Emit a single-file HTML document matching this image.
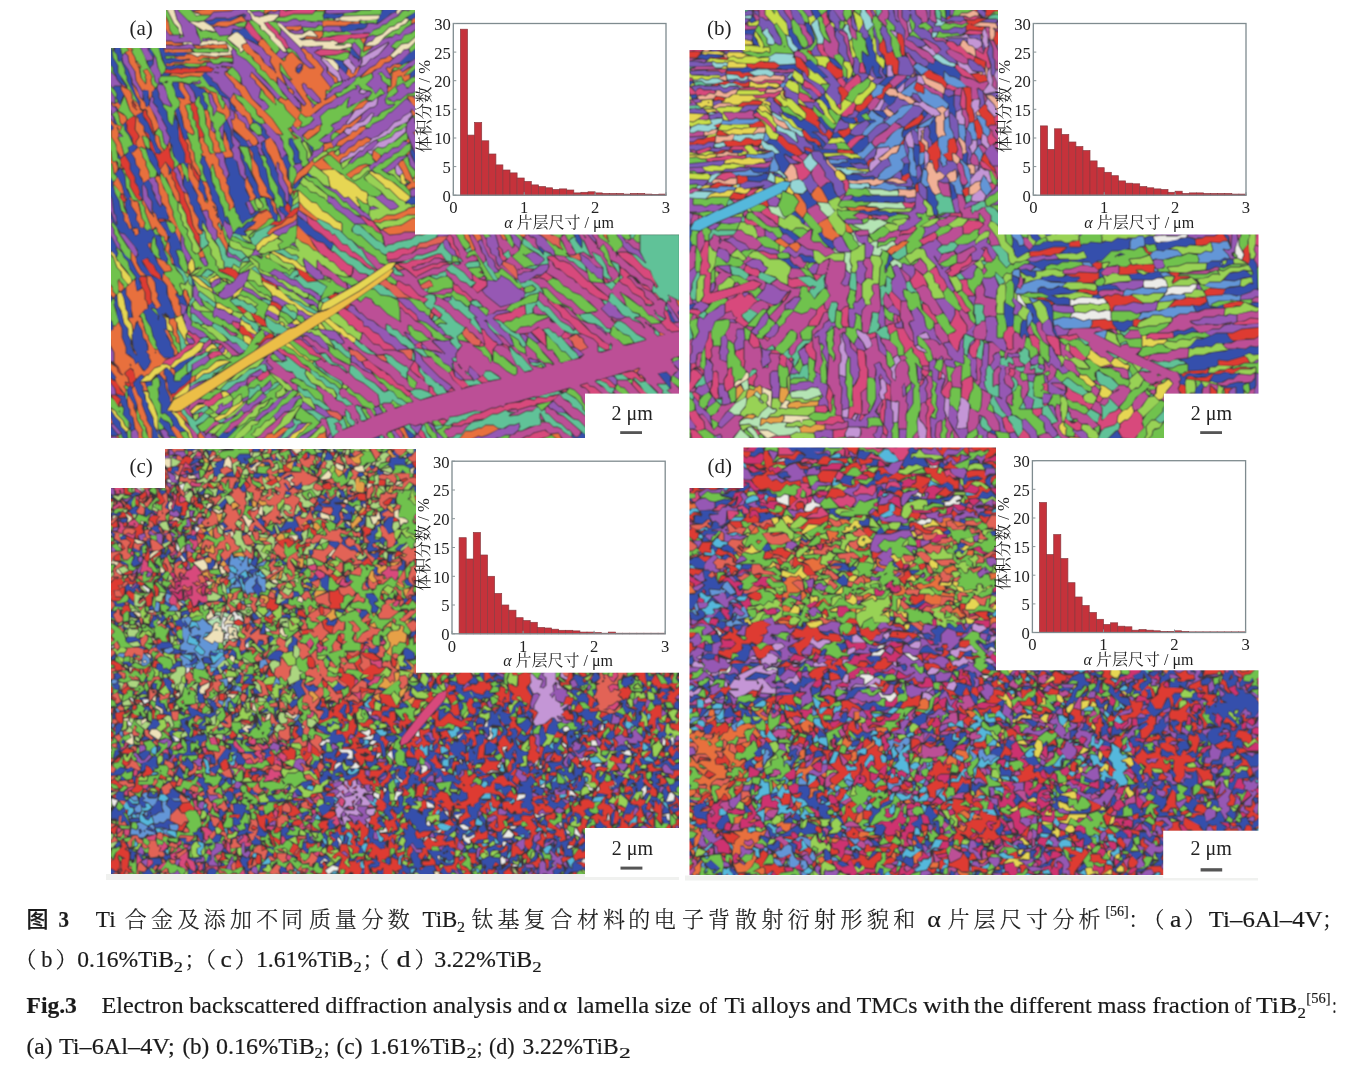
<!DOCTYPE html>
<html><head><meta charset="utf-8"><title>Fig.3</title><style>
html,body{margin:0;padding:0;background:#fff;}
body{width:1355px;height:1067px;position:relative;overflow:hidden;}
#fig{position:absolute;left:0;top:0;}
.ln{position:absolute;white-space:nowrap;font-family:"Liberation Serif","Noto Serif CJK SC",serif;font-size:21px;color:#1a1a1a;line-height:1;}
.s{position:absolute;white-space:nowrap;}
.cj{font-family:"Liberation Serif","Noto Serif CJK SC",serif;}
.hei{font-family:"Liberation Sans","Noto Sans CJK SC",sans-serif;}
sub{font-size:14px;vertical-align:-4px;line-height:0;}
sup{font-size:14px;vertical-align:8px;line-height:0;}
</style></head>
<body>
<svg id="fig" width="1355" height="1067" viewBox="0 0 1355 1067">
<rect x="106" y="874" width="573" height="6" fill="#f0f1ef"/><rect x="685" y="875.5" width="573" height="5" fill="#f0f1ef"/><g><clipPath id="cpa"><rect x="111" y="10" width="568.0" height="428.0"/></clipPath><filter id="bla" x="0" y="0" width="1" height="1"><feConvolveMatrix order="3" kernelMatrix="1 2 1 2 4 2 1 2 1" edgeMode="duplicate"/></filter><g clip-path="url(#cpa)" filter="url(#bla)"><rect x="107" y="6" width="576.0" height="436.0" fill="#3a3438"/><g transform="translate(108.5,7.5)"><path fill="#e8703c" d="M9 428l-1 2 3 3zM0 427l0 6 2 0-2-3 3-1zM443 427l8 6 2-1 4 1-4-1-3-6zM92 425l-2 2 0 3 3 3 5 0zM217 424l-2 2-4 1-3 4-5 2 9 0 2-2 1 2 4 0-2-4zM291 421l5 7 1 5 2-1 7 1 0-3-3 2-3-1-5-11zM180 421l-5-1-10 8-1-2-5 1-3 4-7 2 16 0zM64 419l-1 2 7 11 6 1-6-10-4-4zM391 421l-2 0-4-3-8 0-4 3-3 0-7 3-6 0-7 9 10 0 10-5 3 1 6-2zM0 409l0 6 4 1-2-6zM68 405l12 11-3-6-4-4 0-2zM12 395l-1 4 2-1zM20 388l-1 3 1 8 2 3 0 5 3 3 2 11 3 4 0 6 1 2 5 0-3-4 0-5 1-1-6-11 0-5-3-6 0-4zM0 383l0 4 2 1zM26 379l-2 2 0 2 5 14 1 8 2 3 0 3 3 3 0 2 3 4 2 10 2 3 2 0-1-2 0-10-5-8 0-3-5-13 0-5-4-5zM32 375l3 4 0 4 4 0-3-8zM87 368l-4 2-1 6 4-3zM55 362l-4 4 6 7 1 8 4 9 0 4 1 0 1-3-5-9 0-5-2-4 0-4-2-2zM62 360l0 3 4 5 0 3 0-8zM572 349l1 2 0-2zM26 343l0 2 2 2zM551 325l1 3 4-1zM56 322l7 13 0 3 3 5 0 5 3-2-1-4-4-6 0-3-5-10zM61 312l0 4 3 3 1 3 0 5 3 3 0 4 3 2-1-7-2-4 0-10-2-2 0-2zM568 292l2 6 3 2-2-6zM572 283l1 4 0-4zM76 282l-1 5 4 8 0 3 2-4 0-3-2-3-1-5zM0 275l0 10 5 5 2-3-3-3 0-3zM26 272l-8 8 0 7 5 7 0 7 2 9-5 1 4 6 1 6 2-8 2-2 1 1 0 2 4 7 1 7 3 3 2 5 0 5-2 1 3 3 0 3 2 4-3 6-4 4-2-1-4-6 0-2-3 2-2-5-8-6 0-6-4-10 0-9-3-6-3 4-2 0 0 3-5 3 0 5 2 2 0 5 4 8 0 10 4 4 3 7-1 1-3-3-1-4-5-3-2-3-1 0 0 5 8 11-1 1 1 4 8 11 1-1 0-3-2-3 2-2-1-2 1-1 3 1-1-5-3-3 0-2 6-5 3 2 2 9 1 0 4-4 2 0 2 2 2-2 2 0 6-7 6-2 5-6 3-1-4 0-5-5-2-4-2 1-7-10-1-5-2-2-2-6 0-3-2-3 0-3-3-2 6-7 3-1-1-7-2-2 0-7-2-4-5 3-1-1zM12 367l1-1 2 1-1 1zM21 357l1-1 1 2-1 1zM46 345l1-1 1 1-1 1zM11 272l-1 1 0 9 2 2 3-3 0-2-4-5zM55 266l-1 6 5 6 1 11 3 5 2 8 3 6 2 1 3-2-1-1 0-7-2-2 0-5-3-4 0-2 1-1 1 1-9-15zM80 262l-1 3 2 2zM46 248l2 2 2 6 6 8 7-1-2-5-3-1-2-3-7-3zM23 244l0 8 6 12 3 4 5 0 2 2 0 5 4 10 0 7 4 6 0 2 2 1 3-3-4-7 1-4-2-3-1-9-4-6-4 0-6-6-4-7-1-6zM94 243l-4 3 2 4 4-1zM572 236l0 10 1 1 0-10zM40 236l0 2 4 7-2-3 0-5 1-1zM570 225l3 3 0-3zM521 226l4-1-4 0zM495 225l1 4 4 5-2-4 0-4zM410 225l2 3 4 1 1-1-1-3zM391 225l4 7 3 0-4-7zM364 225l5 9 2-2 2 0-1-4-3-3zM354 225l2 2 1 4 4 4 2 7 2 1 1-2-7-16zM189 218l-1 12 5 4 7 3 5 5 5 2-5-6-4-8zM320 225l-11 0-1-1 0-13-4 0-11 7-9 1-10 3 7 5 11-1 4-2 11 0 4 1 2 2zM189 205l-5 5-5 1-6 6-10 4-4 5 2 1 5-4 19-9 3-3 0-5zM14 204l2 4 0 5 3 3 2 5 2 0 3 3 1 4 3-2-1-5-5 1-1-1-4-14zM162 206l-3-3-6 3-3 0-6 7 4 1-2 3-10 7 5-2 7 0 9-7 3-4 4-1zM308 198l-2 2-6 1-2 2-12 5-8 0-6 4-3 1-1-1-3 1 0 1 7 1 3-2 17-2 7-4 8 0 1-1zM191 195l0 6-1 1 17 11 3-1-14-11zM15 195l2 7-1-7zM34 193l0 3 3 4 0 4 7 18 3-3 2 2 0 3 4 4 3 1 0 3 3 3-2 7 5 7 1 6 2 2-1-5-4-8 1-4-1-5-2-1 1-5-2-5-8-11-2-6-3-3 0-2 1 4-1 2-3-3-6-12zM44 208l1-1 1 2-1 1zM22 190l-1 1 2 2 0 5 6 9-1 5 3 4 1 4 3 0 1-5-3-4-4-17-4 0zM16 188l0 2 2 2zM76 185l1 7 5 11 3 15 4 7 3 2 2-2-4-4-1-3 1-6-5-8-1-5-3-3 0-4-2-5zM139 170l-2 3 0 6 5 11-1 2 1 1 3-1 2-3-3-4 0-3-5-9zM9 170l-4 6 8 10 2 0-2-8zM48 169l-1 2 3 5 1 10 2 3 0 5 5 6 0 3 3 7-1 3-4-1 5 2 1-1 6 7-1 4 5 11 0-9-8-18 0-4-4-9-1-8-4-6-4-12zM60 213l1-1 1 1-1 1zM12 158l0 2 3 1zM262 158l-5-1-7 2-12 8 3 3 2 0 3-3 5-2 4-5 4-2zM69 159l3 5 2 9 1-6-3-10zM80 156l0 13 10 19-1 5 3 4 2 6 4-1 2 1 1 7 3 4 1 5 4 4 0 6 2 1 7 12 0 5 1-10-3-6-2-9-1 2-4-6 0-2 2-2 2 5 0-3-4-8-2-10-4-5 0-4-2-3 0-4-3-7-4-1 3 6 0 4 3 9-1 3-3-2-2-7-5-6 1-1 0-5-5-7-1-5-2-2-1-5zM111 226l1-1 1 1-1 1zM108 209l1-1 1 2-1 1zM108 205l1 1-1 3-1-1zM106 203l1-1 1 1-1 1zM105 200l1-1 1 2-1 1zM104 199l1-1 1 1-1 1zM57 155l-5 7 1 3 2 2 0 2 3 1 10 23 3 1-1-8-4-7 0-4-3-4 0-4-1-1-1 2-1-1 0-5zM292 154l-2 3 4 6 3 8 6 4-5 4 2 3 4-2 4 0 0-13-2 2 2 5-3 1-10-22zM302 143l-4 4 2 0zM265 143l-1 7 4 4 4-5-1-2zM0 141l1 3-1 11 4 1 2 10 2-2 1-4-2-6-2 1-2-2-1-9zM140 140l3 8 1 17 6 13 0 5 2 5 9 2 2 2 0 4 2 3 1 5 3 3-2-5 0-5-4-5 0-2-5-5 0-4-7-12-2-10-5-8 0-5zM223 135l-8 2 1 2-1 5 6-4 4 0zM61 135l-1 1 1 6 1-2zM78 132l-1 1 3 4 0 6 2 2 0 5 2 4 0 3 7 11 1-1-2-7-4-6-1-9-3-4 0-4-2-5zM300 131l-2 3 3 1zM262 132l-4-2-5 3-3 0-4 5-6 3-4 5-3 0-4 3-4-3 1-2-3 0-17 12-2-2 0-2-3 4-12 10-4 11 8-8 5-3 7-9 7 5 10 0 2-1-10-9 5-5 3 0 10 9-1-3 3-3 5-2 3-4 4 0 5-5 4-1 3-3 3-1zM162 130l-5 3 0 5 2 6 3 4 6 13 0-6 1-1 2 2 0 5 4 6 0 4 5 9 0 3 2 4 2-4-2-3 0-5-3-3-1-3 0-6-4-10-2-2-4-12zM47 127l0 6 3 7 3 3 0 2 2-2-3-4-2-10zM183 126l3 5 4 0-3-1zM305 125l2 2 1 6 0-9zM116 124l-1 11 3 9-4 1 3 5 7-1 0-3-3-4-1-7-2-3zM180 121l2 3 2 0-2-3zM256 119l-5 1-3 4-4 0-3 4-11 6-2 4 5 0 6-5 5-1 13-11zM213 117l-5 2-3 3-5 1-5 5 4 4 12-9 0-3zM0 110l1 5 4 4 0 3-2 1 0 6 5 8 0 5 5 8 2-3-3-11-3-5 1-4-1-5 1-1 1 3 2-5-7-2zM8 120l1-1 1 2-1 1zM253 108l-12 9-6 1-3 4-5 2 5 2 6-6 6-1 8-8zM126 105l1 5-2 3-2-1 2 9 13 12 3-1 1 3 3 3 3-1 1-3-2-4-10-10-1-4-7-5-1-4zM67 104l-1 2 4 9-3-7zM9 104l2 4 1 7 2 2 4-4-1-4zM96 103l2 8 0 6 3 5 0 6 4 8 0 7 2 2-5 2-2-3-1-5-4-5 0-4-3 0-1 4 2 3 0 4 2 4-2 2 4 2 0 3 5 10 1-5 1-1 1 1 3 12 3 3 2 10 3 3 2 8 3 4 0 6 4-4 0-3-5-10 0-7-3-4 1-1-1-4-3-4 0-3-4-5 0-6-4-5 1-2 5 0 0-2-2-4 0-4-3-3 0-5-5-5 0-9-3-10zM303 102l1 5 1 1 2-1 0-2zM3 95l2 4 1-1 2 1 2 3 2-4-3-3-3 2zM261 94l-4-1-6 3-5 5-2 4 3-3 7-2 5-6zM258 91l2-1-2 0zM299 89l5 8 4 3-1-8-3-3zM125 87l-3 5 1 3 4 4 1 3 6 6 2 0 2 2 3 7 1 0 2-3-3-8-4-3-1-3-9-9 0-2zM181 81l-1 1 1 2 4 3-1-4zM91 80l5 1 3 4 3 0 2 2 2 7 3 5-1 4 7 3 2 2 0 4 1 0 3-4 0-4-4-8-1 5-2 1-4-7-2-9-7-2-5-4zM24 76l4 12 4 6 0 6-1 1-2-5-6-5 0-4-2-4-8-4 0 3 5 9 4 12 6 7-1 12 4 6 0 2-3 4 0 3 2 3-5 5-2 0 4 6 1 6 4 5-1 5 3 4 1 4 6-4-1-7-3-6 0-4-3-4-1-5-3-5 3-1 4 2-4-12 1-1 4 1-3-5 0-5-5-5 0-2-3-4 7-4-3-2 1-2 2 2 3-1 2 2 0 4 4 6 3 11 4-4 0-2-8-18-2-2-1 2-2-1-1-4-5-5-1-4zM27 102l1-1 1 1-1 1zM24 92l4 6-1 4-3-3-1-4zM70 75l1 1 0 5 6 9-1 2-7-2 3 4-1 7 3 8 2 11 4 5 5 2 0-3-3-5-1-6-2-2 0-5-3-8 4-2 3 0-2-3 0-4-6-10 0-3zM143 65l-1 4 5 4 1 3 7 7 2 4 10 10-2-8zM96 65l-21 1-1 1-10-1-3 2 7 0 5 2 9-2 10 1zM117 64l0 3 9 10 1 3 4 3 3 6 14 13 1 5 5 3 3 5 11 11 6 1-11-16-20-20-7-12-4-2-8-8-3-1zM219 60l0 5 6 6 1 4 2 0 1-1-1-4-4-2-5-5zM251 59l-2 1-4 7-3-2 0-2-2-2-2 6 4 3-3 2 9-5zM113 59l3 0 4 2 3-1zM304 59l-10 6-3-3-7 3-1-1 0-2 3-3 4 1 3-2-2-1-5 0-5 4-1-1-2 1 3 5 2-2 1 1-1 14-1 1-3-1 1 1-1 5 8-7 2-9 4-1 3 6 5-3 0-4-3 1-2-1zM295 68l1-1 1 1-1 1zM284 51l-3-3-4 3-5 1-5 6-6 3-9 9 11-5 3-3 6-2 4-5 5-1zM58 58l5 0 3-2 10 0 1-1 4 1 12 0 3-2 6 0 1 1-2-2-8 0-1-1 3-2 6 0 1 1 6 0 4-2 12 1-1-2-14 1-1 1-15-2-4 2-6-3-5 0-2 2-6 0-1 1-3-1 2 2 4 1 9-1 1 1-1 1-4 0-2 2-10 0-4 2-3-1zM89 53l1-1 3 1-1 1zM84 44l-3-3-1 1-15 0-1 1-1-1-7 0 1 3 3-1 4 1zM255 44l9-5-8 0zM18 39l3 4-4 2 3 3 1 7 6 9 1 9 6 10 1-1 5 1 1 9 2-4 0-4 2-1 1-3-3-3-1-4 1-4-4-7-4 1 3 5-1 2 1 1 0 5-1 1-5-7-2-10 1-1 1 2 0-2-3-5-1 2-1-1-1-5-3-5 1-3-4-3zM29 59l1-1 1 1-1 1zM28 56l1-1 1 2-1 1zM22 43l1-1 1 1-1 1zM85 38l4 3 5-1 25 1-1-4-7 0-1 1-3-1-6 1-1-1-7 2zM56 34l0 3 8 0 1 1 9-1 0-1-8 0-3-2zM134 37l0 3 3 4 8 6 1 3 6 5 1 4 4 2 5 7 3 1 3 3 0-5 1-1 8 8-6-14 0-7 1-1 8 13 4 4-1 1-2-1 17 24-1 2-2 1-4-5 2 3 0 7-1 1-12-13-3 1-5-3-2 3 6 4 2 5 10 10-3 4 0 2 2 2 4-1 2-4-4-4 3-6 5 4 4 0 15-12 7-3 5-4-2-3-9 6-2-1 2-2 0-7 1-1 2 1 2-3-10-13 3-5-7-9-4-3-1-3-4-2-2-3-3-1-1 1 4 5 1 4 9 9-1 1-5 0-11-9-6-7-3 1-3 3-1 4-2 1-13-12 0-2-7-8-3 0-2 5 5 4 3 5 5 3-1 5 5 8-1 2-11-9-4-7-5-3-7-9zM195 75l3 2 1 3 4 1 9 10 1 4-5 2-4 4-2-6-5-7 1-1-4-6-1-4zM166 64l1-1 1 2-1 1zM194 56l1 1-1 5-3 4-2 0-2-2 0-4 4-4zM258 30l-1 1-5 0 3 5zM214 24l-9 0 5 5-1 1-11-1-3 3 1-1 15 0 3-3zM193 21l-1-3-1 1-12 0-2 1 2 2 6 0 1 1 3 0zM214 17l1 2 3-1 19 0 4-2 9 0 1-2-8 1-1-1-9 0-1-1-2 1-11-1-5 1zM308 10l-4 2-1 4 5-2zM137 13l-4-4-11 5-9 0-4 1-4 3-3 0 2 1 4-1 10 1 13-5 6 0zM56 7l0 13 5 7 3 0-3-4-1-7zM218 1l-4-1-5 1-1 2 7 0zM156 6l6-3 4 1 5-2-1-2-10 0-4 2zM85 4l5 1 3 2 9 0 3-3 18-1 3-2 5 0 1-1-26 0z"/><path fill="#3450ac" d="M272 433l-2-4-6 3 1 1zM478 432l0-3-4-4-5 5-2 0-3-3 0 3 4 3zM296 420l5 11 5-2-3-4-3-1zM128 421l-2-1-7 6-5-1-5 5 2 0 4 3 8 0-5 0-1-1zM0 416l0 10 3 2 5 0 1-1zM52 410l-1 4 9 11 0 3 4 0 4 2-6-9-1-5-6-3zM1 401l-1 1 0 6 3 2 1 5 9 10 1 4 3 4 2 0-1-8-6-6-1-5-5-5zM16 425l1-1 1 1-1 1zM8 387l5 5-1 2 4 7-1 6 8 10-1 6 4-1-2-12-3-3 0-5-2-3-2-10zM22 378l-3 4 0 3 7 12 1 6 1-6zM37 375l1 4 5-1 0-4zM32 368l-7 8 5 11 4 5 0 5 5 13 0 3 5 8 0 10 1 2 6 0 0-2-2-2 1-4 5 7-5-10-1 4-4-8 0-5-6-13 0-4-3-5 0-4-2-3 0-5-3-4 4-5-1-2zM50 367l-1 2 3 5 0 4-2 3 1 4-1 7 3 5 0 9 3-1 3 2 5 6 1 5 6 6 6-1-6-5-3-7-6-7-4-1 4-7-1-6-4-9-1-8zM550 366l12 15 0-6-1-1 1-5-4-4zM56 362l0 5 2 2 2 13 2 2 0 2 5-1 4-5 5-3 6-6 1-8-3 4-4 1-3 3-1 3-6 0-1-1 0-5-6-7zM0 360l0 6 2 4 5 3-1-1 1-2zM86 348l-15 8-6 5 2 2 0 2 7-5 4-5 4-2zM560 303l-1 1 4 10 4 1zM573 302l-3 2 0 2 3 4zM78 302l-4 7 4-4zM8 288l-2 2 1 2-1 5 2 5 1 8 5 11 0 9 4 10 0 6 3 1 5 5 1 4 3-2 1 3 5 6 3-3 3-6-2-4 0-3-3-3 2-1-1-8-4-5-1-7-4-7 0-2-5 13 1 13 3 5-1 2-2-2-3-7 0-5-3-6 0-6-4-5-2-10-4-8zM27 347l1-1 1 1-1 1zM68 286l0 2 3 4 0 3 8 4-5-12-1 2-2 0zM0 286l0 38 4-2 0-6-3-4 0-7-1-1 0-7 4-6zM17 281l-4 4 3 6 2 11 2 3 0 5 4 0-1-1-1-15-5-7zM83 270l2 9 1-3zM12 243l4 7 4 4 1 6 7 10-1 6 2 7 4-3-3-9 2-2-4-5-5-10zM429 239l6 7 0-3-3-3zM0 227l0 10 3 6 5 6 1-3-2-5 1-2-5-9zM464 225l3 3 1 5 5 7 0-7-4-8zM147 214l-8 1-4 5-6 1-3 4 4 2 8 1-3-4 7-6 2 0zM52 215l1 3 4 4 2 6 3 1-3 5 2 1 1 5-1 4 4 8 0 3 3 4 6 4-4-7 0-5-3-7 1-2 4 0 2 2-4-13-3-6-2 1-3-1-5-11zM189 208l0 9 8 9 5 2 6 5 7 2 7 7 3-6-3-1-9-8-7-4-10-10-3-1zM157 190l5 15 3 6 3 3 1-6-4-4-1-5-2-3 0-4zM308 189l-6 1-5 6 3-1 3 2 2-1 3 1zM180 184l1 5-1 6 3 5 1-8-1-3-3-3zM92 171l-2 10 5 6 2 7 1-5-2-5 0-4zM195 169l-10 9 0 3 2 0 3-3 0-2zM76 168l-1 10 5 8 2 10 3 3 1 5 5 8-1 4 1 5 4 2-2-3 0-4 2-1 3 5-1-8-5-10 0-3-4-6 1-5-5-8 0-3-3-5 0 2-2 1zM93 214l1-1 1 1-1 1zM198 167l3 2 3 0-4-3zM0 162l0 23 4 6 2 15 2 2 0 5 1 1 0 3-1 1-8-16 0 5 12 18 4 1 13 16 1 6-2 2 0 3 5 10 5 5 4 0 5 7 1 9 2 3-1 4 4 7-5 4-4-7-4 3 0 3-4 2-1 2 2 2 1 5 5 8 2 9 3 5 0 4 4 8 4 4 7 0 2-1 0-6-3-5 0-3-4-6 0-3-2-2 2-2-1-10-3-3 1-2 2 2-2-2 2-2 4 4 0 2 5-1 0-4-8-20 0-8-5-5-9-4-10-13-1-3 6-3 2 2 0 2 5 4 2 5 4 4 1 4 2-7-6-8-3-7 1-1-5-4 1-2-1 1-3-5 1-3 3 0 1-5 2-2 2 4 0 5 3 6 0 5 2 4 6 3-1-1 1-2-1-4-3-5 0-5-2-3-1-6-6-2-2-4 3-3-3 3-3-1-2 2-3-3-5-1-1-4-3-4 1-5-6-9 0-5-2-2 2-2-5-9-1-12-4-7-5 5 7 12 2 9 3 5-2 3 0 3 4 15 3 6-1 3-3-1-2-5-3-3 0-5-3-5-2-10-4-7 0-3-2-4 0-6-3-4 0-6zM55 322l1-1 1 1-1 1zM50 307l1 1-1 5-1-1zM53 307l1-1 1 1-1 1zM42 301l1-1 4 1 3 6-1 1zM45 248l1-1 1 1-1 1zM25 220l4 0 2 3 0 3-4 3-4-7zM58 156l3 6 0 5 2-5zM117 151l0 4 4 11 0 2-3 4 1 1-1 2 3 4 0 7 4 7 3 12 3 3 0 3 3 5 4-4 4-1 9-7-3 0-5 4-2-2 0-2-4-7 0-2 3-1 1-4-4-7-1-10-5-6-3-13-4-4zM94 149l-2 6 3 4 0 6 7 17 2 11 3 3 2 5 1 7-1 1-1-1 0-2 1 4 1-2 4 10 2-6 5 5-2-7-1-1-1 2-1-1-2-10-3-5-1-6-7-15-2-13-5-9 0-3zM177 148l-3 2 0 2 5 11 1 9 0-11 2-3-3-6 0-4zM10 147l0 4 2 0 0-2zM132 144l1 7 4 9 0 7 3 3 0 3 4 6 1 6 3 4-1 2 5-1-3-7 0-5-6-10-5-12-3-3 0-4zM38 141l2 9 11 18 1-5-3-5 0-4-5-10zM303 137l0 6-1 1 6 14 0-9-5-9zM198 135l3 3 3 7 0-5zM24 135l1 2-5 3 1 4-4 4 5 8 0 6 5 8 0 5 2 2 3 8-1 2 3 5-1-13 2-3 4 6 1 7 4 5 0 7 1 3 3 3 1 4 7 0 4 1 2 2-2-2-3-12-3-3-2 3-3-4-6-14 0-4-2-4-2-1-4 3-5-9 1-5-4-5-1-6-4-6 3-1 4-5-4-2zM153 135l1 1-1 5 6 11-1 2 4 7 1 7 7 12 0 6 4 5 2 8-1 1-4-1 1 5 5 4 0 2 3-4-4-4 0-3 2-2-2-5 0-6-6-10-1-10-2-3-1-5-8-14-2-10zM181 131l0 6 4 6 1 4-1 1 1 7 1 1 6-1-3-4 0-7-2-2-4-10zM125 124l0 4 6 6 1 4 8 1 5 7 0 5 5 8 2 10 7 12 0 4 7 7-1-5-4-6-4-20-3-3 0-4-4-8-1-6-2-2-6 2-4-7zM17 115l-2 2 2 6 4 5 2 5 0-3-5-7zM0 114l0 9 4-1 0-3zM118 113l-2 2-1 6 3 5 4 16 3-4-2-3-1-13zM144 111l1 4 3 0 6 7-1 5 5 5 3-2-4-4 0-3-4-5zM6 111l0 5 2 0zM28 108l2 2 1 4 5 5 0 4 5 4 0 3 3 5 3 10 4 1 1-3-3-3-3-7 0-4-3-4-4-10-3-3-2-4 0-3zM2 103l-2 1 0 3 2 0zM7 100l2 3 0-2zM35 83l-1 1 2 8-1 1 2 2 1 4 1 0 2-5-2-4 1-5-1-2zM48 81l-4 3 0 4 2 3-1 4 4 4 1 5 9 17-1 2 4 7-1 4 3 4 0 5 3 8 4 5 4-1 4 6 0-5-3-1 0-9-6-14 0-9-1-1 0-8 1-1 6 19 3-1-1-8-3-3-4-18-2-2-2 3 3 10-1 1-2-2-1-5 0 5-2 7-5-6-1-9-4-5 0-3-4-6 0-4zM6 79l-1 1 4 7-1 3 2 3 0 3 2 1 0-3 3-7-3-5 0-3zM78 76l3 2 5 7 2 6 2-3 2 1 0 6 3 4 0 2 3 1 1-4-4-5 0-4-2-3 4-2-1-2-5-1-7-5-3 1zM64 75l4 14 8 2-2-5-4-5 0-5-1-1zM51 75l0 2 3-1zM53 68l7 0 1-2-6 0zM95 66l-1 3 6 8 5 2 5 5 1 3 7 3 4 6 0 5 2 2 4 0-6-8-1-4-9-8-4-7-4-2-1-3-6-6zM308 61l-6 5 0 5 6-5zM194 58l-3 3-3 1 1 3 2 0zM225 52l12 14 2-5-4-4-1-3zM308 41l-10 7-8 8 4 1 5-3 5-1 4-3zM243 40l-1 5 1 2 8 5 0-2zM40 40l1 5 4 5-1 3-5 1 2 6 3-3 1-9-2-5zM50 39l8 22 4 1 7-2 3 1 2-1 5 0 1 1 9-1-8 0-8-2-15 1-1-1 1-3 3 1 4-2 10 0 2-2 4 0-5 0-1 1-9-2-8 1-2-2 1-2 11 0 1 1 1-1 6 0 3-2-3-1-8 0-1 1-7-1-3 1-2-4 0-3zM6 39l1 1-1 4 3 3 1 6 1 1 1-2 5 10 0 4 2 3 0 4 13 28-1-1 0-6-4-6-2-8-2-3-1-8-3-7-5-7-1-4 1-3-2-3 0-4-1-2zM0 39l0 12 2 3 0 3 3 3 0 4 3 4 1 4 6 6 3 1-5-7-1-4-3-3 0-7-5-8-1-8zM191 31l2 1 2-1zM124 22l0 4 5-2 8 7 8 3 4 3 0-2-12-14-3 0-3 2zM259 16l-3 1-1-1-14 1-4 2-5 0 0 2 2 3 11-1 4-2 6 0 2-1zM137 7l-6 2-5 0-7 3-2-1-10 0-3 2-8 1 5 3 4 0 4-3 13-1 11-5 4 1zM215 11l4-1 8 1 6-2 2-3-5 1-14-1zM308 4l-9 6 2 2 4-1 3-2zM290 0l-13 0-3 3-6 13 10-6 4-4 4-1z"/><path fill="#70c24e" d="M176 432l-3 1 3 0zM109 432l0 1 5 0-3-2zM61 429l4 4 6 0-4-3zM450 433l-7-5-10 4-10 1zM401 428l-4 0-12 5 14 0zM295 428l-1 5 2 0zM10 428l2 5 4 0-3-4 0-2zM280 425l-1 3 3 4 5 1-4-8zM72 425l5 8 7 0-4-3-2-6zM343 417l-3 2-4-1-3 3-5 2 7 7 1 3 8 0-5-1-1-1 1-2-4-5 2-3 5-1zM316 416l3 9 4 4 0 2 2 2 4 0-2-7-3-2-5-8zM433 413l0 1 3 0zM324 414l3 4 5 0 1-1-4-4zM104 410l-4 0-5 5-6 4 4 5 4-1 9-9 0-2zM235 409l4 11 3-2-3-3-2-6zM133 403l-4 5-14 9-8 10 3 2 10-10 2-4 8-4 5-5zM253 401l6 10 3-1-4-5 0-3zM105 404l-4-3-5 4 4 2 5-2zM28 401l1 11 6 11-1 1 0 5 3 4 4 0-4-9 0-4-2-2-1-4-3-3 0-3zM192 400l-4 6-1 5 4 1 3 3 9 0 1 1-5 3-5 6-3 1-5 7 2 0 4-5 13-7 6-6-7-7-3-1zM122 400l-5 2-6 5 6-1zM273 397l-2 1 4 7 2-1 0-2-3-2zM443 394l-16 4 2 0 4 5zM283 394l0 2 2 1 1 3 7-2-4-1-4-4zM193 391l-3 1-5 8-5 4 6-2 2-3 5-2 1-3zM69 390l-4 1 0 1zM0 388l0 10 1 2 2 0 5 4 1 3 6 6 2 5 4 4-2 2 1 9 5 0-3-3 0-6-2-3 0-7-6-7 1-6-2-2-3 1-4-7zM10 404l1-1 1 1-1 1zM504 386l0 1 3 0zM189 385l-3-2-3 1-6 7-3 1-7 9-14 10-4 6-5 1-1 4-8 7 0 4 9 0 3-3-5-3 3-2 2-4 5-2 5-6 4-1 8-8 4-6 6-3zM181 383l-3 1-3 4zM154 385l-2-2-3 1-7 8-3 1 0 4 7-4zM114 383l-7-1-3 3-4 0-8 6 9 1 4-4zM461 381l-3 4 9 5 8 9 0 3 3 3 0-6-4-4-2-6-6-6zM240 380l-2 3 3 3 6 3 7 9 8 3 4 7 1-3-3-4 2-1-1-3-2-2-3 0-9-8-5-1zM17 378l-1 1 2 3-1 4 1 6 1-2-1-8 2-2zM507 381l3 3 5 3 6 0-5-6-4-1-3-3zM174 379l-3-2-4 4-6 3-4 4 2 1-6 5 0 2 8-5 1 1-3 5-3 3-5 2 0 3-4 5-6 1-4 5-6 3-13 13 8 1-2-1 11-13 8-7 3 0 8-9 5-2 5-6 2 0 5-5-2 1-2-1 0-5 5-3zM161 391l1-1 3 1-1 1zM519 373l4 3 1-4zM182 373l9 5 2 3 6 1 8 9 4 1 6 5-3-4 0-5-5-5-11-5-3-4-2 0-4-3-3 0zM101 371l-3 1 0 1zM48 370l-4 3 0 5-5 1 0 2 2 4 0 5 2 2 6 14 1 15 1 1 4-1-1-3-4-4 2-5 3 3 5 2 2 2 1 4 1-4-3-6-5-4-2 1-2-1 0-9-3-5 1-3-1-8 2-3-1-7zM564 368l-1 6 10 7 0-7zM299 367l1 9 2 3 4 2 2-6zM169 374l-7-7-9 7-2 0-3-3-6 4-3 5-1-2-5 1-5 5-2 0-4 3 2 2 0 2 2 0 4-4 3-1 1 5 6-3 0-5-1-1 1-2 6 0 3-3 2 0 1 3 2 0 8-8 2 6 2-3zM107 366l-2 0-1 3zM264 365l6 8 5 3 5 6 5 2 4 6 4 1 5 4 6-1-3-4-3-1-6-6-5-2-3-3-2 0-7-6-4-1zM434 360l-1-3-5 2zM78 356l-4 5-7 5-1 7 6 0 0-2 7-6-1-1zM572 351l-4-1-3 1-1 2 1 1zM162 349l3 4 5 0 1 1 4-1-2 1-7-7-2 0zM385 344l0 10 5 2 8 7 7 4 2 0 1-1 0-6-4-2-10-9-2 0-5-5zM315 342l4 6 4 1 3 5 14 11 3-2-2-4-6-3-3-5-5-3-2-3zM109 341l-1 1-5 0-3 5 3-3 7-1zM365 338l8 5 2 4 5 3 2 5 1-1-1-7-6-8-5 1zM172 340l0 1 4 1 3 3 7 2 8 9 5 2 5 5 5 2 2 3 4 1 7 6 4 1 5 5 2-1 0-2-3-3-14-8-8-6-5-6-5-2-3-3-4-1-6-6-9-5zM218 336l3 4 0 4 5 5 15 8 1-1-1-5-3-1-9-8-3 0zM181 335l11 11 5 2 4 4 6 1 5-2-11-4-3-4-14-10zM420 330l-2 7 10 9 1 4 7 5 5 0 4 2-11-12-5-8zM401 327l3 5 2 7 4 4 7 3-1-6-2 0-3-3-1-4zM437 326l1 1 1 15 5 0 7 10 0 2 2 1 10-3-6-7-4-1-5-7zM349 329l1 3 10 2-3-2-4-6zM60 324l2 2 3 7 0 3 3 4 1 4 2 1 1-1-1-7-4-3 0-4-3-3 0-2zM504 319l-2 8 5 4 3 1 5 5 10-2-4-6-6-2-3-3-3-1-3-4zM166 326l-3-1-4-5-8-1 3 3-6 5-13 19-5 3-6 0-3 3-3-1-3-3-3 0-10 4-6 6-3 0-9 6-1 5 5-2 6-5 5-1 9-8 3-1 6 0 7 3-4 1-5 5-3 1-3 4 37-23 4-4 0-1-4-1 2-2 3 0 5-6-1-3 1-3 7 3zM154 323l1-1 1 1-1 1zM300 318l0 5 2 2 0 2 5 5 4 2 11-2-3-1-6-6-7-2-3-4zM210 319l-2-1-4 4 6-1zM309 314l5 2 9 9 2 5 9 3 8-1-5-1-6-6-3-1-10-8-5-2zM326 314l2 3 4-2 6 1-7-5zM189 308l-1 3 5 4 3-2-2-4zM440 309l-2-1-9 0-5-2-9 2-5 3-2-1-5 4-5 0-3 2 8 7 4 1 5-5 9-1 1 1 6-5zM34 305l-2 3 2 3 4 15 2 2 1 5 4 7 3 2 1-1-2-3 0-4-3-5-2-9-5-8-1-5zM172 304l-1 4 4 2 5 6 5-3-6-6zM43 301l7 7 0 4 0-4-3-6zM370 300l8 8 2-5-4-3zM201 299l8 5 0-2-3-4zM80 298l-1 9 5 8-1 3 12 6 8 8 6 0-5-5-4-2-2-3-5-2-3-4-3 0-5-4 0-6-1-1 1-5zM572 295l1 2 0-2zM93 292l4 7 7 5-1 1-11-1 3 4 8 6 11 5 2 2-1-1 2-1 6 5 5 1 2 2-2 2 7 4-1-5-11-11-3 0-4-4-2 0-6-4-2 2-2-2 0-5 2-3-4-4zM114 319l1-1 1 1-1 1zM113 318l1-1 1 1-1 1zM296 291l5 1 10 11 5 1 2 3 3 1 1-6-3-1-6-7-10-3zM5 291l-4 6 0 7 1 1 0 7 2 2 1 4 2 0 3-4-5-17 1-2zM201 287l-1 4 4 1 6 5 0-3zM430 286l-9 2-8 5-10 4-5 5 5 2 3-3 2 0 4-3 16-4zM105 286l3 9 3 0 6 4 4 1 5 4 4 0 4 2-13-13 3-4-7 3-3 0zM512 285l4 6 2 7 6 6 7 2 2 3 3 1 7 6 9-1-8-6-4-1-7-9-2 0zM327 287l0 1 6 3 5-2 4 0 1-2 4 5 5 1 7 6 3-3-6-7-8-3-3-3-2 3-5 0-2 2zM134 283l-7 7 5-3 4 2 3 0 11 8-3 3 2 2-2 5 4 1 5 4 0-5 4-9-3-3-7-3-5-4zM249 291l3 3 5-5 6 2 4 6 4 1 8 8 13 8-1-1 0-10-2-10-8-4-9-1-6-6-4 0zM433 281l2 2 1 4 6 6 5 3 7 1 6 3 12 12 7 3-4-2-5-6-3 0-3-3-1-3-10-5-15-15zM427 281l-4-3-6 2-1 2 1 3 6-1zM120 276l-5-2-11 7 3 4 2 0 4-2 5-7zM139 273l11 11 2 0 4 3 3 0 4 3-1-5-7-6-5 0-4-5zM439 274l9 9 7 4 4 4 4 1 9 9 6 4 11-2-17-15-8-3-4-4-5-2-5-6-6-2zM510 269l-5 5 3 2 3-5zM310 272l2 5 9-5 2 2 2 5-4 1-2 4 1 1 9-1 6-3 9-1 0-6-5-5-7 1-4 2-8-3-6 3zM278 271l2 3 7 3 1-3-6-5zM229 268l6 6 2 0 6 4 7-3-6-5-8 0zM208 272l11 7-3 4-4 10 2-2 10-4 2-3 4 1 8-3-10-5-6-6-4-1-2-2 0 3 6 0 1 1-1 3-5-2zM199 265l2 3 5 3zM386 266l3 5 2-1 1-3 9 5 8 8 2 1 3-2-4-4-2 0-4-5-11-9-3 4zM478 260l3 12 2 2 12 1-2-3-4-1-4-5-2 0zM145 257l-3-3-10 8-1 4 5-3 6-6zM338 254l4 2 3-2 6 0-2-2 0-2-5-2 0 6-1 1zM140 249l0 1 2-1 7 5 2 2 0 5 5 3 5 1 5-4 6 3 6 1 3 3 4-5 3 0-5-2-3 3-1-2-5-2-5-4-9-5-2 0-2-2 5-3-1-1-4 2-3 0 2 2-2 3-6-4zM360 245l-2 5 6-3 3 0 2 2 3 8-1 3-11 1 1 2 8 7 3 0 4-3 3 4-2 2 2-1 6 1-19-30zM370 265l4-3 2 4-1 1zM372 261l1-1 1 2-1 1zM371 260l1-1 1 1-1 1zM68 243l3 8 0 5 4 7 3 2 1-5-4-14-3-3zM8 240l2 6-2 5 11 13 5 9 3-3-6-8-2-8-4-4-2-5zM0 238l0 36 4 5 1 5 3 3 2-2-1-12 2-2 1 3 3 3 1 4 3-3-1-3-5-5-1-6-4-4-3-9-4-5 1-4zM495 237l-3 3 0 2 4 4 0 3 3 4 1 4 6 3-4-5-3-11zM438 232l1 3 7 8 1 4 14 2-3-2 1-1-7-14 0 5 2 4-1 1-3-1-3-3-2 0zM457 246l1-1 1 1-1 1zM453 242l1-1 1 1-1 1zM46 229l-2 4-1 8 2 5 4 4 3 1-2-3 0-5-3-6zM572 228l1 7 0-6zM567 225l0 1 3 0zM545 225l1 1 11 0 0-1zM528 225l-3 6 3 3 3 1 0-8 3-1zM512 225l1 3 5 4 4-1-2-6zM489 225l2 5 8 5 5 5 2 4 2 0 6-6-1-4-5-6 0-3-10 0 2 6-1 2-4-4-1-4zM499 233l1-1 1 2-1 1zM474 225l3 5-2-5zM441 225l9 5 2 0 1-3 3-2 4 8 3-3 3-1-3-4zM405 225l8 8 0 4-2 6-7 6 12 11 6-2 5 0-7-7-5-3 10-4-3-1-9-7 1-5-5-6zM414 247l1-1 1 1-1 1zM395 225l4 7 0 2 5 6 1-4-5-11zM374 225l3 5 5-1-4-4zM347 225l7 13 4 4 3-3 0-2-5-6-1-4-2-2zM48 221l-3 2 2 4 4 0 2 2 0 3 3 6 0 5 4 9-2 4 3 1 3 5-1 2-7 1 1 3 4 3 1 3 4 4 0 2 4 5 0 2 3 1 1-4-3-5 0-3 2-1 3 2 0-2-3-7-5-5-2-4-3-2-2-8-5-7 2-7-2-1-1-5-2 0-5-5zM58 255l1-1 1 1-1 1zM114 219l2 9 4 10 0-3 3-3 3 2 5 1 3 4 10 3 3-1 0-2-2-2-6-1-12-6-4-1 0 2-2 2-3-4 0-3-3-7zM188 218l-7 3-3 5-5 1-3 3 5 4-5 3 2 5 8-3 10 4-1-2-7-4 2-2 2 0 2-9zM181 238l1-1 1 1-1 1zM249 217l5 2 5 6 3 1 6 6 7 4-2-9-6-3-3-4-8-3zM4 215l-1 2 3 5 0 4 3 4 0 3 3 4 0 3 5 8 6 5-1-1 0-9-3-3-9-14-2-6zM58 214l3 8 2 3 2 0 2-2-1-5-2-2zM166 213l-2-2-4 1-3 4-17 13 3 1 4-6 13-6zM170 206l-1 8 3-1zM248 190l5 12 7 5 1-8-2-2-4-1zM142 194l5 9 6 0 5-2 3 3-1-4-2-2-2-8-5 1 4 6 0 3-5 3-4-8 0-3zM189 184l-2 1-2 5-1-5-1 3 2 4 4-4zM5 177l2 9 4 7 2 10 5 3-3-6-1-6-3-4 1-5zM297 172l2 3 2 0zM196 169l4 4 4 1 2 3 4 2 9 8 7 3 8 9 6 2 7 6 5 1-5-5-4-2-5-6-3 0-8-9-11-6-8-9-7-1-2-2zM53 166l-1 2 1 6 5 11 2 2 1 8 4 9 0 4 5 13 6 10 0 5 2 5 8 13 1 7 3-2 4 1-5 6-4 2 7 0 5-6 3-1 6 3 6 6 7 1 4 3 2 0 1-2-2-2-14-6-1-5-2-1 0-5-5-6 0-5-2-4-6 4 6 14-1 3-3 0-5-7 0-3-2-3-2 1-4-4 0-7-5-9 1-4-5-5 0-3-2-3 0-5-3-4 0-8-5-7-1-5-6-11 0-2-2 0zM14 162l3 6 1 12 2 2 4 10 5 1 2 3 3 15 3 4-1 5 3 3 2-2 2 1-7-18 0-4-3-4 0-3-2 1-4-4-6-11 0-6-4-6-1-4zM104 157l-2 6 1 1 1 10 3 5 0 3 4 7 1 6 3 5 2 10 1-2 2 2 5 15 4-5 2-1 2 1 6-6 3 0 7-8-4 4-7 3-4 4-4-6 0-3-3-3-1-5-3 1-2 3-1-1 0-6-3-4-2-8-3-3-2-10-3-3zM73 156l2 10 2 2 2 6 1 0-1-12-4-6zM0 156l0 5 2 2 0 6 3 5 3-3 0-2-3-3-2-10zM299 149l-4 3 9 18 1 0 2-3 0-3-6-6zM152 148l3 6 0 4 3 3 4 20 4 6 1 4-1 3 2 3 0 3 3 1-1-1 1-2 4 1-2-8-4-5 0-6-7-12-1-7-4-7 1-2-2-3zM215 151l8 9 12 7 2 3 10 6 6 6 5 2 3 4 8 1 4-3-1-2-16-12-1-2 6-6-2 0-7 7-6 3-9-7 13-9 7-2 6 1 3-3-2-2-1-4-4-3-4 4-6 2-5 5-3 0-7 6-2-5-10-9-3 0zM32 140l-1 1 2 2 2 7 3 4 0 4 3 6 0 5 1 1 5-1 1-5-7-10-4-12zM232 139l-5 0-2 2-4 0-3 2 2 2 3-2 4 0zM131 139l5 10 0 4 3 3 7 15-3-6 0-10-4-15zM63 138l-1 7 1 5 3 4 0 6 4-3 0-2-5-6-2-6zM297 138l-7 7-5 2-2 3-6 3-3 3-2 0-8 6 3 3 4 1 5 4 10 5 16 14-1-5-6-7-3-1-6-7-4-2-1 1-9-6 5-2 13-11 6-1 6-6 0-6zM34 129l3 9 3 3 1-1-1-8-3-3zM298 125l-11 9-7 3-3 3-3 1-5-1-3 3 7 5 3-3 3 0 5-5 6-1 5-6 4-1zM231 126l-5-1-3 3 0 5zM2 123l-2 1 0 16 3 4 1 9 1 1 3-1 2 2 0 5 1 0 1-5-1-3-2-1-2-14-5-8zM50 121l-3 5 4 3 2 10 3 3 2-3-3-4-2-11zM298 116l-3 0-5 4-4 1-5 6-2 0-2 2-8 3 0 1 2 1 12-5 4-5 6-2 5-4zM144 116l-2 2 0 2 7 7 3 0 1-1-1-6-4-4zM306 108l-1 1 2 2 1 6 0-5zM205 111l-2-2-6 1-5-4-2 5 4 4-2 4-4 1 0 1 2 1 2-3 3 0 6-3zM8 104l-4 3 2 2 3 8 5 2-3 6-2-4 1 4 2 0 3 4-5 1 3 6 3 11 4-3-1-4 5-3-4-9-4-5-1-5-2 0-2-3-1-7zM190 101l2 3 0-2zM80 97l-3 1 3 8 0 5 2 2 0 3 4 8 0 3-2 1-5-3 0 2 4 10 0 4 3 4 1 9 5 9 1 4-1 3 2 3 4 1-4-9 0-6-3-4 2-6-1-2 2-2-2-4 0-4-2-3-1-12-2-3 0-5-3-3 0-6-2-3 0-4zM90 89l-3 5 0 3 3 4-1 2 2 7 0 7 5 10 0 7 4 5 1 5 2 2 3-1-2-2 0-7-4-8 0-6-3-5-1-12-2-6-3-4 0-6zM16 89l-6 14 5 3 3 3 1 3 6-4-4-5zM198 88l8 9 3-1-5-3-4-5zM125 86l3 3 0 2 6 5 4 7 4 3 1 3 4 4 5 3 4 0-2-5-3-1-3-3-1-5-11-11zM96 85l-2 1 2 3 0 4 4 5-1 4 2 3 1 7 3 3 0 4 3 5-1 1 1 7 3 3 0 4 2 5 4 0-3-11-2-2 0-5-2-3 1-3 6-7-1-5-8-4-3 5-1-1 0-7-3-5-2-10zM153 82l-2 8 5 3 5 6-2 3-3 1 8 8 11 16-1 1-3-1 4 7 0 5 5 9 0 4 3 6-2 3 0 12 2 2 1 7 1 1 5-1 13 12 5 1 6 8 5 2 9 8 4 1 2 2 0 9 6 6 3 1 7 6 5 2 2 3 10 6 4 6 7 2 2-2-2-2 0-4-5-3-2-3-4-1-15-14-3 0-6-4 0-3 3-4-10-9-9-6-4-5-3-1-4-5-5-2-3-3-6-1-4-5-3-1-3-3-5 6-3-1 0-5 4-9-1-5-3-3 2-2-2-5 1-5-1-4-4-6 0-6 3-1 2 2 0 2 6 10 0 7 3 3-1 2 1 3 3-1 3-3-2-3 0-8-6-10 1-2-1-2-7-5-3 0-3-4 4-2 4-7-10-10-2-5-4-2-5-5 1 5-2 1-9-9zM183 127l1-1 7 5-5 1zM182 126l1-1 1 1-1 1zM166 96l1-1 1 2-1 1zM178 77l2 4 1-1zM0 77l1 4 6 9 0 5 2-1-2-4 1-3-2-4zM234 74l-9 3-5 7-2-1 0 4 7-7 7-3zM308 70l-4 0-7 5-3-2-1-4-4 1-1 8-8 7-3 7 1 4 2 1 6-1 1 1-3 3-11 5-3 4-6 1-2 4-5 4 0 2 4 0 3-4 11-5 5-6 3-1 14-13 2 0-1-1 1-2 9 0 0-5-3 3-6 1-7 6-4 0-2 2-8-3 1-2 4-1 6-5-2-4 2-2 6-3 2 2 0 2 3 1 4-5 4-2zM93 68l-1 2-10-1-9 2-5-2-15 0-2 2 0 3 3 1 3 5 3 11 4 7-1 2-8-3 0 2 4 5 1 9 4 5 2-15 5-5 0-4-4-5-1-6-3-6 1-3 10 0 7 2 3-2 5 0 2-2 2 3-2 2-5 0 3 2 7 0 5 4 7 2 3 10 3 6 1 0 1-6-3-3-1-4-2-1-1-3-4-4-4-1zM55 75l3-2 2 1-2 2zM263 66l-11 5-1-2-4 2 0 2-9 8-3 1-2 3-6 1 2 3 2 0 14-8 3 0-2-3 4-1 4 5 8 1 2 2-5 7-3-1-17 10-1-1 1-7 2-3-2 1-6 7-2 0-4 3-7 1-8 7 2 8-2 3 0 3-4 4-9 6-5-5 2 5 3 2-1 1 4 7 1 5 0-4-3-6 1-1 4 3 0 3 6-2 4-5-5-3 7-6 4-1 4-5-3-3 2-2 7-3 3-4 6-2 11-12 6-3 7 1 8-6 4-1-4-5-5 6-3-5-7-5 7-7zM199 137l1-1 1 1-1 1zM198 136l1-1 1 1-1 1zM270 66l3 2 1 5 8 6 0-7-4-1-5-6zM121 62l-2 3 14 11-1-1 0-5-3-5-5-5zM172 56l0 7 8 8 3 1-4-4zM308 55l-12 13 5-2 7-6zM300 55l-5 2-5 4-4-1-4 7 1 3 0-5 2-2 8-2zM98 55l-5 2-16-1-1 1-10 0 0 1 7-1 8 2 9 0 1-1 6 0zM0 52l0 10 7 6-3-4 0-4-3-3zM177 50l-3 2 2 1zM124 51l-12-1-4 2-13-1-5 2 11-1 4 4 5 0 3-2 11 0zM57 49l1 2 5-1 4 1-2-2zM241 46l-4-1-9 3-13 1 20 4 4-2zM178 42l2 3 4-1 9 9-7-9-5-3zM84 42l3 3 33-1 0-2-5 0-1-1-7 0-1 1-5 0-1-1-11 1-1-1zM242 44l0-3-2-1-4 2-3 0 6 0zM42 39l0 2 6 9 2 10 3 7 3-3 1-4-4-8-3-12-1-1zM21 39l4 3-1 2-1-1 4 7 2 7 1-2 3 4-1 3-2-3 2 4 1 7 4 6 0-5-1-1 1-2-3-5 5-2 5 8-1 4 1 4 3 3-1 2 3-5-3-3-1-6-7-12-2-7-5-10zM28 54l1-1 1 2-1 1zM12 39l2 8 3-3 3-1-3-4zM2 39l2 3 1 8 5 8 0 7 9 13 0 3 3 2 2 4 0 4 5 4-11-22 0-4-2-3 0-4-4-9-1 2-2-2-1-6-3-3-1-5zM308 34l-7 7 1 4 6-5zM227 37l9 0 2-2 6 1 2-2 7 8-1 7 3 0 8-8-8 4-1-1 1-7-4-6-4 1-4-1-5 2-3 3zM75 29l-2-1-2 2zM213 30l16-3 12 0 2-1-5-2-2 1-10 0-1-1-5 1-3-1-2 1 0 3zM308 22l-5 4-7 2-3 5-5 1-5 5 5 2 5-5 7-1 8-7zM214 23l0-4-3-1-4 3-13-1 2 4 5-2 2 1zM87 18l6 17 1-5 1 1 6-1 2 2 5 0 2 2 1-1 7 1 4 5 3 1 3 3 1 4 9 5 10 10 0 2 9 8 13 15 7 5 2-1-5-5-6-10-3-3-3-1-5-7-5-3-1-4-6-5-3-5-3-1-3-4-4 3-2-5-5-3-7-7 3-3-10 1-3-4-5 0-6-2-5 1zM102 31l1-1 1 1-1 1zM161 14l-1 1 10 9 1 3 1-5-4-7zM138 14l-12 3 4 2 6 0zM303 13l-2 0-4 4-5 2-2 3-6 2-10 8 6-3 4 0 3-3 4 1 6-7 5-3zM142 13l-1 1 8 11 8 8 10 13 4-4-2-4-8-7 0-2-5-5-4-2-2-5-6-4zM269 12l-10 1-1 1-6-1 0 2 4 1 1-1 9 0 1 1zM158 6l-2 1 2 0zM225 12l-2-1-8 1-1-4 2-5-1 1-8 0-3 3-19 0-9 3-6 0-4 3 12 1 7-3 3 0 3 2 5-1 1 1 11 1 1-1 9 0 1-1 6 1zM273 3l-3-2-5 0-3 2-9 0-5 2-12 1-1 2 37-1zM308 0l-4 0-4 4-3-1-3 1-4 5-8 4-4 4-4 1-3 3-6 2-6 6 5-2 4 1 6-2 7-7 5-1 3-3 4-1 4-4 9-5 2-2zM219 1l6 0 1-1 6 0 1 1 3-1-17 0zM171 0l2 0 4 3 1-1 20-2zM140 0l3 4 8-1 4 2 1-5zM70 3l10 10 4 1 11-1 7-5-12 0-2 1-8-9-2 1-6-1zM56 0l0 6 4 7 2 10 3 4 6 0-1-5-5-6-7-14 0-2z"/><path fill="#98d254" d="M216 420l-2-2-11 11-6 4 5 0 6-3 3-4 4-1 2-2zM116 416l-6 1-10 8 6 1zM151 412l-2 2-6-1-14 13-4 6 2 1 9-5 6-6 1-4 6-2zM165 409l-4 4-4 1-5 6-4 1-2 4-3 2 3 2 3 0 3-2 5-6 10-8zM90 406l-5 2 1 5 3-2zM192 398l-4 2-2 3-7 3-4 4-3 6-7 7-1 2 1 2 5-5 11-7zM138 393l-12 11-10 7 5-1 5-3 9-9zM161 392l-6 4-6 2-4 4-1 3-4 2-12 13 9-5 4-5 6-1 3-4 0-3 2-2 4-1zM133 387l-3 1-4 4-2 0-1-3-2-1-11 5-5 5-4 1 5 5-1 2-4 1 4 3 5-2-4-3 4-5-1-2 5-3 1 1-1 2 5-2 5-4 1 1-1 6 7-4 2-3zM189 384l5 6 0 3 13 9-5-11-6-1-3-4zM235 377l-1 3 4 1 1-2zM161 365l14 14-3 4-4 2 0 5 6-2 3-3-1-3 1-1 3 2 4-1-4-5-3-1-5-5zM175 381l1-1 1 1-1 1zM198 363l-1 3 6 9 8 3 4 4 2 0 3 3 3 1 3 4 2-1-3-7-7-2-5-6-5-2-3-4zM156 351l-4 1-24 15-5 5-6 2-9 6 3 2 8-8 8-2 6-5 2 0 6-6 8-2zM120 344l-4 4 5 3 2-3zM193 328l2 1 0-1zM78 327l1 3 5 1zM228 324l2 2 2 0zM199 324l0 1 4-1 3 3 5 1 6 7 5 2 4 4-7-11-5-3-4-5-3 1-5-1zM93 318l0 1 5 2 2 3 4 2 6 6 4 2 5-1-4-5-12-9-4 0-3-2zM213 315l5 7 8 1-10-9zM158 308l1 2 8 5 4 1-1-1 1-1 3 0 2 2 1 4 2 1 3-1-5-2 3-1-5-6-4-2 0 4-3 1zM221 310l3 4 10 6 5 6 2 0 10 7 2-7-6-3-3-4-4-1-2-4-8-7-3-1zM124 307l7 4 4-4 5 5 7 2 3 4 3 0-5-3-3-3-3-6-3-2-4 3-10-3zM177 298l5 5 3 0 4 3-1-6-4-3-6 0zM212 294l-2 4 1 5 1 0 0-3 2-4zM84 296l2 5 4 2 13 1-8-5-3 0-5-6zM126 290l-3 2 3-1zM129 290l2 2 5 1 3 3 4 0 3 3 3-2-10-7-3 0-4-2zM110 285l-2 1 1 1zM137 275l-1 4 8 3 8 7 5 1 5 3 1-1-4-4-3 0-2-2-4-1-11-11zM214 272l8 2 0-2zM118 272l3 4 2-1zM113 272l-1 3 2-1zM85 272l5 12 1-1 16 12-2-8-4-4-9-4zM80 272l-3 6-5-2 0 3 2 4 2-2 3 2 3 9 1-2 0-11-3-3zM108 267l-2-2-3 3-3 1-1 2-4-2-3 0 6 3 4 5-2-5zM76 265l3 5 1-3zM93 261l-6 2-5 5 7-3zM125 257l-1 4 3 1 3 3 1-3 11-9 4 4-4 1-8 7 7-4 1 1-3 10 7 1 4 5 5 0 2 2-4-5-1-7-10-7 5-3 5 7 7 3 6 1 5 5 4 1 6 6 4 1 2 2-2 1-4-1-8-5-3 0 6 7 6 2 3 3 8 3 5 4 3 1 1-1-15-12 2-1 8 5 4-1-1-3-4-1-3-3-5-3-3 0-9-6-6-1-2-3-4-1-4-3-5-1-4-3 0-5-8-6-1 1 1 2-3 2-5 0-3 6zM185 285l1-1 1 1-1 1zM148 248l6 1-1-1zM161 247l0 3 3 3 15 8 1 2 3-3 3 1 0-2-2-2-9-2-8-7-4-2zM122 233l-1 2 1 4 3 2 8 2 6 6 4-2 2-4-11-3-3-4zM176 242l7 5 5 0 3 3-3 3 5 5 3 1-2-6 1-3 13 11 0-8 1-1 4 5 3 1 10 8 10 3 6 0-2 0-5-5-2 0-8-9-4-1-2-3-3-1-7-6-4-1-5-5-7-3-4-4-2 1 0 5 3 4-1 2-9-3zM189 243l1-1 1 1-1 1zM174 234l-6-3-2 2-6 2-4 4-2 0-4 6 6 1 4-2 11-2-2-5zM147 223l-6 0-4 2 2 2-1 2-5-1 2 3 8 4-4-6 5-5zM94 216l0 4 3 4 1 7 3 4-1 2 3 5 0 5 5 6 0 5 2 1 0 2 6 0-1-1 0-6-2-2-3-12-7-9-1-4-3-3-4-8zM308 207l-1 1-8 0-11 5-8 0-5 1-3 2-6-1 7 7 2-2 18-3 11-7 4 0zM69 194l1 1 0 8 3 4 0 5 2 3 0 3 4 3 1 2-1 4 5 9 0 7 4 3 3-2 0-3-6-11 0-3-7-12-1-8-4-7 0-2zM149 191l-2 1 0 3 2 5 3 1 2-1 0-3zM190 188l-5 5-1 5 6-4zM302 182l-1 1 1 1zM195 170l-3 5 3 3 3 1 4 5 6 1 3 3 5 2 2 3 1-1 0-4-13-10-2-3-4-1zM256 170l4 5 12 8 7 8 6 2 6 6-4 3-5 1-16-13-6-2-1 2 1 7 2 2 3-1 6 3-10 2 0 5 3 5 4-2 1 1 3-1 6-4 8 0 10-4 4-3 7-2 0-1-4 1-3-2-3 1-1-3-5-2-10-10-4-1-2-3-14-12zM279 165l6 2 7 8 0-4-5-5-1-5zM260 159l-5 2-4 5-5 2-3 3 3 2 6-3 7-7 3 0zM205 158l-5 7 3 3 5 2 7 7 6 2-2-10zM245 149l-12 7 1 5 5-4 1-3zM218 144l-4 1-6 5-3 1 0 3 1 1 6-5 7-4zM230 142l-4 4 3 2 2-2zM195 134l-1 2 5 8 0 8 3-3 0-2-5-12z"/><path fill="#9658b4" d="M264 433l-1-1-3 1zM134 430l-6 3 6 0zM1 430l2 3 7 0-3-4zM222 426l-2 4 0 3 2 0 2-3zM175 426l-9 7 4 0zM283 424l3 4 1 4 5 1 0-2-6-8zM91 423l8 10 4 0-1-1 1-1 5-1 0-1-5 0-1-1 2-2-5 0-2 3-1-3zM52 423l5 10 7 0-5-5 0-3-3-3zM27 422l-4 2 0 6 3 3 4 0-1-8zM210 421l-4 0-9 6-5 2-3 4 7 0zM302 417l1 3 6 6 4-7 0-2-6 2zM2 417l7 9 3 1 0-2-7-8zM411 416l-5 2-5 0-4 3-7 1-11 6-6 2-3-1-9 4 23 0 4-3 3 0 6-3 7 0 6-5zM198 416l-8 1-2 4-11 11 4-2 3-4 9-5zM320 415l0 2 4 4 1 3 3 2 2 7 5 0-1-3-7-6-2-5zM21 415l0 6 1-3zM184 411l-2 4-6 4 1 1 5 0 4-3-2-2zM271 399l-6 2 2 2 1 4 6-2-3-4zM80 398l-2 2 2 1zM194 395l-1 5 3 2 9 0 13 8 1-1 7 1-5-2-4-5-11-6 2 4-2 2-10-8zM440 398l2 3 2 0 6 4 7 0 1 1-5-6-3-1-5-5zM124 393l-7 5-2 0-1-2-4 2 1 2-4 5 3 1 7-5 6-2zM113 398l1-1 1 1-1 1zM140 389l-6 3 1 2 4-2zM193 390l-2-2-8 3-4 5-6 3-3 5-5 4 3 4 8-8 5-1 3-3 3-6 3-3zM184 383l-2 0-7 6-5 2-11 11-5 2-8 9 3 0 10-8 2 0 7-6 6-8 3-1zM162 373l-4 5-5 3 0 2 2 2-9 9-3 1-3 3-2-1 0-2-12 13-7 3-5 4 3 0 5-3 4-4 3-1 4-5 2 3 6-2 4-5 10-6 3-3-4-3 9-7zM97 373l-13 5-3 2 0 3zM0 373l0 9 2 2 0 3 5 0-1-6zM498 371l3 1 5 5 2 0 0-5-3-3-3 0zM346 363l1 6 5 3 3 0zM153 362l-12 6-5 6-8 2-10 8 4 2 4-3 2 0 3-4 6-1 2-7 4-3 6 1 5-4zM361 359l-1 6 5 6 0 2 6-3-3-5zM571 352l-7 3 7 7-6 6 8 5 0-21zM420 351l2 4 9-1zM158 350l-6 7 5-1 2 3 0 3 4 0 1-1-7-7 1-2 1 1zM243 348l0 6 5 2 4 4 11 6-1-3-5-2-5-7-2 0-4-5zM99 348l-15 9 0 6 9-6 3 0 5-5zM165 345l8 8 2-1 3 1-2-4-6-5-3-1zM305 342l2 4 0 8 5 5 1 3 14 12 7 4 4 5 2 0 3-4-12-9-17-17-2-5zM463 340l6 6 1 3 5-2-7-6zM115 339l-4 4 2 2 2 0 1-4zM313 338l2 3 4 1-2-3-3-2zM324 333l12 12-3 1-11-3 8 5 5 7 6 3 3 4-1-6 1-1 1 1-2-5 4-2 0-3 2-3-1-2-6-5-1-3-5 1zM335 346l1-1 1 1-1 1zM116 335l3 1 12 10 5-2-8-8-4 0-3-3zM103 333l2 3 2-1zM0 331l0 22 5 1 0-9-3-5zM78 330l2 6 5 0 1-1-2-3zM186 332l6-1 8 7 3 1 5 6 4 1-7-7-2 0-6-6-3-1-1-3zM168 327l1 1 2-1zM412 327l5 8 1-4 2-2 8 6 3 0-9-10-2 1-1 4-3-3zM296 325l10 12 0 3 4 1-4-4 5-2-4-2-5-5zM194 327l5 1 6 5 2 0 6 6 7 4-1-5-8-9-5-1-3-3-2 1-3-1zM155 323l2 5 4-2zM211 322l3 4 3 1 4 4 5 1 5 4 4 0 0-2-8-10zM151 320l-1 3 2-2zM487 317l2 3 3 1 6 6-4-6zM178 318l5 2 5-2-5-2zM158 304l-1 4 2-1 9 6 2 0-1-5-9-5zM189 302l1 1-1 4 5 1 3 4 6-3-4-1-5-4zM107 300l-2 4 0 5 1 1 2-2 4 3 4 1 4 4 3 0 1-3 8 2 0-3-3-2-8-3-5-4-6-1zM239 302l16 12 0 4 5 1 5 5 5 2 6 8 7 3 6 6 1-1 10-1-7-4-6-7-5-2-4-5-9-5-4-4-6-2-6-6-2 0-4-4-1-3-4-1zM83 298l-1 7 4 1 11 11 6 1 1-3-9-6-4-5-5-2zM362 297l-1 6 7 6-2 1 4 5 2 5 4 2 3 5 6 6 3 1 2 3 2 0 2-2-14-15-2-5-3-2 3-1 3 5 9 9 5 3 7 8 3 1-5-12-4-2-5-5 0-2-7-6 4-4 13-3-2-1-11 1-2 2-6 1-2 2-9-9zM367 310l1-1 1 1-1 1zM558 296l2 6 3 3 0 2 4 7 4 0-11-17zM71 296l2 3 0 7 3 1-1 4 2 3 0 4 2 5 2 0 3 3 3 0 4 4 8-1-4-4-13-7 1-3-5-9-2-1 2-6zM75 306l1-1 1 1-1 1zM493 301l8 8 3 0 4 2 5 0 4-2-3-1-5-5-1-3-8-6zM287 291l3 1 9 9 2 0 7 6 2 5 8 3 16 12 3 0-5-7-2 0-9-9-1-3-2 0-2-3-5-1-10-11-6-2-5 0-1 1zM335 291l4 3 3-2 0-2zM164 289l0 4 5 2 5 4 2-2 4-1-13-7zM572 287l0 7 1 0 0-6zM104 282l1 3 3 2zM87 278l-2 2 0 9 7 9 3 0 2 2-4-5-1-4-3-3 1-3zM239 276l1 5 3-2zM112 271l-6 2-3 3 0 4 2 0 4-4 2 0zM374 283l3 4 15 12 15-4 4-2 2-3 2 0 1-2 0-3-2-2-5-2-8-8-9-5 0 2-4 4-9-1 0 6zM152 266l5 6 2 0 10 6 3 0 8 5 5 1 14 12 7 1 3 4 0-4-5-4-8-2-9-5-3-3-4-1-6-6-4-1-5-5-6-1zM161 266l6 2 4 4 4 0 9 6 3 0 8 6 6 2 5 3 2 3 3 1 1-4-10-7-6-1-8-8-6-1-9-7-7-3zM159 292l-7-2-8-7-10-4 4-6 3-11-2 2-8 3-6 8-4 2-3 0-2 2 0 2-6 6 2 3 5 1 7-3 5-6 5-3 1 1-1 2 11 5 5 4zM440 257l-8 1-8 6-9 1-2 2-4 1 1 4 2 3 2 0 7-3 7-5 5 0 6-5zM195 251l3 12 9 8 3 1 5-1 0-3-3-2 0-2-4-2zM152 250l1 1 1-1zM92 251l4 7 3 0-2-7-1-1zM471 246l2 4 0 4 10 11 2 0 4 5 5 2 0-11-6-1-8-8zM415 247l5 3 6 7 4 0 5-4 0-2-9-6-3 0-5 3zM119 244l0 5 7 1 6 4 1-1-6-5-3 0zM152 247l-5-5-4 6zM182 238l3-1 3 3-2-4-2 0zM371 233l-1 2 3 5 1 5 3 3 3 10 6 7 4-1-4-5 0-3-2-4-4-3-7-16zM337 232l-2 2 0 3 2 4 6 6 6 2-2-2-1-4-4-3-3-7zM73 227l0 11 1 5 5 11 0 5 1-5 2-2 0-3-5-8-2-5 0-5zM563 225l3 1 0-1zM509 225l0 3 5 6 1 5 5 5 8 3 9 8-7-12-5-2-6-6-1 1-7-11zM478 225l9 10 3 6-3-6 0-3-3-3-1-4zM420 226l2 3 3 0 3 2 0 5 2 3 2 0 4 4 6 2 3 3 1-1-1-4-9-12-9-6-6 0zM401 225l3 5 1 5 6 6 1-8-8-8zM379 225l4 4-5 1 1 8 3 3 1 5 5 3 0 4 3 6 3-5-4-6 0-5-2-2 2-2-4-14zM360 225l2 4 1-4zM329 229l10-1 3-3-11 0-2 2zM10 224l16 24 2 1 1-4-3-6-10-12-4-1zM116 213l-1 5 6 14 3-6 0-3-2-5-4-2zM188 212l-3 3-19 9-1 2 6 2 2-2 5-1 3-5 7-3zM0 208l0 18 4 4 5 10 4 3-2-3 0-3-3-4 0-3-3-4 0-4-3-5 2-3zM190 203l-1 4 10 8-1-6zM94 204l4 8 0 5 2 7 3 3 0 2 3 4 3-3-1-1 0-6-4-4-1-5-3-4-1-7zM168 201l4 7 1 5 3-2 0-3-5-4-1-3zM261 202l9-1-7-2zM138 195l4 11 2 0 2-2-5-10zM220 188l-1 6 4 2 4 5 9 6 10 9 10 0 2 1-5-6-6-3-7-6-6-2-8-9-2 0zM267 190l15 12 5-1 3-2-5-5-6-2-5-5zM0 186l0 15 3 4 5 12-1-9-2-2-2-15zM308 181l-5 1-1 3 1 4 5-1zM35 177l-1 2 1 13 10 17-2-4 0-11-4-5-1-7zM300 176l-3 1 0 1zM212 175l4 4 11 6 8 9 3 0 5 6 4 2 6 6 2 0 8 5-2-4-4-4-2 0-15-15-4 1-8-8-13-5zM44 170l-4 2 4 6 0 4 3 5 0 3 5 9 1-4-1-1 0-5-2-3-1-10-2-2-1-4zM68 159l-3 4 3 3 0 4 6 13 5 3-5-8-1-8zM192 156l-7 2 3 4 0 4 6-6zM169 155l-1 8 2 3 0 6 1 4 6 10 0 6 2 3 1-4-1-11-5-9 0-4-4-6 0-5zM308 166l0-7-6-11 0-3-2 3-10 2-13 11-3 1 4 3 8-5 6-7 7-5 2 3 1 7 5 4zM107 146l1 3 3 3 0 6 4 5 0 3 3 5 2-5-4-11-1-8-2-2-1 1zM214 138l-3 4-6 2-1 4-4 4 1 3 4-5 3-1 6-5 1-4zM300 135l-5-1-5 6-6 1-5 5-3 0-8 9-2 0-5 4 1 3 4 3-3-3 3-3 2 0 4-4 2 0 3-3 6-3 2-3 5-2zM269 134l-1-1-3 1-8 6-3 4-3 0-11 12 4-1 5-5 6-2 4-5 4-1 5-5zM138 134l3 5 3-1-3-3 0-2zM11 126l-1 3 4 0zM153 117l5 6 0 3 9 9 5 11 1 5 5-5-3-4-1-8-2-2-1-4-3-1-9-10-2-1zM115 116l-4 6 3 10zM103 115l0 7 1 2 3 0-3-5 0-4zM304 110l-5 6-1 8 10 24 0-14-2-7-2-2 4-2 0-5-2-3 0-4zM244 104l-4 4-6 2-3 4-8 4 3 3-2 3-13 9 4 2 8-1 2 5 1 0 4-6 9-5-4-3-9 6-2 3-2-1 0-5 5-5 5-2 3-4 3 0-1-2 4-4zM202 94l2 6 2-2zM308 101l-9-9-2 0-14 13-3 1-5 6-11 5-3 4-5 1-4 5-3 1-5 5-5 1-8 7 1 5 4-1 4-5 6-3 4-5 3 0 5-3 5 2 7-3 3-3 6-3 7-8 6-2 3-4 6-3 2-4 5 5zM305 89l3 4 0-4zM113 89l9 15 0 4-3 3 0 2 4 9 1 13 2 3-3 4 2 4 0 5 4 3 3 13 5 5 1-3-2-2 0-7-4-9-1-8-2-3 2-2 0-2-7-8 0-9-2-7 1-1 2 1 1-2-1-5 1-1 3 3 1 4 7 5 1 4 10 10 3 6-3 2 2 2 0 3 2 4 3 1-3-7 1-1-1-5 5-3-4-4-3 1-4-4-3-1-3-3 1-3-4-8-3-1-4-5-6 0-3-3 0-5-2-4zM43 89l-2 9 7 12 3 11 3 3 2 11 2 3 2-3 1-5-4-7 1-2-5-9 0-2-4-6 0-3-5-6 1-4zM100 86l2 10 3 5 0 7 3-6 0-3-3-5-2-7zM0 80l0 23 1-1 2 1 0 4-2 2 4 6 0-5-2-3 5-4-2-4-1 1-3-4 1-2 3 2 0-6zM263 85l-4-1-4 3-4-1-1-2 2-3-2-3-3 0 2 2-1 2-3 0-12 7-6 2-4 4-7 3-9 8-2 0-2 2 3 4-5 5-6 3-3 0-2 3-6-5-1 3 5 6 5 3 1 5 1-4-2-3 7-6 5-1 3-3 4-1 1-2-2-6 9-8 7-1 2-2 4-1 6-7 2 1-2 8 1 1 3-3 6-2 9-6 2 0zM240 90l1-1 1 1-1 1zM195 76l-1 1 1 4 3 5 9 8 5 1-1-4-8-9-4-1-2-4zM76 76l0 3 6 10 0 4 3 2 2-2-2-8-5-7zM308 74l-4 2-4 5-2 0-3-5-3 1-4 3 2 4-4 4-7 3 0 1 3 0 2 2 2 0 2-2 4 0 7-6 6-1 3-3zM92 74l-1-1-2 2-5 0 1 1 6 0zM308 67l-3 2 3 0zM173 65l6 13-1 1-9-9 1 9 16 19 6 3-1-6 1-1 4 4 1-2-9-12-2-5zM187 91l1-1 4 4-2 1zM186 90l1-1 1 1-1 1zM185 89l1-1 1 1-1 1zM179 78l6 5 1 2-1 3-5-4-2-4zM0 63l0 10 3 6 2 2-1-1 2-2 7 0-5-6-1-3zM194 57l-3 0-3 4 3-1zM308 51l-10 6-6 6 2 1 7-5 4-1 3-4zM45 47l1 1-1 9-3 3 0 2 4 6 1 6 3 3-1 4 2 5 0 4 4 6 8 3-4-8-1-6-3-7-5-1 0-6 2-2 0-3-3-6-2-10zM16 46l-2 3 1 6 5 7 4 10 0 3 4 5 4 10 3 2-1-1 0-6-7-12-1-9-6-9-1-7zM300 42l-5 1-3 4-2 0-9 8-5 1-4 5-2 0-6 4 1 5-7 7 5 3 4 6 5-6 5 6-7 4-1 7-3 3-5 1-7 6-1 4-4 4 6-2 8-8 3 1-2 3 4 0 5-5 11-5 2-2-6 1-3-2-1-4 3-6-1-1 1-3-1-3 1-1-6-5-1-5-3-2 4-2 5 6 5 1-6-10 2-2 2 1 3-3 7-2 10-10zM172 42l-4 5 3 3 3 1 6-5-5-1zM98 56l0 2 8 3-3 4-5 0 1 2 5 4 0 2 5 3 4 7 9 8 3-6 3 2 5 1-3-5-4-3-1-3-9-10 0-3 4-2-4-2-3 0-1-1 1-1 11 1 6 6 3 5 1 7 3 2 7 12 9 8 0 2 2 2 4-2 1-2-4-5-3-1-3-3 2-9-5-5-1-3-5-4 2-5 16 16 10 12 3-3-25-25 0-2-9-9-10-6 0-2-3-4-2 3 2 6 0 6-1 1-6-2-3 0-4 2-6 0-3-2zM105 65l1-1 5 1-1 1zM107 60l1-1 3 1-1 1zM32 39l6 14 6-1 0-2-5-8 0-2 1-1 1 1 0-1zM5 39l0 2 1-1zM246 35l-2 2 0 3 8 10 0 2-2 3-1-3-4-2-3-4-2 4 8 11 2-3 2 0 1-8-2-1 1-7zM136 31l7 10 7 5 5 6 1 3 3 3 3 1 5 6-6-11 1-5-4-2-5-7zM94 33l5 0 4-2-1 1-1-1-3 1-4-1zM270 28l-2 1-4-1-5 2-3 8 4-4 4-1 3-4zM195 25l-1-3-5 2-9-1 6 3 8 0zM172 21l1 1-1 6 5 4 3 7 8 6 6 9 7 6 5 0-9-9-1-4-4-5 1-2 4 1 2 3 5 3 1 3 4 3 7 9-3 5 9 12 4-3-2-5-6-6 0-6-6-7 1-2-8-5 4-3 3 0 2-3-9 0-1 1-10-1-2 2zM215 20l0 4 2-1 3 1 4-1 9 1-2-5-13 0zM136 20l-6 0-3-2-4 0-5 2-6 0-1-1-6 1 6 8 11-1 2-6 7 1zM308 15l-11 6-6 7-4-1-3 3-7 1-4 2-3 4-5 2-8 8 23-13 1 2-11 12-4 3-4 1-5 6-5 2-5 9-5 2-11-11-1 4 5 10-3 4-7 3-3 4-3 1-1 4-2 2 8-4 3-3 6-1 2-3 8-5 3-3 1-3 5-2 9-8 6-3 5-6 5-1 5-3 4-5-4-3 6-6 5-1 3-5 5-1 7-5zM235 73l1-1 2 1-1 1zM238 72l1-1 2 1-1 1zM240 71l1-1 1 1-1 1zM164 14l5 0 7 5 15-1 1-1 1 2 14 1 3-3 4 1-1-4-10 1-7-2-5 1-3-2-3 0-7 3zM143 5l3 3 5 1 4-1 0-2-4-2zM171 3l-5 2-4-1-3 3 3-1 9 1zM303 0l-8 1-6 7-1-3-4 1-15 11-9-1-2 4-3 2-16 2 5 2 10 0 1-1 6 0 1 1 3-4 6-2 3-3 4-1 4-4 8-4 4-5 2-1 4 1zM217 5l4 1 20-1 12-3 9 0 2-2-27 0-4 2-1-1-6 0-1 1-7 0zM143 11l-2-5-3-2 2-3-1-1-6 0-2 2-5 0-3 2-18 1-4 5-5 3 8-1 3-2 10 0 2 1 16-5 3 1-1 3-2-1 3 4 1-1 2 1zM82 1l2 2 8-2 13-1-20 0zM68 0l-2 1 3 11 4 6 0 4 3 7-5 2-1-1 2-2-11 0-5-7 0 12 7 0 3 2 16-1 2 2-13 3-15-1 0 3 7 0 1 1 1-1 15 0 1-1 1 1 5 0-4-4 1-1 2 1 5 0 1-1 0-3-4-7-1-6-2-3-4-2-12-12 2-3z"/><path fill="#bc5096" d="M309 427l-2 2 0 4 5 0 1-2zM107 428l-1-1-3 1zM400 433l11-1 7-4 3 0 4-3 12-3 4 4 9-1 5 7 12 1-6-5-6-3-2-3-4-2-4 0-4-4-3-1-5 0-1 3-4 0-15 6-4 0-3 3-4 1zM77 415l0 2 5 6 3 8 2 2 5 0-3-3-1-4zM111 416l-3-2-3 1-9 10 1 1 8-7zM374 412l-8 1-4 3-6 1-3 2-9 0-4 3-3 0-1 2 4 6 5-1 3-3 5 0 5-7 6-5zM213 411l-1 2 1 2-6 5 4 0 3-3 4 5 1 9 1-4 2-2-4-10 0-3zM432 406l0 5 3 2zM180 405l-4 0-12 12-7 5-5 6-7 5 11-3 3-4 4-1 8-9 3-6zM95 406l-2-1-2 1-1 4zM437 401l0 4 3 1 8 8 5 2 6 6 2 0 6 7 2 0 2-2 1-3-17-15-6-2-3-4-4-1-3-3zM429 399l-7 0-13 4-1-1-9 1 9 2-7 3 9-1 8-4 6 0zM408 404l1-1 1 1-1 1zM152 395l-7 4-4 5-4 1-7 7-8 4-1 3-6 6 6-1 5-5 4-2zM97 392l-7 0-8 5-2 5-3-2-1 1 3 5 5 4-3-7 9-8 5 0zM451 387l-6 6 5 5 3 1 12 12 5 1 8 8 0-10-9-8-5-2-2-4-7-4zM505 384l3 3 6 0-7-5zM562 373l1 8-4 2 5 4 9 0 0-5-1 1zM569 381l1-1 1 1-1 1zM509 373l0 3 3 3 4 1 6 7 10 0-12-13-2-1zM148 370l-2-1-5 1-2 3 0 6 1-3zM159 349l-1 5 7 7-2 2-3 0 20 13 5 6 4 1-1-6-4-1-3-3 2-2 4-1-2-4-7-2-10-9-3-1-4-4 3-5zM158 353l1-1 1 1-1 1zM105 333l3 2 5 1 11 12 8-1-3-1-10-9-8-4zM102 332l-7 5 0 2-3 4 1-1 2 1-2 2-5 1-2 3 10-4 1-4 6-6zM94 342l1-1 1 1-1 1zM455 332l7 7 3 0-3-6-3-2zM165 331l-7 1-9 9zM194 331l3 1 6 6 2 0 6 7 6 0 5 5 2 4 10 4 6 7-2 1-8-7-7-1-5-4-2 1-3-3-6 2 3 5 3 1 10 8 10 5 3 4 3 1 7 7 5 1 9 8 3 0 4 5 4-2-2-10-14-11-8-4-7-7 1-7 1-1 3 1 12 12 9 5 10 9 3-2-4-5-3-1-8-9-9-4-9-7-3-1-2 3-7-3-8-5-8-8-5-2-6-6-2 0-6-5-3 0zM335 328l2 2 8 1-6-3zM231 327l5 7 0 2-3 1 4 5 4 2-2-4 2-1 5 4 3 0 15 13 17 11 8 9 6 2 3 4 5 1 4-2 5 0 8 3 0-6-7-7-3-1-8-7-1-3 4-6-5-2-5-6-9-3-11 0-4-5-6-1-10-11-1 0-1 5-2 3 18 13 9-1 5 2 5 5 8 5 2 0 3 4-2 4 10 9-3 7-5-3-3-7-5-3-2-4-9-8-9-4-8-6-5 0-6-3-15-13-2 0-4-4zM459 325l2 3 5-1-3 0zM142 325l3 5 2-2zM114 318l8 9 2 1 5-1-6-2zM456 324l-8-8-5-1-2-2 0-3-13 5-6 5-1-1-9 1-5 5 4 1 10-1 9-6 3 3 7-2 4 4 3 1 3 4 3-1zM425 301l1 5 12 1-2-2-2 0-5-6-2-1zM242 296l4 2 5 7 2 0 6 6 6 2 7 6 5 3 0-5 1-1 4 2 2 3 5 1 5 6 2 0 3 3 1 0-5-6 2-1 4 3 0-2-2-2 0-5 1-1 3 1 3 4 7 2 6 6 2 0 2 2-10 3 7 7 8 1 8 3-13-12 1-2 4 0-5-3-1-4-8-8-7-3-7-7-3-1-4-5-2 0 1 2 0 10-1 1-12-7-8-8-4-1-3-3-1-3-6-2-5 5-4-3zM291 314l1-1 1 1-1 1zM328 289l0 4-2 4 5 1 7 5-1 1 3 1 7 8 10 7 1-1 3 5 3 1 12 12-2-10-3-1-3-5-7-6 1-3-2 0-10-9-4-1-6-7zM431 284l-1 8 6 6 4 1 12 14 9 5 5 5-1-4-5-5-7-4-2-5-12-11 0-3zM235 284l-4 1-1 2zM377 272l-1-3-5 2zM245 260l0 5-2 4 7 5 9-5-1-2-7-1zM281 269l1-1 6 5 3 0 6 4 4 0 9 10 4 2 7-3 15 1 2-2 5 0 1-4-9 1-6 3-9 1-7-5-4-7 0-2 14-5 6 0 2-2 6-2 2 5 4 3 4 6 2 0 5 6 3 1 8 8 3 0 3 2 4 5 3 1 3 3-2 4 5-1 4-3 9-1 5-5-10 3-15-12-4-5-4 3-4-5-3-1-4-4-6-2-5-6-5-2-5-4 5-5-7 1-4 3-6 0-16 8-1 2-11-9-5 1-4-1 4 2 4 4-1 1-8-1-3-3zM573 301l-4-3-2-6-7-4 3 6-1 1-3-2 0 2 13 18-1 2-6 1 8 6-2 2-8 1-2-2-2 0-6-7-10 1-7-6-3-1-2-3 1 2-1 1-5 1 5 2 2 2-1 1-8-3-3-3-4 0-4 2-5 0-4-2-3 0-9-9 4-3-4-6-11-6-3-4-4-1-4-5-3-1-2-3-6-3-5-5-7-3-3-4 0-2-2-2-2 0 1 6-3 6 12 7 5 6 5 2 4 4 8 3 5 5 4 2 9 9-3 2-5 0 9 7 7 8 4 1 4-5-4-4 1-2 3 3 6 0 5 3 11 10 8 4 2 2-1 1-18 5-4 0-5-5-8-5-1-2-3-1-1 2-5-5-3-1-3-4-7-1-7-3-6-6 1-1 4 1 6-2-5-3-9-9-4-1-4-4-7-4-12-12-5-1-1-1 2-2-2 0 1 1-2 2-6 0-1 1 8 5 2 3 6 0 15 15 10 5 2 3-1 2-4-4-8-3 4 2 7 8 7 4 7 6 6 7 5 2 9 8 4 2 1-2 2 2-1 5-9 3-4 0-1-1 0-8-4-4-11-5-5 0 6 4 1 4 4 5-8 4 4 3-4 4-15 3-4 2-3-2 0-2-5-6 0-2-1-1-5 0-3-5-4-3-3 1 2 4 14 15 1 2-2 1-3-2-5 0-3-3-3-1-2-2-1-4-9-8-1 2 1 6-1 1-7-3-3-4-5-2-7-8-8-4 9 11 2 0 2 2 1-1 2 1 5 6 3 1 14 16-3 2-6 1-5-6-4-2-5-12-3-4-6-3-5 0-3 5 2 0 5 5 2 0 15 12 0 6-2 2-2 0-7-4-8-7-5-2-1-2-2 3-3-6-4-2-2-4-8-5-2-3-13-3 4 5-6 8 0 7 1 1-1 1-3-1 1 8 10 10 8 0-2-3-5-3 1-2 1 1 2-7 11 11 3-2 2-4 5 0 8 5 3 3-1 1-15 3-24 7-1-3-8-7-3-6-14-10-4-6-7 0-3-2 2 5 16 16 11 8 5 6-35 10-6-3-2-3-2 0-1 2 4 5-1 1-3 0-13 6-2 0-2-4-2-1-7 0-1 2 5 6-13 5-4-7-8-3-7-9-6-3-4-5-2-1-3 1-1 2 1 4 2 2 3 0 8 7-7 2-4-4-6-2-5-6-15-9 1 4 6 6 0 5 8 10 6 1 4 4 4 0-1-3 1-4 5 5 1 5 4 3-1 4-12 5-1-4-3-4-4 1 2 2 0 4 3 2-4 3-4 6 36 0 14-6 3 2 1 4 5 0-4-5 0-2 2-2 21-8 6 2 5-2 4 1-1-1 5-2 6 4-3-3 1-2 4 0 5-2 3 0 3 2 2-4 8-1 17-5 8 1 9-4 4 0 5-2 3 1 2-3 11-2 17-5 4 0 32-9 5 2 7 7 2 6 3 3 0-6-1-1 1-3 4-1-2-1 0-2-3-3-4-1-2-2 1-1 7-2 2 3 5 1 9 8 7 0-7-7-3-1-6-5 2-2 3 0 29-9 4 0 3 2-3-2 6-3 2 1-3 4 2 2 2 0 4 4 1 4 5 3 7 7-1 2 6 0-2-1 1-3-6-6 1-1 8 0-8-10 9-2 5 5 3-4 4-2-4-4-1-3-2-1 1-1-2-2 3-2 8-2 0-37-4-5 0-2zM249 413l1 1-1 3-1-1zM247 412l1-1 1 1-1 1zM246 398l3-1 9 4 1 4 4 5-7 4-3 0-2-2 0-4-3-4zM356 364l1-1 1 1-1 1zM352 361l1-1 1 1-1 1zM351 360l1-1 1 1-1 1zM350 358l1-1 1 2-1 1zM349 357l1-1 1 1-1 1zM419 351l3-1 4 2 3 0 8 5 1 2-4 2-9-2-4-3zM417 348l1-1 1 1-1 1zM497 327l1-1 1 1-1 1zM543 320l2-1 5 5 7 3-8 2-4-4 1-1zM535 320l1-1 1 1-1 1zM540 318l2-1 2 2-2 1zM534 318l1-1 1 2-1 1zM539 317l1-1 1 1-1 1zM533 317l1-1 1 1-1 1zM537 316l1-1 1 1-1 1zM532 316l1-1 1 1-1 1zM536 315l1-1 1 1-1 1zM465 306l1-1 1 1-1 1zM464 305l1-1 1 1-1 1zM209 253l0 8 4 3 1 3 8 3 6 6 9 5 2 0-2-6-2 0-8-8-14-9zM337 253l-3 0-3-2-5 0-5 4-3 0-3 2-6 1-2 2-3 0 1 2 4 0 15-6 5 0 3-2 5 0zM509 243l1 2 1-1 8 0-5-5zM332 236l-11 3-3 2-7 0-7 5-10 2-5 4-10 1 2 2 1-1 16-1 7-3 3-3 6 0 14-5 1-3zM247 236l3 4 4 2 5 9 10 11 7-4-5-2-4-6-10-6-2-3-5-2zM516 232l2 3 1-1 6 6 5 2 2 3-1-1 0-8-3-1-4-4-3 2zM456 227l-4 4 2 2 5 12 2 2 5 0 1-2-4-5 0-3-4-4zM363 226l-1 4 5 11 0 3 8 11 2-2-1-5-3-3-3-9zM558 225l0 1 5 0zM446 248l5 5 4 0 7 3 17 17 3 1 18 15 1-3 3-1 2 3 11 9-2-6-3-4 1-2 7 4 11 9 2 0 7 9 4 1 3 3 6 3-7-8 1-3 2 4 8 4-2-5 2-11-5-3-3 1-1-3-5-5-8-4-3-4 2-1 5 2 4 5 2-7-3-3-6-2-11-11-4-2-12-11-1 3-1-5-3-2-1-3-4-4-9-6-2-5-4 0 1 4 3 3 1 4-1 2-11-13-1 0-1 3-2-3-3 0 3 6 3 2 6 14 3 3-2 1-8-6-3 1 8 5 5 6 5 3 4 0-7-7-3-7 2-1 6 3 6 10 3 10 3 3-1 2-5-2 2 3 3 0 6-4 1-4-5-6-4-1-2-2 0-2-4-6 0-3-4-4 0-2 4-4 5 8 2 8 8 4 3 4 4 2 5 5 6 3 5 6-1 1-3-1-5-6-2-1-3 1 3 1 6 8 5 2 3 3 1 5 8 6 1 2-4 2-5-1-2-5-3-3-8-4-5-7-5-2-3-3-2 1-6 8-8-7 1-1-1-3 1 3-1 1-12-1-3-3-1-6-9-6-5-5-4-1-5-5zM545 303l1-1 1 1-1 1zM511 285l1-1 1 1-1 1zM483 245l1-1 1 1-1 1zM489 241l1-1 1 1-1 1zM489 237l1 1-1 3-1-1zM476 230l1-1 1 1-1 1zM475 228l1-1 1 2-1 1zM417 225l1 3-2 2 9 9 5 3-3-6 0-5-5-1-3-3 1-2zM387 225l4 14 3 3 1 4 5-4 3 6-6 6 9 4 3 5 0 4 4-1 2-2 5 0 7-3-1 1-10-1-13-12 1-2 3-1 3-3 0-2-4-4 0 2-2 2-6-8-4-1-4-7zM409 262l1-1 2 1-1 1zM412 261l1-1 2 1-1 1zM370 226l3 2 2 9 6 12 4 3 2 4 0 3 4 4 0-2 2-1 11 9 2 3 0-2-4-5-9-8-2 3-2-2-2-5 0-4-5-3-1-5-3-3 0-5-5-8zM343 225l-1 2 3 3 1 7 4 5 2 8 3 4-3 1 1 1-3 2-4-1-1-2-1 2 11 7 7 8 2 0-1-6-7-9 4-3 8-1 0-2-4-3-5 3-2-1 2-4-3-3-10-18zM272 223l3 6 2 10 2-2 6-1 3-2 15-3 5-4 4 0-5-2-11 0-4 2-11 1-7-5z"/><path fill="#d8487c" d="M103 432l3 1 0-1zM442 427l-6-4-11 3-4 3-3 0-4 3-4 1 18-1 11-3zM312 422l-2 5 4 4 0 2 4 0-3-8zM288 422l-1 2 6 7 0 2 1-1 0-5-3-5zM330 413l4 4 4-3-2-2zM450 387l-5 2-4 0-3 2-9-1-3 3-8-1-6 3-11 1-5 2-1 2-3-1-5 2-4 0-11 5-6 1-6 3-3 3-3 0-5 3-4 0-1 2 9 0 3-2 6-1 4-3 10-1 8-5 5 0 8-4 1 1 5-2 5 0 1 1 13-4 4 0 2-2 13-2 6-3zM112 385l-4 2-7 6-4 0-2 3 5 3 5-2 5-5 4-2zM459 382l-5 1 0 1 3 0zM346 383l-3-2-4 3zM321 379l0 6 4 3 2 0 1-1-3-3-1-4zM472 378l5 2 4 4 0 2 2 1 11 0-8-7-5-1-2-3zM492 372l0 1 6 2 3 4 4 1 2-1-6-6-4-2zM369 372l5 3 6-1-6-6zM513 366l6 4 6 2-1 5 9 10 6 0-14-14-1-2 1-1 2 0 5 4 4-1-2-2-2 0-4-5-4-2zM341 365l4 7 9 9 4-2 3 0-6-6-3 0-6-4-2-6zM159 363l-2 2-4 1-4 4 2 3 4-1 6-5zM306 354l-4 6 1 3 13 10-1-3-5-6-1-7zM254 354l3 6 5 2 9 8 4 1 7 6 2 0 3 3 5 2 8 7 3-3-5-3-3-4-6-2-8-9-3-1-2-3-4-1-12-10zM100 348l2 3 2 0 5-3 5-1-3-3-6 0zM169 342l4 4 7 3 12 10 5 2 5 4-1-4-7-4-8-9-7-2-5-4-3-1zM393 337l8 5-3-4zM113 337l-3 2 1 3 3-3zM307 337l2 3 5 1-2-3 1-1-1-2zM185 333l13 9 3 4 11 4 4 4 1-1-6-6-3-1-5-6-3-1-8-7zM417 327l2 2 0-3zM453 329l2 2 3 0 4-2-4-4-2 0zM95 330l-4 1-4-4-3 0-4-3-1 2 6 5 2 4-2 2-6 1-12 11-10 4-3 3 4 0 4 2 5-6 5-2 4-5 11-7 5-7zM373 322l4 15-1 1-3-3-2 4 5-1 8 10 0-6 5-6-4-2-7-7-2-4zM423 324l14 14 1 3-2-16-5-5zM124 314l0 3 4 4 3 0 0-5zM556 302l0 4 2 5-5 4 6 7 2 0 2 2 8-1 1-1-10-8-3-9zM230 304l1 3 8 7 1 3 4 1 6 6 5 1 10 11 6 1 4 5 11 0 2 1-5-5-7-3-6-8-5-2-5-5-5-1-1-5-4-2-6-6-9-5zM325 300l-2 4 8 6 2-3zM416 298l-10 4-3 3-15 3-3 3 5 1 5 3 3-2 5 0 5-4 2 1 3-1 2-2 2 0zM290 293l1 7 2 0 4 5 3 1 7 7 4 0-2-1-1-4-7-6-2 0zM440 292l0 2 12 11 2 5 6 3 11 12 14 6 5 5 0 2 7 4 3 0 1-3-1-2-6-3-6-6-5-2-13-13-7-4-7-8-3-1-3-3-5-1zM412 281l4 3-2-4zM345 276l0 6 3 3 8 3 5 6 3-2-7-7-3-1-5-6-2 0zM531 275l4 5 8 4 6 6 0 2 2-1 3 1-3-1-4-5-2 0-6-7-4-1zM289 274l-1 5 8 7 9 5 6 1 4 3 4-3-2-2-3 0-4-2-9-10-4 0-6-4zM572 273l0 9 1 0zM495 269l2 6 3 0zM364 267l1 6 3 2-4 5 5 5 9-7 0-4-7-2zM444 270l-7-5-6 5-2-2-4 2 5-1 6 2 2 2 2 0zM374 265l-1-1-2 1zM512 261l0 5 3 4-4 3 3 3 5 2 5 7 8 4 4 4 1 3 8 1-3-4-3-1-3-3-1-5-7-4-6-8-4-2 2-2 3 0 4 2-5-2-8-7zM572 249l0 10 1 0 0-9zM439 250l6 5 2 5 4 1 8 7 6 3 9 9 4 1 3 4 8 5 10 3 1-2-1-2-10-7-7-7-3-1-17-17-7-3-4 0-6-5-5 0zM365 248l5 5-2-4zM341 256l-9-1-3 2-5 0-15 6-4 0-2-3 1-1 3 0 2-2 12-3 5-4 5 0 5 2-3-5-4 0-13 5-12 1-6 3-7 0-1 1 9 5 9 8 1-2 16-8 6 0 4-3zM510 246l3 4 12 9 11 11 6 2 4 4 1 3 2 1-8-17-6-3-11-12-6-3-7 0zM389 240l2 3 1 7 2 3 2 0 2-2-4-4-1-5-2-2zM310 237l-2 2-3 0-5 3-5-1-5 1-5 3-5 0-2 1 1 6 10-1 5-4 8-1 4-3zM200 228l12 18 7 4 2 3 4 1 8 9 2 0 5 5 3-1 1-8-5-2-13-12-2 0-5-4-4-5-7-2zM341 227l-3 4 4 5 1 4 4 3 1 4 4 4-2-7-5-7-1-7zM531 225l14 1-1-1zM250 209l3 1 7 8 4 1 3 4 6 3-9-12-4-1-5-4zM198 208l2 8 6 6 7 4 9 8 2 0 8 9 5 1 4 4 7 3 13 10 3 0 3 3 1-1-10-7-4-5-8-6-2 0-5-7-5-1-8-10-2 1-3-4-5-2-8-8-5-2zM206 45l6 3 16-1 9-3 4 1-2-2-6 0-1-1-2 1-17-1zM261 26l-32 2-7 2-7 0-4 2-7 0 3 1 15 0 2-1 6 3 5 0 5-4 3-1 2 1 11-1 4-2zM156 15l4 6 7 6 1 3 5 4 2 4 3 3 2-1-4-8-6-5-1-3-10-9zM139 13l0 3-2 4 6 8 7 6 3-3zM208 1l-9-1-1 1-6 0-15 3-5-3-1 8 5 0 9-3 19 0z"/><path fill="#de3a32" d="M3 388l7 11 0-3 2-4-5-4zM82 372l-6 6-5 3-4 5-4 1 0 2 1 1 11-9 7-7zM0 367l0 5 7 9 1 5 7 2 1-1-4-4-2-5-3-4-3-1-3-3zM22 361l-5 4 0 2 3 3 1 5-1 1-3-1 0 1 3 3 2-2 2 3 1-1-1-4 3-3-2-8zM21 376l1-1 1 1-1 1zM5 355l4 5 1 4 3 3-4-8zM165 328l-3-2-5 3-6 7-4 1 4 0 7-6 6-1zM132 318l-1 6 3 3 6 1 4 4 1-1-2-4-8-8zM142 305l6 9 4 3 6 2-2-6-5-4zM128 299l7 7 3-2-4-4zM242 297l-2 0-4 4 3 0zM163 294l-1 4 4 0 6 5 1-4-4-3zM229 286l-7 2-2 2 3 1 5-3zM153 269l0 3 2 2 9 3 5 4-2-4-10-4zM33 269l-2 2 2 4 0 3 4 7 0 7 2 2 0 3 2 0 2-2 0-2-1-1 0-7-4-10 0-5zM187 260l3 3 1 4 8 7 9-1-7-4-2-3zM111 262l0 2 3 0 10 5 3 3 3-5-3-4-4-2-5-1-2 2zM34 253l8 13 13 8-3-3-1-4-4-4-2-5-5-4 0-2-2-1zM50 212l1 2 5-1-1-1zM158 202l-8 3 3 0 5-2zM190 200l-5 2-3 3-1-1 1-4-3-4-2 3 0 3 4 4-3 4-7 5-5-1-4 3 5 0 1 1 5-2 6-6 5-1 5-5zM13 187l-1 2 1 3 2 2 2 0 0-2-2-2 0-3zM189 183l-4 1 0 5 1-4zM16 148l-4 4 1 6 3 3 1 4 5 8 0 6 6 11 3 3 2-2-3-4 1-2-2-6-3-4 0-5-5-8 0-6zM36 124l5 8 1 8 5 7 3 7 1 6 1 1 5-7 7 8-1 3 1 6 3 4 0 4 4 7 1 9 6 12 1 8 7 12 0 3 4 6 2 7 1-2-2-2 0-10-7-11-3-15-5-11 0-5-6-10-3-7 0-4-3-3 1-1 0-8-3-4-2-11-1-1-1 3-7 6-4-1-4-11-2-2-1-6zM70 116l1 16 6 14 0 9 5 1 4 12 4 6 1-5-3-3-5-9 0-3-2-4 0-5-2-2 0-6-5-7zM25 109l-4 2-3 3 0 2 1 1 0 6 5 7 1 6 3 2-1-4 3-4 0-2-4-6 1-12zM37 102l-2 2 0 4 5 7 6 13-4-15-4-6zM86 95l-4 2 1 5 2 3 0 6 3 3 0 5 2 3 1 8 4-1 0-2-5-10 0-7-2-7 1-2-3-4zM24 93l1 6 3 3zM13 77l1 2 4 1zM105 61l-3 0-2-2-7 0-4 2-7 0-1 1-2-1-5 0-1 1-4-1-7 2-4-1-2 3 18 1 1-1 11 0 1-1 16 0z"/><path fill="#60c298" d="M271 429l2 4 3 0-2-5zM315 417l-2 5 3 3 3 7 5 1-6-8-1-5zM296 419l11 9-1-4-4-4-1-3zM193 415l-2-2-3 0-3-2 0 4 2 2-3 3-5 2-8 11 8-4 8-8 2-4zM117 412l-2-1-6 3 4 1zM448 405l7 3 23 20 0-7-8-8-5-1-8-6zM372 404l-6 0-17 5-8 1-1 3-5 5-9 1 2 3 5-2 3-3 4 1 5-3 4 0 5-3 3 0 3-3 6-3 6-1zM197 403l7 4 8 8-1-2 2-3 5 1 6 18 6-5-3-2 0-4-2-2 5-2 3 3 1 5 4-2-3-9-4 3-4-3-5-1-4 1-13-8zM237 402l1 9 2 4 3 3 3-1 0-3-4-3-1-5zM463 426l-2-3-2 0-6-6-5-2-8-8-3-1-1-4-3 2-3-4-2 0-4 4-6 0-8 4-9 1-1-1 2-2 5-1-7 0-3-2-8 4-5 0-10 6-10 2-5 4-6 8-5 0-3 3-6 1 10 2 8-10 6 0 7-3 3 0 4-3 8 0 4 3 5 1 7-4 5 0 5-2 1 4-2 4 3 0 8-4 11-2 0-5-1-1 0-5 1-1 5 9 4 1 4 4 4 0 4 2 2 3 8 5zM247 398l1 4 4 6 0 4 1 1 5-1-6-11 1-1 3 1zM98 398l-14 9 9-3 3 2-9 8-9-8-2-4-3 1 1 3 4 4 4 9 7 8 2-3-4-6 8-4 5-5 2 0-7-4 5-4zM428 390l-7 1 5 1zM430 389l8 1 3-2 10-2 4 5 5 2 3 3 1 3 5 2 9 8 0-3-4-4 0-3-6-7-11-7-4 2-3-3zM302 384l4 5 6 3 12-4-4-3-8-3-5 0zM189 378l1 5 6 6 6 1 3 6 4 1 7 5 5 0 1 1-2-3-9-7-4-1-8-9-4 0zM151 378l-2 0-3 3-6 0 1 2-1 9 9-9 3-1zM549 377l6 6-1 3 9 1-5-4 3-2-3-4zM171 376l-1-1-4 1-4 5-6 4 0 2 3-1 2-3 6-3zM487 374l8 5 4 5 4 2 3-5-5-1-3-4-7-3zM373 376l-5-4-3 2-1-1-8 0 4 5zM525 371l7 7 4 6 4 3 8 0 1-1-12-12-5 1-5-4zM506 368l3 4 11 0-6-5zM375 368l5 5 12-2-10-7-5 0zM357 364l2 3 3 1zM202 362l1 4 5 5 5 2 5 6 7 2 4 6-1 5 6 2 4 4 6-1-7-6-3 0-4-5 1-4-5-5-4-1-7-6-4-1-2-3zM310 358l1 1 0 5 5 6 1 5 2 2 4 1 2 2 1 4 3 3 9-2-4-6-3-1-1-2-3-1-6-6-5-3zM242 358l-1 7 6 6 8 4 15 12 2 10 3-2 7 0 2-3 5 4 5 2 4-2-5-4-4-1-4-6-4-2-5 2-2-1-8-8-9-5-6-7-6-5zM157 357l-4 0-6 4-6 1-12 10-10 3-7 7 6 1 10-8 8-2 5-6 11-6 3 3 2 0 1-1zM344 356l1 7 0-6zM422 356l3 2 4 0 4-2 2 3 2 0-4-4-4 1-5-1zM123 355l-3 0-19 11-6 1-8 7-3 1-2 2 0 2 8-5 13-4 2-5 3 0 12-10zM205 355l0 2 17 13 8 4 4 4-1-4-16-9-4-4-3-1-3-3-1-3zM344 351l1 2 3 1-1-4zM167 354l11 9 6 1 4 6 7 3 3 4 10 5-1-4-4-2-5-6-2-4 1-4-5-2-12-10-3-1 2 4-5 2zM277 347l-1 1 2 2 1 4 13 11 1 3 5 3 0-6 2-3-2-3-2 0-8-5-5-5zM212 347l9 9 9 2 9 7-5-6-10-4-7-9zM305 345l-1 1 0 6 2 1zM100 345l-3 0-4 3-5 1-9 7 0 8 1 1-1 1 4-4 0-5 15-9zM95 342l-4 2 2 0zM490 339l0 5 7-1zM401 339l2 8 5 10 3 1 5 6 8-2-11-13-5-3zM502 336l-1 6 2-1zM106 336l3 4 2-3zM247 332l-1 4 8 7 6 3 8 1-6-3-7-7-2 0zM220 331l6 7 1 3 2 0 9 8 4 2-1-6-4-2-5-6-3-1-3-3-3 0zM101 331l-5-1-4 2-1 2 6 1zM435 322l9 11 5 4 4 6 4 1 7 8 6-2-2-4-5-4-11-13-2 1-3-4-3-1-4-4zM540 317l6 5 1 2-1 1 3 3 2 0-1-3zM278 317l0 5 2 3 7 4 6 7 5 2 3 3 4 0 11 8 5 0-2 0-5-7-8-1-1-4-9-8-2 0-5-6-5-1-2-3zM69 317l0 8 2 4 2 14 5-5-2-2 0-3-7-12zM104 317l0 2 7 6 4 2 9 8 4 0 6 7 3 1 3-5-6-5-7-4-5-1-8-8-8-4zM505 318l10 8 6 2 5 7 11-3-9-5-11-10-5-3-3 0zM378 314l3 6 5 5 6 3zM386 312l6 5 0 2 4 4 14 9 4 7 3 0 0-3-7-10-3 0-4-2-11-10zM157 309l1 8 2 4 7 5-2 1 3 2-1-2 1-1 5 0 6-4-7-5-5-1zM330 310l-4-2-2 5 3 0zM134 308l-1 3 3 3 5 2 6 8 2 1 4-3-3 2-1-1 1-4-2-3-8-3zM67 307l0 3 1 0zM472 307l0 2 3 3 5 3 7 1 7 4 3 4 4 1 1-3-4-1-7-8-9-7zM83 306l0 6 2 2 5 1 2 2 3-1-9-9zM546 303l2 5 5 5 3-1-7-4zM557 298l0 4 2 1 0-3zM176 298l-3 5 6 3 7 6 2-3 0-3-3-2-3 0zM537 297l5 1 0-1zM417 297l1 10 6-2 0-4 4-5 2 4 4 4 2 0 18 18 9 4 10 0-2 0-4-4-2 2-4-5-9-5-12-14-4-1-6-6-2 2zM363 294l0 2 5 3 6 0-6-6zM154 292l0 1 7 4 1-2-1-2zM122 293l5 5 5 0 8 6 5 2 3-2 0-2-5-5-4 0-5-4-3 0-3-2zM221 292l-3-2-4 2-1 2 3 1zM343 288l0 4-3 2 6 7 4 1 10 9 2 0 1 1-1 3 11 11-1-5-7-11 1-1 2 1-8-7 0-3-3-1-5-5-5-1zM177 288l22 15 7 3 3-1-8-5-4-1-5-4-8-3-3-3zM316 289l4 3-4 4 2 3 5 3 2-3 9 8-2 4 7 5-1 1-6-1-3 2 3 1 6 8 4 1 4 3-3 1-1 2 7 8 4-4-3-3-2-6 6-5 2-4-9-6-7-8-4-2 1-1-6-4-6-2 2-4-1-5-5-1zM494 293l3 4 3-4 4 4 3 1 7 9 4 2 3 0 3 3 8 3 4 5-5-6-6-3 2-2 4 0-1-2-6-2-4-5-4-2-12-12-2 0-1 5-2 3zM91 284l-1 4 5 5 4 1 7 6 1-4zM320 281l-5 1 3 2zM263 281l3 0 6 6 9 1 8 3-8-8-3-1-4-4-5-1zM507 277l-3-3-4 2-4 0 7 6zM407 272l8 8 9-3 4 4-1 2-4 2-6 1-1 4 5-3 9-2 1-2 4 3-5-8-7-5-4 0-2 2-5 1-2-3zM87 269l3 1 12 10 0-2-4-5-7-4zM338 267l-1-3-6 2-2 2-6 0 0 1 5 2 4-2 5 0zM174 265l8 6 6 1 8 8 6 1 8 5 1 2 2 0 5-9-9-5-10 1-9-8-1-4-4 1-4 5-3-3zM185 270l1-1 1 1-1 1zM186 269l3-2 2 1-2 2zM105 265l-6-3-6 6 6 2 1-2zM284 261l2 1-1 3 2 2 8 1-3-3-3-1-3-4zM143 261l9 6-5-8zM66 258l8 10 3 9 0-2 3-4 1 5 3 3 0 11-3 5 1 4 1-3 3-3 0-2-2-2-1-18-2-3-2 3-4-7zM338 261l4 4 5 2 5 6 6 2 4 4 5-4-5-2-7-8-12-8zM346 255l0 1 4 1 1-1zM503 254l9 14-1 4 3-2-3-4-1-9zM357 257l2 3 12-1 4 7-4-7-1-5-10 1zM378 253l-3 3 10 16 3 1 1-1-5-9-5-5zM350 250l0 2 2 2 2 0zM457 249l4 4 4 1 5 5 8 5-2-6-4-4-6-3zM484 245l4 8 7 7 0 8 2 2 6 2-4-6-2-8-5-9zM400 243l-5 4 4 4 3-2zM166 244l7 2 6 4 5 1 3 2 3-2-2-3-5 0-8-6zM362 240l-5 3 2 2 2-2 2 0zM225 237l-2 6 3 1 13 12 5 2 7 7 7 1 3 2 5-4-2-2-3 0-5-3-5-5-10-5-4-4-5-1zM343 248l-7-7-2-6-6 8-14 5-6 0-3 3-12 4 5 0 6-3 8 0 17-6 4 0 5 7 5 1zM415 231l-1 5 2 2 14 8 6 5 0 2-6 5-13 2 9 1 6-4 8-1-2-6 2-2 4 0-8-4-1 4-4-5-6-3-4-5zM461 233l7 13 7-2 9 6-3-3-7-15-1 0 1 1 0 7-1 1-6-8 0-3-2 0zM107 233l4 7 3 12 2 2 0 6 2-1 5 1 2-4 6 4 1-4 2-2 7-1-8-9-8-2-5-3 0 5 4 3 3 0 7 6-2 2-6-4-7-1-2-3 0-5-7-12zM133 252l1-1 1 1-1 1zM137 249l1 1-3 2-1-1zM532 227l0 17 5 10-1 1-8-7-9-3 5 2 11 12 7 4 3 8 5 8-2 2-3-3-1 4 1 3 2 0 4 5 3 1 4 4 1-3 3 2-2-3 1-3 10 5 0-66zM559 288l1-1 1 1-1 1zM536 255l1-1 1 1-1 1zM124 227l0 2 3 0 7 4 8 2-7-3-3-4-6-2zM527 225l-5 2 1 4 2-1zM96 224l-2 0 1 2-4 2 1 1 0 10 2 2 6-5-3-5zM167 218l-6 0-14 7-2 4-3 2 2 5 3 2 8-8 7-3-1 1-3-2 5-6zM244 221l1 4 4 2 3 0 15 14 4 1 2 3 4 2 3-3 5 0 5-3 5-1 5 1 5-3 3 0 3-3 7-1 9-4 3-5-9 0-7 3-6 0-5 4-15 3-3 2-6 1-2 2-4-5-5-2-17-15-4-1zM111 215l-1 3 3 5zM208 213l8 8 5 2 3 4 2-1 8 10 5 1 5 7 2 0 8 6 4 5 10 7-10-11-5-9-3-1-7-8-3-1-9-9-6-2-4-4-10-5zM190 195l-6 4-2 5 3-3 5-2z"/><path fill="#e6d652" d="M109 431l-2 0 0 2zM203 416l-4 0-6 6-9 5-3 4-4 2 8 0 6-8 3-1 5-6zM63 404l6 7 3 7 8 7 1 5 5 3-2-2-3-8-5-6 0-3-7-8zM2 401l5 8 5 5 1 5 5 5 2-2-4-4-2-5-6-6-1-3zM97 398l-1-1-8 1-6 6 2 2 8-6zM134 393l-3 3-8 4-6 7-6 1-5 3 2 2 2 0 11-6 13-11zM191 387l-1-1-3 3zM113 385l2 5 6-3-4-3zM35 384l2 3 1 7 2 2 0 4 5 10 1 8 3 5 1 6 2 2 0 2 4 0-4-3-3-5 0-15-4-12-5-8 0-5zM108 381l-6 3 2 0zM81 376l-16 14 3 0 10-5 2-2zM121 354l-4-1-9 1-9 8-5 1-6 5-1 5 8-7 6-1 9-6zM117 341l-1 4-2 1 1 1 2 0 2-3zM108 340l-3-3-2 0-5 4-1 3 3 0 3-3 5 0zM177 338l8 4 6 6 4 1 3 3 6 3 1-1-4-1-4-4-5-2-11-11-2 0zM95 336l-4-1-8 7-7 4-4 5-5 2-5 6-4-2-5 0-1 2-6 2-6 7-2 0-6 6 10-1 5-6 3-1 7-6 2 0 3 4-1-1 1-4 3 1 6-5 14-7 7-6zM135 328l1 6 5 3 2-5-3-3zM210 317l1 4 6 1-5-6zM171 315l3 3 2 0-2-3zM184 315l2 2 6-1-4-4zM133 312l-1 5 3 1 4 5 8 4 1-2-5-4-1-3-6-3zM216 313l11 10 5 2 3 4 4 1 4 4 3 1 1-4-6-4-2 0-5-6-3-1-11-9zM73 308l-6 3 0 2 2 2 1 6 7 12 0 3 3 1-3-5 0-5 2-3zM54 307l4 5 1 10 5 2-1-5-3-3 0-5-3-1zM161 298l-2 4 11 6 1-4-5-5zM108 296l0 4 8 2 5 4 3-1 0-2-3-2-2 0-8-5zM11 285l-2 2 1 11 3 5 3 13 4 5 0 6 3 6 0 5 2 5-2-6 0-10 1-1-1-9-4-5 0-7-2-3-2-11-2-5zM135 279l-10 8 0 3 5-3zM154 274l1 3 8 8 1 3 3 0 14 8 5 1 4 5 4 1 5 4 4 1 3-1-7-3-12-9-5-2-10-10-4-1-2-3zM113 271l5 3-1-2zM83 269l9 9 9 4 3 3-1-4-3-1-10-9-4-2zM111 270l-3-2-2 2-4 1-1 2 2 2 3-3zM90 261l3-1-3 0zM287 255l-7 1-33 22-32 18-2 4 0 3 9-3 29-17 32-22zM83 251l-3 6 0 4 2 2 0 3 4-4-1-8zM157 249l4 2-1-4zM163 245l7 4 5 5 9 2 4 4 10 5-2-5-3-1-5-5-4-2-3 0-16-8zM3 244l-1 2 3 3 4 11 4 4 1 6 6 7 3-3-1-4-10-12-1-3-3-2-2-6zM170 229l-6-3-3 3-6 2-7 7 0 4 2 1 4-5 2 0 4-4 4-1zM98 192l0 3 1 0zM190 183l1 11 5 6 12 10 13 6 4 4 6 2 2 2 0-8-5-2-9-8-5-2-6-8-5-1zM305 171l0 3 2 0-1-3zM294 166l-2 2 1 7 3 2 2-2-2-2 0-3zM261 165l14 12 2 3 4 1 10 10 6 3 4-3 0-2-18-15-7-3-5-4-5-1-3-2zM213 163l7 6 2 10 2 2 4 1 8 8 4-1 10 10 1-1-3-5 1-3 6 5 4 1-1-3 1-6-1-2-5-2-6-6-10-6-2-3-3-1-6-5zM247 190l1-1 1 1-1 1z"/><path fill="#eee2ba" d="M213 49l3 3 3 1 7 8 3 2 1-1-1-5-5-5-7-1zM75 35l0 2 4-1 6 1-3-2zM77 45l6 1 6 3 4-2 15 2 1-1 14-1-1-3 2-3-8-7-5 0-1 1-2-2-8 0-1 1-5 0-3 4-2 0 10-1 1-1 1 1 3-1 4 1 10-1 3 6-1 3-8 0-1 1-3-1-5 0-1 1zM308 29l-8 7-7 1-11 11 3 2 5-4 2 0 3-4 5-1 8-8zM127 25l-8 6 12 10 1 4 3-3-2-2 0-3 5-2-4-6-5-4zM169 15l1 3 22 22 2-2 5 1 15-1 1 1-2 2 17 1 13-3 0-2-2-1-3 0-2 2-9 0-1-1 3-1 0-1-5-2-2 1-15 0-4-2-10 1-3-2 5-1 3-2 11 1-5-5-3-1-7 4-8 0-5-2-8-8zM81 14l14 9 2-1 10 2-4-5-8-5-5 1zM300 12l-3-1-4 4-4 1-3 3-5 1-7 7-7 3-3 4-4 1-3 3 9 0 4-2 6-7 8-6 6-2 2-3 5-2zM271 8l-37 1-3 2-3 0-2 2 6-1 1 1 16 1 3-2 3 1 12-1 3-1zM84 4l4 4 4-1-5-1zM140 2l-1 2 3 2 2 6 8 6 1 4 3 1 6 6 0 2 13 13 3 0-6-10-5-4-1-3-7-6-4-6 10-2 5-5-1-1-7 0-11 3-5-1zM289 7l6-7 5 0-9 0-3 4zM265 0l5 0 3 2 1-2zM59 0l0 2 7 14 4 4 1 5 3 3-2-10-4-6-3-11z"/><path fill="#e26456" d="M218 403l3 4 11 6 1-4-4-4zM531 368l1 2 2 0 2 2-3-4zM531 361l-6 2 3 2zM268 348l5 4 5 2 0-2-3-4zM290 343l5 2 5 6 3 1 1-8-2-2zM241 342l1 5 4 1 4 5 3 1 5-2-9-8zM460 331l4 3 2 5 6 4 7-3-4-5-1-4-3-1-3-3zM358 320l-4 5 1 3 9 9 7 1 1-5-4-2-4-5-3-1zM503 311l3 4 2-1-2 0zM322 305l0 5 1 1 2-4zM324 277l-3-4-9 5 2 3 4 0 3-2 3 0zM271 276l10 6 5 6 4 2 12 0-6-3-9-9-4-1-6-5zM286 258l4 4 6-1-4-1-3-3zM395 254l-1 3 15 15-1-9-3-5zM458 246l4 3 10 4 0-3-2-4-4 2-5 0zM413 229l2 1 0-1zM339 229l-8 0-13 6-7 1-4 7 4-3 7 0 3-2 12-3zM428 225l3 1 14 11 2 0 7 5-3-5 0-6-5-3-3 0-3-3z"/><path fill="#c496d6" d="M289 157l-2 3 1 6 3 2 3-3zM297 119l-4 4-6 2-4 5-13 5-7 8-4 1 4 3 1-4 5-4 5 1 3-1 3-3 4-1 13-11zM308 107l-1 1 1 3zM265 106l-2 0-8 8-7 2-6 5-4 0-2 3 3 3 2 0 3-4 4 0 3-4 7-2 3-3zM303 106l-1-1-7 4-3 4-6 2-7 8-3 1-6 5-6 2-3 4-3 1-3 3-4 1-5 5-4 0-3 4-5 2-2 3 1 1 2-2 11-5 5-5 3 0 3-4 8-6 12-5 2-2 2 0 5-6 13-6 1-3 3-3zM269 90l-5 4-5 1-5 6-7 2-9 13 1 1 22-17 5-1 2-2zM251 85l4 1 3-2-5-2zM240 51l-4 2-1 2 8 8 0 2 2 1 2-6-5-5 0-2zM214 51l-1 1 7 8 0 3 9 7 1 4 3-1-3-8-11-11zM280 35l-26 15 0 5-2 4 5-2 5-6 2 0 6-4z"/><path fill="#ecbe46" d="M285 262l-3 0-31 22-33 19-10 3-21 14-7 2-75 48-40 23-6 10 5 0 1 1 7-1 68-45 37-21 48-30 55-38z"/></g></g></g><rect x="108" y="7" width="58.0" height="41.0" fill="#fff"/><rect x="415" y="7" width="267.0" height="227.5" fill="#fff"/><rect x="585" y="393.6" width="97.0" height="47.4" fill="#fff"/><text x="129.5" y="35.0" font-family='"Liberation Serif",serif' font-size="21" fill="#222">(a)</text><text x="611.6" y="419.6" font-family='"Liberation Serif",serif' font-size="20" fill="#222">2 μm</text><rect x="620.2" y="431.2" width="21.8" height="2.8" fill="#555"/><g fill="#c5323b" stroke="#8c3a40" stroke-width="0.7"><rect x="460.4" y="29.2" width="7.1" height="166.0"/><rect x="467.5" y="135.1" width="7.1" height="60.1"/><rect x="474.6" y="122.5" width="7.1" height="72.7"/><rect x="481.7" y="140.8" width="7.1" height="54.4"/><rect x="488.8" y="154.0" width="7.1" height="41.2"/><rect x="495.8" y="164.9" width="7.1" height="30.3"/><rect x="502.9" y="170.0" width="7.1" height="25.2"/><rect x="510.0" y="172.9" width="7.1" height="22.3"/><rect x="517.1" y="178.0" width="7.1" height="17.2"/><rect x="524.2" y="181.5" width="7.1" height="13.7"/><rect x="531.3" y="184.9" width="7.1" height="10.3"/><rect x="538.4" y="186.6" width="7.1" height="8.6"/><rect x="545.5" y="187.8" width="7.1" height="7.4"/><rect x="552.6" y="189.5" width="7.1" height="5.7"/><rect x="559.6" y="188.9" width="7.1" height="6.3"/><rect x="566.7" y="190.0" width="7.1" height="5.2"/><rect x="573.8" y="192.9" width="7.1" height="2.3"/><rect x="580.9" y="192.3" width="7.1" height="2.9"/><rect x="588.0" y="191.8" width="7.1" height="3.4"/><rect x="595.1" y="192.9" width="7.1" height="2.3"/><rect x="602.2" y="193.5" width="7.1" height="1.7"/><rect x="609.3" y="193.5" width="7.1" height="1.7"/><rect x="616.4" y="193.5" width="7.1" height="1.7"/><rect x="623.5" y="194.1" width="7.1" height="1.1"/><rect x="630.5" y="193.5" width="7.1" height="1.7"/><rect x="637.6" y="193.5" width="7.1" height="1.7"/><rect x="644.7" y="194.1" width="7.1" height="1.1"/><rect x="651.8" y="194.6" width="7.1" height="0.6"/><rect x="658.9" y="194.1" width="7.1" height="1.1"/></g><rect x="453.3" y="23.5" width="212.7" height="171.7" fill="none" stroke="#7f8b8f" stroke-width="1.3"/><g stroke="#8a9598" stroke-width="1"><line x1="453.3" y1="195.2" x2="456.3" y2="195.2"/><line x1="453.3" y1="166.6" x2="456.3" y2="166.6"/><line x1="453.3" y1="138.0" x2="456.3" y2="138.0"/><line x1="453.3" y1="109.3" x2="456.3" y2="109.3"/><line x1="453.3" y1="80.7" x2="456.3" y2="80.7"/><line x1="453.3" y1="52.1" x2="456.3" y2="52.1"/><line x1="453.3" y1="23.5" x2="456.3" y2="23.5"/><line x1="453.3" y1="195.2" x2="453.3" y2="192.2"/><line x1="524.2" y1="195.2" x2="524.2" y2="192.2"/><line x1="595.1" y1="195.2" x2="595.1" y2="192.2"/><line x1="666.0" y1="195.2" x2="666.0" y2="192.2"/></g><g font-family='"Liberation Serif",serif' font-size="16.6" fill="#222"><text x="450.8" y="201.6" text-anchor="end">0</text><text x="450.8" y="173.0" text-anchor="end">5</text><text x="450.8" y="144.4" text-anchor="end">10</text><text x="450.8" y="115.8" text-anchor="end">15</text><text x="450.8" y="87.1" text-anchor="end">20</text><text x="450.8" y="58.5" text-anchor="end">25</text><text x="450.8" y="29.9" text-anchor="end">30</text><text x="453.3" y="213.0" text-anchor="middle">0</text><text x="524.2" y="213.0" text-anchor="middle">1</text><text x="595.1" y="213.0" text-anchor="middle">2</text><text x="666.0" y="213.0" text-anchor="middle">3</text></g><text x="559.1" y="227.5" text-anchor="middle" font-size="16" fill="#222" font-family='"Liberation Serif","Noto Serif CJK SC",serif'><tspan font-style="italic">α</tspan> 片层尺寸 / μm</text><text transform="translate(429.8,106.3) rotate(-90)" text-anchor="middle" font-size="16.5" fill="#222" font-family='"Liberation Serif","Noto Serif CJK SC",serif'>体积分数 / %</text><g><clipPath id="cpb"><rect x="689.5" y="10" width="569.0" height="428.0"/></clipPath><filter id="blb" x="0" y="0" width="1" height="1"><feConvolveMatrix order="3" kernelMatrix="1 2 1 2 4 2 1 2 1" edgeMode="duplicate"/></filter><g clip-path="url(#cpb)" filter="url(#blb)"><rect x="685.5" y="6" width="577.0" height="436.0" fill="#3a3438"/><g transform="translate(686.5,7.5)"><path fill="#e8703c" d="M222 234l-6 0-5 4-3 0-4 2-3 4 4 3 3-3 2 0 7-5zM89 233l1 2 9 5 3-2 7 6 2 0 3-5-3-4-5 1-3 2-9-7zM159 215l1 9 5 1 1-1-1-3zM141 211l-8 4-1 2 4 4 0 5 2 3 8 4 3-3 4-1 0-1-7-7 0-2zM183 208l-1 3 3 0 1-1zM160 200l5 3 13-1 3 2 12-3-14-1-1-1-6 0-3 2zM107 186l6 8-4 7 0 2 7 7 4-6-1-7-7-10zM130 180l-5 7 2 4 4 3 10 1 0-2-6-11-3-3z"/><path fill="#3450ac" d="M311 430l-1 3 2 0zM435 429l-3-3-1-3-11 10 12 0zM303 424l6 3-1-3-2-1zM561 376l-10-1-8 2-3 2-5 0 3 1 9 0 2-1 1 1 0 7 7 0-1-9 2-2zM515 375l-6 7 0 5 6 0 0-5 2-3zM493 375l2 2 3 0 1-7 3-2 11 2 1-1 6 0 5-3-5 0-1 1-2-1-3 1-11-1-3 1-3 3-5-4 3 6zM569 365l-1 7-3 3-2 0 1 7 3-1 2-3zM553 366l-9 1-3-2-3 0-5 2-6 0-3 6 5 2 5 0 8-4 5 0zM2 355l-2 0 0 24 3-5 1-17zM574 338l-4 2-6-1-5 3-4-1-12 1-4 2-12 1-10 3-9 0-6 3-10 1 5 1 5 4 0 6 17-1 2-2 10-2 0-5 1-1 9 1 14-4 8-4 4 2 8-1zM547 334l-4-3-3-5-10 0-14 6-6 0-6 7-3 1 5 1 4-2 8 0 1-1 6 1 5-4 8 1zM511 324l-5-4-9 4-2-1-8 1 0 3 1 2 5-3 5 1 8-3zM446 318l0-5-2 1-3-1-4 2-10-1-1 1 5 7 7 2 5-5zM340 313l-3 0-2 3-1 13 2 2 0-3 3-2 1 3 2 0 0-3-2-3zM340 297l1 4 6 6-1 7 3 3 4-4-3-4-1-6-4-7zM9 296l-9 2 0 6 4-2zM564 296l8 4 3-1 0-3-3-1zM318 295l0 14 3 10 3 0 2-1 1-3 0-8-1-1 1-5zM507 298l3 6 9-3 18-1 0-2-3 0-4 2-6 0-2-2-1-4-3 3-5 2zM353 292l7 8 1 6 6 13 0 5 5 7-6-15 0-15-3-6zM416 290l-4-3-6 2 0 1 5 1zM352 281l0 4 3 0 8 4-3 2 5 2 5 4 12 0 1 1 0-6-1-1-5-1-5 1-8-3 10-2 9 0 5-1 3-2-7 0-10-4-8 3-5 0-3-2zM411 279l0 5 6-2 10 0 1-1 6 2-4-4-7-2zM355 270l1 2 3 1 15 1 1 1 14-1 4-3 0-1-7 0-5-2-5 2-5 0-3-2zM326 268l0 6 2 3 0 7 4-9 0-4zM477 270l-4-4 2-1-3-1-10 2-4 2-5-2-10 1 2 5 21 0 5-2zM334 263l6 5 4 0 3 2 2-1 0-5-6 0-3-2-5 0zM416 261l-3 2 0 7 2-1 2 1-3-5 4-3zM567 252l-3 0-2 5 4 6 1 3-1 2-2 0-4-4-3-1-5 2-9 1-5 6 10 1 9-3 8-1 2 7-1 1-3-1-6 4-3-1-14 2-3 5 16 2 11-4 4-3 3 1-1-1 1-1-1-23zM547 255l-1-3-5 0-1-1-5 1-2 2-8 0-4 2-1 6 3 0 6-3 8 1 5-3 3 0zM540 252l1 1-1 3-5 3-2-3 3-3zM92 251l7 3 8 7 6 0-1-2-4-1-4-4-1-3-4 1zM203 247l-2 9-2 2 1 4 3-7 3-3 0-2zM113 247l0 2 2 1 2 4 5 0 1 1 7-1-5-5-6 0-3-2zM438 247l-4-1-5 3 4-2zM326 240l2 3 0 3 3 4 10-6 12-1 14-4 13 0 1 1-5 5-3 1 8 0 1-1 8 1 7-3 4 7-4 2-5 0-1 1-8 0-1-1-22 1-2-1-9 3-5-1-2 2 2 0 11 6 3 0 0-2 4-3 3-1 6 1 5-3 6 0 1-1 3 1 17 0 2 3 6-4 4 0 10-10 7 0 10-2 1-1 0-6 2-3-5 1-9-1-6 4-5-1-6 2-10-1-3 2-5 0-2 3-11 0-1-4-3 0-4-2-8 0-1 1-5-1-4 1-4 3-5 0-5 5-5-5-5 1-3-6-4-3 1 3zM458 231l0 5 4 1 6-1 2 2 0 3 3 2 4 0 13-5 10 1 3-2 6 0-1-5-6-2-32 6-4-7-4 0zM536 225l3 3 3 6 0-5-4-4zM359 227l2 1 3-1 1-2-6 0zM343 225l3 6 4 3 4-3-4-5zM132 226l5 8 8 7 3-1-3-7-6-2-4-6zM92 219l5 7 3 0 7 7 3 0 3-2-8-7zM4 217l-4 3 0 28 2-2 3-8 0-3-2-3 0-3 2-3 0-3-2-1zM108 204l-3 3 6 2 3 3 1 3 2 1 1-3zM172 205l4 0 4 2 11 0 1 1 8-1 3 2 8-2-2-2-5 1-5-2-7 0-1-1-4 0-3 2-9-2zM165 192l4 2 7-1 1 1 14 0 1 1 5 0 1-1 5 0 1 1 13-1 1 1-1-6-23 0-1-1-12 1-4-1-4 2-6-1zM121 183l-5 4-3 0 7 10 0 5 10-6 0-2-4-3zM221 180l0 2 7-1-1-1zM242 179l-2 1 1 2 0 11 5 6 1 7 3 2 1-4-2-4 2-3 0-3-2-2 0-3-4-5-1-4zM278 178l-2 0 0 3zM263 175l2 9 0 8 2 0 3-2 0-3-2-3-1-6zM145 175l-3 0-7 5 7 13 9-4-3-4zM159 168l2 4 4 1 16-1 1-1 5 1 1-1-1-2-10 1-3-2-5-1zM87 166l1 2 4-1zM82 167l-4-1-3 2-5 1-9 0 1 4 12 1 3-2 3 0zM83 164l-1-1 1-4-5 2-14-1 3 4 5 1zM238 156l-4 2 2 5 2-4zM219 156l-4 7 0 3 2 2 5-3 6 13 2-3 4-1 1-7-4 7-1-4-6-2-2-5 0-6 1-1zM145 157l2 2 8 0 1 1 8-1 4 1-5-4 1-1 2 1 8-1 4 2 2-1-2-4-6 0-1-1-8 1-1-1-2 1 2 2-1 1-5 0-4 2zM280 145l-3 2-1 6 5 4-1-2 1-9zM118 144l3 3 3-2-4-2zM56 144l0-2-1 1-9 0 1 2 8 0zM228 137l-1 9 3 13 2-2 1-18zM83 132l-3 3 6 2 8 8-5 2-1 2 5 10 0 3 3 3 2 0 5-9-5-6-1-3 2-1 4 3 4-1 0-1-7-4-8-9-5-2zM119 131l3 4 5 3 1 5 5 0 4 4 1 5 2 0-4-6 1-1 14 0-1-2-5-1-11 0-3-3-1-3-8-2zM181 129l-2 0-3 3-3 1-8 8 4 5 4-1 7-6 2-3zM169 129l-6-2-5 3-1 2 3 4zM232 117l-12 6-3 0-1 6 1 1 8-8 4-1zM181 113l3 3 5-2-1-1zM249 110l-2 1-1 4-4 3 2 6-1 6 2 2 1 4 5-4 0-4-2-3 0-10-1-1zM132 110l1 1-2 2 3 1 7 9 1-2 5 5-1 4 5 0 1-1 3 1-4-5-4 1-1-1 1-3-3-1-6-6-3-5zM132 113l1-1 1 1-1 1zM154 109l4 5 7 2 4-1 0-2-2-2zM96 106l5 4 4 1 6 8 7 3 7 8 5 1 4 4 2 5 3-3-9-10-5-2 1-1 6 0 1 1-1-3-3-3-11-7-4 2-6-5-5-1-5-3zM238 103l-2 2 1 4 2 0 2-2zM187 103l11 8 2-1 0-2-3-4zM69 103l-2 3 3-1zM0 104l3-2-3 0zM181 100l-7 4-4 5 2 6 7-2-5-5 9-5zM257 87l0 5 6 5-1 1 1 7 2 0 4 5 0-8-2-4 0-9 1-1-6 2-3-3zM10 90l0-3-6 1 2 3zM199 86l-2 5 3 5 3 2 4-3 3-5-7-1zM138 86l-5 5 4 3 5 7 2 0 0-2-6-10zM0 78l2 1 5-5-7 0zM221 72l-1-1-3 1-7 7 0 3zM160 71l-2 1 1 3 2-2zM105 69l-1 2 5 2zM209 68l-9 2-7 7 6 1zM0 62l0 2 2 0zM228 61l2 5 4 2zM75 61l-9 1-3-2-5 0-1 1-16 0 0 2 12 0 3 2 3 0zM90 61l5 0 1 1 12-1 7 6 0-4-3-1-3-3 0-2-15 1zM199 56l0 3-3 5 2 3 2 0 0-9zM240 60l17 10 0-6 1-1 5 5 5 1 5 3 1-5-6-7-12-3-6-4-2 1-1 3-4-2zM120 54l-1 3 9 8 3 0 5 5 5 0-15-16-2-1zM142 50l5 7 9 5-1-3-7-7zM193 49l2 0 3 3-2-5zM11 50l10 2 3-3 5 1 8-1-9-2-7 0-1 1-5-1zM183 28l-4 4 4 16-2 1-5-5 0 9 3 6 1 7 3 1 0-3 3-6 1 1 0 5 3 6 2-1 4 1-4-5 1-7-4-5 0-6-3-5 0-5zM57 23l0 4 1-1 8 1 1 1-1 1 1 7 6 3-6-11 0-3 2-3zM148 21l1 3 2-2zM102 23l1 5 2 2 2 6 5 6 4-1-4-6-2-6-4-4 0-3-1-1zM119 16l1 6 6 8 1 5 1-4-4-12-2-3zM66 8l0 2-3 3 2 2 4-2zM293 0l3 1 3 3-2-4zM263 0l-6 0 3 3 0 8 3-3zM145 0l-4 3 0 6zM124 0l5 11 3-1 2-3-3-4 0-3z"/><path fill="#70c24e" d="M130 433l32 0-3-3-10 1-1 1-6 0-3-2-3 0zM72 428l3 5 4 0-4-6zM309 424l4 9 10 0-1-7zM266 423l-3 10 4-1zM59 422l-1 1 1 3 8 5-1-3zM11 424l5 5 2 4 10 0-1-5-8-6zM296 428l-5-1-1-6-9 6-1 6 4 0 7-6 1 1-1 5 4 0zM413 418l-5 3 4 5zM0 417l0 13 4 0-1-4 1-2zM378 415l0 3 3 3-1 1 0 6 7 1 1-4-2-1 0-3zM211 415l-4 1 1 1-3 7 1 1 0 7-1 1 7 0zM479 413l-6 8-6 2-1 5-6 5 13 0 4-2 2 2zM386 413l4 1 1-2zM25 412l2 10 4-4 0-3zM258 411l-2 4 0 8-2 4 1 6 5 0-1-1 0-5 2-4-3-5 1-2zM181 411l1 2 0 5-1 1 1 1 3-2 11 0-3-7-4-1zM192 407l1 2 0-2zM303 396l-2 6 6 3-1-6zM30 394l-8 6-2 3 4 5 5-2 5-8zM479 395l-5-2-14 14-4 7 2 6-6 6-1 3-3 3 1 1 9 0 0-3 2-3-1-8 6-7 3 0 8-8 0-3 3-4zM380 392l2 6 3 3 5 1 7 4 2 0 3-3-3-4-4-1-4-3-5 0-2-2zM0 389l0 11 1 3 3 1 4-2 0-5-2-4zM148 388l-2 3-1 5 1 1 0 5-2 4-2-2-3 2-12-1-5 4 5 4 10 0 3-1 3-3 7-1-2-1 1-4-2-6 0-8zM136 390l-1-2-2 1zM373 387l-7 0 0 3-4 7 4 0 2 2 0 2 2-5 3 1 1-1zM305 387l0 2 1 0zM495 387l-1-1-1 1zM22 385l-5 3-4 5 0 5 4 3 4-4 0-2 4-6zM537 382l-1 3 2 2zM266 380l-2 3 0 6-1 1 1 8 2 0 5 6 3-14 0-9zM49 380l-2 0-5 4 3 11 4-2zM331 378l-2 5-3 2 1 1 0 6-1 1 1 5-2 1-4-4 4 7 1 5 4 1 5 4 4-1 11 12 1 5 8-3-2-5 0-5-11-9-1-4-12 0-1-1 4-6 0-3-2-3 0-7 1-1-1-3zM410 377l-1 1 4 4 1-3zM562 376l-5 2 0 3 4 5 2-2zM224 376l-4 5 0 5 4-5zM287 374l0 7-3 5-2 9 2 2 1 4 7 3 2-5 1-13-1-5zM514 374l-5-1 1 2 0 5-1 1 5-5zM468 379l-4-1-1-2-6-3-2 5-3 3-5 1-5 5-3 6-6 7 3 3 5-2 4-4 4-7 10-8 1 4 3 2 1-2-5-4 2-2 3 2 3 0 2-1zM462 378l1-1 1 1-1 1zM246 373l1 6-2 4 1 4-1 8 4 7-2 4-2 1 0 2 4 2 0-4 2-5-2-5 1-9-2-5 2-7zM481 371l-5 2-1 2 2 0zM182 370l-1 2 0 21 3 5-2 5 1 1 6-13 0-15-2-5zM471 367l0 1 3 0zM335 365l-1 4 2 4 5-1-1-5zM363 364l-4 1-1 2-9 2-2 8 1 12 8 1 1-5 7 1-8-4 1-3-2-2 3-2-1-7 1-1 3 1 2-2zM354 383l1-1 1 1-1 1zM245 363l-3 4 3 2zM371 362l-2 7 5 5 2 0 4-4 2 0 9 7 4 1 3 4 6 2 1-3-1-2-4-2-3-4-7-4-2-3-3-2-3 0-2 2-4 1zM260 359l2 14 3 1-1-6 4-7zM501 357l-9 1-6 3-5 0 7 3 3 0 2 2 3 0 2-2 3 0zM93 357l-1 2 0 9 1 1 1 10 5 1 1-1 0-9 2-3-1-7-4 0zM442 355l-1 1 3 2-1 4 3 6 5-4-6-8zM389 358l2 5 4 4 5 0 6 6 4-1-2-3 0-4 5-4 1 3 13 7 5 6 6 0 3 2 2-3 0-3-7-2-2-2-1-4-4-1-4-3-10 0-12-9-5 1 6 7-1 2-8 0-3-1zM575 351l-4 5-13 0-4 2-7 1-1 2 7-2 7 0 1 1 8-1 1 1 0 5 5 1zM249 351l2 2-3 7 6 4 2-6 0-6-5 1zM114 351l-1 0-1 4-4 5 5 5 3-7zM162 350l-2 7 0 15-1 3 2 5 0 8 2 6 0 5 3 0 0-5-1-1 1-22-3-6 0-15zM123 350l-1 2 0 13 1 1-1 6-1 1-4-3-1 1-9 0-3 2 0 3 6 0 3-2 10-1 4 2 0-4 2-2 0-3-2-3 1-9zM278 347l-1 2 1 1 0 6-1 1-9-3 2 5 4-2 2 1-1 16 3-3 6-3 0-9-1-1 1-5zM314 343l-1 2 1 3 3 1 1-4zM200 343l1 14 3 3 4-4-4-10zM18 340l-3 8 0 6-1 1 0 4 3 3 2-5zM134 336l1 11 2 6-3 8 1 14 5 1-1-2 1-3-1-14 1-2-5-11 2-5zM297 333l1 2 3 0zM42 333l-1 7 2 4-2 4 0 11 1 2 3-2 1 1 0 7 2 3 0 5 4-3 4-1 3-5 0-3-5-5 0-4-6-7-1-10zM373 332l5 5 2 0 2-2 3 3 4 1 10 11 3-3 2-6-1-2-4-1-5-5-6-1-5 2-6-3zM340 330l-2 9 5 4 1 8 7-5 0-3-1-2-5-3-2-7zM231 329l1 8 8 6-2 3 3 7 2 1 3-2-2-9-6-9-5-5zM239 345l1-1 1 1-1 1zM430 327l3 9 7-3 3 6 12 1 1 1-4 6 4 2 15-4 10 0 4-2 0-1-6-2-3-3-5 0-5 3-3-1-7 1-1-1 0-8-12 1-5-1-3-4zM523 328l-5-3-2 1-10-1-8 3-5-1-6 4-6 0 0 2 9 1 2-2 4-1 8 1 2-2 4-1 8 1zM210 323l-6 4 0 7 7 6 1 8 6-1 3 4-2 1 4 7 0 5-1 1 2 8 5 5-2 4 0 14-7 11 0 6 1 1-1 16 1 3 5 0 0-4 5-6-1-9 2-9 2-3-1-17-1-1 1-9-1 1-1-1-2-18 1-1 5 5 0-2-2-3-1-5-6-6-1-5-7 7-1-1 0-6-5-8zM228 356l1-1 1 1-1 1zM108 324l-4-1-8 11-6 5-1 3 6 4 2 0 12-13 1-7zM146 321l-6 5 1 1-1 6 1 1 1 11 4 4 1 5 1-7-3-6 2-4-1-4 1-11zM58 320l1 12 3 0 2-8zM129 319l-8 0-7 6 2 7 7 0 2-2 0-7zM483 315l-10 2-3 2-8 0-9 2-8-2-4 3 1-1 1 1 9 0 2 5 3 1 7-3 6 0 10-6zM345 314l-1 3 3 8 7 8-1 1 1 13-2 3 0 4 1 2 4 1 0-5 1-1 4 4 1-5-1-2 0-9-6-5-6-11-1-5zM356 351l1-1 1 1-1 1zM355 350l1-1 1 1-1 1zM353 348l1-1 1 1-1 1zM42 312l-13 2-4 10 0 6 2 3 0 5 7 0 0-8 4-3 4-7 1-5zM88 315l-6-4-2 6-8 7 1 2-3 2 1 2 5 1 0-2 7-6 1-3 4-3zM328 308l-1 12 1 3 5 3 1-10 2-4-4-4zM310 307l2 10-1 1 0 12 5 0 1-5 3-3-1-9-2-6zM249 309l3 6 9 12 8-4-6-6-2-6-4-5zM169 306l1 4-2 10-1 1-7-1 0 5-1 1 8 10 4-7-2-7 2-1 4 2-1-14zM0 305l0 5 1 3 3 2-1 2 4 10 0 4 1 0 4-7-2-6 1-7-6 2-1-2 2-4zM3 313l1-1 1 1-1 1zM425 311l1 2 6 0 1 1 4 0 4-2 3 1 8-3 2-4-4 1-6-3-17 0-2 1zM367 312l10-3 6 1 2-4-8 0-10-2zM150 303l-1 13 1 3 3 2 3-1-2-4 1-11zM198 298l0 9 4 5 5 2-1-2 1-6-4-1-4-4zM96 294l-6 4-5 1-4 5-3-2-3 1-14 15 8 1 5-9 6-7 3 5zM551 294l-2-1-17 1-7 3 0 1 5 1 15-5zM554 293l9 3 2-1 0-3zM41 292l-3-1-12 4-7 9 2 2 4-2 9-7 4-1zM332 287l12 3 6 0 1-1 9 1 2-1-7-3-11 0-1-1-6 2zM275 283l-4 3 4 3 5 9 5 5-3 2 2 7 4 4 1-3-3-7 1-7-6-8 0-2zM217 282l1 7 3 4 0 4 2 5 3 1 5-4 7 10 2 10 2 3 2 0 3-3 0-5-12-12-3-15-2-2-5 1-2-2zM164 282l-3 12 2 3 0 3 4 1-1-4 3-5-1-4 1-4zM261 280l-4 5 2 7 10 9 4 2 2-2-3-4-1-4-4-7zM75 283l-3-3-4 3-7 1 4 1 4 5zM140 282l-3-1-9 11-4-6-3-2 0-4-5-1-2 3 0 5-1 1 2 3-8 12-2-1-7 1-3 4 0 2-5 6 3 4 5-4 1-4 8-8 8 3 6-2 3-4 6 2 10-9 3-5zM513 277l4 6 7-3zM323 273l-4 4 1 2-1 16 8 5 1-2-3-5 2-4 0-12-2-4zM416 270l-6 3-1 3 2 2 4 0 3-3 0-3zM44 269l5 6 2-1 3 3 8-3-9-5-5-1zM561 264l3 3 2 0-1-3zM533 267l-3-4-10 4-26 0-2 1 10 0 6 3 7 0 7-2 4-3 6 0zM114 261l6 7 3 0 5 3-5-7-5-3zM574 258l-3 3 1 20 3 0 0-22zM533 262l4 1 7-4 9 0 1-1 7 0 0-1-15 0-9 4-4-1zM130 255l-7 1-2 2 0 2 2 1 4-5zM396 257l-1-2-12-1-1 1-6 0-5 3-6-1-5 2-1 3 10-1 6 2 4-2 5 0zM209 252l7 4 1-1 4 2 5 0 4-2 2-3-8 5-6-8-5 4zM343 254l-5-1-4 2-5 0-2 3-3-1-4 4-8-9-1-4-1 0-1 3-4 4-4 0-3 3 3 5-4 5-2-5-3-3-2 1-2 4 0 4-3 3-4 0 1 7 6 8 0-5 4-5 1 1 4-9 1 1 6 0 4-2 1-4 5 5 3 1 0-2 3-3 4 1 4-5 2 0 8-5 3 0zM57 255l-3-3-8-2-2-2 0 3-2 4-2 1-7-6-3-1-2 12-3 3 0 8-1 1 1 3 2-2 1 1 0-15 2-2 14-1 3 2 7 0zM270 247l-5 2-3 3-8 4 0 1 4 2 3 0 9-4zM511 248l-9-2-7 3-4 0-9 3-5 0 0 3 2 4-2 2-6 1 2 2 10 0-3-4 1-1 11-1 8-3 11 0 1-2zM547 245l1 4 2 1 0-2zM91 247l1 3 3 1 8-1-1-4-7-1zM195 242l1 3-2 5 2 3 0 3-2 4-1 19 5-2 2-9 5 3 3-2-4-12-3 4 0 3-2 2-1-1 0-7 2-2 2-10zM69 243l-5-1-1 1-5 0-3 2 5 5 5-6zM147 241l0 1 3 1-1-2zM462 247l-3-2-3-5-3 0-5 3-10-1-6 2-7 0-10 10-4 0 3 1 9-1 1 1-3 4 10-2 4 2 5 0 4-3-2-4 1-1 11-1zM428 249l1-1 1 1-1 1zM429 248l5-3 5 2-7 2zM459 237l3 7 5 0 3-2-2-5-5 1zM302 231l-1 4 2 1zM360 231l-2-1-6 3-4 4 5 0 4-3 3 0zM210 230l-7 1-5 4-6 0-1 5 3-2 6-1 5-4 3 0zM70 231l8 8 10 2 4 2 0-6-10-7-4-1zM562 225l-7 0 0 3-2 4 0 6 3 5 5-6 0-4 2-4zM394 236l1 1 1-1 5 0 3-2 10 1 1-1 0-5-1-1 4-3-22 0-1 3-2 1zM334 225l2 4 5 1 0-5zM319 225l1 9 5 5 1-5-2-9zM159 224l-3 5 7 13 3 1 6-4-1-3-4-4-1-4zM6 223l-2 9 2 5 2 0 2 2-1 22 1 3 3 0 1-10 1-1-2-8-3-6 0-12 2-3zM292 222l-4 1-5 4-6 0-9 7 3 3 10-1 9-5 2-3-1-2zM106 224l8 6 7-6-4-3-8 0zM20 220l-4 2 0 3 2 3 0 4 4 1 0-6 2-2 0-2zM202 222l-4-3-2 0-9 7-4 1 4 6 3 0 3-3 5-1 5-5zM265 220l-3-2-8 2-5 5 2 2 0 2 11-5zM162 217l5 6 8-1-8-3-2-2zM53 215l-10 2-8-1-6 6 3 1 1-1 17 0zM278 211l9 2 4-1zM186 211l1 1 3-1zM182 212l-1-1-5 1 1 4 4-2zM260 210l-8 1 3 1zM222 208l-10-1-9 3-2 3-4 0 13 4-5-3 2-2 11-1 1-1 2 1zM293 206l0 7 3 2 2-2zM259 206l-3 0-7 3zM239 205l-2 2-7-1 2 4 3-1 1 3-7 6 2 3-11 12 3 1-3 3 1 9 4-1 4-4 2 0 4-3 0-2-3-3 3-2 3-7-1-4-4-1 10-6-2-2 4-2-5 0zM120 205l-3 6 7 9 3 2-2 10 2 2 7 0 5 5 3 1-6-6-5-8 4-2 0-3-10-12zM61 206l-1 4 2 2 3 0 12 9 2 0 4 3 3 0 5 6 3 0 2-3-4-7-7 0-5-2-15-13zM26 204l-12 1-1 1-9-1 10 2 3 2 9-4zM151 206l6 7 3-2 12 0-6-3 8-5-4 1-13-1-2 1-4-2zM80 200l-3-2-5-1-8 4 1 2 3 1 6 0zM152 198l3 2 4-1 10 1 3-2 9-1 3-2-7 0-1-1-7 1-3-2-8 0-4 1zM43 190l-18 0-4 2-14-1 0 6 8 0 4 2 6-3 4 1 6-1 4 3zM311 184l-3 3-5 2-4 4 1 5 6 1 7 5 0-7-2 1-6 0-1-1 6-3 3-3 0-7zM303 198l1-1 1 1-1 1zM96 184l-1 7-3 7 5 10 2 1 6-3 3-3 1 1-1-3 4-7-5-6zM159 188l6-1 4 2 4 0 4-2 9 1 0-1-2 0-2-4-3-2-3 1-14-1zM11 178l-1-1-10 1 0 5 2 0 4-3 3 0zM0 164l0 1 6 0 1 1 9 0 1-1-1 1-5 0-3-2zM303 163l2 10 3 4 2 0 0-4-5-9zM0 151l0 5 20-2-1-2-4 0-5-2zM149 136l2 2 0 3 13 1-5-6-3-1zM175 108l4 4 5 0-4-6zM94 99l3 5 13 5 4 4 3-2-9-5-7-7-2 1zM127 98l0 5 5 6 3 0 4 6 5 5 3 1 2-2 5-11-4-1-5-5-3 0 1 4 7 10-2 1-10-10-1 1-5-4zM0 93l0 3 4-1 0-1zM143 77l-8 0 0 1 3 3 1 3zM111 74l2 4 0 6 8 3 4 4-1-3-9-7-1-4zM103 72l0 1 2 0zM184 73l-3-2-5 4-5 2-8 7-1 4-3 3 7 4 6-9 4-1 6-6zM167 64l-1 3 2 1zM0 61l2 2 3 0zM150 47l-2 1 0 2 8 9 1 9 2 2 1-1 0-7-4-5 1-6-4-4zM250 29l1 1 8 0 1-1 17-2-2 1-4-2-7 1-1-1-7 0-3-2zM170 24l1 8-1 1-4-3 0 7 4 12 2 2 1 4 2 0 1-1-1-1 0-9 1-1 6 5-3-9 0-5-4-5 0-3zM125 18l0 3 4 10-1 4-4 5-5 2-4 0-2 2 3 1 4 4 1 3 3 0 5 5 2 0-1-5-10-8 1-2 4 1 5-7 0-5-5-10zM254 19l2 3 6 0 6-3 8 1 6-4-3 0-4 2-8-2-4 1-5-1zM107 46l-6-8-2-10-9-12-2 2 7 13 1 5-1 2-3 0-3-2-3 2-4 0-2-2 0-5-5-6-1-5-2-2-3 5 5 6 4 9-1 2 1-1 5 0 1 1 0 5-1 1-3-2-4 2-5 0-7-2-8 1 16 5 2-1 9 0 6-4zM97 39l1-1 1 1-1 1zM232 18l1 2 4 0 4 3 4-3-6-5zM153 14l1 1-1 6 3 0 2-5-1-2zM107 12l-2 2 2 11 4 4 4 9 3 2 3-2 0-3-3-6-3-3-2-7zM187 9l-1 6 2 2-6 6 0 3 2 2 1 4 1 0 1-4-1-7 2-3 3 12 2 3 0 3 2-2 1-4-2-3-1-5 3-5 5 4 0 3 4 6 0 7 4 12 1 1 5-1-2-6 0-5-3-7-7-8 1-1 4 1 0-4-7-7-2 0 2 4-1 4-8-7-2-4zM194 17l1-1 1 1-1 1zM134 9l-3 2 2 4 1 8 3 6 7 6-5-10-1-7-2-3 0-4zM224 7l-1 5 3 12-3 4 4 0 8 4-9-9 2-3 0-4-4-5zM313 4l-4 0-5 4 4-2 5 1zM266 9l1-1 5 0 3-3 6 0 5-3-4-2-13 0zM252 0l3 5 0 3 4 3-1-10zM170 0l-2 3 6 5-1-2 1-1 0-5zM164 0l-5 0-2 4 0 3 3 6 5-6zM132 0l0 3 3 4 6-5 0-2zM109 0l6 7 3 7 4 1-1-6-7-9zM83 0l4 3 1 3 2-5-1-1zM57 0l0 2 1-1 5 0 3 2-2-3z"/><path fill="#98d254" d="M104 428l2 5 7 0 4-2 4 2 8 0-2-7-17-1zM396 417l-1 4 6 5 1 4 8 3 2-4-2-5-4-2-3-4zM54 418l2 5 6-4 4 0 5 3 0-2-5-1-3-2zM476 415l-3 1-4-3-4 0-5 6 1 8-2 3 0 3 6-5 1-5 2-2 5-1zM129 415l-5-3-8 1-1 4-1-3-4 0-5 2-4 0-2 3 9 0 1-1 6 1 2-2 7 2 4-2zM82 410l1-1 9 0 3-2 26 1 7-4 0-5-14 1-4 2-1-1-8 0-1 1-5-1-2 1-1-1 2-2 0-4-2-2 0-2-6 0-1 9 5 1 1 2-3 3-4 1zM468 389l-6 1-6 9-5 4 5 5 0 2 17-16zM374 389l0 5 1 1-1 8 1 1 1 10 1 0 3-7 1-11-2-5-2-2-2 1zM99 392l4 1 1 2 5-2 4 0 2 2 5 0 4-2 7 0 3-2-2-2-11 4-3 0-2-2-11 0-2-5zM81 388l-3-2-3 1-1 4 4 4-1 1-2 0-3-3 0-2-4-3-5 2-2 2-2 8-4 4-1 3 4 2 2-2 7-1 3 2-1 1 3 0 2-4 7-6-2-4 2-2zM400 386l-3 3 1 4 3 2 6 1 3-6-5-5zM558 384l0 3 3 0zM461 381l2 3 0-2zM68 380l-5-2 0 3-6 3-8 11 8-4 2-2 1-5 3-3 5 1zM515 374l3 5 2 0 3-4 8 2 1 1-1 9 5 0-1-2 2-5-2 0-5-4-5-2-3 1zM500 372l-1 3 1 12 2 0 2-2 4 0 1-5-1-7zM103 368l-2 2 1 14 1-1zM569 360l-4 2-11 0-7 4 6-1 1 1 10 1 5-3zM522 365l5 0 6-3 5 0 8-3-14-1-3 2-5 0zM446 356l6 8-9 8 1 4-2 3 3 4 4-3 3 0 5-8-6-7 4-5zM431 351l7 5 2 0 2-2-2 0-7-4zM371 348l4 7 0 4 3-8 7 2 7 7 11 1-6-7-9-4-5 2-4-4-1 3-3-3-1 1zM558 348l3 2 3 5 2 0 4-3 3 0 2-2 0-3-8 1-4-2zM542 342l-3-1-4-5-5 0-5 4-6-1-1 1-8 0-4 2-3-1-1 9 6-3 9 0 5-2zM382 336l-2 2-1 4 4 2zM516 331l-6-1-4 1-2 2-8-1-4 1-2 2-10-1-3 3 6 4 6 1 4-2 7 0 4-2 6-7zM421 324l-2 7 15 8-4-7-1-5zM430 323l2 3 2 0-2-3zM451 319l2 1 9-2 8 0 3-2 12-2 0-4-6 0-4-2-9 0-2 2-11 5zM336 298l0 2-4 5 0 2 5 5 3 0 0-3 3-6zM387 299l2 6 1-1 9 1 6-3 3 0 4 2 6-2 4 1 1-1 0-3-2-3-4 0-4 2-10-2-1 1-10 0zM575 301l-6-1-11-5-4 4-15 2-1 7 5-2 6 1 16-4 5 1zM488 292l-4 2-12 1-2 8 10-2zM334 288l2 5 3 3 6-1 2 2 3 6 1 6 5 7 6-5-3-11-6-7-7 3-3-3-1-3zM478 286l-11 0-5 2-5 0-1-1-10 0 0 1 11 7 9 0 3-2 3 0zM406 288l-12-3-5 0-6 2-18 1 3 0 4 2 5-1 5 1 3 2 11-3 9 1zM328 285l0 6 4 4-2-2 0-6zM498 286l2 4 1-1 8 1 10-2-3-5-8-1-3 4zM376 279l5 1 3 2 15-1 9 2 2-2-1-4-13-1-1-1-14 0zM565 270l-10 2-1 6 3 1 6-4 3 0zM48 274l-3-3-3-1-6 6-4 2 0 5 14-4zM476 271l2 0 2 2 2 7 5-2 16 0 3-2 5 0-6-6-4 2-7 0-8 5-1-3 3-5-1 1-1-1-6 0zM262 268l8 16 5-2 0-5-5-8-5 1zM19 268l-5 0-3 6 0 7-1 1 0 11 1 1 2 0 4-6-1-6 1-1 0-9zM417 268l2 4 0 3-2 2 15-3 13-1-3-5-9 0-3-2-4 0-5 3zM325 265l-1 2-4-1-2 2-1 3 2 4-2 2-3 0-3 5 0 5-1 1 0 7 1 1-1 8 1 2 6 0 0-11 2-4 0-12-1-2 5-5 2 0zM30 264l-1 0 0 7 3-4zM450 263l7 4 5-2-3 0-3-2zM378 267l-2-1 0-3-2 1-5-2-8 0-5 2-6 0 0 5-3 2-3-2-4 0-6-4 2 6 2-1 1 1 0 3-2 2 7-3 10-2 1-2 5 0 6-2 5 2 5 0zM565 263l-3-5-9 2-9 0-7 4-6-1 2 2-1 2-6 0-4 3-11 2 4 5 4 0 4-3 11 0 9-9 3-1 6 0 5-2zM532 267l1-1 1 1-1 1zM481 260l3 4 15 1 7-2 13-1 1-6-20 0-8 3zM423 255l-7 1 0 4 2 1zM121 255l-3 5 4 3-2-3 0-2 2-2zM540 253l-4 1 1 3 2-1zM547 252l1 4 12 0-9-5zM296 249l-4 5-4 2 7 6 2-2 0-2-3-5 4-1zM467 256l-4-8-9 3-11 1 3 5 4-1 4 1zM193 249l-8-1-1 4 3 6-1 13-1 1-4-1-5 5 0 13 2 3 1 5 5 0-1-5 4-6-2-4 0-4 2-2 5 0 1-16 2-4 0-3zM185 272l1-1 1 1-1 1zM400 250l-3-6-7 3-4-1-17 1 4 4 9 0 1 1 8 0zM62 248l2 2 10 2 3 3 1 3 4 2-4 6 11 3 5 5 7 3 0-9 2-3 1-5-5-5-6-3-10 0-12-8-4 0zM127 243l1 9 4 4 2 0 3-3 6-3 5 3 9 0 1-7-11 0-8 4-7-6zM45 247l1 2 6 1 4 3 3-1 0-2-8-8zM221 247l-2 2 5 7 5-4 5-2 6 7 2 7-5 4 5 9 0 3 3 4 1 5 2 2 10-1-2-5-4-5 0-3-4-2-2-8-4-3 7-6-9-9-2-6-2-2-1 1-3-1-3 1-4 4zM95 238l-2 0 0 6 1 1 5-4zM23 238l-1 3 0 13 2 3 0 3-2 2 0 2 2 1 4-7 2-13-4-2zM178 237l-4 1-3 3-6 3-1 4 0 6 2 4-1 6 3 1 2-2 1-4-1-5 1-1 5 0 2-2zM526 243l-2-8-4 3-4 1-13-1-3 2-10-1-6 2 7 1 5 5 6-2 12 1 5-3 5 1zM182 229l0 5 1 1 4-1zM563 225l1 2-2 6 1 12 1 1 0 5 3 0 2-4-2-5 2-7 0-8-1-2zM415 228l1 1 0 5 2-1 7 1 6-4 9 1 1-1 8 0 3-2 5 0 1 2 4-2 5 0 3-3-6 2-5 0-1-1 1-1-40 0zM351 226l4 5 4-2 2 2 0 2 5 1 1-1 8 0 4 2 3 0 4-2 6 0 0-5 1-2-3 1-4-2-12 0-5 2-2-2-3 3-4 1-2-2 0-2zM342 225l0 7 5 6 2-4-4-3zM303 224l-4 0-6 4-4 5 0 4 3-3 10-5zM54 215l-3 7 4 0 4 4 7 2 3 3 2-2-2-7-3-4-6-1-2-2zM304 214l-2 4 9 12 4 10 7 6 1 8 2 2 2 0 2-2 5 0 6-2 4-3-2-1 1-2-2-1-10 6-3-3-2-7-7-7-1-9-4 0-1-5-5-5zM252 212l-1-1-6 1-11 7 8 0 6-3zM220 211l-13 2-1 1 3 2-1 1-7-1-3 2 6 6 7-2 1-4 5-2 3-3zM208 217l1-1 2 1-1 1zM281 212l-9-2-10 7 4 3 10-2zM93 209l-1 8 6 4 3 0 3 2 2 0 3-3 8 0 4 3 3-2-9-5-2-4-6-4-3-1-6 5zM56 206l-11 3 9 0 1 1zM192 203l7 0 5 2 2-1 17 0 3-3-6 0-1 1-20-1zM61 202l1 2 3 0-2-3zM238 192l-1 4 4 5-1 7 7 0-2-9zM150 190l-8 4 3 6 4 3-7 7 0 2 9 14 5 2 3-5 0-6-8-9-1-6 1-1 4 2 6-1-2-2-4 1-4-3 3-6-2-2zM95 186l-5 2 0 1 4 2z"/><path fill="#9658b4" d="M433 433l14 0-4 0-5-2-3 0zM62 433l6 0-3-2-2 0zM29 429l4 4 4 0-3-1 1-1-1-4zM323 426l2 7 10 0-4-3-3-5zM387 422l0 2 10 9 7 0 1-1-2 0-2-2-1-4-4-3-6 1zM213 422l0 11 7 0-1-3 1-8zM146 423l-7-1-4 2-5 0-2 1 2 7 6-3 10 2zM196 419l-4 0-2 6-3 2 4 6 2-1 3-7zM336 412l0 8 7 7 2 6 4 0 2-2-2-8-10-11zM293 408l0 7-3 5 2 4 0 3 5 1-1 5 7 0-3-4 1-5-3-1-4-4-1-4 2-6zM354 407l-2 3 6 5 1 9 3 1 4 5 3-1 2-3-6-8-2-5-4-4zM308 405l0 2 5 8 1 9 7 1-4-5-2-10zM46 406l-5-2-8 10-1 4 3 2 13-12zM0 401l0 15 3 5 5 0 2 2-2-6-5-6zM362 398l8 13-3-12zM263 398l-1 14 11 18 0 3 6 0 0-4 2-3 0-5-7 0-1 1-4-1 2-7-1-4 1-5-5-6zM199 392l1 1 0 8-1 1-1 15 4 7-2 8 4 1 1-1 0-7-1-1 3-7-1-1 0-12-2-3 0-7zM8 390l-1 4 2 3 1 7 3 3 3-1 9 11-2-10-11-9 0-3zM26 389l-4 6-1 6 1-2 7-5zM340 388l-3 5 2 4 0 3 1 1 5 0 2-9zM549 380l-3 1-3 3 0 3 6 0zM33 377l-1 3 1 9-1 2 3-2 1 1 0 7 7-1 1-3-2-3-1-5-3-2-1-6zM218 376l-2 3 1 10 2-2zM225 375l0 6-4 5-1 8 2 3-1 7 5-8 0-14 2-4zM239 370l-2 6-4 4 1 16 5-2 1-3 0-5-2-5 3-6zM358 368l1 7 3 2 0 7 3 2-1 1-7-1-1 5 1 5 5-1 4-9 10 1 4 4-1-3-2-1 2-3-1-1-3 0-11-7 1-1 8 0 4 2-9-8-6 6-2-4 0-3zM360 375l1-1 1 1-1 1zM153 368l1 9 2 3-1 16 1 1 0 5 6-2 0-6-2-6 0-8-2-5 1-5zM341 367l1 6 5 1 0-3 2-4zM570 366l0 12-2 5 0 4 7 0 0-20zM104 377l0 6-2 3 4-3 14-1 5-3 5 1 1-1 6 10-4 4-1 5 7-1 2 2 1 4-1-9-2-4 2-11-1-2-6-2 0-7-2-2-3-1 1 4-2 2-1 5-4-2-10 1-3 2zM86 364l-2 2 0 10 2 4-1 3 1 1 0 6 6 0 1-14-1-1-1-11zM107 358l-3 8 5 0 1-1 3 1-6-6zM352 358l0 2 6 2-1-4-2-1zM229 356l2 3 1 13 3 0 0-6-1-1 1-3zM193 355l-5 2 2 5 0 6-1 1 1 22-2 6-5 9-4 2-5 6-2-1 2-6-2 0-3 7-3-2-10-2 3 4 2-1 1 1 0 5 16 0 3 1-1-1 1-1 0-5-1-1 1-2 5 0 1-1 6 1-5-6 7-11-3-6 2-6-2-11 2-4 4 7 3 3 3 1 0-3-4-5-1-4-4-5zM573 353l-3 0-3 2 4 0zM247 352l-4 3 0 8 1-1 2 1 0 9 5 4-2 9 2 3-1 9 2 5-2 5 0 4-1 1-5-2 0 9 1 1 0 9 2 4 3 0-2-5 1-11 2-3 4-2 1 2 3-5-2-7 1-11-4-6 1-6 3-7-2-1-4 2-1-1 1-8-5-4 2-4 0-3zM107 352l-2 3 1 1zM21 352l-1 0 0 5-2 3 0 8 2 8-5 3-3 0-3 5 6 4 5-2 3-3-3-7 6-4 0-8-1-1 1-6zM256 350l-1-1-3 3 3 0zM352 348l-5 2-3 3 1 4 4 0 3-2-1-1zM321 346l1 3 3 1 1-1 7 0-1-3-5 0-1 1zM312 345l-5 3 1 4-4 6 3 5 5-5 3 3-2 6 0 8 1 1-1 1 0 12-1 1-4-1 6 11 7 9 3-1 1-3-6-11 1-5 5-4 0-3-7-6-1-4 2-5-1-7 3-1-8-2 1-8zM314 391l1-1 1 1-1 1zM312 390l1-1 2 1-1 1zM85 343l-6 0-4-2 1 2 0 7-1 1 1 9 8-6-2-7zM112 344l5 13 4-1 1-8-3-4-1-4zM363 339l0 9 1 1-1 6-2 1-5-6 7 10 0-3 2-1 5 5 2 0 4 5 4-1 2-2-5-5-2 2-1-1 0-4-6-9-3-7zM298 336l-1 12-1 1 0 9-2 3 1 5-1 7 1 1-2 3 0 3 8 4-3-5-1-5 2-1-1-4 1-1 0-6 2-3 1-21-1-2zM287 333l-3 3-3 14 4 3-1 1 1 14 5 5 0-7-1-1 1-10-1-4-3 0-4-6 1-6 5-5zM277 330l-3 4-1 8-2 3-8-10-6 1 4 6 1 5 5 5-1 1-7-1-1 3 2 3 8 2 1-1-2-4 1-2 9 3 0-6-1-1 1-1 0-7-1-1zM171 330l-3 7 3 4 8 2-3-8zM37 328l-2 2 0 8-2 8 1 1 0 5 6 2 0-6 2-4-2-4 1-7-2-5zM190 326l3 17 4 4 3 1-1-7-5-7-1-6zM157 325l-1 5 3 7 0 6 2 5 3 2 0 15 3 6-1 5 1 2 5-9 0-5 1-1-2-6 0-7-1-4-6-6-2-9zM57 322l-6 0-1 2 0 5 1 1-3 6 1 7 8-3 0-7 1-1zM368 319l3 9 9-1 3-5-6 0-6-4zM289 316l-11 11 2-1 7 3-1-5 2-3zM90 316l-5 4-1 3-5 5 2 2 3 0 4-2 3-4 1-5zM215 313l-3 3-3 0 1 4 6 0zM143 313l-5 3-1 4-9 7 0 3 4-2 1 1 0 7 2-1 3 4-2 5 5 11-1 2 1 5-1 12 2-28-3-13 1-5-1-3 6-7 4 1-1-4-3 1zM361 312l-5 5 0 5 4 5 9 2-3-5-1-8-2-4zM43 312l0 2 7 1-4-3zM299 310l1 12 1 1-2 10 7 1 7 7 6 3 1-5-3-8-6 0-1-1 0-12 1-1-2-7-3-1zM575 319l0-3-14 1-1 1-14-1-1-1 5-2 0-7-1 1-6-1-3 2-8-1-5 2-10 0-4 3-9 1 6 3 8 0 1-1 13 1 13-3 1 1-2 2-6 1-5 4-7 0-7 3 5 3 6-3 16 0 9-4zM80 305l-5 5-4 8-6 6 4 3 3-1-1-2 8-7 3-7zM230 300l-5 4 3 9-5 2 4 10 1 13 3-1-1-8 8-5 3 1 3 6 6 2 4 4 1-2-5-5-3-10-3 3-3-1-2-3-2-10zM201 302l2 2 10 4-1-5-5-5-2 0zM196 298l-1 0-3 11 0 6 2 2 0 3 5-2-1-1 0-9zM366 298l1 5 10 2 11 0-2-6-16-1-1-1zM38 297l-4 1-3 3-9 5-5 6-3-2-2 1-1 7 2 6-3 6-4 3-1 4 1 1 0 7-2 3 0 5-1 1 1 2 5-1 1-8 2-2 4-1 5-13 1-7 3-1 3-9 9-6 1-2zM471 294l-5 2-8 0-1 1-10-2-8 3-7 0-4 1-1 4 17 0 6 3 6-2 12-1 2-3zM6 293l1 3 1-1 2 1-4 5 5 0 4 4 7-6-1-2-7-3-3 2-2-3zM249 292l15 23 4-8 0-6-10-10zM327 290l-1 3 3 5-2 8 4 1 0-2 3-3 1-4zM176 290l-5 5-3 0-1 2 1 4-1 1-1-1-4 1 1 17 4 1 2-10-1-4 1-1 6 3 0-5 4-5zM114 291l-1-1-5 0-5 5-4 2 0 5 2-1 6 1zM282 289l0 2 4 4 1 3 2-9zM56 286l2 3 4-3-1-1zM575 282l-3 1-4-1-4 3-9 3-1 4 12-1 3-2 6 0zM511 277l-1 3 2 2 3 0-2-4zM80 276l-2 6-8 8 16 7 6-1 9-12-7-1-7-5zM27 275l-2 2-1 8 4-4 0-5zM407 274l1 1 1-1zM457 273l-11 0-4 2-10 0-8 2 6 1 5 5 3 0 2-2 7 1 9-3zM297 270l-1 3 3 9-1 6 11 3 1-9 2-3-4-10-4 2-6 0zM139 268l-1 9 2 4 0-3-2-3zM159 263l0 6-4 7 3 2 3 0 3-11zM199 261l0 4 1-1zM8 260l-7 6 0 6-1 1 0 12 1 1 3-1 1-9 5-10zM209 258l-3 2 3 7 0 2-4 5 1 10 9 9 5 0-3-4-1-5 1-3 3 1-1-8-7-15zM31 259l13 7-1-7-2-1zM333 262l7-1 4 2 4-4-4-2-6 0-5 3zM290 259l-2-2-2 0-9 7-11 5 8-4 5 6 6 0 2-2 0-4zM217 256l-1 1 0 5 8 7 0 3 4-6 0-6-2-2-5 0zM131 256l-4 1-5 5 4 4 3 0 3-8zM177 253l-1 1-5 0 1 5-2 5 0 9 4 4 4-5 0-6 2-4-4-6zM467 253l1 5 2 3 4 0 4-2-2-6-5-1zM59 256l6 4 6 1 5 4 5-4-4-3-3-5-3-1-5 0zM575 249l-1 3 1 6zM372 251l-4-4-4 2-5 0-1-1-14 2-3 2 4 2 4 0 9-3 2 1zM32 241l-2 7 11 7 2-4-1-6-4-3zM127 250l-1-7-5-1-6-4-4 7-2 0-7-6-6 5 1 1 5 0 6 5 3-1 2-3 3 0 3 2 6 0zM70 243l7 0 7 3 8 0 1-1-5-3-10-2-2-2zM34 232l-1 4 2-3zM249 231l-2 3-5 1-8 5 1 1 1-1 3 3 2 6 9 9 4 10 4 4 3 7 5 5 2-2-5-8-2-7-3-3 6-5-6 1-3-2-1 1-3-3 4-9-5-5 5-5zM255 261l1-1 1 1-1 1zM254 260l1-1 1 1-1 1zM250 254l1-1 1 1-1 1zM249 252l1-1 1 2-1 1zM247 249l1-1 2 3-1 1zM310 247l-6-9-4-3 1-5-9 5-3 3-1-5-7 4-8 0-5 6 3 3 16-8 3 3 0 2-5 3 1 7 7-1 4-7 0-2-3-2 4-2 3 1 1 5 4 7 2-1zM37 233l3 0 4 2 10 9 4-2 5 0-4-5-9-4-3-3-3 0-2 2zM147 233l0 4 4 6 2 1 11 0-4-5-5-10-4 1zM95 229l0 2 7 5 3 0 3-2-8-7-3 0zM546 225l-1 16-3 2-5-1 5 5 2 4 5 0-4-3 0-3 3-1 0-3 3-7-1-9zM459 226l10-1 1 1-2 2 6 0 1-1 16 1 5-2 5 0 1 2-2 2 2-1 8 2 1-1 5 0 3-2 9 0 3-3-18 0-4 2-3-2-30 0-1 1-2-1-3 1-1-1-9 0zM395 225l-1 0-1 3 1 0zM167 224l5 10 3 2 3-1 1 1 0 14 4 0 3-5 1-6-6-5 0-5 1-1-9 1-5-3 1-2zM78 222l1 1 0 5 8 5 4-2-5-6-3 0zM250 216l-8 4-4 0 1 4-3 6 14-7 3-3zM119 214l-1 3 5 3zM158 213l3 3 5 0 1 1 1-1 8 0-1-3-2-1-13 0zM55 211l-1-1-11 0-9 4 1 1-2 2-4-1-7 4 2 2 2 0 4-2 5-5 5 1 12-1 2-1zM264 206l-4 0-5 3-3 0 0 1 9-1zM292 195l-8-1-5 3-1 4zM313 192l-3 3-6 3 9-2zM0 219l4-3 0-4 2-3 0-2-4-2 1-1 7 0 1 1 10-2 7 1 10-5-3-2-2 1-8-1-6 3-4-2-8 0-1-1 0-6-6 0zM271 190l-5 3 3 12 4 0zM91 190l-3-1-7 4 2 5 7 1 3-6zM166 189l-1-1-7 1-3 4 9-1zM232 184l-2 2-1 15-6 4-13 0 12 2 2 3-1 3-2-1-4 5-4 1-1 4 1 1 8-1 7-4 7-6 0-1-3 0-3-5 1-1 7 1 3-3 0-2-4-5 1-4-5-6zM313 180l-3-2-1 3-9 8-2 4 5-5 5-2 3-3 2 0zM20 177l6 0-1-2-1 1-2-1zM0 161l0 2 8 0 3 2 8-1-4-4zM0 138l0 7 5-1-5-4zM306 137l-4 3-3 4 0 2 7 12 7 0 0-11zM0 128l0 4 3 2 4 0 4-3 8-1 0-1-16 1zM0 124l2 0 2-3-4 0zM15 93l-2 0-1-2-1 1-5 0 3 3-9 2 0 1 8 0 2-1-2-1 1-1 6-1zM5 53l11 1 1 1 3-2-4-1zM0 41l0 3 1 0 0-3zM310 16l3 4 0-6zM66 4l2 3 2 0zM283 0l3 1 5-1zM267 0l-3 0 0 7 1 1 2-3zM243 0l-4 0 2 5 0 7 2-3zM206 0l2 3 1 8 3 3 1-1-2-4 0-9zM185 0l0 4 2 4 2 0zM148 0l-1 2 8 11 2 0 1-1-2-5 1-7zM115 0l7 9 4-1-3-8z"/><path fill="#bc5096" d="M478 432l-4 1 4 0zM0 431l0 2 6 0-1-2zM291 428l-5 5 4 0zM352 429l4 4 12 0-6-7-4 0zM196 426l-2 7 5 0 1-4zM302 425l-1 4 3 4 3 0 3-2-1-3zM231 424l-4 5 0 4 4 0 1-3zM191 419l-6 0-3 2-9-1 2 2 0 5-2 3-2 1-9-1-1 1 2 2 27 0-4-6 3-2zM161 414l-5 2-5-1-5 3-7-1 0 4 3 1 15-1 4-2zM255 413l-4 2-1 2-1 11 2 5 3 0-1-6 2-4zM260 409l-1 1 1 2-1 6 3 5-2 4 0 5 1 1 2-1 1-7 2-3 2 9-1 2 5 0 0-3-7-10zM13 408l5 6 1 7 10 7 5-2 2 3-1 3 3 1 7 0 2-4 7-8-2-4 1-1-1-2 5-5-8-1-14 13-4-2-4 4-7-12-4-4zM382 399l0 4 2 2 0 3 2 3 5 0 1 3 3 2 6 0 5 5 6-3-12-11-3 0-7-4-5-1zM20 399l-2 2 2 1zM370 397l-1 7 3 10-6 3 0 1 4 4 2 5 5 6 6 0 0-2-7-4-4-6 0-3 3-3 0-5-1-1-1-11zM235 396l-2 15 5 6 2 5-1-14 2-5 0-4-2-2 0-2zM48 395l-9 3-4 0-2 2-1 4-7 5 0 2 7 4 7-10 9-8zM196 394l-1 0-4 7 1 5 1 0zM503 387l5 0 0-1zM321 389l-1 5 6 4-1-4 1-8zM459 384l-6 3-6 7-1 5 2 4 5-2 9-12-3-3zM469 382l-5 1 0 2 4 2zM295 382l1 4-1 13-2 5-2 1-4-3-3-1-1 1-1 12-1 1 1 10 7-4 3-6 0-7 1-1 5 2 3 4 1 4 5 6 6 0-1-8-5-9-7-4 4-10 0-5zM568 381l-4 2-2 4 5 0zM180 381l-5 4 0 7 1 1 0 11-1 2 1 1 6-1-1-3 2-5-3-5zM9 380l-7 4 6 0zM406 379l-1 5 5 5 3-6-4-4zM444 383l-2-3-2 0-2-2-5 0-7 6 0 2-5 5-4 0-4 5-4-2-4 7 10 6 0-7-2-3 1-1 4 2 3-3 2-5 9 9 6-6zM426 385l1-1 1 1-1 1zM428 384l1-1 1 1-1 1zM429 383l1-1 2 1-1 1zM431 382l1-1 1 1-1 1zM365 376l4 3 10 4-1-5-5-2zM25 374l-4 2 2 5 1 0zM409 373l-1 1 5 4 0-2zM242 368l-2 1 2 6-3 6 2 5 0 5-1 1 5-3-1-6 2-4-1-9zM236 368l0 4 2-2zM194 367l-1 5 3-2zM568 366l-4 2-10-1-3 1-4 4-5 0-5 3-6 1 1 1-1 1-8-2-3 4-3 0-1 7 7 0 0-9 1-1 7 6 0-5 1-1 8 1 3-2 8-2 5 0 1 1 8-1 3-4zM9 361l7 7-1-4zM418 360l7 0 2 2 6 2 3 6 6 1-1-8-4-2-12-1-1-1-1 1zM313 359l-4 3-2 4 0 13 2-2 4-1-1-1 0-8 2-4zM236 359l1 3 5 1 1 2 1-2-1 1-1-1 0-4zM275 358l-6 2-4 8 1 11 9 1-1-5zM358 354l1 8-3 4-6 0 0 1 8-1 1-2 4-1 1 3-3 3 1 5 5-4 3-8-5-5-1 0-1 4zM378 352l-1 4 1 3 3 3 7 3 4 4 1-3-3-3-2-6-3-3zM101 351l-1 1 0 5 2 3 1 7 3-10zM326 350l2 7-2 1-4-3 1 4-4 1 0 5 1 1-2 4 1 6 7 5 1-5-3-6 1-1-4-2 2-3-1-2 1-2 5 1 1 5-2 3 4 4 1 4 3 1 1 3-1 1 0 7 2 3 5-10-1-9-5 1-3-5 1-4-6-4 0-2 1-1 1 1 8-1 1 1-2 6 1 1 10 0 0-5-3 2-2-1 1-4-1-4-5 4-5-4-1-4zM290 350l1 23-1 1-3-2 0 1 2 1 1 3 2 0 2-3-1-1 1-5-1-7 2-3 0-5zM352 346l-7 5 7-4zM15 345l-4 2 0 5-1 1 0 5 1 1 2 0zM27 339l-2 3 1 7-2 3 3 5-1 6 1 1 3-1 2 2 0 9 1 2 4 0 0-4 4-7-1-10-7-3 0-5-1-1 1-7zM306 335l-4 1 1 2-1 19 2 0 3-5-1-4 3-3 4-1 1-2zM374 334l1 13 3 3 1-3 4 4 4-1-5-6-4-2 1-4-3-1zM164 334l1 6 5 5 0-5zM58 333l0 19 1 1-1 8 5 5 3-5 3 0 2 2-1 2 1 4-3 5 0 5 3 0 2-2 4 3 8 2-2-6 0-10 3-3 5 0 0-4 2-5-1-5 2-2-10-1-1 3 2 5-3 3 0 3-1 1-1-1-4 1-2-7 1-4-1-9-1-1-6 1-5-6 0-2zM195 331l0 3 3 3 2 5 5 4 1 4 5-3-1-7-7-7zM6 331l-6 5 0 18 3-1 0-5 2-3 0-7-1-1zM184 332l2 6-8 6 2 4 0 10 2 4 0 7 6 2 1-9-2-5 6-3 2 2 1 4 3 3 2 6 4 5-1 4 1 15 1 1 5-1 2 1-1 26 1 1 7 0 0-7-1-1 0-6 2-7 0-3-2-3 1-7-3 3-1-1 0-8-1-1 3-5 1 5 5-5-3-9 1-7-4-7 2-1-2-3-5 1 2 4-4 4-2 5 0 6 1 1-1 5-4-4 0-6-5-7-1-8-7-6-2-12-1-1zM216 353l1-1 1 1-1 1zM575 330l-2-1-5 3-17 1-6 3-6 0-2 2 4 3 8 0 1-1 9 1 5-3 6 1 5-2zM339 327l-2 1-1 4-3-3-1-3-4-1-1 3 0 12 1 1-4 2-4-1-2 6 1 4 2-7 5 1 3-1 4-5 2 1 0 2 3-5zM438 329l0 1 5 1 12-1-3-7-8 0zM423 323l3 0 3 3 2 0-3-4zM383 323l-2 5 9-2 3 4 10 5-1 2 5 7 3 1 4 4 5 1 5 5 3-5-8-6 2-1 19 10 25 11-1 1-6 0-1-1-5 1 8 9 4 2 3 0 2-2 4 0 7-4 3 1 4 5-8 10-3 6 3 2 0-6 1-1 12 0 1-1-2-5 2-4-1-3 2-2-3-7-8-2-21-10 4-1 5 2 5 0 1-1 6 1 7-3 11-1 1-9-9 0-4 2-3 0-5 3-15 1-3 2-2 4-12-6 6-6-12-1-2-3-6 1-1 2-27-14 2-2 9-1 0-1-3 0-2-2-5 1-21 0zM470 367l2-1 3 2-4 1zM147 320l1 2 0 6-1 1 1 8-2 4 3 6 0 5-2 3-1-4-3-4-2 29 2 2 5 11 0 8 2 4-1 6 6 1 0-11-1-1 1-16-2-3 0-5-1-1 0-14 2-3 0-7-2-4 0-4 2-4-1-8 4-3 2 1 0-5-5 1-1 2-3-3zM147 388l1-1 1 1-1 1zM59 319l5 4 3-3zM343 318l-2 5 2 4 4 0-3-9zM248 317l1 9 7 10-3 2-3-4-4-2-9 0 7 9 3 10 3 2 5-5 2 2 0 8-2 6 4 4 0 5-4 10 6-9-2-16-2-4 2-3 7 1-5-5-1-5-4-5 1-2 5-1-1-6-6-7-1-3-2-2zM249 352l1-1 1 1-1 1zM248 351l1-1 1 1-1 1zM51 315l-1 1-6-1-1 5-4 6 2 6 3 1 3 3 3-6-1-1 1-7 1-1 6 0 0-2zM353 314l-3 2 1 7 6 11 6 4-3-5-1-7-4-4 0-6zM295 314l-2 3-4 2-2 5 0 4 2 3 9 1 2-5-1-13zM211 308l-3-1-1 2 1 5-1 1-5-2-3-3 0 7 1 1 3-2 8-1-1-3zM10 308l-3-1-3 6 5-2zM141 305l-3 0-5 12-7 6 1 17 3 5 0 8-2 10 6 4-1-6 3-6-2-8 0-8-2-3 0-7-4 2-1-4 4-4 3-1 2-2 1-4 5-4zM50 310l-3-1-2-5-6 2-2 3-7 4 7-2 12 1zM575 302l-5 3-5-1-14 3 0 7 7-1 6-3 10 1 1-1zM275 302l-2 2 0 2 8 12 0 6 7-7-5-5-2-6-2 0zM546 316l-3-1-4 2-6 0-1 1-5 0-1-1-16 1-5-2-2-2 1-1 9-1 4-3 10 0 5-2 5 1 1-7-19 1-7 3-8 0-3 2-8 0-4 3-2 0-1 4-6 6-9 5 11 0 9-3 6 1 9-4 7 6 8-1 5-3 7 0 3-3 9-3zM130 303l-6-2-3 4-6 2-8-3-7 7-1 4-6 5-1 4-4 5-3 1-4 4-3-3-2 1-4-1 4 9 3 2 7-5 3 3 10-11 1-3 4-4 2 0 5 4 0 5-8 10 0 5 2 2 3-3 2-6 6-6-2-3-1-5 8-7 2-5 6-6zM215 294l-1 16 3 5 1 7 6 10 3 2-1-9-4-8 0-2 2-2 3 0 0-2-6-11-1-6zM82 297l-4-3-4-1-6 3-5 5 9 5 3-4 2-1 3 1 2-2zM566 292l0 3 1-1 8 1 0-5-6 0zM51 287l-10 3 1 2 3-1zM0 286l0 11 6-1-3-9zM199 285l-2 6 0 5 4 5 5-4 0-2zM62 285l5 4-2-3zM437 284l-4 0-5-2-1 1-10 0-4 1-1 2 3 3 6-2 4 1 3-2 4 0 4 2zM129 279l-6 1 4 1zM229 282l3 3 3 8 7 5 4 8 5 2 5-3-7-12-4-4-1-5-4-5-3-1zM192 277l-5 0-1 1 0 4 2 4-4 6 1 5-5 1-4 5-1 11 1 1 0 9 1 1 4 0 2-5 2-15 1-1 6 1 2-4zM171 275l-2 19 2 0 4-5 0-11zM53 277l-3-2-3 4zM296 274l-1 3-2 2-1-1-3 4 1 8-2 6 6 0 4 2-1 7 2 4 4-1 6 1 1-3-1-2 0-6 1-1-1-5-10-2-2-2 1-6-2-4zM91 272l-6 4 9 6 8 2 2-2 1 2-5 8-17 17 6 6 9-13 0-5 10-8 4 0 2-8-8 0-12-6zM334 268l-1 7-2 4 3 2 1-1-1-1 2-2 0-5zM62 269l-2 3 1 1 7-1 8 4-3 4 2 2 2 0 2-5-1-3-11-6zM264 261l-5 3 1 1 3-1zM102 269l3 2 14-3-5-6-9-1zM532 260l-3 0-6 3-29 3 26 0 3-2 9-2zM298 260l-2 2 1 5 3-4zM215 260l-1 2 6 12 3-1 0-4-8-7zM30 259l-1 4 6 2-2 1-4 6 1 5-1 4-3 4 5-2 0-5 5-3 6-6 3-1 0-1-6-2zM432 259l-1-1-1 1-10 1-5 5 1 2 3 1 5-1 2-2 5 1 1-1zM412 263l-5-4-1 1-6-2-5 0-11 4-5 0-2 1 0 3 12 0 3-2 18 1zM290 254l-4 0-4 4-7 3-1 2 3 0zM233 251l-1 3-5 4 2 3 8 6 4-4-2-6zM179 251l-2 4 1 3 3 3-2 5 0 5 3-1 4 2-1-1 1-13-3-7zM144 251l-1 2-2-1-8 5-3 10 7 0 1-1 2 1-1 8 2 3 0 5 3 5-6 8 1 5 1 1 2-1 3-7 5 0 2 2-1 6 3 1 4-4 4-1-2-4 0-3 3-8 0-4-1-1-4 1-4-3 4-7 1-13-2-2-9 0zM139 265l1-1 1 2-1 1zM140 261l1-1 1 2-1 1zM142 255l1 1-1 4-1-1zM142 254l1-1 1 1-1 1zM66 251l-5-2-1 3-3 2 1 2-5 4 4 2 2-4-1-2zM104 248l0 4 4 5 2 0 4 3 3 0 3-5-3 0-3-5-2-1-4 2zM267 244l-5 2-4 0-3 2-3 7-2-2 4 5-1-1 1-2 8-4 3-3 4-1zM299 240l-4 1 3 1zM289 241l-2-2-13 7-2 0-1 1 0 8 4 0 4-2 5-7 5-3zM569 238l-1 4 2 5-2 5 3 5 0 3 3-3-1-5 2-4 0-8zM8 238l-3 1-1 5-4 6 1 15 7-6 0-5 1-1 0-7-1-1 1-6zM337 230l1 7 5 5 3-3 0-2-5-6zM551 225l1 6 1 0 1-6zM539 225l4 4 1 9 1-13zM387 225l3 1 3-1zM226 225l-3 2-9 1-1-1 1-3-4-1-4 2-3 0-5 5-3 0-4 3 1 1 6 0 5-4 7-1 1 1-3 5 3 2 3-3 7-2zM212 228l1-1 1 1-1 1zM169 225l1 2 3 1 9-1 0-4-8 0zM75 237l-2-3-7-5-7-2-4-4-4 0-4 5-16 1-4-2-1 4-3 3 1 5 5 5 1 0 2-5 3 2 5 1 4 5 6-6-6-5-8-3 2-2 4 0 2-2 3 0 3 3 9 4 4 5 7 1zM34 230l2 3-3 4-1-4zM32 230l1-1 1 1-1 1zM15 223l-4 4 0 12 3 7 0-3 4-7-1-8zM108 235l3-1 10 7 11 2 7 6 9-4-4-4-5-1-5-5-7 0-3-3 1-10zM276 220l-1-1-8 1-5 5-10 4-1 3 5 5 5 0 3-3 3 0 9-7zM68 219l2 3 1 6 1 1 5 0 1-1 0-5-4-4zM222 210l0 2 1 0 0-2zM271 209l-9 0-2 2-8 2-2 2 3 4 4 0 9-5zM251 210l-2 0-1-1 1-1-7 3 2 1 4-2zM185 208l2 2 3 0 4 2 7 0 1-2-2-2-5 0-1 1zM12 208l-5-1-2 5 0 5 3-4 3-1zM167 208l7 4 7-2 1-2-6-2-5 0-2 2zM66 204l3 4 4 2 7 7 5 2 6 0 1-1-3-1-3-4-3-1-9-7zM60 203l-3 3 1 3 3-4zM130 197l-9 5 0 2 10 12 10-6-8-8 0-3zM45 192l3 3 7-3-4 1zM271 187l2 15 3 4 0 4 16 1 0-5 1-1 6 8-2 2 1 2-5 5-1 4 2 1 5-4 4 0 1 2-2 5 2 4 0 3 1 1 8-1-3-7-9-12 3-5 0-5-5-5 0-3-2 0-6 4-3 0-2 3-2-4 1-4-6 2-1-1 1-4-3-8zM277 201l1-1 1 1-1 1zM159 186l-6 4 2 2zM0 186l3 0 11-4-8-1-4 3-2 0zM311 175l0 2 2 2 0-2zM252 174l0 4 3 8 2 2 7 1-2-13-5 0zM307 159l2 2 2 8 2 1 0-11zM132 156l-5 5-2 5 3 7 6 7 6-5 4-1-6-5 0-4zM273 155l-2 1 0 4 3 7 0 6 2 4 3 0 2-3-3-6-2-10zM85 154l-6 2-20 2 0 2 2-1 17 1 4-1zM287 146l-2 3-1 5 2 3 6 1 0-4-2-5zM118 146l-6 3 5 4 4-5zM4 143l3 2 3 0-2-2zM66 139l3 4 3-1 0-2zM292 138l5 8 3-4-4-4zM311 136l-4 2 5 5 1 3 0-10zM271 132l-1 4 2 6-2 5 5 5 1-2-1-9-3-6 0-3zM17 124l-6 0-4 2-7-1 0 2 3 2 14-1zM304 118l-2 2 4 3 1 5 5 5-1 1 2 0 0-9-3-7zM0 117l0 3 4 0zM215 119l-7-4-8 8-11 7-3 4 0 2 3 3 5-4 4 0 2-2 0-2 6-6zM22 108l-3-1-6 4 1 1 6 0 2-1zM68 110l-2-2 1-4-3-1-5 2-11 0-1 1-1-1-9 0 6 8 7-3 2 1 15 0zM32 105l-1-2-3 1zM276 102l0 5 3 4 0 9 1 1 2-5 0-5-3-9zM3 93l2 2 4 1-3-3zM224 90l8 5-6-5zM194 92l-2 0-2-2-3 1-6 8 3 4 4-2zM297 85l2 10 1-4zM275 80l-6 2-1 5 6 1zM0 79l0 3 1-1zM236 78l9 7 7 2 4 4 0-5-3-2-4-1-3-3-3 0-3-3zM307 68l-1 1 1 4-1 5 4 4 0-7zM274 68l0 5 5 5 6 2 0 11 1 1 6-1-2-10 2-1 4 3 2-1 4-7-1-1-8 2-7-4-6-1zM220 68l-10 0-7 7 4 4-2 1 4 1-2-1 11-9zM82 62l4 2 7 0 1 1 13-1 1-2-6 0-1 1zM4 62l3 1 1-1 24-1-3 0-2-2-17 0-2 2zM0 53l4 0 5-2-9 0zM220 46l8 16 0 7 1-4-3-6 3-4-5-5-2-4zM109 44l-1 4 6 2 5 5 1-2-1-4-3-3-4-2zM260 44l3 4 7 5 7 3 4 0 0-4-6-5-11-5-2 0zM27 41l5 2 10 0 1-2zM290 42l7 4-2-7zM236 32l14 14 4-3-4-5-11-6zM247 30l2 3 8 0 2 2 1-1-3-3zM153 23l0 2 5 4 0 4 3 6 0 7 5 12 1-5-4-10-2-15-3-3zM307 21l3 2 3 0 0-2-2 1zM299 20l3 11 2 2 3 8 0 9 2 3 0 8 3 1-1-7 2-5-1-1 0-5-5-10-4-2 0-6-1-1 1-5zM246 20l-4 3 3 3zM112 17l3 4 1 5 3 3 3 6 0 3 4-2-1-6-5-6-1-5-3-2zM57 22l12-1 2-3-1 1-8 0-3-2-2 1zM143 16l-4 5 6 14-2 1-6-6 1 1-1 6 2 8 4 4 5 2-1-3 5-2-1-2 1-8-4-7-1-9zM280 14l-3-1-3 2-4-1-10 1 2 1 5-1 8 2 5-2zM164 10l-3 3 0 2 2 3 2 11 5 3-1-8-4-4zM244 0l0 9-1 1 2 3 5 2-2-8 0-7zM229 0l1 7 5 4 1 4 5-1-1-9-2-5zM220 0l4 3-1-3zM212 0l0 9 2 6 5 8-1 14 7 5 4 1 7 7 3 1 3 3 5 2 1-4-6-7-11-5-5-5-7-3 3-4-2-13-5-5 0-10zM194 0l2 4-4 5 0 2 8 8 0-3-2-4 3-1 1-4-1-6-1-1zM167 0l-2 0 1 5zM97 0l2 5 6 8 1-3-3-10zM71 0l2 3 0 6-1 1-1-2-4-1 3 6 2-1 1-3 4 1 2 2 3 0-4-5 0-6-1-1z"/><path fill="#d8487c" d="M105 433l-2-5-15 1-6 3 3 1zM389 426l-1 3 5 1zM337 422l-5 8 4 3 8 0-2-6zM161 420l-4 2-10 1 0 8 11-2 0-3zM66 420l4 4 1 3 3 0-3-4zM378 412l1 3 11 8 5-1-1-1 1-4-4-3-3 2-3 0-6-5zM316 411l3 11 3 3 6-1-3-7-3-3-2-5zM158 414l-3-3 0-2-4-1-8 2-3 3-3 1-8 0 2 3 6 0 1-1 8 1 5-3 5 1zM450 403l-4 3-1 3-4 4-3 0-4 4 0 3-2 3 4 7 11 2 10-12-2-4 1-3-1-5zM2 405l3 8 5 6-1 4-5-1 2 10 1 1 10 0-2-4-5-5 8-3-1-7-4-4-4-7zM9 423l1-1 1 1-1 1zM433 401l-4 3-6 2-7 7-2-1 1-2-1-3-3 9 3 2 1 5 3-3 10-3 2-2 1-7 4-4zM355 401l-9 1 1 4 4 3 4-3zM141 402l-2-4-10 1 0 5 10 1zM361 397l-1-1-3 1 1 1zM245 390l-5 3 0 4 2 2 0 4-2 5 0 11 1 1-1 10 1 3 5 0-2-4-1-19 5-9-4-6zM412 387l-2 6 3 2 3-4zM6 385l1 3 5 6 1-6-4-3zM381 379l0 5-2 3 2 4 5 3 5 0 2 2 6 2 4 4 4-5-8-2-4-7-9-4zM141 377l1 4-2 9 2 4 0 5 2 6 1-3 0-5-1-1 2-10zM200 376l1 8-3 3 1 4-3 2 1 4-3 6 0 8 3 5 0 9 3 3 1-4-4-7 1-15 1-1 0-8-1-1 3-1 3 2 0-12-1-3zM54 376l-5 3 1 1zM361 375l-5 2 2 2-1 3 4 2 0-7-1-1zM474 374l-5 3-5 0-1 1 4-1 2 3 3-4 2 0zM262 374l-7 10 1 3 5 4 2-2 0-6 2-3 0-5zM237 372l-3 2-1 5 3-3zM285 369l-7 3-3 3 1 1-1 13 6 4 2-7 3-5 0-10zM69 366l-7 5 0 5 5 2 0-4 3-5zM253 364l-1 8 3-3 0-4zM28 364l-1 1-1 13-2 5 3 6 2 2 2 0 1-2-1-3 0-6 1-1-1-14zM236 362l-1 3 4 4 3-3 0-2zM323 361l1 3-2 3 4 2 2-3 0-4zM45 360l-3 2-1 6-3 4 0 6 2 6 7-5 0-9-2-3zM427 359l-2-2-2 0-8 3 9-2zM9 356l-4 0-1 18-4 6 0 4 5-2 7-10 3-2 0-2-5-5-5-1 4-3 5 3 3 5 0-4-3-3-3 0-2-2zM4 363l1-1 1 1-1 1zM104 350l-1 2 2 2 1-3zM452 348l9 4 2-4-6 2zM96 347l-3 2 1 2-1 5 4 3 3 0-1-2 1-7zM84 345l10 1-4-3-4 0zM171 342l1 15 2 6-1 1 0 5-3 7-4 5 1 18-4 1-1 11 3 0 3-6 7 2-2 5 1 1 4-4-4-3 1-2-1-19 6-5 1-18-2-4-1-13-2-2zM334 341l-4 4 3-1zM53 343l-3 0-1 4 6 7 0 4 2 2 1-7-1-1 0-11zM383 337l1 8 5 5 7 3 4-2-11-11-4-1zM126 333l-7 6 0 3 4 7 6 4 0-8-3-5zM293 332l-4 0 0 2-5 5-1 6 3 5 3 0 1-2 0-5 3-6zM77 329l4 4 2-2zM360 328l1 5 7 9 1 4 5 2-2-16-4-3zM343 328l3 10 5 3 2 6 0-10-1-1 1-3-5-5zM392 330l-2-3-8 2-2-1-8 1 11 4zM486 325l-4 1-18 0-4 3 0 2 4-1 3 2 4 0 1-1 15-1zM189 329l0-4-6 2-3-1 4 5zM65 325l-2 10 4 5 6-1-1-7zM24 324l-1 0-1 7-3 6 0 12 3 3 3-3-1-7 2-3zM326 319l-5 1 0 2-3 3-1 5 3 5 0 3 2 4 5-1-1-1 0-12 2-4zM201 318l2 9 7-5 1 1 2 9 5 8 0 6 7-7 2 3 0 3 6 6 2 7 7 0 0-3-2-2-3-8-5-2-5-5 0-3-4-3-6-11-7 0-2-2 0-3zM575 311l-1 1-10-1-6 3-5 0-6 2 3 1 20-1 5-1zM212 308l-1 2 1 5 2-2zM269 302l0 5-5 10 6 6-2 2-6 2 0 4 5 9 4 4 2-10 4-7 3-2 0-7-6-8-2-6zM1 304l9 3 1 3 2 0-2-2 3-3-1-2-8-1zM162 299l-4 1-3 3 1 2-1 11 2 3 5 0-1-5zM137 297l-6 5-1 5-6 6-2 5 9 0 6-13 5-2 0-1-2 1-2-2zM236 296l1 7 11 11 0 2 3-1-3-7-3-2-4-8zM80 295l4 4 3-1zM267 284l9 18 3 3 5-2-5-5-5-9-5-5zM205 284l-2 2 0 3 6 11 4 3 0 3 1-1 0-12zM104 283l-8 9 1 2zM273 273l3 4 0 6 5 5 7 0-6-7-2-9zM102 270l0 8 4 2 11-2 4 1 1 5 2-3-12-10-8 1zM127 267l3 6 5-5zM229 262l0 4-5 7 3 7 3 1 7-4 4 2-4-10zM248 260l-5 4 4 3 2 8 4 2 1 5 3 2 3-4 0-2-3-6-4-4-3-8zM59 259l-1 4 2 2 10 4 2-1 1-4-2-2-6-1-4-3zM285 249l-1-1-5 6-4 2-5 0-6 4 1 3-4 3 4 3 7-4 3-5 7-3 3-3zM72 244l11 7 8 0-1-4-6 0-7-3zM300 240l-4 8 3 3 0 3 6 0 1-1-5-8zM19 234l-5 13 2 6-2 7 0 7 5 0 1 1-2 4 0 9-1 1 1 6-3 6 7 2 29-10 1 1-3 3-6 2-4 3 0 10 6-2 3 6 3 1-2 3 9 6 4-3-4-3-3-4 0-2 6-4 7-8 3-1-6-6-4-1-3 3-3-4 2-2 11-2 7-6-9-3-18 7-24 6-1-1 1-19-3-2 0-2 2-2 0-3-2-3 1-20zM52 286l1-1 1 1-1 1zM569 225l1 2-1 10 6 2 0-14zM250 227l-2-2-15 8 4 4 5-3 5-1 3-3zM230 220l-3-1-6 4-6 1-2 4 3-2 7 0 4-2zM277 226l6 0 5-4 5-1 4-4-4-3-11-1-6 6 1 1zM58 210l0 3 2 3 7 2 5 0-3-3-4-2-3 0zM15 209l-2-1-1 3 3-1zM275 210l-1-5-1 1-8 0-2 2 8 0zM75 204l1 2 10 6 5 5 1-5-1-4-6-2-4-6zM216 195l3 5 7 0 3-5-4 1zM72 181l-8 2-5 5 4 0zM303 176l3 7 3-5-3-2zM160 172l-4 2 2 2 0 5 2 4 2-5 0-5zM85 165l1 1 1-1zM50 170l-2-3-4-2-8 1-7 5 4 0 5 2 6-3zM294 153l0 3 2 4 9 3 5 9 1-1-2-5-10-10zM105 149l2 3 9 3-4 2-5 0 3 4 2 10 3 2 5-3 4-5-6-6-2-6-7-5zM59 148l-5 1-13-1-7 2-13 1-1 2 5 1 1-1 16-1 5-2 9 1 3-1zM83 143l-8 1 8 0zM25 141l-3-1-12 4 2 2 5-1zM62 145l-5-5 2-2-2 1-10 0-4 3 12 0 1-1 1 2zM178 129l-2-1-6 1-6 4-3 4 3 4 9-9zM304 122l0 4-3 4 1 5 2 3 7-5-5-5 0-3zM312 107l-4 3 0 2 5 12 0-15zM67 107l0 1 9 4 9 8 1 3 3 2 0-4-9-10-5-2-4-4zM154 96l-3 2 3 4zM169 97l-2-2-10 9-2 4 5 1 2-2 4-1zM311 92l2 3 0-2zM113 85l-1 5 4 4 10 0 1 1 1-2-4-1-3-4zM95 84l-3 0-4 2-9 0-4 2-8 0 0 1 2 1 12 0 1-1 6 1zM276 80l-2 17 2 4 3 0 0-11zM53 81l0 1 18 0 3 2 3 0 3-2-1-1-10 0-1-1zM1 80l3 7 6-1 1 2 2-1 6 1 4-3 5 1 1-2-4-1-8 0-3-2-3 1-2 3-5-5zM260 78l0 3 3 0 3 2 5-2-8-4zM118 73l-1 5 2 2 5 1 8 8 3-1-2-4-8-7zM66 74l5 2 5 0 5-2 1 1 8 0 4 2 3-4-1 1-2-1-16 0-3 2zM0 71l0 2 6 0 0-2zM174 75l0-4-3-4-11 10-5-7-4 2 1 3 10 10 4-5zM157 79l1-1 1 1-1 1zM158 77l1-1 1 1-1 1zM20 63l12 0 3 2 3 0 2-3-17 0zM270 57l-1 3 7 8 10 3 5 3-7-7zM176 55l-2 1-1 9 6 0zM163 52l1 5 2 2 0 3 0-3zM2 44l5-1 7 1 4-3-16 0zM289 42l1 7 10 5 0 5 2 2 2-2-4-14 2-6-3 2-2 6zM131 37l1 5 4 6 6 1-5-6 0-5-1-1zM260 35l0 2 5 5 10 4 5 5 4 0 3 2 1-4-7-3-6-7-2-1-2 1-4-4-4-1zM278 26l13 1 4-1 1-2-13-1zM61 15l-1 2 1 0zM277 9l2 3 1-1 1 1 7 0 3-2 3 0-1-1-5 0-5 2zM140 4l-5 4 2 3 0 4 2 4 4-4-3-6zM181 0l-1 4 6 8 0-5-2-3 0-4zM65 0l2 2 5 1-2-3z"/><path fill="#de3a32" d="M538 381l1 6 3 0 0-3 3-3zM524 378l0 9 6 0 0-3zM494 377l-2 5 4 5 3 0 0-7-1-2zM522 361l-3 2-17 1-7 3 2 2 3-3 3-1 4 1 10-1 2 1 2-1zM565 361l-5-1-7 0-6 2-5-1-4 2-8 1-10 6-11 1-4-2-3 0-2 2 22 3 5-8 6 0 5-2 8 2 8-5zM563 355l-3-5-2-1-17 5-9-1 0 4 3 1 15 0 8-3zM575 320l-20 2-9 4-5 0 3 5 3 2 11-1 1-1 9 0 5-3 2 1zM404 320l9-1 2 2 4 1 5-1 6 1-4-5-1-4-3 1-3-2-13 1 0 4zM460 311l-6 2-1-1-5 0-1 1 0 5 3 1 3-5zM557 295l-5-1-15 3 1 3 7 0 4-2 5 0zM348 291l11 1 4 2 2 3 2-1-10-6zM417 290l5 5 3 9 1 0 0-3 2-3 11-1 8-3 10 2-12-8-9 1-4-2-4 0-3 2-4-1zM391 284l10 1 4 2 5 0 1-1-1-4-2 2-9-2-5 0zM539 281l-1 1-16-1-4 3 2 4-3 2-7 0-1 1-8-1-4 2-8 1-7 7 8-2 14 0 1-1 8 1 7-4-1-4 1-2 16-1zM480 265l2 0 7 4-3 7 8-5 9-1-1-1-10 0-1-1 2-2-2-1zM379 267l7 2 7 0 1 2-4 3 5 0 1 1 10 0 2 1-2-2 6-3 0-6-2 1-18-1-3 2zM432 266l1 1 16-1 2-1-2-2 1-1 6 0 3 2 6 1 3-1-1-1 1-4-1-2-9 0-1 1-4-1-7 1-2-1-4 3-7-1 0 6zM406 257l5 5 4-2 0-4-2-1-4 0zM380 240l-13 0-14 4-7 0-3 1 1 1-1 2 2 1 10-1 1-1 8 1 4-2 4 0zM457 239l3 6 4 2 1-2-3 0-3-5zM562 236l-5 7 1 5-2 4 6 4 1-4zM393 233l-10 2 0 4 11 0zM541 233l-5-7-3 0-5 3-9 0-3 2-7 1 1 6 10-1 4-3 9 1 4-2zM82 198l-2-5-7 4 4 0 3 2zM68 186l-1-1-3 3zM43 191l5 0 1 1 8-1 3-5-6 1-7-2zM282 180l-2 0-4 3 3 6 3-2zM71 180l-6 1 0 1zM231 176l-2 2 1 7 2-2zM23 180l8 0 3-2 7 0 1 1 4-1-15-3zM50 169l1 1 0 6 5 0 5-3-1-4-5 0-1-1zM222 166l-6 3-1 3 4 2 4-5zM188 151l-6 2-1 2 1 5 1-5zM298 146l-3 6 14 13-1-4-5-5-1-4zM28 146l5 0 7-3 5 2 1-1-1-1-10 0-4 2-3 0zM151 143l1 2 16 1-3-3-8 0-1-1zM118 140l1 2 4 2 4 0-4-3zM232 134l2 5 0 6 4-1 0-6-4-4zM251 133l-9 8-1 3 2 3 0 6 1-1 2 1 2 8 2 3 2-5-1-7 3-3-1-8-2-3zM268 131l-3 0-3 2 0 5-1 1 1 1 0 5-5 2 5 6 4 0-1-7 1-1 3 1 2-4zM75 132l-7 1-5-2-4 0-5 4-6-2-11 1 4 5 16-1 9-2 2 2 3 0 4-3zM219 129l-5 8 3-1 0-3zM29 129l-8 1-4 2-6 0-4 3-4 0-3-2 0 4 9 0 1-1 7 1 5-3 6 0zM92 128l-1 5 9 9 10 6 3 0 3-2-7-8-7-2-6-7zM116 123l1 5 5 5 6 1 3 3 3 1-1-3-3-3-5-1-7-8zM30 127l2 1 9 0 1-1-2 0-6-4-2 0zM164 122l-2-2-2 2-9 2 6 6 6-4zM34 116l-6 2 4 2zM63 117l1 3 15-1-4-5-4 0-5 3zM170 110l-2 1 3 4zM235 107l-16 12-1 3 14-6 5-6zM298 97l-6 6 3 6 5 4 0 5 1 1 3-2 5 0-2-8-6-6-1-5zM112 97l8 9-1 6 10 6 4 4 0 2 3 3 4 1 3 4 3-6-4-4-3 5-3-2-4-6 1-4-3-2 2-2-3-5-4-4zM76 94l-10-1-3 2-7 0-5 4 5 0 5-2 13 0zM87 91l3 4 6 4-6-8zM28 90l0 3 4-1 6 1 0-2-6-2zM185 87l-4 2-6 8-5 1-1 4 4 2 5-3 8-9zM98 83l-1 3 1 2zM277 80l3 10 0 13 2 4 1 8 4-1 1 1 3 16 3 0 2-6-1-5-4-8-2 1-1-1-2-10-2-3 1-5-1-14zM287 113l1-1 1 1-1 1zM154 79l-2 1 0 3 3 5 0 7 7-9-4-5zM203 76l-6 5-1 5-6 3 2 2 4 0 2-6 5-5 3-1zM230 75l-2 6 3 3 3 0 3 2 0-7zM46 75l10 4 6 0 1-5-4 2-5 0-4-2zM44 75l-6-1-13 4 6 0 1-2 6 1zM285 67l8 8 8-2-2-5-3-1-1 1-2-2zM40 64l0 2 11 1 3 3 3 0 2-2 5 0 1 1 3-1-2 0-4-3-6 1-3-2zM237 67l3 3 15 6 4 5 1-5-5-7-8-3-3-3-3 0zM143 54l-2 2-1 5 10 10 6-2 0-6-5-2zM60 56l1 3 5 2 4-1 19 1 4-3-5-3-11 0-1-1-5 1-3 2zM288 50l0 4 4 3 2 0 4 4 1-7zM23 51l4-1 1 1 13 1 0-1-3-1-5 1-9-1zM109 49l1 10 8 5 3 5 1-1 0-5-8-12zM15 44l-1 1-4-1-10 1 0 5 10 0zM121 43l2 3 3 1-3-4zM196 31l0 3-3 3 0 6 5 5 2 9 1 1 1-1 4 1 1 8 5 1-1-1 1-12-4-5-2-5-5 2-1-1-2-11zM211 26l0 7 3 5 1 9 3 1-1-16-2-5zM311 24l-2 0 0 4-2 3 3 7 3-3 0-8zM300 12l-9-1-3 2-7 0-1-1 1 3 2 1-3 2 0 5 3-1 13 1 2-4-5 1-7-2 9-5zM284 17l1-1 1 1-1 1zM264 9l-2 0-2 3 3-1zM287 2l3 2 1-3zM298 0l2 3-1 5 4 0 4-4 6-1 0-3z"/><path fill="#60c298" d="M350 433l5 0-2-2zM367 431l2 2 7 0-4-5zM28 428l0 4 4 1zM433 417l-2-2-3 3-10 3-3 3-4 9 8 0 10-10 3-1zM296 409l-2 6 1 4 7 5 3-2-4-5-1-4zM322 409l0 3 4 5 0 2 6 10 4-6-1-10-8-5zM382 404l-2 4 0 3 2 2 3 0 1-1-2-2zM404 402l-4 4 7 7 4 2 2-8zM479 398l-2 3 0 3-8 8 4 3 2 0 4-3zM337 395l-4 6 6 0zM29 392l6 5 0-5zM423 391l-1 4-4 4-4-2 2 3 0 10-1 2 3-1 5-6 6-2 3-3zM14 388l0 2 1-1zM467 388l-2-1-2 2zM1 385l-1 3 6 4 1-3-2-4zM342 374l1 8-2 6 7 4-2 9 9-1 1 1 0 6 3 1 5 5 1 3 6-2-10-16-3 1-2-2 0-5-9-3 0-7-1-1 1-6zM355 400l1-1 1 1-1 1zM376 375l10 8 10 5 5-3-6-6-4-1-9-7-2 0zM325 370l3 6 0 3-2 3 0 2 1 0 3-4 1-4-1-3-3-3zM17 368l-8 10 1 2 2-2 3 0 4-2zM410 364l1 9 3 4 4 1 7 5 3-1 4-4-8-8-6-2-5-4zM442 362l1 9 2-2 0-2zM69 362l-4 1-2 4 0 3 7-6zM453 364l3-1 8 1-6-3-2 0zM329 359l1 3 4 2 3 0 1-5-2 1-6 0zM302 358l-2 4 0 6-1 1 1 4-2 1 1 5 3 6 5 3-3 5 0 3 3 3 1 5 8 6 4-2-5-5-7-12 1-2 3 0 0-11-3 0-2 2-1-1 0-13 1-2-3-5zM307 389l1-1 1 1-1 1zM79 359l2 1 0-2zM121 357l-5 2-3 8-3-1-1 1-5 0 0 5 3-2 9 0 1-1 4 3 1-3zM352 356l-3 2-5 1 0 3 4-2 1 1 0 5 1-1 6 0 1-3-3 0-3-2zM499 356l-2-2-3 0-3-2-5 1-3 2-5-1-7 1-7-2 15 7 7 0 6-3zM326 352l-2-2-2 0-1-2 0 3-2 2-1-3-4 1 0 6 8 2-1-3 1-2 5 3zM420 344l8 6 3 0 0-1zM338 340l-3 4-3 1 2 4-1 1 1 4 5 3 5-5-2-3 0-6zM86 338l-6 4 8 0zM74 336l0 4 1 0zM441 336l-2-2-4 2-1 2 4-2zM294 332l0 5-2 3-2 9 5 3 2-17zM390 331l0 1 4 0 5 5 3-1 0-1-8-4zM126 330l-3 3-6 0-6 6-2 6-4 4-3-3 0-4-4 3-1 2 5 4 3-2 3 3-1 3 1 4 5-9-2-6 8-8 4-1zM279 327l-1 1-1 12 1 1 0 5 3 2 0-5 2-7 5-5zM443 323l-1-1-4 3-5-1 5 4zM147 319l-2 0-5 6zM2 314l-2 1 0 20 6-5zM186 305l0 5-4 16 7-2 6 6 8 2 0-4-2-3 0-5-3-1-5 3-1-1 1-4-2-2 1-9zM190 323l1-1 1 1-1 1zM191 322l1-1 1 1-1 1zM20 306l-2-2-6 4 5 3zM64 302l-2 0-1 2-5 3 0 2 6 6 9-9zM294 297l-6 0 0 9 1 1 1 10 3-1 2-3 3 0 0-4-2-4 1-7zM150 295l-5 0-3 9 0 5 3 6 3-1 1-11 2-5zM234 292l1 5 1-2zM68 290l3 3 3-1zM115 279l-6 1 5 0zM220 275l0 5 2 3 3 2 2-1 4 1-5-5-3-6zM200 269l0 10-1 1-2-2-4 2 1 1 1 16 2 1-1-7 3-7 3 3 3-4 0-6-1-1 1-4zM138 280l-1-9 2-4-3 1-6 6-7-5-12 1 12 9 3-1 4 1-3 3-2-1-2 3 5 7 3-5zM270 268l3 4 5-1-4-5zM309 265l0 4 4 8 5-2-1-3zM165 265l-2 13 1 3 5 2 1-1-1-17-1 1zM72 269l1 2 10 5 7-5-15-6-2 1zM13 265l-2 0-5 11 0 5-2 5 0 3 2 3 3 0 1-18 3-5zM42 258l2 1 2 8 7 1 6 4 2-2 1-3-8-6zM295 253l2 4 3-1 0-1zM305 239l7 9 1 4 7 8 4-4-2-2-1-8-8-8zM219 238l-14 10 3 3 4 1 8-5zM271 238l-3-3-4 0-3 3-5 0-5 4 4 4 12-3zM507 225l1 1 4-1zM368 225l1 1 4-1zM23 233l4-7 4 2 16-1 3-4-17 0-1 1-5-2-2 1 0 2-2 2zM32 216l2-1-2 0zM56 209l-1 5 3 0-1-5zM57 204l-5 2 5-1zM286 198l-1 3 1 5 2-3 3 0 4-3 4-1 1 4 5 5 0 5 8 5 0-11-5-6-6-2-1 1-2-2-1-4-3 0-7 4zM47 195l-4-3-2 3 0 3zM285 188l-4 0-2 2 1 5 4-2zM249 188l1 4 2 2 0 3-2 3 2 4 0 3 4-2 12 0-4-15-7-1-3-3zM311 172l0 2 2 2 0-3zM15 101l-4-3-11 1 0 2 8 0 1-1 1 1zM8 75l1 3 3-1 12 1 1-1-6 0-4-3zM0 58l1 3 7-1-4 0zM302 10l0 1 8 0 3 2 0-5-3-1-5 1zM57 3l2 1 4-2-5 0zM249 0l1 10 4 2 0-7-3-5zM193 0l-4 0 2 9 4-5z"/><path fill="#54b8dc" d="M104 175l-8-1-63 29-2 0-11 6-2 0-10 5-4 8 9 1 16-8 36-15 30-15 1-2 3 0z"/><path fill="#e6d652" d="M383 430l1 3 11 0-1-2zM376 415l-3 3 0 3 3 5 3 2 0-6 1-1-3-3 0-3zM445 398l-4 4-4 1-5 5-1 6 2 2 5-4 3 0 3-3 3-5zM374 388l1 1 1-1zM414 378l1 3-2 6 3 3 5 0 4-4 0-2-7-5zM482 372l-5 4-6 2-1 8-2 2 4 4 4-1 4-8 6-7zM394 367l-1 3 4 2 3 4 5 3 4-2-9-9-5 0zM401 349l0 2 2 0 4 4 7 4 11-3 3 3 9 1 4 2 2-4-5-1-8-6-2 0-4 5-5-5-5-1-10-8-1 5zM455 329l1 1 0 9 3-1 7 1 5-3 6 0 3-3 0-1-13 1-3-2-4 1-1-1 1-3zM77 182l-3-1-6 4 3 0zM103 178l-3 6 6 3 1-2-4-5zM24 178l-5 0-6 3 9-1zM64 181l-6 1-3-2-4 0-1-3-4 2 5 1-3 4-1-1-6 0-3 2-5 1-3-1-6 2-4 4 5-2 18 0 4-5 11 2 3-1zM98 171l3 3 0-3zM150 163l-1 2 1 4 4 4 5-1-1-4-6-5zM79 155l-3-4-11 0-2-1-7 2-9-1-8 2-1 3 9-1 9 2 10 0 7-2zM30 147l-7 0-4 2-2-1-14 0-3 1 1 1 9-1 5 2 5 0 9-2zM71 120l-14 1-1 1-8-1-8 3-5-1 8 4 2-1 10 1 1-1 10 0zM0 113l7 1 11-7-18-1zM18 102l4 3 8-2-1-1zM72 100l2 3 2 1 3-1 6 4-6-8-5-1zM26 92l-10 1-1 2-5 1 5 4 4-2 7 1 0-5-1-1zM21 95l1-1 1 1-1 1zM36 94l0 1 7 0 4 2 5 0 4-3 7 0 3-2 6 0 5 2-1 2 4 0 3 2 1-1-1-2-6-2 4-2-12 0-3-3-13 0-1-1-5 0-4 3-4 1-1 3zM96 83l-2 3 2 4 4 3-3-4-1-3 1-2zM63 79l5 0 1 1 10 0 3-2 8 2 3-2-3-2-8 0-1-1-5 2-5 0-7-3zM41 60l16 0 3-1-1-3-9 0-3-2-5 0zM16 45l0 1 3 1 2-1 15 1 1-1 3 1 2 3 5-2 4 2 5 0 3-2 3 0-9-3-11 0-1 2-10-3zM57 32l0 5 9 0-1-3z"/><path fill="#eee2ba" d="M72 423l9 8 7-3 3 0-10-5zM96 414l9 1 5-2 4 0 1 3 1-4 8-1-3-2-23-1 0 4zM103 394l-4-1-6 8 2-1 5 1 1-1-1-2zM76 380l0 6 2-1 4 3 0 5-2 2 4 5 1-16zM62 366l-2-1-5 8-3 0-3 2-1 4 12-7 2-2z"/><path fill="#ecece8" d="M425 312l-1-1 0-7-3-1-9 2-4-2-3 0-6 3-9-1-4 1-2 4 3-1 10 4 6-2 1 1 15-1 3 2zM384 292l0 6 8-2 10 0 1-1 8 2 9-2-3-4-6 1-1-1-14-1-5 1-3 2zM331 287l0 6 9 7-7-12zM510 277l-4 0-3 2-16 0-6 2 0 3-3 4 7-2 9 1 4-2 7 0 3-4 2 0-1-1zM479 273l-4-2-4 0-5 2-8 0-1 3 1 4 10 0 1 1 6-2 6 0zM552 232l-3 9 0 5 2 2 0 2 4 2 2-5-5-9zM501 227l-5 0-5 2-11 0-1-1-12 1 2 5 4 1 1-1 7 0 10-2 3-2 5 0z"/><path fill="#6496d7" d="M420 324l-1-1-11 3 10 5zM367 313l1 5 3-1 6 4 26-1 2-3 0-4-2-1-6 2-10-4-2 1-8-1zM344 304l-1 0-2 5 0 11 5-9zM506 298l-2 1-14 0-1 1-6 0-10 4-4-1-7 2-6 0-4 6-2 0 4 1 4-2 4 0 4-3 9 0 4 2 6 0 1 1 7-4 8 0 3-2 5 0zM343 290l3 5 6-3-4 0zM554 288l-4 1-7-2-6 0-1 1-16 1 3 9 2 1-1-1 1-2 7-3 11 0 1-1 9 1zM499 289l-1-2-19 1-7 6 12-1 4-2 5 1 4-1zM437 288l5 0 4-2 16 1 5-2 12 0 2-5-6 0-4 2-13-1-1-1-10 3-7-1-2 2zM554 272l-6 2-11-1-3 2-11 0-5 3 7 2 13 1 5-2 10-1zM329 285l1 1 7 0 4-2 10 1 0-4 3-2 4 0 3 2 5 0 6-3 3 1 4-3-15-1-9-3-4 0-14 5-3 5-3-2zM474 266l3 3 3-1 6 0 1 1-8-4zM327 263l-1 4 7 3 0-7-1-1zM469 261l-1 1 1 2 2-1zM345 263l11 0-6-3zM536 255l-2 1 1 2zM396 255l1 2 9 2-3-4zM495 247l-4-4-11-1-3 2-7-1-4 2-2 3 2 4 3-1 7 1 15-4 4 0zM541 234l-4 0-4 2-8-1 2 8-2 2-6-1-5 3-3 0 2 5-1 3 10 0 3-2 8 0 5-3 5 1-2-4-5-5 1-1 4 1 3-1zM457 229l-5 0-3 2-3 0-2 3 0 6-1 1 5 1 5-3 5-1zM325 225l1 4 5 4 2 5 4-1 0-4-4-8zM49 180l-15-1-3 2-13 0-4 2 11 0 8 2 5-1 3-2 7 0zM227 177l-1 1 2 2zM184 178l0 3 10 0 9 2 9-2 8 1 0-2-3-1-7 0-3-2-4 0-5-2-9 4zM297 168l-3 9 1 5 5 6 5-6-3-7zM237 162l-2 13 4 4 4-1-3-5 1-7-1-3zM79 165l-7 1-5-1-3-3-5 2-14 1 5 3 2-1 3 1 15 0zM243 154l3 1-1-2zM274 152l0 2 3 4 2 10 3 7-6 7-3-9 0-6-4 7-5 1 4 3 2 8 6 1-1-4 3-3 5-1 1-9-2-10zM142 152l2 4 8 0 4-2 5 0-2-2-6 0-1 1zM238 145l-5 1 0 11 2 0 2-2zM92 162l0-3-5-10 1-3-2-2-8 3-7 0-1 1-10-1 0 3 4-1 1 1 16 1 5-2 1 2-3 6 0 5-1 1 1 1 6 0zM222 140l1 3-1 7 2 5-1 8 2 5 5 1 0-6-1-1 0-6-2-3-1-12zM292 139l-4 6 3 4 2 6 3-9zM79 125l-2 8 3 1 3-3zM228 122l3 3 0-4zM217 120l-6 2-5 4-8 10-4 0-3 3-3 1-4-5-8 9-5 2 1 2 4 2-4 1 5 0 11-11 13-1 1-1 2 3 4-3 5-1 1 1-2 6-2 2-5 1-3 3 3 8-6 3-6 6 0 2-2 2 2 1 6 0 5-2 12-9 1-5-3-4 6-4-3-11-3 1-1-1 4-6-2-2 0-4zM272 117l1 12 5 5 0-5 1-1-1-10zM283 116l-2 6 3 3 2 7 4 0 0-5-2-4-1-8zM35 116l2 1 29-1 7-3-3-2-3 1-15 0-2-1-7 3-7-1zM262 109l-4 4 0 10 2 5-5 1-3 2 0 7 3 7-1 8 2 3 0 3 4-2-1-2 1-3-4-5 5-2 0-5-1-1 1-1 0-5 2-2 4-1-1-5-3-5zM290 108l6 12 1 5 4 4 2-3 0-4-4-4 0-5-5-4zM248 109l-1-1 1 1-16 10 3 1 8-3zM226 97l-10 2-4 3 0 2-3 3-3 1-8 7-2-1 1-3-6-3-6-5-3 5 3 4 3 0 2 2-5 2-7 7-2 4 4 1 10-10 5-3 5 0 4 3 8-7 3-1 11-11zM198 79l-6-2-2 1 0 2-5 6 2 4 8-4 1-5zM100 75l-5 1-1 3 3 1zM215 85l0 1 8 3 2-1 1-3 5 1 6 8 12 7 7-3 4 3 2-4-10-9-7-2-7-6 0 6-1 1-3-2-3 0-4-4 3-8zM220 70l2 1 2-2-4 0zM258 64l0 8 3 4 10 4 9-1-5-5-7-4-5-1zM227 59l8 8 7-5-11-6z"/><path fill="#c496d6" d="M159 426l1 4 2-1 6 0 1 1 4-1 1-7-2-2-10 0zM232 409l-1 5 1 14 1 1-1 4 8 0-1-3 1-7-3-6-4-4zM171 407l-2 0-3 4 3 2 0-3zM190 403l1 3 0-3zM162 401l-6 2 0 6 5 1zM212 394l-2 1-5-1 0 7 2 3 0 11 4-1zM275 390l-1 1 0 6-2 4 1 1-2 5 1 7-2 7 10-1 0-5 1-1 2-17-4-5zM258 390l1 1-1 11 3 8 1-1 1-17zM232 375l3-2-3 0zM196 371l-2 2 1 8-2 4 1 5 2 2 2-1-1-4 3-3-1-9zM256 366l-1 4 3 1 0-3zM211 348l-4 3 2 6-5 4 2 3 0 6 3 3-1-11 2-5 4-4zM229 339l3 3 8 3-2-3-3-1-3-3zM155 326l-1 1 1 8-2 4 0 4 2 4 0 7-2 3 0 10 6 2 0-12 2-8-3-6 0-6-3-7zM232 328l4 3 7 0-3-6zM170 322l1 5 6 8 3 6 3-1 2-2 0-2-3-7-3-3-2 0zM299 188l-5-6-8 6-1 5 5 1 7-1zM288 158l1 1 0 7-5 6 0 6 5-4 5-1 3-6 3 3 1 3 2 2 2 0-3-12-4 0-4-3-1 3-2 1-1-2 2-3zM289 164l1-1 1 1-1 1zM239 143l-1 4 1 12-1 2 2-1 0-4 2-2 0-7zM202 139l-1 1-10 1-1 6-2 3 1 2-5 3-1 5 1 4 10-10-3-3 12-9zM290 133l-4 0 0 3-3 3 3 7 4-6zM296 126l-1 9 6 6 2-3-2-3-1-6zM224 124l-4 4-1 4 3 7 5 1 0-6zM238 120l-6 1 0 12 2 0 0-5 1-1-1-4 3-1zM275 102l-5 3 0 6 2 2 0 3 6 1 0-6-3-4zM262 101l-4 4 1 5 3-2zM227 96l0 1 6 1 14 11 7-2-4-5-9-4-5-4-3 2-3-1zM246 108l1-1 1 1-1 1zM293 92l-5 0-3 3 0 4 2 3 2 8-1 3 2-2-1-6 4-4-1-1zM197 92l-2 0-5 8-3 2 6 1 4-8zM300 90l1 2-2 4 2 2 0 3 7 8 4-3-5-9zM218 75l-7 7 1 2 2 1 3-3zM231 68l0 5-1 1 7 3 1-1-3-7zM298 62l1 2-3 2 1 1 2 0zM304 60l-3 5 0 7 2 4-6 8 2 2 9-2 5 1-1-22-2 0-2 5 3 7 0 7-1 1-5-5 1-5-2-7zM202 58l-1 1 0 9 1 1 5-1-2-5 0-5zM271 54l2 5 6 3 4 4 8-1-5-1-5-7-4 0zM313 51l-1 4 1 5zM233 40l2 0 7 4 4 4 2 0 1-2-3-4-3-1-3-3-4 2zM313 36l-2 2 2 6 0 5zM295 38l0-3-2-2-5-2-5 0-3-4-5 2-8 0-9 2 0 1 7-2 16 0 1 1-1 1 1 5 4 1 3 3 2 0zM204 23l6 7 0-5zM298 21l-2 4 1 4-1 4 3 7 1 0 2-3-1-1 0-8zM223 13l-2 2 2 11 2-2-2-6z"/><path fill="#b4e4b4" d="M78 430l1 2 2 0zM63 430l-9-8-8 11 15 0zM62 420l-1 2 6 6 2 5 5 0-5-9-4-4zM53 417l10-1 3 2 5 1 1 3 9 0 11 6 12-1 6-3 4 1-1-4-3-2-2 1-9 0-1-1 2-3-1-1-13 1-1 1-5-2-6 4-1-1 1-7 1-1 5 1 4-5 4-1 2-3-4 0-4-3-7 6-3 5-3 0-3 2-5-1-4 1-3 2zM96 396l-1 0 0 2zM60 391l-1-1-10 6-7 8 2 0 4 3 5 0 1-3 5-6zM70 384l-2 3 5 4 0 2 2 2 2 0-3-2-1-2 1-3zM135 387l-3-6-7-1-5 3-7 0-9 2 1 5 11 0 2 2 3 0zM61 372l-6 4 3 7 4-2zM204 255l2 4 3-2 2 0 2 3 2-1 0-3-7-4zM146 242l3 3 9 0 1 1-1 8 2 2 0 6 4 4 0-5 1-1-2-6 1-9-11 0zM186 247l7 1 3-6 4 1 4-4 5-2-2-3-2 0-5 4-6 1-3 2-1-1 1-6-3 0-4 2 4 3zM194 242l1-1 1 1-1 1zM165 226l2 2 1 4 4 4 0 2 4-1-5-3-4-9zM200 215l-7-3-5 1-5-1-2 3-4 2-9 0-1 1-1-1 10 5 6 0 1 4 2 0 6-5 9-5zM82 199l3 6 13 6 2-2-2 1-2-2-4-9-2 1zM176 198l14 1 4 2 5-1 20 1-4-6-4 1-26-1-4 3zM131 195l3 4 0 3 7 7 3-1 4-4-6-8zM179 180l4 3 1 3 3 1 6 0 1 1 17 0 1-1-1-4-8 1-9-2-10 0z"/><path fill="#e6a046" d="M138 417l-1 1-8-1-5 3-7-2-2 2-2 0 2 5 12 0 3-2 8-1zM97 408l-5 2-9 0-3 2-5-1-1 7 6-4 5 2 1-1 8 0 3-3zM69 408l-6-1-8 5 5-2 6 1zM132 393l-1 1-7 0-4 2-5 0-2-2-8 1-4 3 1 2 7 0 1 1 4-2 17-1zM100 380l-1 1-5-1-1 13 2 2 2 0 5-10zM75 380l-2-2-2 2-2 0-1 3-5-1-2 2-1 6 1 1 5-3 4-5 4 4 1-1zM54 378l-4 3 0 11 7-9z"/><path fill="#7a5ab6" d="M228 198l-2 4 2-1zM218 189l1 6 10-1 0-4-8 1zM234 175l-2 1 1 10 4 5 3 1 0-10zM89 176l-3 0-5-3-4 0-3 2-13-1-7 3 0 2 4 2 18-3 1 1-2 1 5 1 7-4 2 0zM76 178l1-1 1 1-1 1zM0 177l10-1 4 2 3 0 5-5-21-1zM226 179l-1-1 1-3-3-5-3 3 1 2-1 1-8 1-5-2-9-1 5 2 4 0 3 2zM287 167l-3 0 0 2 1 1zM89 168l7 2 2 2-5-5zM124 166l-4 5-4 2 7 12 2 1 1-3 5-4 0-2-4-4zM80 165l2 1 1-1zM214 164l-3 1-5 5-6 2 6-2 4 0 4 2 1-3zM64 161l-1-1-3 1-7-1-6 2-8 0-3 2-9 0-1 1-6-1-2 1 8 2 10-3 23-1zM233 158l-3 2 1 13 4-7zM293 156l0 4-3 4 2-1 2-4 1 1zM164 156l7 5 11 0-2-4-2 1-4-2-5 1zM38 153l-38 4 0 3 19-1 7-2 8 1 3-2zM204 156l-3-5-5 2-12 12-1-1-4 3-2-1-11 0 8 1 3 2 10-1 2 2 2 0 1-3 7-7 5-2zM254 150l-2 2 1 7-3 6 3-2 6 6-3 3-4 1 5 2 5 0 0-3-3-4 4-4 2 0 4-3 2 4 0 4 1-1-2-11-3-3-5 0-1-1-1 1 1 3-5 3-3-7zM86 150l-8 2 1 2 6-1zM140 150l9 2 12-1 1-1 3 1-9-3zM98 147l1 3 5 6 11-1-4 0zM190 141l-2 0-10 10 2 4 3-4 5-2zM71 144l2-2 5 1-5-2zM1 138l0 2 2 2 5 0 1 1 15-4 2 2-3 2 8 1 4-2 7 0 2-2-7-1-3 2-7 0-1-1 2-5-6 0-5 3-4-1zM219 133l-1 0 0 7 3 8-6 4 3 4 5-1-2-5 1-7zM294 132l-3 0 0 7 1-2 3 0zM126 125l4 1 9 9 1 2-4 4-4-3 2 3 17 1-1-4-2-2-5 1-3-1 2-2-2-5-4-1-4-3zM90 123l0 2 6 3 6 7 7 2 8 8 1-2-1-3 1-1 5 1 5 4-3 1 2 6 7 6 5 8 0 4 8 7 1 6 3 6 2 1 6-4-2-4 0-5-8-7-2-6-7-7-1-3-2-1-1-5-3-3-5 0-2-3 0-3-4-2-3-3-1-3-5-1-4-4 3 9-1 2-11-9zM280 122l-1 1 1 1-1 13 1 1 0 5 2 3-1 9 2 2 1-1-1-4 2-4 0-4-3-3 0-2 3-3 0-6-2-5zM227 122l-2 1 1 7 2 6 4 1-1-11zM238 121l-1 10 5 4 0 5 3-2 0-4-3-4 1-6-2-5zM203 119l-3-3-5 0-5 3-9 9 1 1 0 5 1 1 2-1 4-5zM134 115l-1 4 4 6 2 1 1-3zM183 116l-3-3-10 5-5 5-1 3 5 2 6-1zM162 116l-4-1-5-4 1 2-2 1-5 11 3 0 2-3 8-1 2-2zM203 109l-2 0-2 3-2 0 0 2 3-1zM263 106l1 14 3 5 0 3 3 4 2-2-1-17-6-7zM246 109l-4-3-9 11zM36 108l-3-3-10 3 0 3 2 1 5-2 6 0zM183 104l-3 1 2 1zM172 105l-4-2-2 4-5 2 1 1 7 0zM0 105l21 1-5-5-1 1-5 0-1-1-5 1zM237 102l-4-3-6-1-12 13-3 1-3 3 4 1 3 3 2 0 9-8 5-2zM53 104l6 0 4-2 5 1 5-5-12 0-3 1zM117 95l5 5 4 1 1-4 10 10 0-2-4-5-2-5-2-1-2 2-1-1zM34 93l-7 1 0 4 8-3zM78 93l5 1 2 2-1 2 1 5 10 6-2-3 3-1-3-6-6-5-1-4-4 0-1 2zM92 105l1-1 1 1-1 1zM223 97l-3-3-7-2-2-3-3 6-5 4-5-5-4 9 5-1-1-1 3-3 1 1-1 2 3 1 4 4-1 1 9-9zM269 88l-1 1 0 9 2 6 5-3-2-4 1-8zM226 86l0 3 7 6 2-1-4-7zM313 92l0-6-1-1-13 2 6 0zM258 86l4 3 5-2 0-3-4-2-4 0zM291 81l1 8 2 3 0 5-1 1 0 2 1 0 4-4-2-12zM98 79l-1 4 1-1 1 1 0 6 6 2 6 6 1-1-1-1 1-8-7-3-5-5zM80 80l0 1 8 0-6-2zM5 79l4 5 2-3 3-1 3 2 8 0 1 1 7-1 4 3 3 0 8-4 4 1 1-2-10-1-3 2-3 0-4-3-2 1-13 0-1-1zM113 75l2 2 1 4 6 4 5 7 5-2-4-5-4-3-5-1zM106 73l5 3-1-2zM41 73l4 2 3-2 6 2 5 0 3-2 3 1-2-2-3 0-2 2-4 0-3-2zM156 71l1 1 3-2 2 2-3 5 8-7-3 0-2 2-5-3zM230 68l-2 2-4 0-5 5-1 6 12-9zM88 67l5 1 4-1 2 2 0 3-3 3 5-1 1-3-2-2 5-4-5 1-12-1zM116 64l1 7 8 5 11 11 2-2-1-4-4-4-10-5-3-3-1-3zM3 64l2 3 12 0 1 1 14-1 3 2 4-2 0-2-4 1-3-2-12 0-1-1zM186 59l-2 5 0 4 5 3-3 3 5 3 8-7-4-6 1-3-2-2-1 6 4 5-1 1-6 0-4-7zM130 58l12 12-5 1 7 6-4 7 2 4 7 6 1 3 2 0 2-2 0-7-2-2-1-6 3-2-12-15-6-4zM0 55l0 2 4 2 22-1-1-3-6 0-1 1-9-2-8 0zM282 52l0 5 4 6 10 1 1 1 1-1-1-3-3-3-2 0-6-5zM168 50l-1 1 1 2-1 10 2 4 2-1 3 3 1 5 1 0 6-6-3-2-6 0-1-1 1-9-2-5zM211 50l2 4-1 12 1 1 11 1 3-3 0-3-5-11-3-2zM38 45l3 1 1-2 11 0 1 1 3-1-6-3-7 0-2 3-4 0zM24 43l9 1-7-3zM218 38l1 7 3 0 8 10 4 1 4 3 3-1 1-3-3-3-3-1-7-7-4-1zM130 37l-5 7 2 4 8 0-4-6zM126 37l-9 4 5-1zM302 32l1 7-2 6 4 12 0 9 1 2 2-1 1-5-1-1 0-8-2-3 0-9zM261 33l6 1 5 4 4-6 2 0 2 2 1-3-16 0-4 1zM220 32l6 2 5 5 5 0 3-2-2-3-10-5-5 0zM282 28l1 2 8 1 5 4 1 10 1-7-4-6 0-5zM57 28l0 3 8 2 1-5-2-1-6 0zM188 19l-1 6 3 8 0 10 2 5 2 0 1-2-3-3 0-10-2-3zM195 17l1 1-2 6 5 10 2 11 4-1 1-3-2-4 0-7-4-6 0-3zM177 16l-4 8 3 2 0 3 3 2 3-2-1-5-3-3zM295 14l14 1 2-2-1-1-9 0zM240 15l7 5-1 4 6 0 1-1 3 2 7 0 1 1 7-1 3 2 5-3 0-5-3 2-8-1-6 3-6 0-3-4-5 0-1-2 2-1-4-2-2-3-1 3zM63 12l-6-1 0 6zM255 9l0 5 3-1 2 1 4-1 10 1 4-2-2-3-9 0-1 1-2-2 1 2-5 3zM166 6l-1 10 2 5 3 2 1-2-3-6zM67 3l6 7 0 6-1 1 3 3 0 2 1 1 5-3 2 5 3 3 2 6 4 3 3 0-1-6-4-6-3-8-4-4-4 0-2-2-5-2 0-5zM65 3l-3 0-3 2-2-1 0 4 9-1zM146 1l-3 4 0 6 5 5 1 4 3 2-3 3 0 4 4 7-1 8 6 7 0 2 5 1-3-8 0-7-3-6 0-4-5-4 0-2 2-1 6 4-4-4-4-1 1-2-1-5 2-1zM292 0l-1 4 7 6 1-5zM216 0l0 10 4 4 2-1 1-6 1-1 1 1 0 4 4 5 0 4-2 3 8 8 4 0 11 6 5 5-4 4 3 1 9 7 8 2-3-4-8-6-1-2 4-3-6-7-8 0-4-4-1-4-5-4-6-1-2-2 4-4 0-2-6-6-1-7-4 0 1 2-1 2-5-4zM201 0l2 6-1 6 7 7 0 5 7 3 2 7 0-11-5-9-2 1-2-2-3-12zM104 0l2 9 5 7 7 1-1-5-5-8-4-4zM90 0l4 8 6 6 2 8 3-2-1-7-6-8-2-5z"/><path fill="#f0b096" d="M212 182l1 2-1 4 7 0 2 2 8-1 0-6-1-1-4 1zM294 174l-5 1-6 5 0 7 3 0 4-2 4-4-1-4zM162 173l1 2 4 1 15-1 4 3 9-2 3-3 9 1 5 2 8-1-10-4-4 0-5 2-8 0-3-2-3 2-2-1-13 1-1 1zM50 171l-6 0-6 3-5-2-5 0-2 2 0 2 6-2 5 2 11 1 2-1zM269 162l-2 2-4 1-3 3 3 4 0 2 4 0 3-2zM281 158l3 4 0 4 4 0 0-7-3-2zM106 157l-2 0-6 9 3 3 1 5 9-3-2-10zM242 155l-2 6 2 5-1 7 5 11 3 3 5-2-3-7 0-5 5-2 2-3-5-4-3 2-3-5-1-5zM141 152l-1 1 1 3 8 8 1-2-7-6zM266 146l1 7 3 3 2-1 1-4-4-4zM30 149l10-1 1-1 10 1 0-2-6 0-5-2-3 2-6 1zM213 138l-7 2-10 9-4 2 3 2 5-2 5-5 5-1zM73 140l6 2-3-2-1-3zM273 130l-1 1 4 10 0 5 2 0 2-2-1-1 0-5-1-3zM48 127l-3 0-4 2-9 0-2-1-1 7 4 0 4-2 7 0 2-1zM235 123l1 2-1 9 4 4 0 4 2 1 0-8-5-4 1-8zM31 122l-6 1-3 2-4-1 0 4 11-2zM79 120l-7 0-6 7 5-2 7 0zM85 108l2 2 1 4 3 3 7 4 3 0 4 2-3-2-4-6-6-2-5-5zM291 103l-1 4 4 1zM256 99l-6 2 5 5-1 2-4 1-1 4 1 2 0 10 2 5 3-2 4 0-2-5 0-10 1-1-1-7 3-3zM201 99l-2 2 1 1-3 1 4 5 3 1 3-3-7-5zM27 100l2 1 4-2 6 0 1-1 5 0 1 1 5-1-4 0-4-2-10 0-6 3zM300 88l8 9 4 8 1 0 0-7-3-7-5-3zM51 82l-6 1-5 3-3 0-4-3-3 0 0 2-2 2-5-1-4 3-3-1-5 1 2 3 14-1 2-3 12 2 4-3 4-1zM199 85l4 3 5 0 1 1 2-1 2 3 5 1 5 4 3 0 2-2-6-5-3 0-6-4-2 1-2-4-6-1zM96 80l-3 0-3 2-9 0-2 3 9 0 4-2 3 0zM235 68l4 8 18 10 1-5-3-4-15-6-2-3zM182 70l3 3 3-2-5-3zM62 69l0 2 6 3 7 0 3-2 16 0 1 1 3-1-1-4-1 1-9-1-3 2-5-2-5 0-7 2zM40 73l-1-5-7 3zM227 66l-2 3 2 0zM292 65l3 2 1-2zM299 58l1 12 1-8zM37 47l2 3 2 0-1-2zM16 44l5 0 4-3-6 0zM276 33l-2 5 7 7 2 0 6 4-1-8-2-2-4-1-4-5zM295 27l0 5 1-2zM287 18l16 1 1 1-1 2 1 10 2 0 2-4 0-5-2-2 1-1 4 1-2-5-15-1zM299 10l3-1-3 0zM292 8l-1-3-4-2-6 3-6 0-2 2 6 0 4 2 5-2z"/><path fill="#96d6d6" d="M0 190l19 1 5-5 5-1-20-1-3 2-6 1zM10 180l2 1 4-2-4-1zM53 177l-2 0-1 3 3-1zM163 176l0 4 3 1 10 0 3-2 4 1-1-4-6 0-1 1zM106 173l-2 3 0 4 4 5 8 1 4-4-3-7-4-3zM35 166l-5 0-5 2-3 6 2 1 7-7zM84 165l-3 7 7 3 0-6zM88 165l3 0 5 3 1 2 3 0-7-7zM148 160l3 2 3 0 6 5 3 0 3-2 11 0 1 1 3-1-21-3-1-2-1 1zM124 146l-7 8 2 5 5 5 7-8-5-5zM39 138l-2-3-9 2 0 2 4 1zM47 130l0 2 7 2 5-4 4 0 5 2 7-1 1 1-1 4 2 4 3 2 6 1 3 3 4-1-7-7-5-1-5-4 2-7-7 0-4 2-2-1-15 1-1-1zM36 111l-10 1-2 1 2 3-4 2-10-1-7 3-2 4 1 1 3 0 4-2 11 1 3-2 3 0 2-2-3-2 8-3zM86 105l0 2 6 5 6 2 6 8-1 1-5-1-7-4-1 2 1 3 9 3 11 9-3-10 1-1 4 4 4 1-2-5-9-4-5-6-5-2-1-2zM106 124l1-1 1 1-1 1zM103 123l1-1 2 1-1 1zM22 107l7-1-5-1zM1 82l-1 5 3 1zM33 77l4 3 3 0 3-2 8 0 3 2 3 0-10-4-5 0-4 2zM7 73l1 1 7-1 4 3 9 0 9-2-6-3-5 0-4 2-3 0-4-2-4 2zM40 67l1 5 10-1 3 2 4 0 3-2 0-2-2 0-2 2-3 0-3-3zM106 65l-5 5 2 1 3-4zM63 65l6 3 10-1 5 2 3-2 0-2-6-3-9 0zM26 54l0 3 3 3 6 0 2-2 4 0 0-2-3-1-1 1-7 0zM246 49l10 7 10 3 3-1-1-2-5-1-11-8-3 0-1 2zM82 50l2 1-2 3 6 0 5 3 16-1-1-5-2-1 1-3-18-1zM100 28l2 10 5 6 3-1 1-2-5-5-2-6zM251 25l-5 0 0 5 3-1zM80 21l-4 4 5 6 0 5 5 1 2-1-1-4-5-7-1-4zM160 17l-3 5 4 4 2 7 2-3-3-8 0-4zM130 12l-5 5 6 14 0 5 5 0 1-5-4-8-2-11zM248 18l7 0 4-4-4 1-1-2-4-2 1 4zM65 8l-8 1 0 1 7 1zM175 0l0 5-1 1 1 4 2 3 2 8 2 2 6-6-2-2-1-5-5-6-1-4z"/><path fill="#c8de4a" d="M89 169l0 6 1 1 8-3-2-2zM0 166l0 5 22 1 2-3-3-3-5 1zM160 160l0 1 3 1 19 2 0-2-11 0-1-1zM58 158l-13-2-1 1-7 0-3 2-8-1-10 2 3 3 7 1 1-1 9 0 3-2 8 0 6-2 5 0zM137 146l2 3 17-2 10 4 1-1 8 0-5-3-6 0-1-1zM27 145l-5-1-10 3-9-2-3 3 3-1 14 0 2 1 4-2 4 0zM52 148l8-2 10 1 1-1 10-1-6 0-1-1-3 1-7-7-4 0-2 2 5 5-2 1-2-2-2 0-2 2-3 0zM159 135l-3-4-4-1-1 1-6 0-4 5 12-1 1-1zM30 126l-8 2-2 2 9-2zM32 122l8 1 8-3 8 1 1-1 6 0-1-3-16 0-1 1-10-1zM174 115l-6 2-5-1 0 4 2 2 5-5zM0 114l0 2 5 3 7-3 4 1 9-1-2-4-3 1-8-1-5 3zM68 109l7 4 4 4 1 8 4 6 6 1 2-5-5-2-3-5-8-7zM93 105l2 2 1 4 5 2 5 6 8 4 2-1-5-2-6-8-4-1zM70 102l5 6 5 2 9 10 1-1 0-2-3-3-1-4-7-6-3 1-4-3zM30 102l6 4 1 6 5 1-6-8 1-1 9 0 1 1 5-1 5-5-1 1-16-1-1 1-6 0-3 1zM17 100l0 1 10 0-5-2zM75 96l1 2 3 0 6 7-3-7zM132 92l-2 2 3 2 0 2 4 5 2 5 7 7 3 1-7-10-2-7-5-6zM112 91l0 4 8 4zM0 88l0 4 5 0-1-3zM89 90l6 5 2 4 4-1 7 7 5 2 5 4 1-1 0-4-14-14-6-1 1 1-2 1-3-3-1-3zM99 93l1-1 1 1-1 1zM139 85l0 4 3 4 3 8 7 6 2 0 11-11 0-1-7-3-3 4 0 6-1 1-4-4-2-5zM50 86l3 1 22 0 3-1 0-2-4 1-3-2-19 0zM8 77l-2-1-3 3zM185 74l-2 5-7 7-5 2-3 5 0 2 2 2 5-1 3-5 11-11 0-3zM102 73l-3 5 6 5 7 3 0-8-3-3zM0 65l0 5 6 0 1 2 4 0 4-2 4 2 3 0 4-2 7 0 1-1-2-1-8 0-1 1-18-1-3-3zM108 63l-2 5 4 5 6 3 1-4-2-4zM120 59l3 4 0 5-1 1 1 2 11 6 1-1 6 0-10-10-3 0zM40 59l-3 0-2 2-2 0 7 0zM158 54l-1 3 4 5 0 8 1 1 2-2 2-6-3-8zM20 54l5 0 1-1 4 2 7 0 1-1 3 1 1-2 5 0 3 2 18 1 6-3 7 1 2-3-2-1-9 1-4-2-9 0-3 2-5 0-4-2-4 1-2 3-17-2zM126 48l5 4 1 5 4 1 3 2 1-4 3-3-2-3-3-1-11 0zM165 32l-2 2 3 16 3-1 0-2-3-6zM187 29l-1 7 1 1 0 5 3 5 0 6 7 8 1-8-3-3-2 0-3-4-1-13zM52 41l2 0 4 3 6-1 1 1 11 1 4-2 3 2 0-5-5 0-1 1-1-1 1-2-1-3-7-11-1 4 3 4 2 6-1 1-15-1-1 3zM72 39l1-1 1 1-1 1zM144 15l1 3 3 2-1-4zM158 13l1 4 2-1zM72 13l-7 3-3-2 0 4 8 0 2-2zM127 8l-5 2 2 8 1-3 4-3zM167 4l5 20 4-7 0-4-2-4zM186 0l4 8-2-8zM78 0l1 1 0 6 9 10 2-2 8 11 4 2-2-12-7-8-3-6-2 5-4-6z"/></g></g></g><rect x="686.5" y="7" width="58.5" height="43.0" fill="#fff"/><rect x="998" y="7" width="263.5" height="227.5" fill="#fff"/><rect x="1164" y="393.6" width="97.5" height="47.4" fill="#fff"/><text x="707" y="35.0" font-family='"Liberation Serif",serif' font-size="21" fill="#222">(b)</text><text x="1190.8" y="419.6" font-family='"Liberation Serif",serif' font-size="20" fill="#222">2 μm</text><rect x="1200.2" y="431.2" width="21.8" height="2.8" fill="#555"/><g fill="#c5323b" stroke="#8c3a40" stroke-width="0.7"><rect x="1040.4" y="125.9" width="7.1" height="69.3"/><rect x="1047.5" y="149.4" width="7.1" height="45.8"/><rect x="1054.6" y="128.8" width="7.1" height="66.4"/><rect x="1061.7" y="134.5" width="7.1" height="60.7"/><rect x="1068.8" y="142.0" width="7.1" height="53.2"/><rect x="1075.8" y="146.6" width="7.1" height="48.6"/><rect x="1082.9" y="150.6" width="7.1" height="44.6"/><rect x="1090.0" y="160.9" width="7.1" height="34.3"/><rect x="1097.1" y="167.7" width="7.1" height="27.5"/><rect x="1104.2" y="172.3" width="7.1" height="22.9"/><rect x="1111.3" y="175.7" width="7.1" height="19.5"/><rect x="1118.4" y="180.9" width="7.1" height="14.3"/><rect x="1125.5" y="183.2" width="7.1" height="12.0"/><rect x="1132.6" y="183.8" width="7.1" height="11.4"/><rect x="1139.7" y="186.6" width="7.1" height="8.6"/><rect x="1146.7" y="187.8" width="7.1" height="7.4"/><rect x="1153.8" y="188.9" width="7.1" height="6.3"/><rect x="1160.9" y="189.5" width="7.1" height="5.7"/><rect x="1168.0" y="192.3" width="7.1" height="2.9"/><rect x="1175.1" y="191.2" width="7.1" height="4.0"/><rect x="1182.2" y="193.5" width="7.1" height="1.7"/><rect x="1189.3" y="192.9" width="7.1" height="2.3"/><rect x="1196.4" y="192.9" width="7.1" height="2.3"/><rect x="1203.5" y="193.5" width="7.1" height="1.7"/><rect x="1210.5" y="193.5" width="7.1" height="1.7"/><rect x="1217.6" y="193.5" width="7.1" height="1.7"/><rect x="1224.7" y="193.5" width="7.1" height="1.7"/><rect x="1231.8" y="194.1" width="7.1" height="1.1"/><rect x="1238.9" y="194.1" width="7.1" height="1.1"/></g><rect x="1033.3" y="23.5" width="212.7" height="171.7" fill="none" stroke="#7f8b8f" stroke-width="1.3"/><g stroke="#8a9598" stroke-width="1"><line x1="1033.3" y1="195.2" x2="1036.3" y2="195.2"/><line x1="1033.3" y1="166.6" x2="1036.3" y2="166.6"/><line x1="1033.3" y1="138.0" x2="1036.3" y2="138.0"/><line x1="1033.3" y1="109.3" x2="1036.3" y2="109.3"/><line x1="1033.3" y1="80.7" x2="1036.3" y2="80.7"/><line x1="1033.3" y1="52.1" x2="1036.3" y2="52.1"/><line x1="1033.3" y1="23.5" x2="1036.3" y2="23.5"/><line x1="1033.3" y1="195.2" x2="1033.3" y2="192.2"/><line x1="1104.2" y1="195.2" x2="1104.2" y2="192.2"/><line x1="1175.1" y1="195.2" x2="1175.1" y2="192.2"/><line x1="1246.0" y1="195.2" x2="1246.0" y2="192.2"/></g><g font-family='"Liberation Serif",serif' font-size="16.6" fill="#222"><text x="1030.8" y="201.6" text-anchor="end">0</text><text x="1030.8" y="173.0" text-anchor="end">5</text><text x="1030.8" y="144.4" text-anchor="end">10</text><text x="1030.8" y="115.8" text-anchor="end">15</text><text x="1030.8" y="87.1" text-anchor="end">20</text><text x="1030.8" y="58.5" text-anchor="end">25</text><text x="1030.8" y="29.9" text-anchor="end">30</text><text x="1033.3" y="213.0" text-anchor="middle">0</text><text x="1104.2" y="213.0" text-anchor="middle">1</text><text x="1175.1" y="213.0" text-anchor="middle">2</text><text x="1246.0" y="213.0" text-anchor="middle">3</text></g><text x="1139.2" y="227.5" text-anchor="middle" font-size="16" fill="#222" font-family='"Liberation Serif","Noto Serif CJK SC",serif'><tspan font-style="italic">α</tspan> 片层尺寸 / μm</text><text transform="translate(1009.8,106.3) rotate(-90)" text-anchor="middle" font-size="16.5" fill="#222" font-family='"Liberation Serif","Noto Serif CJK SC",serif'>体积分数 / %</text><g><clipPath id="cpc"><rect x="111" y="449" width="568.0" height="425.0"/></clipPath><filter id="blc" x="0" y="0" width="1" height="1"><feConvolveMatrix order="3" kernelMatrix="1 2 1 2 4 2 1 2 1" edgeMode="duplicate"/></filter><g clip-path="url(#cpc)" filter="url(#blc)"><rect x="107" y="445" width="576.0" height="433.0" fill="#3a3438"/><g transform="translate(108.5,446.5)"><path fill="#3450ac" d="M434 428l0 2 8 0zM30 429l4 1-3-2zM51 427l-2 0-3 3 4 0zM82 423l-2 0 0 7 4-4 2 0zM0 423l0 7 6 0-3-3 4-1-3-3zM275 422l-2 3-4-1 1 4 4 0zM256 422l-2 1-2 5 4-2zM108 424l-3-2-5 1-1 5-2 2 9 0zM430 421l-2 5 1 2 2-3zM427 421l-3 1 1 3zM348 421l3 6 3 1-1-3zM332 425l3 3-1 2 8-2 2-3 3 1-2-3-2 0 0 3-4 1-4-6zM171 422l2 6 1-3 5 1-3-5-3-1zM158 419l-5 0-2 6 3 1-1-4 4-1zM87 418l1 6 1-5zM10 418l1 3-2 4 2-4zM113 417l0 2 3 0-1-2zM415 416l1 5-3 2 2 3 3-3 3 3 1-4-4 0zM96 416l-2 3 1 6zM447 413l-7 2 1 5-2 4 5-5-2-2zM232 413l-5 5-2 0 5 2zM475 412l-9 3-2 3 0 5-3-2-3-6 2 7-2 1-1-3 1 4-2 2-2-7-1 4-6-1-2 2 1 6 3 0 0-2 5-4 2 2 0 4 3 0 0-2 3-3 7 0 5-3 4 3-2-5-1 2-2-3-6-3 5-1zM369 412l-1 2 3 3-2 2-3-2-1 3 6-2zM279 411l-2 3 1 3 3 1 1-6zM52 412l-12 0 4 1 1 4-9 9-3 0 2 2 9 2 0-3-4-5 5-1 2-3 6 0zM253 413l-5 1-1-2 2-2-4 3-4-1 0 2 6-1 1 3 2 0zM134 410l-2 4 2 5 3 2 0 7 2 2-1-6 1-1 1 2 2-3-3 0-1-6 5-5-2 2-1-2-2 1zM93 410l-6 2-7 0 6 3 2-3 5 0zM268 409l-1 4-4 0 4 4-6 1 0 5 2-3 3 1 5-2 0-3-3-2zM222 414l-4-5-5 2-3-1-4 8 2-3 3 2 0 3 2 1 2-2-4-3 5-5 5 4-4 2 2 0zM102 409l-2 0-2 6 1 2 3-4zM316 407l1 2-2 3 4 0zM285 407l-1 3 5 3 0-2zM179 407l2 2 7 2-3-2-4 0zM30 408l3 5 2-1-3-2 1-1 7 0-1-2-4 2-3-2zM431 406l4 7-1-6zM258 407l1 1 3-2zM128 406l3 4 1-1-1 1zM429 405l-2 1 0 3-6 7 7-3zM160 405l-3 7 3-3 3 0 3 3-2-1 0-3zM286 430l9 0-2-4 2-2 3 3 4 0-1-4 4-2 3 0 1 2-5 4 4-2 6 5 6-2 6 1-2-4 3-2-2-4-8 1-5 4-2-2 4-3-2-1 0-5-3-3 1-3-2 0-3-4-3 6 4 10-6 3-4-4-2 0 0-2 0 7-3 0 0 3zM20 403l1 2 2 0-1 7 4 1 0-5 2-1-5-3 1-1zM114 404l6 3-4-5zM368 403l-3 0-1-2-4 3 1 2 6 0zM358 402l-3 0 0 3-3 1 4 0zM159 401l6 2 0-2zM60 401l-5 4 2 3-2 3 3 3 2-3 2 1-1-4-3 2-2-5zM433 400l0 3-2 1 3-2zM417 400l-1 6-3 3 6-6zM141 400l-3 0-1 3zM294 400l-2-1-3 4 3 0zM214 396l-1 4 2 1 2-2zM195 396l-1 6 4 4 2 0 0-3-3-2 1-4zM17 396l3 5 0-2zM11 395l-4 3 1 3 4-3zM424 394l1 4-2 3 3 3 2-6zM375 393l-6 1-3 3 8-1zM246 393l2 3-1 3 5 2-2 6 5-1-1-4-3-3-2 0 0-3zM471 392l-2 3-1-1-2 6 6-7zM71 392l5 5 6 0 1 2 1-3 5-2-11 2 0-4zM466 388l-5 5-9 3-4-7-2 0-1 3-7 1-2 4 10-6 3 3-1 5-3 4-1-4 2-4-2 1-1 8 4 4-1-3 2-4 3 0 2-4 3 6 0 8 2-2 6 1-1-8-4 1-1-2 2-6 4-1-1-1 3-3zM379 388l2 9 3-3 2 0-1-4zM237 388l-1 7-3 2 5 0 2-6zM113 389l-5-1-4 5 0 4-8 2 2-1 1 2 2-2 3 0 1-2 7-1-1-1zM23 389l-2-1-1 2zM198 387l1 8 3 2 4-1-5-4 0-5zM474 386l2 3-1 2 3 3-5 6-1-1-2 2 5 4 0-3 3 0 0-12zM228 385l-1 2-5 1 2 3 4 2-5 5 7 4 0-6-2-4 3-2-1-4zM216 385l-2 3 4 6 1-4-3-3zM447 386l0-3-1 2-8-1 5 3zM383 383l-2 1 5 0 3 2 0 8 4 2-16 7 3 2 1 5-8 4 2 7-3 3 1 3 3-4 2 3 2-4 4 1 0-3 3-5 4 3 0 2-3 1 3 7-2 2 7 0-2-4 6-6 2 0 0-4 3 1-2-3 2-1 3 2 1-5 2 3 0 4 0-6-4-4 1 2-2 2-3 0-2 2 1 3-9 8-2-12 3-3 4 2 1-6 3-2 1-5-2 1-2-3-4 5-1-1-2 2-5-2 6-2 2-4 9-1 2 3 3-3-4-1 1-3-3 3-9 0 0-8-3 2zM390 422l1-1 1 2-1 1zM376 417l2 3-1 3-2-1zM400 400l0 3-2 2-6 2 1 1-2 4-8-1-2-2 1-4 3-2 8 1 4-6zM32 383l-1 4 2-2zM244 382l3 7 2 0 0-3-2 0zM90 382l0 2-2 2-3 0 0 2 4 0 3 6 2 1 0-8-3-2 1-3zM216 381l-4 4-10 0 9 1zM236 380l-3 1 0 5 4-2 1-2zM173 383l0 6 2 0 3 4 9-4-9 0-1-2 3-2 0-3-3-2zM121 381l2 4 3 0-2-5-2 2zM39 381l-1 2 4 0 6 4-2-4-2 1-2-3zM546 379l-1 4 2 0zM403 383l6 3 1 3 6-2 1 5 3-2 1-3-2-1 1-2-2 0-6-5-6 4zM368 379l-6 4 2 0 2 3-4 0-7 6 0 4 2 3 2-2-4-3 0-2 2-2 7-1 2-2 0-3 2-1zM261 378l0 7-2 5 3 2-1 4 1 1 1-2 9 7 4 0 0-2-2-1 4 0-2-2 2-2-7 1-1-2-5-1-1-2 2-7-3-2zM530 377l-5 4 4-1zM404 379l-1-2-4 1zM140 378l-4-1 2 5-2 2-4 0-5 7-4 1-1 6 1-5 6-4 8-2 1-2 2 2 5-1-6-2zM382 376l-3 0 0 3zM180 376l0 3 2 0 1-2zM424 375l5 6-2-6zM248 375l0 2 2 0zM516 374l2 3 2 0zM288 374l-1 2 2 3-1 1 2 0 0 3-2 2-3 0-1 2-2-1-1 2-3-2-1 1 2 0 1 3 10-6 1-6zM149 374l1 10-2 5-2 1 0 3-3 2 2 3 7 0 0-3-5-4 1-2 9 1 2-4-3 0-6-7zM101 374l-1 7 4 4 2-2 1 1 0-2-3-3 0-3zM490 373l1 3-4 3 2 4 4 0 3-3 2 2 0-2-3-1zM97 373l-2 1 1 1zM66 377l-7-4-4 4-4-1-2 2-4 0 2 3 8 0 6 2-1-5zM512 372l-2 2 1 4-3 2 1 1 2-1zM481 372l-3 8 2-2zM435 372l-3 6 4 0 2 2 1-4zM208 373l12 0 0 10 6-2 0-3-3-2 3-3zM157 372l1 8 1-7zM21 373l1 2 9 0 0-2-2-1zM553 371l3 6 6 0-4-4 0-3zM271 370l-4 5 7 5-1 1 4-1-4-6 1-2 2 0-3 0zM272 372l0 3-3 1-1-1zM464 369l-3 6 0 4 0-2 5-3zM437 369l-9 3 3 3 0-2zM180 369l2 4 0-3zM372 368l-1 5 4 3 0 2-5 4 1 3 3 1 4-2-2-5 1-7zM573 366l-3 6 2-1zM546 366l-9 11-2 0 4 0 4 3-4-5 4-3 1-3 1 2 0-2 2-1zM466 366l0 3 3 2-1 6 3-1 0-3 2-2-2-3zM464 365l-5 2-2 6-3 0 0 8 2 2 0 4 2 3 0-4-3-5 0-5 2-1 2 3-1-6 6-5zM201 366l-4-1-4 3 1 2-2 2 4 1-1-3zM23 368l7-2-4-1zM506 364l-3 4 0 11 2-3zM336 364l-3 1-2 3 0 7 4-2 5 0 0-2-5-5zM151 364l1 5 4-1-2-4zM491 363l-1 3 3 3 2 0-2-1 1-5zM111 363l0 10 2 1-1-3 6-6-3 1-2-3zM480 362l-4 2 2 4 3 2 4-3-2 0-3-3zM357 363l-6 0 2 2-1 1-5-1-2 2 0 3-2 1 0 3 4 5-3 0-2 4-5 2-2 3-10-2 2 5 2-3 8 0 3 2-3 5 8-2 2 2 0 4 0-5-7-6 6-4 5 10 2-1 1-6 4-1 1-2-4 0-5-4 0-2-1 2-2-2 2-5-4-4 11-3zM348 380l3 4-1 5-4-5zM343 373l2-3 4 4-3 2zM98 361l-3 2 4 4 1-4zM7 360l-4 6 0 6 5 0 2 3 0-5 3-2 0 8 3-2 4 5 1-2-7-11 3 0-1-4-2-1 0 2-4 2zM556 358l-2 9 7-1-2-4-3-2zM329 358l3 3 0-3zM205 358l-1 3 4 0-1-3zM146 358l0 4 2 1 1-2zM569 357l-8 4 4 5 8-4-5-4zM564 361l3-3 4 3zM537 357l-4 3 4 10 0-4 5-1-5-2 0-2 2-2 1 1zM138 359l-3 0-2-2-1 2-2-2-5 1 0 9 7 1 0 2-3 3-2-2-4 0 2 1 0 6 2 1 5-2-1-2 5-10 3 2 3-1-6-3zM393 356l-3 4 4 0zM148 357l10 1-1-2zM530 360l-8-2-2-3-6 16 1 1 2-5 5 0 5-7 3 2zM330 355l5 1-2-2zM196 354l-4 1-1 7 1-5zM52 354l-3 0-7 10-2 0-1 2-5 0 5 0 1 3-2 2-4-3 3 4 4 1 1-4 5-1 4-3 5 2-2-2zM41 366l1-1 1 2-1 1zM426 355l2 2 7 0-2-4-4 0zM182 354l4 3 4-3zM382 354l-8 0-3-2 0 3-5 3 0 3-7-2 1 7 3 4-8 4-3 4 3-1 5 3 3 0-3-4 6-4 1 1 2-2 0-6 2-1 0-2 3-3 2 1-5-2 2-2 3 1 3-3zM472 353l-3-2 0 3-2 2zM395 354l8 0 1-2-5-1zM543 350l-2 6 4 3 1 3 0-8 2-1 2 5 2-1 0-2-2-3zM543 354l1-1 2 2-2 1zM297 353l0 3 2 0 3 3 7 0-5-4 4-1 0-3-4 2-1-3zM132 350l-2 0-2 3-1-1 3 1zM34 350l-3 2 0 5 4 4 2 0 0-5-4-2 3-2zM462 349l-1 5 4 1 1-2zM159 350l2 5 16-1-2-2-7 2-5-5zM566 348l7 8-2-6zM477 348l-1 4 4 0 3 3 0-4zM433 359l3 1 3-2 7 5 3-3 5 2 3-3 0-2-4-4-4 4-5-2-2-2 0-3 1-1 3 3 1-2-2-2-4 0-3 4-1-1 4 5-5 4zM507 349l-3-2 1 2-4 4-4 0 0 4 3 1-1-3 6-6 2 1 0 2zM488 348l1 2 10-1-7-2zM383 347l4 6 1-4zM541 346l-4 2-2 5 3 0zM219 346l-6 0 3 6 0 5-5 2-1 4 4 6 5-3 5-7 3 1-2-1 0-3 2-2-4-4-7-1zM216 357l4-2 3 3-3 1zM39 350l9 1 1-4-1-1-3 3-2-3-2 0zM523 347l-1-3-4 3-8 0 2 0 6 6-3-5zM167 345l-4 0 0 2zM77 345l0 4 4 0 1 1-2 1 9 2-5-1-2-5-3-1 4-2zM0 346l4-1-3-1zM353 343l-2 6-8-3 1 2-2 2 3 6 7 3-5-3 2-4 3 3 7-3-1-6-3 0zM142 344l0 3 7 2 0-2-3-1-2-3zM53 343l-1 4 2 0zM8 347l-1 4 3 3 8 0 3 6 6 1 2-2-5-1-3-4-3 0-3-3 0-5 3-3-4 3-4-1zM186 344l2 4 6 1-5-7zM64 342l-2 1 0 3-4 3 3 3-3 6 5 5-1 5 11-11-1-2-6 0-4-3 7 0 3-5-2 0zM542 341l-2 0-1 2 2 1zM271 341l2 2 0-2zM154 342l4 3 0-3zM131 342l-4 1-2-2 1 2-2 4-2-2-3 0-3 3 5 8-3 3 1 2 3-1-1-4 4-4-1-5 5 0 3-2zM46 340l-5-1-4 4 2 0 2-4 1 2zM215 342l2-2 5 2 2-1-6-3zM181 338l0 2-3 2 2 2 2-2zM386 337l1 6 5-1 5 8 1-3 5-4-1-4-7 2-3-3zM292 336l-3 0 0 7zM321 335l-2 5 4-1 5 4-2 2-3-2 0 7-9-1 0 2 11 7 1-2-2-2-4 0-3-2 6-2 1 2 3-1 0-3 5-4 4 0 1-3-3 3-3 0-6-8zM60 336l-1-1-1 2zM270 334l1 3 4-3zM203 334l-9 2-2 2 5 4 3-4 3 0zM90 332l-1 2 7 9-1 1 2 5-3 1 1 2 4-1-2-6 3-3-2-3 5-1-7-1-1-6zM255 330l6 4 2-1-3 0zM24 330l2 7 1-7zM571 329l-4 3 2 0zM384 329l-10 3 0 3 4-1 2 2-1 3 3 0 0-3 4-3zM534 327l-4 1 2-1 1 4-2 0 0 3-4 3-1-3-4-1-3 3-1 4 2 0 4-4 2 0 3 3-5 2 1 7-3 3 0 3 5-7 0-6 2 0 0 4 3 0 0-2 3-3 0-5 3-1-4-2zM387 327l2 3 1-1zM110 327l4 4 0 2-3 3 0 4 7-6 2 3 3 1-1-6zM119 331l1 1-4 3-1-2zM286 326l-3 3 2 3-4 0 0 3-5 4 3 4-5 10 5 5-2 1 2 1-3 3 0 3 4 4 0 2 3 1 2-1-4-8 3-3 4 6 3 0 2-3 3 3-1 3 3 2 0 3 3-3 2 4 5 4-1 4-7-7-1 7-5-3 3 7-2 2-2-1-3 3-1 5 1 1-1-3 2 0 1-4 3-1 3 4-2 4 0 5 8-7 4 6 9-1 10 13 1 4 3 0 1-3 5 4 7-1 1-2-8 1-5-4-1 2-3-5 3-2 4 3 3 0 1 3 3 0 4-2-2-1 1-2-3-2 0-2 4 0 0-2-8-4-1 2-2 0-2 4-12-1-5-4-3-7-5-1-2-5 2-4 2 0 1 3 4-2 13 0-4-7-2 3-3 0-2-3 0-6 3-2-1-3 6-4-10 1-1 6-6-4 2-1-4-2-4 0-1 3-3 2-4-4 2-4-3 0 2-7-2-3-2 0-2 3 2 4-1 5-8-1-3-2 2-3 0-9-2-3 0-5 8-7zM334 406l2-1 1 2-2 1zM339 403l1 2-2 2-1-2zM306 325l-4 4-1-2 1 3-2 3 0 4-2 2-4 0-1 2 2 3-2-4 1-1 4 4 3-1 1-3 3 4-2-3 2-3 3 0 1 1-2 3 0 7 0-7 5-4 0-2-3-1 1-4-6-3zM306 332l1-1 1 2-1 1zM545 325l-1 5-2 2 3 3-1 5 5 2 1 5 1-7-4-3 1-1 6 2 3 3-3 3 3 12 2 1 0 2 2-2 3 0 3-3-1-2-2 4-7-1 3-7-3-7 3-3 3 7 5 0-1-3 3-3 3 1 0-6-6 1-2 3-4 1-2-3-2 2-5 0-2-2 0-3 2-2 8-2-2-1-3 3-7 1-1-1 3-4 2 0 0-2zM548 326l1 2-2 1-1-1zM489 325l-2 6 4 5 4-1 2-9 4 0 2 2 0 3 6 7-7 4 4 1 1-2 3 0 1-4 5-4 0-2-6-2-2 4-2-2 0-3-3-1 2-3 5 0-6 0-4 2-4-1 1 1-6 6 0-6zM277 324l-8 8 10-5-4-1zM142 326l1 3 4-2 3 0 2 3 2-3 5 1-8-4-4 2zM540 322l-5 2 3 0zM366 324l3 6 9-2-8-6zM367 326l2-2 5 3-3 1zM245 322l-2 0 0 3 2-1zM520 321l-5 4 3-1zM313 321l-2 3 1 4zM273 322l-2-1-2 2zM25 322l-3-1-4 2-6-2-4 2-3 4-5-1 0 3 11-1 2 2-1 3 5 1-5-6 4-3 1-3 1 4 6-2zM63 332l1 1 1-3 3-2 7 5 10 0 1-4-1-1-3 3-6 2-2-3 2-3-2 0-3-7-3 7zM533 323l-4-4-2 0-1 5-6 3 6 0 1-2zM216 319l0 2 5 1-3-3zM493 318l1 2 4 1-1-2zM285 318l-5 7 11-3 1 1-3 5 1 3 2 0 3 3 3-4-2-4 2-2 0-3-3 0-1-2-4 0-1 2zM250 325l-4 3-8 1-1-4 2-2-3 2-2-3 0-4-3 1-6 6-1 4-5-5-4 2-1-3-2 3 2-1 1 3-2 3-1-2-1 7 2 1 6-5 0-3 4 1 1 4 6-1 2-3-5 0-1-3 6-2 3 2 0 4 2 2 5 0 1-2 5-2zM426 316l-2 3 2 2-5 6 5 0 4-2 2 2-4 1-1 4 7-5 2 0 1 2 1-2-3 0-2-4-4 1-3-3zM423 316l-4 0 0 3-2 2-6-1 0 2 8 6 2-4-2-6zM278 315l-4 4 5-1zM69 315l-3 1 1 5zM211 314l-5 1-1 3-3 1 3 2-1 2-2-1 0 2 3 3 1-1-2-3 4-2zM525 312l-2 1-1 6 4-5zM345 312l-4 1 1 3-2 5-5-1 3 3 0 2 5-5zM531 312l3 6 10-2 2 4 7 1 3-4 2 0 5 6 10 0 0-6-6 1-2 2-3-2-2-4-3 0-3 3-1-2 3-4-5 2 2 4-3 2-3 0-2-4-8 0-3-4zM378 311l3 3 8 0-4-3zM297 312l3 7 7 1 2-6-2-2zM78 311l0 3-2 2-2-2 0 4 6 3 2 3 2-1 1-5zM460 310l-1 6 2 3 1-5zM48 310l-3 0-5 5-5 1-2 2 0 5-3 2-1 4 3-5 2 1 3-3 0-4 4 2 3 4 2-1 0-2 4 0-2-3zM521 310l-5-1 0 3-3 2 3 2 1-4zM478 310l4 1-2-2zM96 309l0 2 6 0 1 6 4 0 0-4-4-5zM500 307l-3 3-4-1 5 3zM58 307l-3 0 0 7-3 3 2 1 3-6 3 1 0-4zM340 305l-5 2 4 1zM136 305l1 2 6 0 3 5 3-1-3-2-1-3zM94 305l-2 2 2 0zM573 307l-2 0-3-3-4 7-3 0-1-2-2 2 4 0 3 3 3-2 4 0-1-4zM522 304l0 2 5 1 1 3 1-2zM464 304l-1 3 4 3 0-2-4-3zM41 305l-4-1-7 4 3 3 0 2 3 0 5-6zM284 303l0 7 4 6-2-2 0-7 3-3zM268 302l-1 4-4-1 0 3 4 1 0 3-2 1 1 1-2 2-6-1 0 3 3 3 8-5-2-4zM161 302l-8 3 3 0 2 2-2 2 1 3 6-3-3-2 2-4zM294 302l-1 1 5 5-1-2 3-4zM97 300l2 3 0-2zM62 300l-2 4 3 5 1-4-3-3zM520 302l-4-3-4 0-3 2-1-1-1 4 4 1-3 1 0 4 2 1 1-3 3-1-3-2 2-2 4 1zM303 299l-1 5 4 5 0-6zM50 299l-1 7 3-5zM475 298l-4 6-4 0 3 3 8-5zM262 299l-4-1-3 3-7 1 8 0zM537 297l4 4-3 3 5 0 0 2-3 3 7 5 2-4-4 1-2-2 1-4-3-5 1-3zM321 299l-2 2 2 7-5 5 7 6 1 5-7 6-5 2 5 4 0-3 5-5 3 0 0-4 2 3 2 0-2 4 3 0 2-3 3 7 9 0-2 7 8 1-6-7 1-1 5 3 3-3-5-2-3-4-5-1-4 2-5-8-4 0-1-4-6-5 4-1 3-5 5 10 5-5-2-2-3 6-2-3 1-5-6-3 4-4 0-3-1-1-3 3 0 5-3 0-2-2zM213 301l5 5-3 2 0 9 8 0-7-3 1-4 2 2 3-1 3 3 3-1 1 1-2 3 4-2 2 1 2-4 2 1 1 6 6 0 1-2-2-2 3-3 5 5-6-7 0-2 3-2-3-3-3 0 3 2 0 7-2 2-3 0-3-2 3-3-1-2-5-1-3 4-4 2-1-3 3-6-3 0-2 3-6 0-1-9zM125 298l-7-1 5 2 0 4-1 1-4-2-8 10 0 6-8 4 0 2 3 3 2 0 4-6 0-4 5-5 4 1 0-5 2-3 4 2-2 2 5 0-2 4 2 4 6 1 2-3-6-8-3-1 1-3-4-3zM157 296l-2 1 0 2zM137 296l1 3 9 0-4 0zM496 295l0 3 4 4 0 2 3-6-3 1zM377 298l0 10 7-2 3-4 2 1-3 6 5-3-4-8-6-3zM9 295l0 6 2 1-4 2-2 8 6-5-2-2 2-2 2 2 3-2-3 1-2-2 1-2zM528 294l0 4-3 1-3-2 4 5 6-2 0-2zM170 294l2 6 3-1-3-1zM561 293l-1 2 2 2-2 3-3 1-1 4 3 0 4-8zM303 293l-2 2 2 0zM258 293l2 0 1 2 1-1zM187 293l-5 0-1 5 1 1 0-2zM15 293l-2 3 1 1 2-1zM565 292l0 11 3-2-3-3 1-2 4-1-3 0zM251 292l0 4 4 1 0-4zM331 291l-1 5 2-3zM128 293l6 0 1-2-7 0zM493 290l-1 3 2 0zM454 290l-5 7-4 1 0 6-5-4 1-1-3 0-2 2-5 17 2-1 0-4 1-1 1 2 0-6 2-2 8-1 1-2 3 5 5 2 0 3-3 3-15 0-1 6 1 1 0-6 3-1 4 6-2 5 3-2 5 0 6 4 2-1 4 5 3 1 4-4 1 3-5 5 0 2 3 2-2 3-2-1-3-5 1-3-3 0-1 2-7 0-2-3-5 1-1-2 4-4-6-1 1 5-3 1-1 3 4-3 2 1 1 8-4 1 4 1 3-5 6 1-2 3-2 0 3 0 4-3 9 3 7-1 4-7 0-5-3-2 0-4 2-3 1 2 1-4-1-1-1 2-6 0-2-4-3-2 2 2 0 12-3-4-2 1-2-2 1-4-3 0-4-4 2-4-1-5-2 0-1-2 2-1-5-3 3-3zM450 340l1-1 1 2-1 1zM458 339l1-1 2 3-2 1zM468 336l1 5-2 1-1-1zM471 328l2 2 0 4-3 2-1-7zM446 321l6-3 5 6-2 2-2-3-5 2zM45 290l1 2-3 2 1 1 3-3zM33 294l8-2-5-2zM316 290l2 4 2 0 3 3 3-3-3 1-3-6zM277 290l2 4 6 2 2-4 3 0-4-3zM122 292l-2-3-3 1 1 2zM564 288l-2-1-2 2zM521 287l-1 3 3 1 1-3zM270 286l3 0-6 1-3 6 8 4 3 14 2-2-1-9-2-5-3-2 1-3-3-3zM534 284l0 6 2 2-1 1 2-7zM505 284l-3 1-4 4 0 2 5 2 3-3zM489 285l-4-1 0 2-5 0 0 5 4-4 4 1zM282 284l-3 1 0 2 4-1zM131 283l0 3 6-1-2-2zM75 285l-4-2-4 2-5-1-1 4 2 1 2 6 1-1-3-7 6-3zM376 289l-5-1-4 3 2 7-5 5-3-1 3-4 0-4-2-2-1 3-5 4-2-3-3-1 5-3 1 4 1-5-1-3-3-2 3-1 4 3-1-1 2-3-7 0-4-2 1 2-3 2 0 3 4-3 2 1-5 6 1 1-2 2-3-1-3 4-3-4-3 0 0-2 3-1-2-1-1 2-3 0 2 6 2-2 3 2 1 6 5 5 3 0-2 3 1 1 3-2 4 1-2 6-2-2-2 2-2-1 0 10 2 1 3-6 7 0-4-8 0-5-2 0-3-3 3-3 3 3 0-9 2 2 2-2 1 1-2 4 1 13 4-3 0 6 5-3 6 0-1-5-1 2-6 0 2-13 4-3 2-6 3 2zM364 305l1-1 2 3-1 1zM336 296l1-1 1 2-1 1zM110 282l0 2 5-2 1 3-1-4zM328 286l2 2-2-2 1-2 3 1 9-3-10 1-3-3zM295 280l0 5-5 3 2 2 2 0 4-6zM165 283l-1-3-3 2zM83 280l3 3 0-2zM537 280l-1 1 6 5-2-5 4-2-3 0-1 2zM434 279l-3 6 0 12 2 2 5-7zM290 279l-2 0 0 2zM269 282l3-3-4 0zM429 279l-2 1-2-2-1 10 0-4zM495 277l1 4 1-2zM318 278l-2-1-4 5 4-1zM204 280l4-2 3 5 6 4 6 1-7 6 2-2 3 0 1 7 2-3 4 1 2-2 4 0 2 2-2 3 4 0 3-2-5-2 1-3-3-5-7 0 1-5-7 4-3-3-1-4-8-1 0-2zM14 277l-4 0-3 3 0 9 5-5zM276 276l5 4-3-4zM147 276l-4 6-4 0 2 2 0 3 1-3 5-4zM516 275l-2 2 4 6zM305 275l-5 3 0 2zM219 277l2 3 3-1 2-3 5 2 1 3 2-2-1-2-3 1-4-3-2 0-1 4zM567 274l-5 1-1 2 3-2 3 1zM249 274l0 6-3 8 2 0 1-4zM189 274l-3 5 3-1 2 2-3 6 4 4 2-3 0-5-2-3 1-1zM114 275l5 2-3-3zM326 273l-5 1 3 2 0 3-2 0 0 6 4-5-2-3zM169 273l-1 2 3 1zM51 276l-4-3-3 0-1 4-3 3 0 3 1 1 2-2 4 0 4-4zM444 272l0 3-3 3-3 8 4 2 5 0 2-4 6 3 1-1-2-1 0-4-3 3-3-5 4-4-3 1-3-4zM419 272l-6 5-4 1 8 8 2-1 4-8zM549 271l-2 3 0 7 2-5 8 3-2 6-5 1-1 4 3 3 2-4 2 2 2-3-2-3 2-9-6 1-3-4 1-2 1 1zM150 271l0 5 2 4 1-3zM290 270l-1 3 3 1zM224 271l4 1-3-2zM29 272l6 0-3-3zM504 267l-7 2-4 3 2 2 4-1 3 4zM126 267l-2 2 0 5 2-4 3 0-2 1zM507 266l0 3 3 0 2 3 3-1-1-3zM313 266l-6 3 3 0zM259 266l2 4-1 2 3 0 3 3 1-1-4-2zM2 266l-2 2 2 0zM354 265l-2 1 0 2zM71 265l5 4-1-3zM536 263l-1 4 3 2zM6 263l-2 9 2 0zM489 265l-7 1-3-4-2 0-4 4-4 1 2 2 2-1 5 6 5-1 2 2-2 6-3-4-3 4-1-2-3 1-2-4-3 0-1-2 2-3-2-5-3-1 2 5-1 5 2 5 3 1-3 3-6 0-2 3-1 6 2 3 0 6 2-3 1 2 5-6 4 2 3-3 3 3-3-6-3 6-4-3-1-5-2 0 0-4 5-1 4-3 2 1-4 4-2 0 1 6 2-3-2-2 2-2 5 0 3-4 5 0 4-4 3-1-7-5zM467 293l1 2-5 5 0-4zM461 291l1-3 3 2-2 2zM159 262l-6 4 6-1zM286 262l-4-1-3 4-4 0-4 9 1 1 2-6 4 0 3 2-1-5 2-2 4 0zM170 261l-4 0 1 11 0-7zM115 261l3 4 4 2-3-2-1-4zM36 261l0 4 2-3 1 3 2-2 2 3-3-6zM459 259l-2 3-3 1 4 0zM421 259l1 1-1 3-3 2 0 3 4 4 2-5-4-2 3-3zM250 261l7 2-3-4zM24 259l-4 4 2 0zM238 258l-2 0-5 7 4 3 2 4 1-2-2-5zM0 257l0 4 7 0-5 0zM555 256l2 3-2 4 2 0 0-6zM371 256l-5 0-2 2 1 3 3 1 0 4-3 3-4-2-3 4 11-3 3-5-5-2 6-1zM327 264l3 0 1 10 9-8 2 0 4 5 5 1-1-3-4 1-3-4-3-1-4 2-1-2 2-3-5 2-3-1 5-5 3 0 5 4 0-3-3-2-5-1zM222 256l1 2 2-1zM490 257l-4-2-2 7zM412 255l-6 4-4 9-9-3 1-3 6 3-3-3 3-5-3-1-2 6-4-3 1 2-2 2-3 0-1 2-7 0-3-2-2 3 8 0 0 6-2 2-1 7-4-1 1-7-5-2-3 2 0 5-3 3 0-6-4 0-1 3-3 2 5 0 5 5 0-6 2-2 5 0 1 3-4 1-1 2 5-1 5 8 1-10 3-2 8 1 3 4 0 3-4 4-2-1 0 7 6-8 3 2 4 7 0-5 1-1 2 2 1 5-7 8-2-1 0-2-1 5 1 4 3 0 2 3 1-4 3 0 2 3-2 3-2 0 0 6-4 4-2-1-3 2 4 6 1-5 1 5 6 5 4 1-2 6 1 1 5-1 3 2-2 4-5 1 5 2-3 2 0 5 5-1 2 4 3-2 2 1-4 4-6-3-2 3-10 0-4-3-1 3 3 3-3 3 7-5 1 6 7-2-1-1 2-4 9 1 2-2 0-7-3-4 2-1-2-1 2-3-1-7 4-2 1 2-2 2 4 1 1 2 3 0-1-1 2-2 0-3-6-3-3 0-3 3-1-3 5-5-5-6-4 6-6 0 0 2 3 2-3 1-2-2-2 1-5-5 2-5-4-1 7-7-1-2 2-2 6-1-2-6 6-2 1-2-8-2-3-3-3-9 2-2 2 3 6 2 6-7-6 2-4-3-3 4-1-8-4-1-3 1 3 3 0 2-2 2-4 0-1-1 2-4-8-9-2-8 3 0-1 1 2 6 3 3 4 0 3-3-3-5 6-4 2-7 2 3 1-4 2 2 2 8-5 1-1 2 8-1-2-4 1-3-3-3 5-1-2 0zM411 370l1-1 1 2-1 1zM406 303l2 2 0 8-5-5zM389 263l1 1-4 4-1-2zM250 258l-4 0-3-3-2 0 1 10-2 2 3-1 1-5-2-2 2-2zM133 255l1 4 2-3zM13 255l-3 3-2 0 1 2 4-3zM569 254l-3 3 0 4 4 2 1-6zM268 254l4 3-1-3zM212 254l-1 4-4 4 7 1 2 2-4 5 0 2 2 1 5-2 1-7-3-3-4 1-2-2 2-3zM123 254l-1 2 4 6 2-5-2 1zM512 254l1 2 2 0-1 4 4 7 4-3 2 4 3-4 1 1 0 9-4 0-1 3 7 4-1-3 4-7 0-2-3 0 0-4 4-2-1-2 4-5-8-1 0 2-4 2 5 4-3 1-7-2-3-3 1-7-2 2zM107 256l-8-4 4 4-2 2 4 3 1 4-1 2-1-1-3 2-8-1-13-8 0 5 3 5-5 3-1-1-2 2-3 0 2 6-1 2-3-4 1 3 3 1 6 7-2 3-2 0 2 2 6 1-7 1 2 3 0 7-4 3-5-1-3 3 3 3 0-3 3-3 1 2 15-1-4-3-2 2-1-1-1-9 3-3 2 2 3-3 2 2-1 3 2 2 1-4 5-3-1-6-2 2-7 0-6 3-2-2 2-7-6-6 1-3 2-1 1 2 3-4 6-3 7 5-5 5-1 4 7 1 0-4-5 0 5-4-2-5 2-1 5 2 4-3 2 2 3-3-3 2-1-1 0-5 3-1-3-3zM397 251l-4 6 2-4 2 0zM295 251l-2 1 1 4-2 1-1 4-3 1 12-2-6-4-1-3zM63 251l-2 5 3-1 2 2 0 3 1-3-2-1 0-2 2-2zM63 253l1-1 1 2-1 1zM49 251l-2 6 1 2 4 1 3 3 0 4 6 1 2 3-1-6-3 1-2-2-2-7-3 0-2-2 1-4zM31 251l1 2 7-1zM266 249l-5 1-2 3zM161 249l-3 4 2 3 2-3 3 1zM546 248l1 5-3 2 1 3 7 0 1-4-3 0-2-3 1-2zM0 246l0 2 4 0zM340 246l0 2 6-1 3 6 2 0-7-8zM25 245l-1 3 2-2zM38 246l-2-2-6 5 4-2 4 1zM484 243l2 6 2-5zM174 243l-3 1 0 5zM551 247l3-3 4 3-4 3 0 2 4 1 0-3 4-4 4-2 1 1-2-2-2 3-4 1-1-1 4-3-9-1zM302 242l-1 7 5 1-3-2zM145 242l1 5 6 0-5-5zM270 241l3 3 4-1zM535 241l-1 4 4-2 5 3-1-4-3 2-2-4zM140 240l-3 6 2 3-1 4 2-6zM420 239l-1 3 3 6 2 1zM399 239l3 8-1 7 3 3 1-3-3-1 2-5-4-5zM127 239l-2 1-2 5 4-4zM543 238l-1 1 3 1 3 5 1-4zM391 238l-5 2 5 0zM196 238l3 6 7 1 3-2 0-2-2 0-2-3-3 2zM123 238l-3 0-1 5-3 3 7-6zM90 238l-1 14 2 4 5 0-2-8-4-2 2-4zM44 237l0 4 6 4-3-3 1-5zM237 241l-7-5-5 5 0 2 2 2zM533 235l0 3 3 0zM341 237l2 2 3-1 2 2-1 4 10 7-2 3-5 2 1 8 3-2 0-4-2-2 7-1 2-4 3 1 2-2 6 3 3-2 5 0 1 1-2 3 2-4 5-4-5 0-1-3-2 0-3 5-8-2-4-3-8 2-2-4 2-3-5-1-3-3-5 0zM361 246l2-1 1 2-1 1zM78 235l-2 4 4 5-2-3zM3 238l3 4 5 2-1 2 5 2-5-5 1-4-2-2 2-2-2 0-2 3zM300 238l6 3 3 4 7-2 2-2 2 2-1 1 3 0-3-7-2 4-7-7 2 2-5 4zM312 240l1-1 2 2-2 1zM326 233l1 4-2 3-2 0 6 3 0-5-3-2zM194 233l-6 2-4 5-4 1 0 2 4-2 2 2 4 9-6 2-3 4 2 3 5-3 1-5 5-5 3 0-5-9zM255 233l4 4 3-2-5-3zM568 231l4 5-1-3zM556 231l4 7 3-2-1-5zM57 231l-2 2 3 8 5 4-1 3 2-1 1-4-3-3 1-5zM38 231l-2 4 2 0zM524 230l-9 2-2 6 5 3 1-2 3 4-3-4 6-3 1-5-2 2zM522 233l1-1 1 2-1 1zM396 233l-3-3-4-1-4 3 0 2-3-2-5 4 4-2 3 1 2-2 3 2 7 1-8-2 1-2zM369 229l-4 1-5 7 9 0-1-5-3-1zM467 228l-4 6 3-2 4 7-4 2-2 3-2 0 8 9-3 2-2-2-2 6 3-2 1 3 2-2 0-3 7 0 3 3 1-6-2-2 0-3-5 0-3 3-3-3 4-3 4 1-10-2 2-2 5 1-2-2 10-3-1-2-3 2-2-2 0-3 4-2-4 1zM135 229l7 1-7 7 10 0 2 2-5-5 3-3-2-3zM131 228l-4 6 1 3 4-2 1-6zM346 227l-3 2-2-1 0 2-2 1 6 0zM305 227l0 3 4 2-1-3zM153 227l-1 4 2-2zM5 233l4 0 4-3-3-3-4 0 1 4zM487 226l-2 0 1 1-3 5 2 4 6-4 0-2zM373 225l-2 3 4 6 0-9zM548 224l0 2 2 1 0-2zM537 224l1 10 5 0 2-4-5 0zM489 224l2 3 0-2zM387 224l-5 0-1 2 2 4 4-3zM316 224l4 7 1-2zM111 225l-4-2-3 6 6-1zM123 219l3 3 4 0 0-4-2-1zM116 217l0 2-4 2 1 3 6-3zM49 217l-1 5 3 3 2-1 2 3 5 0 2-2-4-3-3 1-2-5zM72 215l-3 0-7 7 2 1 4-3 4 0zM14 217l5 0 1 3 4-2-5-3-3 0zM95 211l0 5 9 1-4-6zM154 210l1 2 3-1-2 1zM43 210l-1 7 2-4zM219 209l0 4 3 1zM87 207l-8 1 5 0 4 2-5 6-1-1-6 5 8-2 5-3zM29 209l-2 0-1-2-2 4zM7 207l-5 6 4-1zM101 208l6 1 3-3-5 1-2-2zM174 206l-3-2-5 1-5 4-2 4 7 0 6 2-1-4 3-3zM120 204l-5 1 1 3 2 0zM137 203l-4 2-1 3 5-3zM124 203l-4 6 4-1 3 4 0-6zM296 202l-1 5 2 4-2 4 4 4-2 2-6-1 0 2 12 1 0-2-7-8 10-1-1-6-6-4zM62 207l8 0 2-2 3 3 3-4-4 1-9-3 1 3zM270 200l-3 0-2 3-4-2-1 4 8 2 2-2zM30 201l7 2-3-3zM48 201l3 4 1-3 11-1 1-2-3-3-9 0-1 2-2 0zM260 196l-2-1-3 2zM150 194l-1 5 5 5 3 0-6-4 1-2 2 0 1-3zM130 193l-2 6 3 1 1-5zM146 196l-5-5-4 3 0 4 4-5 2 0zM164 190l-3 0 0 7 4-4zM18 192l0 3 2 1 9-2 3 3 0-3-7-4-4 0zM272 189l1 6 1-1zM192 189l-3 4-5-4 0 6-4 4 0 6 5-1-1-4 4-2 0-3zM84 190l3 1 4 5-1-3 2-4zM307 185l-3 0-2 5 2 0 3-3zM61 184l1 5 4 0-3-3 0-2zM150 181l-2 2-3 0-4 6zM85 181l-4 1 2 5-1-4zM67 181l-2 1 0 3 4 4 0 3 3 5-1 1 4-4-3 0-3-3 1-5-1-2 1 4-2 0zM19 182l-2-1-1 2zM135 180l3-2-3 0zM59 178l-1 2 4 2 0-2zM142 177l2 4 3-1-2-3zM155 176l-2 9-2 2 5 0 1-7zM6 175l2 4 1-2zM31 173l-4 3 4 0zM218 178l8 1 3-7-5 3-2 0-2-3-3 0 3 2zM67 175l1 4 3 0 2 2 3-3 1 3 2-2-3-5-1 4-3-6zM303 171l-1 1 2 1zM64 171l-2 3 2 2zM309 170l-3 1 0 2 2 1zM191 170l0 2 6 1zM182 169l-4-1-4 1-1 2 5-1 3 2zM41 180l5 1-2-6 4-2 1-3 4 6 4-5-4-3 0 5-4-5-1 3-3-2 1-1-2 0 1 2zM141 171l3-1 2 3 5-1-5-5-2 0 0 3zM21 166l2 4 5 1-3-3 0-2zM1 165l-1 5 6 2-2-4 3-3zM258 164l-5 0-2 5 2 3 6-5zM121 164l-2 1 0 2 2 0zM81 166l-2-2-6 2 0 4 4-3 3 2zM227 163l7 3 2-2zM188 161l-1 6 2-1zM77 159l-3 0-1 3zM44 159l-3 2 0 2 4 0zM96 157l-4-1-3 3zM57 155l-1 2 6 4 1-2zM5 155l3 5 6 0 2-2-1-2-6 2-2-3zM298 152l-3 1 1 3-3 3 6-5zM180 152l-7 3 0 4 2-2 4 0zM21 152l-2 3 6 4 1-2zM278 154l2-2 4 1-4-2zM115 155l-2-4-4 3zM304 150l-1 2 6 4 0-7zM258 147l0 4 3 2 0 3 3 4-1 5 4 1 3-4-5-5 1-2 3 0-1-5-5-3zM185 145l0 6 6-2-1-3zM207 144l-3 3 0 2zM195 144l6 0-1-2-3 0zM162 142l7 2-2 4 1 3 2-5-1-5zM60 140l-2 6 5 2-4-6zM17 140l1 5 3-2 4 3 3-5 4 4 0-2-3-2 2-3-2 0-5 5-4-5zM198 136l-1 2 4 1 2 3 0-5zM127 136l-2 1 1 1zM307 134l0 2 2 0zM299 132l-3 3 2 3 5 2 1-2-4-3zM128 132l-1 2 2 0 4 5-2-5zM258 131l1 3-2 4 2 3 2 0-2-3zM149 131l-2 3 1 3-4 5 6 8 1-4 2-1 0-3-4-5zM240 129l-3 3 2 4 3-2-2-2zM217 128l0 2-5 3 1 7 7 5 0-15zM210 131l-4-3-2 4-4 1 1 2 4 0zM126 127l0 2 2-1zM112 126l1 2-5 1 1 2 4-2zM56 126l-3 1 0 4-4 4 5-1-1-4zM198 122l-3 0-4 4 3 0zM149 122l-8 2-2 2 1 4-4 3-2-1 1-2-4-2-1 1 4 3 2 6 0-2 5-5-2-5 2-1 3 4 0-2 6-4zM267 120l-2 4 2 4 5 0-4-2 1-5zM47 118l1 3 2 0zM12 115l1 2 5 1 1 3 0-3-2-2zM296 114l-2 0 0 4-4 3 0 2 4 1 2-2zM135 114l-3 4 1 1zM106 114l-2-1-2 4-3 0 1 6 2 0 4-4zM167 114l1 1 4-2 3 5 3-1-8-5zM225 113l-4-2-3 4 4-3zM165 111l-2 3-4 0 5 1zM73 112l-2-1-3 2-2 4 4-3 3 0zM259 110l-6 4 1 1zM113 110l0 5-3 5 5-7zM146 109l0 3-4 5 5 3 2-7zM122 109l-5 5 0 2 3 3 0-6zM96 111l4-1-3-1zM284 108l-4 0 0 7 3-1zM26 107l0 5-3 4 2 4 9-4 0-2-2 3-3-3 0-3zM270 110l0-4-2 0-1 2-6-1 6 6zM77 106l-3 1 0 2 4 5zM41 105l0 2 2 0zM201 103l1 6 2-2 0-3zM60 102l-3 7-2-1 1-6-2 1 1 4-3 2 1 3 4-2 1 1 0-2 4-4zM0 101l0 2 2 0zM297 97l-6 2-4 4 5 1 0-2zM148 97l-2 1 1 2zM36 97l-4 3 1 3-2 2-4-3-3 0 0 2 6 2 1-1 1 4 2 1-1-10 3-1zM210 96l-3 2-2 4 5-4zM221 95l0 3 6 4 4-5-3-2zM288 94l-2 4 3-1zM251 94l0 2 4 0-1-2zM38 94l3 8 0-7zM6 93l4 4 0-2zM69 92l-3-1-2 1 1 3 1-4 2 1-1 1zM234 91l1 3-2 3 9 6 4 0 3 3 1-3-4-4-5 2-5-4 0-3 4-4zM78 89l1 4 3-2 2 2 4 0-1-4zM57 89l-1 6-2 2 6-2-3-3zM17 89l-5 1 0 3 5-1zM134 89l4-2-4 0zM75 87l-1 1 2 2zM96 86l0 2 2-1 4 3-3-5zM2 85l3 6 1-4zM252 83l-1 3 2 1 0 2zM123 83l-6 1-2 2 6-1zM74 83l0 2 3-1zM167 87l-1-7-2 6-7-4 5 4 0 2zM146 79l-1 3 3 0 2 2 2-1zM43 82l3 3 5 1 0-3-2-2 2-2-6 1zM89 78l-2 0-2 3 1 3 0-4zM272 77l-5 3 0 3-5 2 1 3-5 3 4 5-3 2 1 1-2 3 2 3 10-2-2-2-2 1-3-3 2-3 7-1 3 4 0-3 2-2-2-3-2 0-2 3-5-1 0-5 3-3 0-4 4-2zM60 77l3 3 0-2zM236 76l0 3 2 2 5 1zM110 78l4 0 1 3 4 0-4-5zM38 76l-3 3 3 0zM200 74l-1 2 3 1 1-3zM2 74l-2 0 0 2zM19 72l-6 1-1 2 5 1zM285 71l-5 0-5 7 5 9 5-2-2-4zM257 69l-3 3 1 2-5 3 2 4 4-4zM152 69l0 3-3 1 2 4 4 2 0 2 1-5-3-3zM72 69l2 3 2-2zM3 70l2-2 6 1 1-3-4 2-4-2zM201 64l-2 1 1 2zM167 77l5 8 11-4 0 2 7 6 0 3 2 0 2 3-2-6 2-4-8 0 0-3 4-2-4-9 7-4-2-3-1 3-6 4 2 2-1 2-7 0-5 7zM279 62l-7 4 1 9 0-2 4-2-3-1-1-3 6-3zM100 62l2 3 1-3zM37 62l0 8 6-5 5 4-3-4-4-1-3-3zM238 58l-2 4 4 3 0 2-3 1-3-2 2 5-2 2 9 0 0-5 2-1 2-5zM243 64l1 3-2 1-1-1zM67 58l-3 6 1 1 3-2 4 4 0-6 2-2-5 1zM82 57l-3 3 2 0zM257 55l-4 0-1 3 2 2 0-3 3 0zM61 55l-2 1-2 5 3 2-1-4zM141 53l0 6 2 0zM117 52l-7 7 3 3 5-6zM286 51l-4 6 4 0zM90 51l1 5 1-3zM249 50l-4 4-4 1 5 0 3-2zM236 53l-4 1-3-4-2 0-5 5 0 3-4 0-6-2 5-3-7-2-1 3 2 3-5 5 0 2-3 1 2 5-1-3 2-3 5 0 1 1-3 2 0 3 3 1-1-5 3-3-1-3 10 0 2 2-2 6 4 2 0 3-3 2 4 2 4-4-2-6 4-7-3-2-4 0-2-2 9-1zM210 58l2-1 2 2-2 1zM0 49l0 2 2 1 3-2zM245 48l-5 1-2 3zM217 46l-2 3 5 3zM27 46l-5 3 3 1-6 6 5 6-3 3 2 2 6 1-2-4 3-3-4-1-2 2-2-3 3-9 2-2 4 0-1-2zM177 45l1 3 4 0 0-2zM61 45l0 3 3 2zM240 43l2 3 9 1-8-1zM230 43l4 8 3-1-2-5zM108 49l4-3 4 0-6-3zM97 43l-5 3-3 0 5 2zM49 40l4 8 4-2-1-2-4 0zM309 37l-1 3-4-1-3 4 5-4 0 4 3 5zM224 37l3 2 1-1zM176 37l2 5 3 2-3-6zM135 37l-3 6 2 2 3 0 0-5zM193 36l-4 4-5 0 6 3 3-2zM131 36l-3 0-3 6 4-1 0-3zM70 33l-2 4 1 1zM184 29l-2-1-2 2-3 0-1 2zM145 31l5 0 3-3 4 3 3-3-14-1zM249 29l4 1 2-1 0-2-4-1zM176 26l-5 1-1 3 2 0zM126 30l-2-5-6 3-3-2 3 3zM293 25l3 1-1-2zM269 24l0 3 2 1-1 1 5-2-1-2-2 1-1-3zM203 23l1 3 3 1zM308 22l-3 3 1 2 2 0 1-2zM242 22l-2 0-4 5 2 6 1-7zM65 20l-3 6 6 2-3-3 4 0 1-4zM261 19l2 3 2 0 1-2zM91 25l-4-1 0-5-3 2 2 4-2 2-3 0-2-3-3 2 12 1zM240 19l5 2-2-3zM148 17l-7 3 2 1zM92 17l1 2 1-1zM154 16l3 2 4 0-1-2zM213 15l-2 0-3 6 3 0-1-2 3-2zM188 15l-3 1-1 4 4-1zM116 13l-9 4 0 2 2 1-4 1 1 8 3 1 0-2 3-1-1-4 3-2zM91 13l-4-1-6 6 7-2zM167 10l0 4 4 0zM165 14l-2-4-2 3-1-2-3 2-2-1 7 0 1 2zM131 8l-2 2 0 3 3 2 1 3 1-2 4 2 2-3-2-3 4-1-1-3zM135 12l1-1 2 3-1 1zM241 8l4 2-2-3zM214 6l-5 1 0 2 3 2zM199 6l0 5 2 0 0-3zM231 5l1 3 1-2zM219 5l-3 8 5 1 3-2 0-2zM274 21l6-3 4 4 0 2 2-2 0-4 9 0 7 4 3-2-2-3-5 2-2-3 1-4-7 0 0-4-3-1-1-3-2 3 5 3-7 2 0 4zM279 4l-2 1 1 1zM181 4l2 2 0 4 6-1-3 0-3-5zM97 3l3 2 1 4 2-4zM225 2l1 3 2-1zM309 0l-3 0-1 7-7 1 1 3 7-5zM299 0l-2 1 1 1zM259 0l2 1 0 2 0-2zM207 0l3 3 4 0-1-3zM162 0l2 4 4 0-3-4zM157 0l-2 0 1 4-3 2 5-3zM146 0l-2 4 5 1 2-2 0-3zM79 4l6 0 4-4-6 2-4-2z"/><path fill="#70c24e" d="M299 428l1 2 6 0-1-2zM221 429l4 1 0-2zM4 428l3 2 2-1zM463 427l-2 3 3 0zM193 428l-4 0-1 2 5 0zM154 430l9-1-2-2-3 0zM389 428l-2-2-5 4zM339 430l12-1-7-3-2 3zM454 425l-1 3 2-2zM107 428l0 2 10 0-1-3-5 1-2-3zM92 425l3 2-1-2zM31 426l4 4 5 0-5-1-3-3 1-1zM477 428l-5-4-3 2-1 4 8 0zM418 424l-1 6 10 0-2 0-1-2-4 2zM363 428l0 2 11-1-3-3-2 2-1-4-4 2 3 3-1 1zM284 424l0 6 2-3zM263 424l2 5-1 1 3 0 0-3-2 0zM185 424l-5 1 2 2-2 3 5-3-3-1zM236 423l-4 0 0 5-1 1-2-2-2 3 4 0 5-4zM134 423l0-2-2 0-8 4-2-2-11-1 2 2 3 0 5 6 0-2 3-2 4 0 2 2zM152 418l-4 1 2 6zM350 417l-2 3 4 3zM305 417l-4 1-1 3 2-2 3 0zM112 415l3 1 2 3 3-2-2-2zM272 413l5 3-1-2zM41 422l4 5 4-3 5 0 3-3 3 1 1 5 5-1 3-3 4 6-2 1 4 0 0-3 2-2-1-3-7-2-2-2-4 0-3-3 1-3-9 12-2-1-3 3-3-4zM262 411l-3 1-2 3 2-2 3 0zM162 416l1 5 1-3 5-4 0 4 8 3 2-4 3-2 7 8 4-5 0 4 6-1 2 2-4 6-2-2 0 3 11 0-2-3-3-1 1-2 3-1 3 3 5 1 1-5-2 0-2-2 0-3-2-1-3 6-2-1 1-1-3 1-1-3-6 0-9-7-2 0-2 4-6 2-6-5-3 3zM184 414l5 0-2 2zM219 410l5 6 3 1zM27 410l-1 6-3 1-1-3-1 1 0 5 2-1 1 6 3 1-6 1-3 3 6-1 1-2 3 1-2 2 2-2zM410 409l2 2 0 4 1-5zM153 409l1 7 2-2-3-2zM106 409l0 4 4 5zM10 409l2 6 1-3zM31 408l5 4 1-2-4 0zM392 408l-4-1-3 3-2 0 8 1zM116 408l5 5 2-4 3 3-2 2 4-1 0-3-3 0-1-2zM351 408l0 3 3-3 4 3 0 2-5 5 5 2 3 3 0 2 2-3 6-1 2 3 2-2 0-4-9 4-2-2 0-7-3-4 0-3-5 1-1 2zM241 405l2 7 2 0 3-3 6 1 2-3-9 0-3 2zM113 405l-5 3 4-1zM82 403l-1 7 3 1zM24 404l5 1-4-2zM476 402l1 2 1-1zM470 402l-3 0-2 2 0 5zM435 402l-1 4 2 6 4 0 2 2 0-6-5 0-3-4zM423 402l-4 5 2 5 2-7 3 0zM286 402l-4 0 0 9 1-3 3-2zM263 402l-4 3 3 0zM123 406l5-4-6 0zM300 401l-2 1-2 7 2-1 0-4zM323 402l1 2 7 0-2-4-5 0zM33 400l4 6 3 0 0-5-3 2zM11 400l-3 2-4 0-2 7 3 4 0-3 2-4 4-3zM224 399l3 4 1-1zM366 398l0 3 2 1 2-2zM144 398l-2 2 0 5 3-6zM214 401l-2-1-3 2-1-5-4 4-3 0-1 7-8-2 0 3 2 4 3 1 3-3 2-6 11 0-1-1zM363 396l-1 3-4 0-2 2 1-1 2 3 5-3zM153 396l4 3-2-3zM75 396l-2-2 1 4-7 5-1-2-4-1-2 2 0 6 2-7 2-1 3 3-4 4 4 4-4-4 5-3 2-4 3 2 4 0-3-2zM197 392l-5 2-2 6 3 2 1-7zM35 392l0 4 4 3 2-3-3-4zM26 392l-2 3 0 4-2 2 4-2zM116 391l-2-1-2 4 1 1-4 1 5 1-1-2zM100 390l1 2-5 5 8-1 1 2-6 3-1-2-1 1 0 7-2 2 2 3-1 3 2-1 2-6-3-1 1-4 3-2 2 3 3-3 0-4zM152 391l1 3 4-1 0 3 3 3 6 2-1 3-3-2-4 0 4 4 3 1 1-4 10-2 3 2 0 3 2 2 4 0-5-3 4-7-2-3-4-1-4 5-2-1-1 2-6-7 3 5 0 2-2 1-5-4 0-6-2-4-2 4zM159 392l1-1 1 2-1 1zM8 391l3 3 4-3 2 4 3 0 3-4-7 1-1-5-3 5zM93 385l2 2-1 6 1-7zM252 384l-3 1 2 3-2 3 3-1zM226 383l-7 1-2 2 3 4-1 5 3-3-2-2 0-5 3-1 3 2zM196 384l2 2 3 0 0 4 3-1 1 4 6 2 4-4-3-5-3 2 1 3-3 2-8-10zM165 383l-2 2 1 4 7 4 1-8-3 2-4 0zM486 381l0 2 2 0zM275 383l-1-2-5 2zM295 384l-4-4 0 4-5 4 4 0zM460 379l-1 4 4 4-2 1 2 2 2-2 1-7zM304 378l3 5 0-3zM262 378l1 2 2 0zM21 382l0-4-1 2-9-1 2 3zM530 380l5-2-4-1zM510 377l-6 4 2 0zM24 376l-1 5 5 2 1-4-2-3zM413 376l0 3 2 1 5-2-1 1-3-4zM332 376l-4-1-3 3 4 0zM179 376l-2-1-2 3-2 0 0 2 3 0zM395 374l2 6 2 0-1-5zM9 374l-1 5 2-3zM485 373l-2 0 0 3-4 3-1 4-3-1 0 3 3 4 0-5 4-1-2-2 2-2 5-1zM207 373l-3 4 1 3 7 4-3-6 3-3zM275 370l5 4-1-4zM201 376l-7-1-4-6-2 0 0 3 3 0 5 5 0 2-4 3-5-2-6 0 4 0 2 4-3 1-3-2 0 2-3 3 11 1 1-5zM562 368l0 8 2 7-1-4 4-2 0-4zM174 368l6 4 1 4 2 0 3-3-4 1-3-3 1-1-1 1-3-3zM374 367l4 7 0-5zM547 366l0 15 9 2 4-6-5 0-2 3-6-8 2-4zM137 366l-4 8-2 0 2 3-2 2-3 0 3 5 6-2-2-4 1-2 4 1-1-8zM15 366l6 10-3-8zM514 365l-3 3 0 2 3-2zM380 368l6-3-5 0zM293 365l-2 3-2 0-1 4 3-1 3-5zM123 366l-5 0 0 7-3 6 1 2 6 0 2-2 0-7-4-1 1-3 3 0zM445 364l5 6-4 4-5-1 0 2 5 4 3-3 4-1 0-8-5 0zM270 364l1 4 3 0 1-3-2 1zM101 370l-2-2-1 6-5 5-2-9-4-6-6 0-4 2 0 3 4 6-3 4 3 4 0 3-5 1-7-2-1 7-8 0-2-2-3 0-1 5-6-3 1 6 5 0 1-4 4 4 2 0-3-3 1-3 2 2 8 2 0-5 3-3 14 1 1 2-4 3 5-1-1-4-2 0-1-3 4-1 1-3 4-3 4 1-1-1 5-6zM325 363l-3 3-2 0 1 3 2 0zM267 363l-1 5 2-4zM2 363l-2 1 0 11 2-3zM461 361l-4 3 1 4 3-3zM207 362l1 3 3 0-2-4zM191 363l2 3 7-2 2 2-2 2 3 1-1-5-8-3zM104 361l-2 6 9 4-1-3-4-2zM464 356l-3 0 1 3zM217 357l5 1-2-2zM171 356l-11 0-2 3-2 0-1 2 2 7 8-5 0-6zM493 355l-7 1 0 5-2 2-3-1 0 2 2 2 5 1 2-2-2-5zM470 355l-4 2-1 3 4-2zM287 355l-4 0 1 2-2 2 3 0zM92 355l-2 1-1 4 0-2zM10 355l-2 6 3 3 4-4zM83 353l-1 4 4 4zM117 355l-1-3-9 1-3 2 5 2-1 3 3-3 2 0 2-4zM195 352l-2-2-6 1zM16 351l2 2 3-2zM389 349l-1 5 3-2zM0 348l0 5 2 1zM125 347l1 5-4 5 6-1zM551 346l-2 5 3 3-1-1 4-4zM436 346l-2 2 3 1zM156 345l-2 0-4 4zM40 345l3 0 2 3 2-2zM465 344l6 4 1-3zM352 343l-3 3 1 2zM35 343l-5 4-5 0-4-3 11 7 0-4zM404 341l-1 1 3 6 1-3zM570 340l-2 2 1 4 4 1 0-6zM302 340l0 2-3 2 3 3-3 3-4 0 1 2-2 7 3 0 2-2-3-1 1-4 6-3 1 3 2-3 0-4zM516 339l-2 5-1-4-1 1 1 5 2 0zM133 339l-1 3 3 5 0 5-2 4 6 3-2 4 3 0 3 3 0 6 3 1 1-2 1 2-1-5-3-2 2-2 4 4 0-4-3 0-2-2-4 2 0-7 5 0 3 3 3-1-3 0-2-2 2-1 0-3-11-8 0-4-2-2zM145 353l-4 4-3-2 2-2zM135 352l2-2 3 1-1 2zM135 346l1-1 1 2-1 1zM19 341l-3-2-5 5 3 1zM272 338l-2 3-3-1 0 2 4 2-1-3 2-1zM2 337l0 2 3 3 5 0-2-3zM441 336l-4 3 6 4zM426 336l-1 3 3 0 1-2zM135 337l3 0 3 4 4 0 4-5zM328 337l3 6 3 0 3-3 1 2-2 3 3 1 2 3 2-1-3-4 3-9zM123 339l-3-1-2-3-6 6-4 1-1 4 3 0 4 3-2-8 1-1 2 4zM285 333l-5 5 1 7 4 2 0-5 2-2zM266 333l-1 4 2-1zM220 333l1 2 1-1zM573 331l-2 0-1 2 3 0zM557 331l4 7 4-1 1-4zM368 331l-3 3 0 2 2-1 3 3 2 0 1-4zM95 343l-8-6 3-6-2-1-3 4-2 0 0 2-8-2-3 6-5 1 1 2 5 2 2-4 5 2 4-5 3 0 4 3-2 5zM434 328l0 4 3 2-1-6zM497 327l1 2-2 4 2 2 4-1 0-4zM383 328l4 4 1-1-2-4zM449 326l0 10 6 1 1-3zM234 327l-7 0 0 2zM542 325l-4 2 0 4 2 2 3-3zM200 334l-2 0-3-3-1-5-4-1-3 2-8 0-3 5-3 0-2 5-6-2-10 1-1-1 3-4-2 0-4 5 1 6 4-2 5 3-3 7 2-2 3 0 5 5 3 0 2-2 5 2 1-1 6 6 3 1 1-4-3 3-7-6 0-2 2-2 2 2 1-3-5 0-2 2-4-4-3 3-6 1-2-4 4-2 9-1 4-5 4 0 3 4 8-6zM174 336l1-1 2 2-2 1zM173 334l1-1 1 2-1 1zM359 324l1 5 4-2-2-3zM287 325l-3-1-2 2 1 2zM134 323l-5 4-1 4-2-1 2 5 6-1zM63 323l2 2 2-2zM24 325l-6 2-1-4 0 2-5 5-2-1-1 3 2 1 2-4 5 4 5-1zM456 323l-4-1-4 2 5-2 2 3zM341 322l-2 3 5 2-1-5zM215 325l3-2-3-1zM80 322l-3 0 0 6-3 0 1-1-1 1 2 4 4-2-2-1zM545 320l6 2 1-1zM306 320l-4 2-2 5zM261 323l7 0 3-3-6-1zM94 319l0 4-3 1 4 2 0 4 2 2-1 4 5 0 3 2 0 2 5-2 4-7-3-2-1-3-1 4-6 0-3-2-1 1-2-3 1-3zM216 318l6 3-2-4zM60 322l-2-3-8 0-1-2 2 4-3 2-4-3 3 3-2 2 4 0 2 2-2 2-9 1-1 5-9 0 0 3 13 0 2-2 0-4 2-1 3 4-3 4 5 3-1 2 4-8-1-2-5-1 3-6 4 3 6 0-4-2zM51 324l1-1 1 2-1 1zM527 316l0 2 2 0zM1 316l-1 4 1-2 1 1zM463 315l1 10 1-7zM161 318l-3-4-2 0-3 3-3-1-3 2-9 0-1-2-2 4 2 2 5 0 1-2 11 2 3-3zM70 314l-1 5 3-3zM566 315l2 1 5-2-4-1zM256 313l0 4-2 3 3-1zM312 310l-1 7 5 1 0-4zM550 309l0 3 4-1zM275 312l-3-3-3 4 2-2zM73 312l3 3 0-3 3-2 4 5 2-2 3 0 1-4-15 1zM15 309l-5 7-5 1 0 3 3 2-1 2 5-4 4 1-3-4zM392 307l-6 3 4 4 4-4zM211 311l-8-4 2 5-3 6 2 0 2-4 4 0zM122 307l-1 6-2 1 1 4-1-3 5-1zM488 306l-7 3 2 1zM25 306l-3 5 1-1 2 4 2 0 1-2-3-2zM493 308l4 1 4-4-7-1zM163 304l4 4 6-4-1 1-1-2-3 4-1-3zM280 302l-2 4 0 5 3 4 0 3 2 0 0-5-5-5 1-2 2 0-2-1zM184 301l4 3 0 5 4-2-1-3zM29 301l-1 5 2 1 1-5zM421 299l-3 2 1 2 2 0zM452 298l-3 4 6 3 1-2zM298 300l-2-2-1 3zM162 298l-2 1 1 1zM226 297l5 3 0 3 2 0 0-4 2-2-1-1-4 0-2 2zM218 296l0 9 6 0-3-8zM172 294l7 4 0 2 2-1 0-4 0 2-2 1-4-4zM148 294l0 2 4 0 2 2-2-4zM118 296l6 1 1-3-5 0zM113 294l-2 5 5 0zM35 296l3 4 0 4 3 0 2 5 5 0 1 2 1-3 9-8 0-5-3 3-6-2 0 2 3 3-1 3-3 3-1-1 0 2-2 1-4-3 0-3 5-4-5-5zM241 293l-1 1 3 4 0-4zM127 293l10 12 10-1-5-1-6-5 0-2 4-3-5 1-1 5-2-2 0-3zM544 292l-2 7 1 3 0-3 3-4zM86 292l2 2 0 3-6 0 1 9 4-6 2 2 2-1-2-3 1-3zM74 292l-1 6 3 3-6 4-5-1-2-3 8-5-6 0-3 5 3 4-1 3 4 0 2-2 5 1 3-2 0-7zM75 303l1-1 1 2-1 1zM446 291l-1 4 4 1 2-4zM5 291l0 3-3 2-2-3 0 11 2-4 2 2-1 4-3 2 0 6 2-4 2 2 2-8 4-2-4 0-4-3 1-2 5-1 0-2zM0 308l2-1 1 2-2 2zM349 292l-1-2-5 2-1-1zM182 292l3-1-2-1zM198 288l-4 0 0 7 5-2zM21 288l-6 2-4 5 2 6 2-1 0-2-3-2 3-4 1 2 4-1 2-2zM278 288l8 0 5 4-4 3-2 6 5 3-3 3 0 7 2 4 10 2-3-6 0-8-5-4 1-2-2-4 3-5-9-4zM294 315l1-1 1 2-1 1zM53 285l1 4-3 4 6-2 5 2-5-6zM413 284l0 3 4 2-1-3zM371 284l1 3 3 0-2-3zM550 284l-2-2-5 5 3-1 2 2zM200 286l0 2 3 2-1 3 3-1 0-3 2-2 6 3 2 3 6-3 1-2-2 1-14-4-1-3-4 0 1 1zM500 281l-5 6 0 4 2 0 0-2 4-4zM390 281l4 5-1-5zM1 281l-1 8 1-6 4 2 1 4 1-3zM523 283l0 3 3-4 2 0 1 3 4 3 1-7-3 0-2 2-2-3zM353 282l10 1-1-2-6-1zM432 279l-2 0-5 5 0 3 5 0zM508 277l-2 7 2-3zM346 279l-6-2-5 4-6-1 2 2 10-1 2 2 2 0zM240 277l-3 1 0 2-4 4 1 1 5-1zM172 277l0 2 4 1 1 2zM449 278l2 5 5-4 3 0 3 4 5 0 2-2-3-1-1-4-4 0-2 2-7-2zM179 279l8-3-5 0zM132 276l-9 0 1 6-3 2-1-2-4-1 0 5-1-3-5 2-2-3-4 5-1-3-4 4-2-4-2 0 4 6 0 5-2 2 3 6 11 2-2-6-7-1-3-9 1-2 17 0 3-3 4-1 5 5 1-5 3-1zM265 277l5 2 1-3 3 0-6-2zM355 273l4 4 1-1zM550 272l2 4 4 0zM231 276l-2-2 1-2-7 0-12 6 7 2 0-3 1-1 4 2 1-4 6 3zM27 272l-5 9 3 2 1-5 3 2-2 4 5 3-2 3 2 2 3-9-8-7zM95 273l-5 0-2 4-4-3 1-3-4 3-1 5 3 4-2 5 1 3 2-5 0-4-2-2 1-3 2-1 5 2zM96 270l7 7-2-5zM472 269l2 2-1 3 2 2-2 3 3-1-1-3 2-1zM144 269l-3 1 0 5 4-2zM527 268l-2 4 1 2zM82 269l-5-1-1 2-6-3 0 7-4 1-2-2 2 6-4 4-1-3-4 4 3 2 5-5 6 0 0-4 2 3-2-7zM40 264l0 9 3 2 0-8zM558 263l-1 2 2 1zM256 263l-3 1 0 5 3 3-2 2-4-1 0 3 6 0 4-5zM255 267l1-1 1 2-1 1zM172 262l5 2-2-2zM508 265l7 3 2-1-3-6zM368 261l5 2-3 4 2 0 2-5-1 1zM114 261l-6 2 5 2-5 6 4 4-1 1 4-3 2-4zM408 260l-1 6-6 4 6 0 2 2 0 5 4-1 5-4-10-1-1-5 3-3zM135 260l3 6 4-1-4 0zM383 262l3-2 5 0-5-1zM331 261l0 2 6-2 1 2-2 3 6-3-5-4zM97 259l-3 4 0 3 2 1 6-4zM553 258l2 4 0-4zM92 257l-2 0 0 4zM23 262l1-1-1 2 3 5 5 1-1-3 2-1 2 4-1 1 4 0 0-2-3-3 2-3-4-4-3 0 0 4-2 2-3 0zM557 256l2 5 6 0-3-5zM471 256l4 6 7 0-6-6zM414 256l2 2 3 0-2-2zM353 256l2 2 0 4-2 2 0 5 2 2-1-2 4-4 1-4-2-3 1-1zM320 256l-5 4 1 2zM228 257l-3-1 1 1-2 1 0 2zM543 255l-2 2-2 7 3 0 4-3zM121 255l-1 10 2-4 3 0zM349 254l-2 0-4 4-2-2 2 2 3 0 3-2zM298 254l-3 2 2 0 4 4-2 2-3-1-3 2-5 0-1-2 0 4 8 9 1-2-2-2 0-3 3-1 3 3 0 3 4 2-1 2 4-3-2-2 0-6 2-3-4-1-2-5zM158 255l-3 3 2 4-4 1 0 2 6-4 1 3 5 3 1 5-1-11-3 0-2-4 6-1 1-2-5 0-2 3zM43 254l-1 3 6 7-2 4 0 3 2 2-1-4 4-2 0-3-2 0-3-3 1-5zM570 254l3 2 0-3zM2 253l0 7 4-1 2 2-2-6zM376 253l-1-1-1 2zM232 252l-1 5 2-2zM52 254l0 2 4 1 3 7-1-10 2-2zM365 252l1 3 4 0-2-3zM95 251l2 2 0 4 2 0 0-2zM385 250l-3 1 2 7 5-3 0-2zM172 252l8 5-4-7zM146 250l0 3-4 2 4 1 3 12 5 10-2 3-3-5 0 4-5 3-3 5-3-2-5 1 6 1 1 2 3-1 3 3 10-1 3 3 0 3 1-4-2-4 4-4 0-2-2-1 3-2-2-7-5 3-3-1-1-6 2-1 2 3 1-2-7-1-1-7 3-1-6-4zM155 285l1 1-2 3-1-3zM148 281l2-1 2 3-2 1zM30 250l-5 4 3-2 3 1zM195 249l-6 6 1 7 5 4 0 2-5 4 3 5 5-5 0-4 4 0 0-3-2-2 1-2-3 3-3 0-2-2 1-5 3 2 3-1-7-2zM191 272l1-1 3 3-2 1zM465 248l1 5 3 0zM351 247l-2 2 3 4 3 0 1-2zM524 246l-2 2 0 3 2 2 2-3 0-3zM266 246l-4 2-4-1-4 7 4 0 0-2zM314 245l5 2 2-1zM130 245l1 3-3 1-3 4-4-2 5 6 2-1 3-6-1-1 3-2zM24 244l-5 0 0 3-4 2-1 6 6-3 1-2 3 1zM399 243l-2 2 1 2zM159 243l2 5 2-3-1 1zM572 242l1 3-3 3 3-1zM184 242l-1 1 4 5zM543 241l1 5 4 0-2-4zM303 241l-3-1 0 3-3 3 3-2 1-3zM240 240l-4 3-3 0 2 6-1 2 6-5zM147 240l-7-1 0 12 3-1-2-7zM107 237l-3 7-3 2 1 3-3 2 5 1 5-5-4-4zM104 246l2-1 1 2-1 1zM115 236l-2 0 1 2-3 2 0 4 5-1zM40 242l-2-6-2 3 0 4-3-4-3 0-2 3-8-2 6 2 1 2 3 0 1 1-3 2 1 1 8-6 1 3zM30 242l1-1 1 2-1 1zM0 236l0 2 2 0 3 4 0 6 5-4-4-1-4-7zM327 235l-4 6 0 4 5 2 6-2-5-6-1 4-3 0-2-2zM471 240l4 4 6-7 3 4-2 0 0 2-2 2-1-1 0 2 7 6-2-2 1-2-2-5 4-1 0-3-2-2-3 0 0-3-2 0 0 4-5 1 2 1-2 2zM292 236l-2-2-4 2-13 11 9 1 4-4 4 6 0-4 2-2-2-5zM214 234l-5 6 6 1 0 9 2 1 4-3 0-2-3-4-3-1-2-4zM124 234l3 3-1 1 6 2 2-1-2-2-4 1-2-4zM520 239l2 1 1 4 10 1 1-2-2-9-3 1-3-2 0 3-3 3zM524 241l2-3 4-2 4 6-9 1zM300 233l0 3 4 3 3 0 3-3-8 0zM49 233l-4 3 4 1-1 5 2 1 3-7zM171 231l1 7 4 0 0 5 5 5 0-4-2 1 0-2-3-1 3-7-1-1-1 2-4-5zM516 230l-4 4-2 0 1 9 4-3-3-3 1-4zM366 231l2 0 2 3 5 1-3-5zM135 235l6-5-6 0zM348 235l-1-6-2 3-4 1zM339 230l-3-2-3 2 0 5zM277 229l-2-1-6 9-3 0-6 4 9 1 0-2 5-5 0-4zM157 230l-2-3 0 2-3 3-2-3-4 1 0 2 8 2zM113 227l2 5 2-1-2-4zM548 227l5 10 6 0-5-7 2-4-2 1 0 3zM65 226l-6 2 2 3 0-2zM219 225l0 5 8 0 2-2 4 2 0-3-8 1-3-3zM53 225l-2 1 0 4 3 2zM565 224l1 5-2 3 0 4 4 1 2-1-3-4 2-8zM540 224l0 5 5 0-3-1zM527 226l-2-2-4 0-2 2 0 4zM494 227l5 1 2-4-6 0zM473 224l2 2 3 0 1 3 2-2-2-3zM448 224l-1 7 3-1 1 3 5 3 5-1-4 1-7-6 2-5zM407 224l3 4 7-4 3 2 2-1 7 7 4-7zM401 224l-2 0-3 4 0 9-8 0-1-2-5 2 3 3-4 6 9-1 0-4-5-1 9-4 5 2-1-6zM365 224l2 4 3 0 2-3zM352 224l-5 3 3 0zM328 225l1 3 4-1-2 0-2-3zM318 224l5 5-2-4 1-1zM313 224l-4 0 0 6 0-3zM127 224l2 6 1-4zM239 223l-2 3 8 2 6 6-3 4 4-4-1-3 3-4-5-3zM150 222l-1 2-2-1 1 3 3-2zM145 220l-5 0-1 6-4 2 10-1zM210 218l-2 1 0 2 2 1-1 3 2 1zM96 217l1 5-2 2-9-2-1 1 0 9 3 2-5 1-2 3-2 0-1 4-2-2-2 10-6 5 0 3 1-1 2 4 2-1 3 3-3 1 3 2 0-2 4-3-4-1 0-2 11-1-1-8 2-1-3-4-3 0-2-3 4-2 2-4 6 1 1-2-3-3 1-1 9 3 0-4 5 3-1 3 3 0-3-2 2-4-3 2-6-6 0-5 3-2zM75 253l1 4-2 1-2-3zM81 244l1 3-2 2-1-2zM78 242l1-1 1 2-1 1zM0 217l0 5 6-2zM309 213l-8 2 4 3 4-2zM42 213l0 3-5 4-3 0-7-4-4 3 6 3 8 0 3-3 2 0 1 5-2 3-2-1-2 3-2-3-3 3-3-4-3-1-4 4-4-4-6 1 5 1 1 5-2 2-4-1-2 2 4 2 6-1 3-2-3-3 1-1 5 2 1-2 4 2 2 4 2 0 4-9 2 3-2 2 0 3 4 0 3-8-5-9zM26 213l-2 1 1 1zM119 212l-1 1 4 5-3 4 2 1 1-2 2 0-2-2 3-2-3-4zM68 212l1 2 4 0-1-2zM217 211l-2 3 2 6 2 1 2-6zM191 210l-3 3 0 5 2 5 6 3-4 2 1 4 4 0-1-6 4-3-2-6 1-6-5 3zM50 211l-1 3 5 4 1 4 3-1 3 2 3-4-1-6-8-3zM21 210l-5 1-1 4 6 0zM8 210l-1 4 8 5zM251 209l-10 4-1 3 6 0 4-3zM277 205l-1 5-2 1 1 5 1-2 6 0 0-5-3-1zM45 204l-2 3 2 4-1 6 2-7 4-4-4 0zM258 202l-2 4 4 0zM171 200l-4-1-4 7-1-7 0 5-3 5 0 3 1-3zM65 199l0 2 5 2 2-5zM160 197l-3 2-5 0 6 5-7 5 2 1 0-2 6-4zM110 196l0 6 14 0 4 4 1 7 3 0 2-3 9 6-9 2-2 2 0 3 5 0 0-5 10-3-2-3 5-6 2 0-4-1-4 4-2-5-2 0 2 1-1 1-4 0-3 3-2 0-2-8-6 0-3-2-4 4-2 0-1-6zM141 194l-1 6 3 0-2-2 3-3zM309 196l-4 3-1-8-2 3-1-2 0 6-3 2-1-3-6-1-3 4-2-1-2 2 0 7 2-2 5 2 5-7 3 0 7 5 1 4 2-4zM40 190l0 3-4 6 5 4 3-4-6-2 6-1-1-4zM201 186l-1 2-6 1 0 3-3 3 6 2 5-6 4 6-3 6-3 2 2 3 5-6 2 1-2-4 3-5-1-4-3 2zM158 186l0 2 6 1 2 3 4-2-1-2-5 0-4-3zM71 183l-3 3 2 5 4 2 0-9zM20 182l-4 3 2 1zM177 194l13-11-2-1-3 3-4 0-1-3-4-1-1 1 2 6 3 1zM2 176l0 5 4 3 0 2-3 3 3 3 0 2-4 2 1 3 6-5 3 6-1 1 14 0-8-6-1-6-4-6zM192 175l-1 2-2 0 4 3 0-2 2-1zM178 175l-5 1-2 6 2-5zM169 176l-3-1 0 3-2 2-4 0-2-3-1 2 6 5 5 0-2-5zM303 173l-2 0-1 3zM64 173l3 7 0-3zM23 173l-2 4 4 1 2-4-1 1zM60 184l-2-2-1 1-4-3-5-1 2-1-3-1 3-3-1-3 0 2-4 2 0 3 2 2-1 5-10-7-3 1 2 3-1 1-3-2-1 1 1 3-3 3 0 3 3 1-1-3 3-6 4 2 3-2 3 2 1 5 0-3 2-2 1 1 0 7 1-2 3 0 3 4 5 0-2-5zM37 179l1 2-2 1-1-1zM0 171l7 3-2-2zM156 170l-3 1 0 6-2 2-2-2-3 0 3 3 2-1 1 3 2-3-1-3 5-1-3-2zM152 174l1-1 1 2-1 1zM218 171l-6-2-4 2 4 4-1 1-7 0-3-2 1-2-3-1-2 5 2 1 1 5 5 0 4-5zM38 168l0 2-2 1 3-1zM309 165l-6 5 2 2 4-3zM20 165l-2 0-3 3 0 7 5-1zM247 164l-9 3-1 2-3 0-4 3 3 3 4 0 0 8-2 2-5-1-4 4-7 0-1 2 3 3-6 4 1 3 3 0 0 4-1 1-2-2-4 4-3-1 0 3 10-1 9 12 4-5 3 3 3-2-5 0-3-5 1-2 2 2 3-1 0-6 16 0 0-7-6-1-3-4 3-6-3-2 1-5-5-4 6-1 7 8 0 2-4 2 0 8 6-8 5-3 3 1-4-6-6-4 1-1-3-4 1-2zM236 187l0 7 3 1-5 4 0 4-13 4-1-1 4-2-1-5 5-7 1-4 3-2zM130 164l5 4 1 7 0-7zM142 164l-2-1-2 1 0 2 3 0zM180 163l-2-1-3 2 0 2 3 0zM186 161l-2 3 2 2-4 1 1 3 5-1-2-2zM79 163l-1-2-2 0-5 4zM37 160l1 5 2-1 0-3zM26 160l6 6-1-3-3-3zM5 160l1 1-2 3 3 0 3-3 2 3 0 4 0-5 1-1 1 2 0-3zM152 160l-2-1-2 5zM101 164l-3-1-2 2-2-3 1-3-4 0 1 7 2 0 1 3-8 1-3 2-2-1 2 3 7 0 3-3 4 3-1-4zM211 158l10 4-4-3zM47 166l0 2 4-1 3-3 4 3-3 1 3 4 3-4 2 1 4-2-1-2-8 0-1-1 4-3-4-3-5 0 1 7-5 2zM117 157l-5-1-3 3-2-1-2 4 2 4 2-5 3 0 2-3zM122 155l-1 2 6 4 1-3-1 2-1-3zM309 160l-5-6-4 5-4-1-4 3-2-1 1-3-3 4-5-2 2-2-5 0 7 7 4 0 1-2 7 0 2 2 1-2 4 0zM82 153l-3 0-3 3 4 3-1-3zM246 149l-2 2-4-3-4 2-1 6-3 1 1 5 3 0 4-6 6-5zM140 148l0 3-2 2-2-2 1 7 7-2-4-3 2-4zM19 149l-2-1-6 7-3 0 1 2 9-2 2-3zM144 149l2 2 3 0-1-4zM134 145l-4 2-1 5 3 1 2-2zM26 146l7 3 7-2-10 0-3-2zM209 162l0-2-2-1 1-3-3-3 0-4-2 0 0-2 3-3-5 1 4 8-1 3-3-4-2 0-2 3-2-1-1 3-6-3 2-4-4 1-2 3-3-2-1 5 3 2 4-1 2 3 7 0 2 8 2-2-1-6 3-3 3 3zM190 159l4-1 2 2-2 1zM288 144l-2-1-1 3-3 1-2 3-5-3 1 7 4-4 4 2 2-6 2 4zM161 144l-3-1-1 3-5 0-1 3 2-2 6 2zM133 142l-9 0-2 4 2 1zM307 138l-2 5 1 3 3-4zM112 138l-1 2-2 0 1 8 6 0 2 6 1-5-5-3zM104 137l-5 4 3 1zM121 134l-1 4-2 1 0 3 4-4zM168 133l3 4 3-1zM160 133l-2 0 0 2zM221 131l-1 12 6 1 5-5-3-1-5-7zM105 131l-1 1 4 3 0-3zM277 131l-1-1-1 2zM14 130l0 4 2 1zM120 127l-2 2 2 0zM32 128l-1-1-2 3zM60 125l-3 1-3 4 4 4-4 1 0 3 4 2-1 5-8-9-2 1 4 5 0 3 6 1 1-5 5-5-6-1 4-8zM36 125l-2 6 1 4-1 1-6-4 0 3 7 0 6 6 3 1 2 7-2 9 2 5 1-8-3-19 2-3 6-3-5 0-4 6-6 0-1-1 5-2 3-5-3 3-3 0-1-3 2-2zM208 124l-4 1 1 1zM101 124l1 3 10 1-2-5zM199 122l-4 4 2 1-6 5-2-1 2-2-3-1-3 4 5 0 0 5-4-2 2 5-3 2 0 2 5 1 2 4 5-5 2 0-4 1-1-1 2-2-2 0-2-4 0-5 3-2 1-3 3 3 3-2 0-5zM194 122l-2 2-6-1 5 2zM220 119l0 2 5 3 2-1zM177 118l-2 7 2 2 2-1 4 4 1-2-2-4-3-1zM69 121l5 1 0-3-2-1zM6 118l-6 1 0 8 4-3zM279 116l0 3 3 0zM241 116l-5 2 0 8-2 2 5-5 4 0 0-5zM161 116l-2-1-4 5-4 0 0 3 4-2 3 1 2 3 1-4-2-2zM305 114l-8 9 1 9-4 3 3 5-2 2-8-4 7-13-1-1-3 0 0 8-3 3-4-4-8 7-7 1 0 3-4 3-3-3-1 2-6 0-1-2 1-5 3-3 0-3 3-2 2-5 4-2 0-2-4 0-3-2-3 2-3-2-2 2 3 3-2 7-11-2 0 4 4 3-3 3 0 2 6 6 2 0 2 4 5 2 0 3-2 2-4-2-8 2-1 4 16 2 4 5-2 3 4 2-2 3 1 1 3-2 3 6 5 2-3 2-2 4-3 0-2 4 1 5 6 1 0-10 1-1 4 2 6-6 2 0-4-3-2 0-4 5-1-2 2-4 7-6 2 1-1-2 2-2 3 3-1 4 5 0 4 2-1 5 5 3 2-3-6-9-5-2 0-2 3-1 1-3 2 0-2-3-5 1-9 7-10 0-4-5-2 3-3-6 1-5-3-4 0-3-3-2 0-4 8-1 5 7 0 2-4 2 7 5 0-3 4-3-2 0-4-4 1-6 2-4 5-4 6 3 2-2 3 2 0 2 3 0 0 7 3 2 1-1-2-2-1-6 8-3-4-1-3-4 5-5 0-4 2-3-1-3 3 0 2-2zM257 121l1-1 2 3-2 1zM172 114l-2 0-5 5 8 0 1-1zM169 117l1-2 2 1-2 2zM79 114l3 3 0 5 3-4zM270 113l-4 1-2 4 5 0-1-1zM196 113l-1 3 3 3 0-5zM41 113l-1 7 3 1 2 4 5 1 1-4-3 1zM48 123l1-1 1 2-1 1zM243 112l2 3 1-1zM200 111l3 0 6 8 4 0 2-2-12-6zM49 112l-2 4 9 7-3-4 0-3 3-4-3 2-1 3-1-6zM290 111l-1-1-3 3zM227 110l1 4 7 2zM218 110l1 2 2-2zM168 110l0 2 3 0zM158 111l0 2 4 0-1-3zM152 110l-3 7 5-3zM68 109l-2 0 1 2zM271 110l4 1-1-3zM60 108l-1 2 2 5 3 1 2-3-3 1zM12 107l0 6 8 5 0 5 5 1 4-4 1 2 2-4-2 3-5 0-3-3 3-8-2 0-4 4-4 0-2-2zM89 106l-4 0-1 4 2 3zM26 106l3 4 2-1 0-3zM166 105l-1 2 2 1zM147 105l-1 3 2 3 1-5zM157 105l1 2 3 0-2-3zM2 104l-2 0 0 2zM20 102l0 4 2 2-1-2 2-3zM132 100l-2 4-5 2 0 2 2-2 7-1zM92 102l-3-2-2 4zM58 100l-2 8 3-7zM197 99l-2 2-5 0 2 10 0-3 2-1-1-5zM37 97l0 2-3 1 0 7 4-2-2-2 2-2zM2 98l6 6 5 0-5-7-4 2zM267 98l2 1 3-3-4 0zM220 96l-4 0-3 2 2 5 3-2zM192 95l-2 0-10 7-4-6 0 10 3 5-4 3 3 2 2-6 8-5-2-5 3-4zM278 94l-2 2 0 3 2 1zM267 91l0 2 5-1zM248 91l1 3-2 3 7 0 1 1-3 2 1 1 3-3 3 1-2-2-6 0 0-5zM0 91l0 4 5-1-1-3zM69 93l3 11 2-4 4-3 4 0 1 5 2 1-2-1 1-4-4-4-3 3-1-1 0-5-2-2zM42 89l1 3 5 2 0-5zM98 88l-4 6 5-2 7 4 0 3 4 4 0 4-2 3 1 5 3-2-1-5 4-5-4 1-3-3 0-2 3-4 4-1 1-2-2-3-6 4zM307 95l-5-5-4 2-5-5-1 4-3 2 1 4-12 7 11 1-3-2 5-5 5-1 2-2 3 6 2 1 2-1 0-4zM143 87l-1 4 4 5 10 2-6-4-3 1zM156 86l1 2 2-1zM245 90l-2-5-5 4-6-2 1 3 4 0 3-2zM180 90l2-2 6 1-5-5zM237 85l6-2-4-1zM201 81l-2 10 3-1 1 3 2-4-3-3zM83 81l-7 5 4 0zM67 80l-1 3-4 1 6 4-4 3 5-1 0-3-4-3 2-1zM37 80l-1 3 2-1zM108 78l-4 2 1 2zM0 78l1 6 2 0 1-4zM166 77l-9 4 7 4 0-5zM236 75l-7 5 8 1-2-2zM219 73l-1 1 3 2-4 1 3 7 2 1 1-2 3 0 1-5zM206 75l3 1 4 5-5 5 1 1 6-3 0 5 2 0 0-4-3-2-2-5 1-4-3-1zM78 72l-4 3-2-2-3 4 3 1-3 4 3 4 2-6 4-2zM73 75l1 2-2 1-1-1zM90 71l-1 4-3 2-3-2 0 3 4-2 1 1zM245 68l-2 8 5-5zM117 68l-1 3-6 6 4-2zM61 67l-4 3 2 5zM42 67l-4 4-8-3-3 5 5 5 0-4 6 1 2 4-1-6zM211 65l-5 1 2 3 0-2zM192 64l2 2-1 2 1-3zM100 64l-2 5 1 3 3-4zM265 63l-6 3-1 3 5 0zM129 63l2 6 1-6zM253 62l-2 0-2 4zM201 62l-3 1 1 1zM5 66l3 1 2-2 5 0-2-1 5-2-8 0-3 1zM268 62l3 3 4-2-2-2zM138 59l-3 9 2 0 3 4 4 1-6-7 2-3 5-2zM175 58l-4 8 4-5zM80 61l1 2 6 1-2 6 3-1 2-4 6 0 0-4-4 4-2-4-2 2-2-2-2 1-1-4zM88 63l1-1 1 2-1 1zM48 57l-2 4 7 3 0-6-2 1zM252 59l-1-5-3 0-4 3-4-2 0 2 4 3 3-2zM93 55l3 3 4-2 3 1-5-3zM263 51l2 2 5 0zM48 51l-9 10 4 3 1-6 4-4 3 0zM27 49l-4 7 1 5 3-2zM14 51l4 1 4-2-7-1zM87 48l0 2 2 1 0-2zM144 46l-3 0 0 2 3 3-2 4 3-4-2-3zM238 44l-2 2 2 5zM154 44l3 2 3-1zM0 44l0 4 2 0zM194 46l0 2 5 5 6-3 5 0-2 0-5-7zM201 45l3 4-2 3-3-2 0-3zM163 44l4 2-2-3zM79 43l-1 1 2 1zM98 42l-3 7 1-2 5 0 3 2 0-3zM229 41l-5 0-2 3-6-1-3 5 2 0 3-5 3 3 0 4 2 0 3-3-1-3 2-2 2 1zM20 41l0 4 5 1-2-2 0-3zM287 44l-4 3 3 0 2-2 2 1-2 7 1 4 4 2-3 10 1 2 5 0 4 3 0 2-3 2-2-1-3 5 2 1 6-3 1 2-3 3 9 3 2-3 0-7-3 0-2-2 0-3 1-1 2 3 2 0 0-2-1 1-3-3 2-4 2 1 0-10-3 1-4-5-3-1 1-2 2 0-1-2 3-7 2 7 3 0-4-6 1-3-4 4-6 0-2 3-4-3zM66 40l-4 6 5-3zM50 40l2 3 5 1-1-3-4 2zM45 40l-4 4 6 4 1-4zM95 36l-4 5-4 0 1 4 8-8zM252 33l-1 2 4 0 3 4 0-5zM210 33l2 2-5 3 3-1 3 2 1-2-2 0 0-3zM120 33l-3 8-1-4-5-2 3 3 1 4 4 3-2 2-5 0 2 4 10-8-4-1zM132 30l0 6-2 2 1 3 6-7-2-2-1 1zM136 30l3 2 0-3zM141 28l2 2 1 7 7 4 2-2-1-2-6-2-3-3 2-4zM170 27l-7 1 5 2zM268 25l-3 5-1-1-3 3-1-1 2 3 4 0-1-4 3-3zM265 25l-3-1-3 2zM244 27l-3-3-3 10-3-6-5 3-4-6-2 1-1 5 2 1 0 2 4 2 2-1 1 5 9-6 0-3 3-2zM91 23l1 9 4-5 0-3zM220 23l-7-1 1 5-3 3 1 1zM183 24l10 1-2-2 1-2-7-1zM286 19l1 3-3 5 4 3 1 4 2 0-1-4-5-3 7-1 2-3 4 4 4 0-1 4 3-1 0-2-3-3 0-3-6-3zM202 19l0 3 5 2 1 4 1-4-5-3 3-1zM194 19l3 6-2 1 4-1 1-3zM162 20l-12 0-1 6 10 1-2-2zM128 19l4 1 2 3 3-3-3 1-3-3zM281 16l-9 1-2 4 2 1zM164 15l1 2 4-2 2 7 3 0 0-4-4-4zM92 13l0 2 3 1 0-2zM299 12l-2 1 0 3 3-2zM213 10l1 6 1-3zM154 14l-2-5-7 3-2-1-2 2-2-1 3 5 4-5zM236 7l-4 2 1 5 2 2-3-6zM299 6l-1-1-8 6 6-2zM250 19l5 0 3-3 5 0 4-2-5-9-9 0 3 3-4 3 1 6zM180 4l-9 3 1 2 3 0 2 4 2 0 0-5 3 0zM77 3l0 4 2 1 0-3zM309 2l-2 2 2 0zM268 3l2 2 4-1 1 2 8-6-8 0 2 1-2 2-3 0 0-3-4 0zM243 0l-1 6 3 0 0-6zM230 0l-1 5 5 0 1-2-4 0zM216 0l5 5 1-5zM208 7l-5-7-7 0 2 3-8 4 2 2-4 1 2 1-2 3 4-2 5-7 3 0 3 3zM192 7l1-1 1 2-1 1zM168 0l-2 1 3 3-5 1-1 3 7-3-3-4zM94 0l1 5 2-3 4 2 4-1 3 3 0 3 3-1 1 3 5 1 3-3 6 3 5-5 10 0-1-5-10 1-1-1 2-2-8 0 3 3-1 1-11 1-3 2-2-2 4-3 3 1-2-3-6 2zM90 0l0 3 2 2z"/><path fill="#98d254" d="M353 424l2 3 1-2 2 0zM79 424l-3 3 1 3 2 0zM474 423l0 2 4 3 0-2zM335 419l-3-1-1 4zM161 418l-2 0-1 3-4 2 6 3 3-3zM225 417l-3-2-4 4 3 1zM295 414l-1 3 4 2 1-3zM120 415l0-2-6 1zM418 412l-3 2 1 3zM240 411l-4 5 5 5 0-3-2-2zM408 410l2 4-2 2-4-2 2 3 4 1 0-5zM295 411l4-1 2 2 1 5-1-6-3-2zM320 408l1 2-2 1 3 2 0-4zM430 407l3 7 0-4zM257 407l1 5 2-1zM424 405l-2 8 4-4 0-3zM389 404l-6 1-1 4 3 0 3-3 2 0zM351 404l-4 0 0 6 3-1 2-4zM374 402l3 4-4 1-1 3 3 2 5-3-1-4zM377 407l1-1 1 2-1 1zM178 406l0-3-2-1-2 1 3 2-1 1-6-1-2-2-2 1 2 2zM467 401l-3 1 0 2zM213 404l2 3 2-1 10 10 4-4 2 0-2-2-2 0-2 3-4-2 3-4 4-2-1-2-8 2 5 1-3 2-5-2-1-5zM133 401l-4 1 0 4 2 3 2-1zM96 400l-3 5 1 4 2-2zM239 399l4 8 1-4zM149 399l-4 2-1 4 1-3zM33 397l-3 0-1 3-4 2 4 1zM386 395l-2 0-3 3 0 2 5-2zM89 395l-3 1-3 4 0 6 2 5 6-1-3-3 0-5 4-2-3-3zM375 394l1 3 4-2 0-2zM223 393l-3 1 0 4 2 0 2-3zM406 392l3 0 2 2 3-3-7-1zM179 394l3 0 7 4-2-8zM467 389l2 5 1-3zM296 388l-6 1-2 2 0 7 4 0 3 2-3 4-3 0 0 2 7-2-1-6 2-4-2-3-2 0-2 5-2-2 0-2 4-4zM289 394l2 3-1 2-2-2zM7 387l-1 2 2 1zM203 386l5 6 0-4 2-1zM347 386l-1-1-5 4 4 2 2-2zM129 386l-2-1-3 3-4 0-1 3 2 1 6-2zM192 383l-1 5 6 1 0-3zM399 382l-4 1-2 6zM497 382l-1-1-2 2zM284 381l-2 1-2 5zM107 381l1 6 3 0 2-3-3-3zM238 375l-1 6 4 2 1-3zM2 375l5 2 0-2zM276 373l-2 0 1 3zM436 371l-2 0-3 5zM296 371l-4 4 0 4 1-3 4 0zM536 370l-4 2 2 3 2-1zM465 370l2 4-4 2-1 3 8 1 2-2 0-5 0 3-4 2 0-7zM477 369l-2 2 4 2 2-2zM564 368l3 4 2 0-3-4zM331 369l-2-1-10 2-1 6 2-3 3 3 4-4 3 3zM139 368l2 10 0-9zM97 365l-3-1-2 8 3 0 3-3zM345 366l2-2 5 1-2-2-3 0zM295 362l3 4 2-1 0-2-2 1zM286 359l3 1-2-2zM305 355l3 1 2 3-6 0-1 2 6 2 4-4 0-4zM176 355l-7 3 2 1zM129 355l3 3 0-2zM214 353l-4 0-2 5 1 2 6-3zM555 351l-3 2 2 3zM471 349l-1 1 2 2zM184 352l-3-3-2 4zM115 349l3 6 0-4zM89 349l1 5 5-1-1-2zM500 355l5 2 5-7 0 9 2-1 5 3 2-4 0-3-7-6-2 2-2-1-1 4-2-3zM542 347l-5 9 1 1 4-6zM484 347l-4 2 3 1zM281 347l1 7 4 0 0-7zM150 350l2 6 8-1 0-2-3-3 0-3zM564 345l5 4 3-1zM534 345l-6 1-5 8 2 1-1-2 2-2 2 2-1 1 2 0 3-7 1 6zM341 343l2 2 6 0-1-2zM267 343l0 2 5 3 0-4-2 1zM42 342l0 2 7 1-3-3zM479 340l-4 1-2 3 0 5 8-3zM318 340l-2 1 1 2-2 5 2 0 0-3 2-2zM180 338l-4 3 0 2 4-3zM314 335l1 2 2 0zM540 334l2 3 2-1zM220 334l-1-1-5 3-2 3-4-1-4 7-8-2-3-4-7 3-4-4 1 4-3 4 4 0 5-5 5 5 0 4 4 1 3-1 2-3 11-2 0-5 5-3zM233 331l-2 2 4 2 1-3zM134 335l10 0-4-4-4 1zM63 334l0-3-5 0 1 2-2 2-2-2-6-1 5 1 2 4 3-3zM6 331l3 3 2 0-3-3zM30 332l0 2 8 0 1-4-2 0-1 2-4-2zM457 329l-1 1 3 5 1-2zM68 329l-2 3 2 3 2-3zM425 328l2 2 0-2zM553 326l1 3 3-1zM529 329l-2-1 1-2-2 2-4 0 4 1 1 3zM475 326l0 4 3-1 2 2 0 4-3 2 3 0 2 4 5 0 1-2-2-3-6 0 2-1 1-6zM505 325l0 2 6 2zM489 324l3 2-1 5 4-5zM221 325l3 3 0-4zM195 326l1 2 5-1 6 6 2 0-2-5-2 0-2-3-5-1zM88 324l-1 3 5-1 2 2-1-3zM305 322l-3 6 5 5-5-5 4-4zM173 326l3 5 3-5 8 0 3-2-4-2-5 2-7-2zM123 322l3 3 0 4 4-6zM521 321l-5 5-5-3 2 3 4 1-3 3 7 2-2-4 3-3zM441 321l-2 1 0 3 3-1zM112 321l-3 4 5 3-2-2 3-1-3-2zM463 319l-3 4 1 3 2-1zM538 319l-3-1-4 3 6 1zM289 319l-2-1-2 3zM373 318l-5 0-2 5 2-2 4 0zM234 315l1 7 2 2 5-4-4 0zM28 315l4 6 0-3zM431 313l-2 5 1 3zM400 313l-3 0 1 12 0-5 3-4zM347 311l-1 3 2 0zM523 310l-5 2-1 4 4 1zM418 309l-4 1 2 6-4 2 0 2 6-1zM195 313l-3-4-3 0-3 5-3-1-7 3 8 4 3-7 4-2zM51 309l-2 3 1 6 4-4 0-4zM334 308l5 4 1-3zM560 306l-3 0 0 4 3-2zM122 306l1 2 4-2zM24 306l-2 0-3 5-2-1 1-2-3 0 1 5 2 2 2-1zM540 304l-7 2 1 4zM388 303l-5 4 1 1zM93 302l-3 3 1 2zM306 302l1 1 3-2zM488 300l2 6-5 4 3-1 6 6 3 0 2-2 0 8 2 1-3 2 2 1 6-8-1-2-3 0-2-2 3-4-1-2 8-2-8 0-4 8-6-4 0-6zM263 299l-3 3 1 2 3-1zM117 299l1 2 2 0 0-2zM183 297l0 3 9 3 1-3-2-3zM479 296l0 2 3 1 0-3zM286 296l-3 2 1 3zM345 295l-2 0 0 3zM518 294l-2 2 3 3zM332 294l-1 3 4 1zM551 293l-3 4-4 2 1 11 3 0 6-10-3-4zM420 293l-6 6-1 4 4 2 3-1-3-2 3-4zM148 293l4 0 2 4 1-1-3-4zM25 290l1 7 5 1 0-2-2 1-3-3zM545 289l0 2 3-1zM246 289l3 3 2-1-1 1zM446 289l-9-2 2 5-5 7 2 1 2-2 3 0zM166 286l3 7 0-6zM466 286l3 1 1-2zM64 287l4 4 4 1 0-4 3-2-6-1zM123 284l-7 5 5-1zM183 282l-1 7 2-6zM511 279l-1 2 3 2 0 2-4 4 4-2 2-4zM285 279l4 8 5-2-3 0 0-3-3 0-1-3zM558 278l-1 7 2 3-2 2 0 3 2-3 1 3 5-4 1 4 1-4 6 0 0-2-5-3-4 0-3-3-1-4zM559 289l3-3 3 2-3 2zM271 277l0 5 7-2 0-2zM250 277l0 8 3-2 4 1 5-3 4 2 2-1-2-4-4 0-1 4-6 0zM231 279l-5-2-4 4-3-1 0 4 4 2 2-3 6-1zM366 275l-1 5 2-2zM18 274l-3 1 0 5-2 4 5-2zM56 273l-6 1 2 4-4 4 4 3 6-5zM109 272l-2 7-9 1 0 6 3-1 1-3 1 1 7-5 1-3zM99 273l-2-1 1 3-5 4 2 0 3-3 2 1zM322 270l-3 4 3 3-2 1-3-2 2 2-5 5 7-2 0-3 2 0 0-2-3-1 1-2 3 0zM558 268l-5 3 0 2 3 2zM390 268l0 3 2 2zM177 268l0 3 2-1 5 3-2-3zM239 267l0 5 3 2 2-3zM381 266l-5 2-3-1-2 1 0 2 6 2 1 2 3-3zM206 266l0 3-4 3 5 1 2 3 1-2zM533 265l1 6-2 4 4 0 0 5 3-1-1-9zM522 265l-2 3 5 6zM490 265l-3 6 7 4-4-5 2-4zM359 264l-4 5 1 3 4-5zM23 264l-5 4-3 0 0 2 2 1zM565 263l-5 3 4 8 4 0-1 3-3-1 4 1 3-5-2 1-3-3 3-6zM171 263l-3 2 0 8 0-5zM250 262l1 2-3 3 1 6 5 0 1-1-3-3 1-6zM66 263l-1-1-2 2zM39 262l-3 4-2-2 4 3zM16 262l2 2 0-2 4-2-6 0zM374 264l2-2 3 2 4-1-7-4zM466 258l-2 1-1 4 3 0zM455 257l-2 0-1 3zM219 257l-1 1 2 5zM148 266l-7-3 0-7-4 0 2 6 4 3-5 2-2-2 0-3-2-1-3 6 1 2-4 3-2-1 0 3-2 1 5 0 4-3 7 1 0-3 3-2 0-3 4 2zM317 255l-5 1 0 4-2 3-4 2 0 4 5-3 1-5 6-5zM267 255l-1 8 6 1-1-2 2-4zM148 257l5 2 4-4-5 0zM117 253l-3 7 3-1zM380 252l-3 1 0 3zM338 251l-3 5 6 1zM131 251l-3 10 1-3 3-2zM411 250l-3 1 3 2-1 1-4 0-2 4-4 1 2 8 3-8 6-6 3 2zM223 251l-3-1-3 2 0 2zM157 249l-2 2 3 1 1-2zM25 249l0 3 2-2zM384 249l6 3-1-3zM31 250l1 1 7-2-5-1zM328 248l-3-1-1 3zM10 247l3 7 1-5zM535 246l-2 2-2-2-4 0 0 4-3 4-2-2-3 2 3 6-2 1 4-1 0-6 6-5 2 3 5-1zM539 245l1 8 6 0-1-6zM475 246l-4-1-3 2 2 2 2-3zM459 245l0 2 3 2-1 1 4 1-1-3zM356 247l3 0 2-2 4 6-2-5-2-1-2 2zM285 245l-2 4 5 10 4-7zM183 244l-2 5-5-2-4 4 4-2 5 8 3-4-2-1 2-6zM304 241l-1 5 5 5 9 1 3-2-2-3-5-2 5-1 0-2-2 2-7 2zM473 239l1 2 2-1zM455 239l6 4 2-1 0-3zM57 239l-6 6 5 4 1-2 4-1zM533 242l-3-3 0-2-5 4zM392 238l4 2 2 3 1-1-2-4zM175 238l-5 1-2-2-2 2 0 2-2 1 1 2-2 2 2 2 0 3 5 0 0-9 4-1zM573 237l-2-1-3 3 0 2zM330 238l4 6 3-1-2-7-2 3zM539 235l0 4 3 1-1-1 2-3zM229 235l-2-1-4 3-3-2-1 1 5 5 4-3zM528 230l-1 2 3 2zM302 233l0 2 7-1-5-4zM196 237l10-5-8-2 0 4zM167 230l-8 1-4 4 2 3 8-1zM76 229l-2 1-1 5-6 5 1 3 2 0-1-3 4-5 3 2 1-1zM252 232l9-3-6-1zM55 228l0 3 4 0-1-3zM314 227l-2 7 5 6 3-8-4-5zM149 226l0 2 2 1 0-3zM326 225l-2 1 0 2 3 4 2-3zM4 226l1 1 5-2zM500 229l4 1 0-4 2-2 3 1-7-1zM487 225l-3-1-2 5-6 3 3 2 4-5 0-3zM466 225l1 2 5 2-3-2 1-3zM402 224l-3 10 2 3 3 0 4 3 1-11-5 0zM290 224l2 2-1 3 6-1 3 4 0-4 3-2zM117 230l11 0-1-4-8-2zM83 223l-1 2 3 2zM283 224l-1 1-4-4-6 7-7 1 8 0 2-2 3 3 2 0zM44 221l3 5-1 4 4-1 0-5zM148 218l-2 0 1 2-2 2 2 4-1-3 4-2zM231 217l-3 5-7-2-2 3 8 4 2-1zM126 213l0 3 3 1 2-2zM218 209l-9 1 0 2 5 1zM31 209l-6 3-3-1 0 5 2 1-1-4 5-3 3 2zM291 209l-2 2 2 8 3 1 2-2 1 2 1-2-4-3 2-6zM56 206l-1 2 2 2 3 0 4 3 1 5 2-2-2-6 1-2-6 0zM236 205l1 6 1-4zM184 205l-7 2-1-1-4 5 2-1 6 9 7-1 0-6-3-3zM4 203l3 2 4 9 3 2 1-4-7-3 3-3 5 0 2-3-3-2-3 0-3 4-2-3zM142 198l4 2 3 4 4 2 1-1-8-8zM66 190l0 5-2 3 5 0-1-3-3-1 3-2 0-2zM278 189l-3 2 3 4 0 2-3 3 3 4 3-4 0-4-2-2zM178 191l-4-1-2-3-1 3-7 4-3 4 7 0-1-4 4-4 5 3zM15 185l3 6 1-2zM43 187l-3-3-3 2-2-1-4 4 0 2 4-1 2-3 6 3zM43 182l3 2 0-2zM131 179l1 4-3 6 6 3 2-2-5-4 2-7zM21 181l6 0 1-2-6 0zM284 176l-1 5 2 3 5-1 1-4-4 0zM156 176l2 0 2 3 3-1zM14 175l-5 4 4-1zM58 173l-4 4 2 1zM191 173l-4-2-4 0-2 3-1-1 1 11 4 0 5-4-3-3 4-1zM181 174l1-1 5 5-3 2zM67 168l-3 1 2 5 4-1 0-2zM227 165l2 6 3-1 2-3 3 0 0-2-3 2zM181 166l-1-1-2 2zM94 167l-2 0-3-3-4 3-2-1-2 4 3 1 3-2 7 0zM271 161l-3 7 4-3zM151 161l-2 3 6 5 4-4-2-4zM36 160l-4 5 1 6 2 1 1 4 5 1-1-3 2-6-3 0-3-3zM38 167l2 3-4 2-1-2zM171 159l-1 3-6 4 4 5-3 1-1 4 2-3 3 2 0-2 4-3 0-10zM115 159l-3 3-3 0-1 3 4 0zM242 158l-4 4 2 3 6-2-5-2zM21 157l1 5 5 0zM103 156l1 2-2 2 3 1 0-4zM279 139l-4 4 6 5 4-6zM186 141l-2 0-1-3-4-2-2 3-3 0-3 6 5-6 4 3zM217 144l-5-4 0-6-2 8-3 1-3-2-1 2zM195 134l1 3 2-2 4 1-3-4zM104 131l4-1-3-1zM186 126l1 2 3-1-2-2zM228 123l-3 4 4 3 4-2zM245 119l-2 0 0 6 2-1zM216 117l3 4 0-3zM221 116l4 1 2 3 3-2 1-3-5-1zM182 113l6 7 0-4-4-4zM195 108l1 4 1-1zM207 102l7 1-2-4-2 0zM163 98l-6 1-4 6 5 3 2 0-4-2 2-3 7 3 0-2-2 2-1-1zM117 97l2 7 2-1 0-3-2-3zM174 87l2 1 1 4 4-5zM215 85l-4 2 3 1zM145 83l3 0 4 4 1-2zM308 90l-11-5 3-4-6 3-6-1-2 3 0 4 2 3 5-9 5 7 4-2 5 5zM248 81l-2 0-2 3zM269 80l1 5-3 3 0 2 5 1 1-4-2-6zM163 74l-3 5 4-3zM179 75l5 0 1-2-6-1zM104 62l4 0 3 2 1-3-3-2zM176 53l-3 0 0 2-4 3 1 6 5-7zM261 52l-1 5 2 1 1-3zM188 47l-3 1 2 1zM304 43l-2 6 1 2-3 2 2 0 4 5 2 0zM270 41l-2 7 3 4 0-4 2-2 3 0zM285 39l-7 2 0 3 1 1 1-3 3-3zM265 39l1 5-3 6 2 0 2-7zM304 38l-3-2-6 7 5 0zM110 35l-3 2-6-1 4 4 2 0zM134 25l-1 6 3 1 0-3-3-1zM201 22l0 4 6 3-4-3zM281 20l-2-1-6 3zM226 19l-3 0 0 3-2 1 2 4 3-3zM96 16l0 3-3 3 3 1 2 3-1-2 3-7zM224 13l3 1 0-2zM207 12l-2 3 2 4zM271 11l-2 1 0 3 3-2zM154 8l2 4 4-2 1 2 0-5zM252 4l4-1 2 2 3 0-1-4-6 0z"/><path fill="#9658b4" d="M452 427l-2 1 0 2zM424 426l-1-1-3 2 0 2 2 0zM409 424l4 3 0 3 1-3zM346 424l3 4 2 0-3-4zM72 429l-3-5-3 3-4 0-2-2 4 5zM388 423l-4 5 3-3 2 2zM428 422l-2 3 2 3zM144 421l-1 4 6 3 0-6-2-2zM417 418l1 3 8 0-2-3zM72 413l-4 0-1 4 2 2zM414 412l0 7-2 2 2-1zM398 412l-1 2 2 1 1-2zM39 412l-6 3 5 5zM124 410l-6 12 5 1-1-4 3-4 2 0-4-1 2-2zM96 412l-2-2-1 3-5 0-1 4 2-2 6 0zM354 409l-3 3 0 2 4-2zM233 406l6 4 0-2-3-3zM455 410l-2-1-4 2-7-7-1 1 3 5-1 3 4 1-3 3 3 2-8 6-2-2 0-6-3-3-3 3 0 11 2 2 1-3 4 0 7 3-1-6 4-3 0-5 4 2 3-1 4 5-2-7-3 3-2-6zM372 401l-3 1-1 9 2 0 1-7 2-2zM32 400l-3 6 6 2 0-5zM337 399l-7 2 3 3 1-3zM82 398l-3 4 1 1 2-1zM302 398l6 8 5 0 0-3-5 0-4-6zM134 396l-1 9 2 4 4 2 3-5-3-2 2-3-2 4-3 2 0-11zM113 397l-6 0 0 4-4 4 0 8-3 3 1 3 11 0-1-4-1 4-4-4-1-6 8-5 2-3zM398 395l6 1-2-2zM352 394l-2 1-1 6 4 3 3-4-5-4zM448 394l-1 1-3-2-3 3-3 0-2 2 0 3 10-7 1 5zM95 393l0 3 2 0 0-2zM416 392l-6 3-3 4 2 0 4 5 3-3zM198 392l-3 3 3 0zM284 391l-1 3 3 4zM202 390l1 3 6 3-5-3 0-3zM459 389l-1 3 3 0 1-2zM339 390l-2-1-3 6zM134 389l-3 1 1 1-3 2 1 4-1-2 5-4zM473 387l-2 4 1 1 3-3zM422 387l-3 5 2-1zM324 386l-3 4 5 1zM431 385l-2 3-3 1-1 5 4 4-2 5 3 3 3 0-4-2 2-1 0-4-4-3 3-3 2 0-1-5 2-3zM380 385l1 3 4-2zM266 385l-1 7 5 1-2-7zM348 384l2 4 0-4zM181 382l5 2-1-3zM380 380l0 3 3-1zM570 380l-2-1-1 3 2 0zM539 381l-4-2-3 2-11 2 5 0 3-2 9 2zM125 379l0 3 5 3-1-3zM448 378l-1 1 5 4-1-5zM167 374l-6 3 0 2 4-1 2 2-1 2zM423 373l4 1-1-2zM230 371l2 6 3 2-1-5-1 1zM436 370l-2-1-3 2 3-2zM379 372l0 3 5 0 3-3 2 2-2 6 2 1-1-11-2-1zM208 368l-1-1-3 3 0 4-6 0 6 2 2-2-1-3zM188 368l2 0 2 3 1-1 0-3zM542 366l-4 0 1 7 1-4 3-2zM372 365l-2 0 0 5 3-3zM236 365l-2 1-1 4 4-1zM174 365l3 3 1-1zM430 368l2 0 1-2 4 2 7-2-7 1-3-4-3 2zM390 363l0 5 7 0 2-4-2 1-5-3zM378 362l1 5 2-3zM528 361l-2 1-1 8 5-7zM447 363l0 2 4 2 5-3-6-3zM335 362l2 2 3 0-4-3zM234 361l2 2 3 0zM258 360l-9 0 0 3 6 5-1 2-2 0-4-4 2 2-1 2-7-2-3 2 2 0 3 3 2 5 1-3 3-2 5 5 3-1-2-4 5-3-4-3 0-4 2-2zM554 357l-1 8 2-5zM500 357l4 4 0 2 3 0-2-5zM93 355l-3 3 0 3 4 2 2-7zM192 354l-2 1 0 3-2 2 1 2zM453 352l5 5 3-2zM252 352l-5 6 5 0zM434 351l5 3-3-3zM196 352l3 0 3 4 4 1-6-6zM464 350l2 2 2-1zM443 350l1 4 3-1zM309 350l1 5 5-2zM232 352l0-2-2 2-2-1 2 2zM257 349l4 5 4 1 0-4-2-3zM443 348l-3-2-2 3 2-2zM424 346l0 4 6-1zM244 348l-3-3-6 4 2 1zM184 351l7-1-3-1-2-4zM98 345l4 10 5-3 4 0-2-1 0-2-8 0zM231 345l-2-2-3 0-6 3 6 0 1 3zM510 342l-3 0-3 4 5 0zM435 342l2 2 3 0-2-2zM323 342l-2 2 0 3-3 2 5 0zM289 344l6 2-4-4zM113 341l2 7 1-1zM552 340l-1 5 2 1 0-2 3-3zM446 343l1 5 10 0 0-5-5 3-4-1 4-2-1-3 0 3zM410 340l-2 1 1 4zM256 339l3 6 5-1-3-2 0-4zM369 338l-2-2-5 3 2 1 3-3zM135 338l-6-3-2 1-1 5 4 1 3-4zM220 337l4-1 2 5 6-2 2-4-5 0-4 2-2-3zM249 332l0 6 4 0zM332 329l-2 3-2 0-1 4 7-1zM325 329l-3 0-4 4 0 4 3-3 4 1zM67 329l-3 5 3 1-2-2zM278 328l-8 5 5 0 3-3zM508 326l4 3 4-2-3 0-2-2zM355 324l-2 0 0 3-3 3 2 3-1-2 4-3zM257 324l0 4 4 2 0-6zM408 322l1 2-2 4 6 7 5-1 0-4-5-2 1-3zM364 321l-1 3 2 3zM121 319l4 10 0-4zM556 318l-2 3 2 5 7 1 1 2 1-5-2 0-5-6zM508 317l5 7 2 0 4-5-1-2zM486 317l-7 5 3-2 3 5 2-2zM423 315l-3 0 4 1-4 2 1 2 3-2zM316 315l0 2 4 4-1 2 3-1 0-3-4-4zM310 315l-4 11 6-4zM499 314l-3 4-3-1 6 2zM365 314l-2 1 0 4zM269 315l8 0 1-3-2 2-5-2zM191 312l-4 2-2 6 9 5 1-3-4-5 3-1 3 3-1-5zM168 313l4 1-1-2zM558 312l-1-1-2 3zM394 311l-1 4 3 1 0-3zM97 311l3 3 1 4 0-7zM84 315l3 1 2 3 4 1-1-4 2-4-3 1-1-2-2 3zM333 308l-2 2 1 5 0-3 2-1zM67 309l-2-1-3 5-4 1 3 0 4 3-2-3zM462 307l-2 0-5 9 2 4 3 0-2-4 2-7 2 4 4-2zM445 306l-6 4-2 5 5-1-1-2zM25 308l4 4-1 2 4 3 6-2 5-5-2-2-5 6-3 0-6-8zM406 304l-1 3 2-1zM458 301l-1 1 2 2zM505 299l-4 5 5 0zM31 299l0 7 6-3-1-4zM224 297l-1 4 2 3 1-2 4-1zM165 296l-4 5 2 2 4 0 0 4 3-3 1-5zM462 300l3 0-1 2 5 8 4 2 2-1-1-2 3-5 7-1 5 3-2-5-4-1-13 8-4-4 5-1 2-6-2 1-4-3zM464 298l1-1 1 2-1 1zM50 295l6 2 3-3 0 8 4-5 0-2-5-3zM312 291l-3 4-2 0 1 3 5-4zM555 290l-3 4 1 3zM487 290l3 10 3-4zM567 292l0 2 6-1 0-3-4-1zM425 288l3 3-1 6 3 3-2 4 3 2 0-15-1-3zM246 290l-4-2-2 5zM115 288l-1 5 2 1 1-2zM376 286l1 4 2 1 0-2zM315 289l5-1 3 6 4-1-3-2-1-5-3 0zM535 292l-7-7 1-3-5 3 1 5-2 2-7-1-3-3-7 3 4 5-1 4 3-2 4 0 4 3-5-5 3-3 2 1 0 2 8 1 1-3 4 1zM480 281l3 4 2 0-2-3zM524 280l-3 3-2 0 1 4 2-1 0-3 3-2zM278 281l4 2-1-2zM493 278l-2 0-1 7 2-2zM549 277l-1 4 3 4 1-2zM476 275l0 6 3-5zM285 276l4 0 5 3-5-5zM233 273l4 4 3-1-5-1zM423 271l-1 2 2 4zM449 270l1 2 3 0 2 2-2 1 3 2 8-2-7-1-1-2zM368 269l-5 5 2 0zM261 269l9 5 0-4zM351 268l0 5 3 1zM505 267l-2 10 6 0 2-2 0-4-4-1zM417 266l0 3 2 1zM554 263l-1 7 5-3zM255 260l4 5 6-1zM460 259l0 4 2 0 1-3zM518 257l0 2 4 2zM379 256l2 5 6-3-3 1-2-2 0-3zM550 251l0 2 2 0zM529 251l-4 3 1 4 2-1zM573 248l-4 1-2 3 6 0zM429 247l-4 1-3 10 1 3 4 3-2-2 0-3 6-10zM536 246l3 6-2 6 1 4 4-7-3-2-1-5zM460 245l3 1-2-2zM573 238l-2 2 2 1zM481 238l-2 3 1 3 2-4zM447 236l0 2-2 1 1 6-4 2 1 4 3-4 2 7 7 2 2-6 4-1-3-2 0-3-4-2-6 1zM362 239l-3-3-5 6 2 0 3-3zM336 236l2 6 2-4zM466 233l-4 2 2 6 5-2zM322 230l-3 6 4-2zM442 224l-8 0-4 8 3 0 2 2-3 7 3 0 2-2 0-8-3-2 0-2 3-3zM388 224l-1 2 8 5 0-3-4-1-1-3zM28 136l-5 5 1 1 4-4zM39 125l1 1-2 4 3 0 2-3zM34 117l-4 6-3 0-3 4 2 0 3-4 1 4 1-1 4 2 0-2-4 0zM79 115l1 3-2 4 3 1 0-6zM33 110l-3 1 0 3 2 2 2-3zM68 103l0 4-5 3 2 2 0-3 4-1zM3 100l0 5 3 0 1-2zM78 98l0 6 6 2 2-1-4-3 0-4zM39 92l1 2 2-1zM70 88l0 3 2-2zM56 89l4-2-4 0zM36 87l-6 2 2 5 3-1 0-3 2 1zM62 87l2 3 3-1-4-3zM42 84l-2 3 5 2 3-1 1 7 4 3 1-9-2-2-6 1zM10 81l-5 1-1 2 4 0zM55 75l-5 0 0 3 3-3zM80 72l-2 2 1 4-4 2 6 0 1-2zM9 73l2 1 2-2 4 0zM91 71l-2 6 3 1 1-3 3-2zM45 68l-2-1-2 4zM86 64l-5 1 1 5 2 0 0-4zM61 68l5 2 3 0 2-2-3-4-3 2-3-2zM24 50l-6 3-4 0 4 2zM1 41l-1 2 3 5 3 0-1-6zM59 36l0 3 3 2 1-3zM79 28l-6 1 4 2zM91 33l-1-7-2 2-7 0 4 0zM59 25l3 9 2 2 4 0 1-2-3-1 1-3zM92 19l-3-3-7 4 1 1 4-3zM85 13l2-2 5 1 2-2-8 0zM63 11l4 1 1-2zM55 12l6-1 0-2 5-2 6 2 1 2 5-3-2-1 0-2-8 0-2 2-5-5 0 7-5 1zM204 0l2 3 0-3z"/><path fill="#d8487c" d="M271 428l0 2 4 0zM405 427l-3 3 2 0zM173 430l6 0 2-3-7-1zM261 424l1 2-2 3 3 1 1-1zM204 425l-1-1-1 2zM135 423l-5 6-2-2 0 2 3 1 3-2 3 2zM199 422l-3 6 4-4zM109 420l-7 0-4 2 0 5 1-4 3-2 3 0 4 3zM94 417l-2 1-2 5 2 1 2-2zM58 416l-4 1-5 5 3 1zM44 414l-5-1 0 8 5-4zM179 408l-1 4 3 2 2-4zM29 407l-1 13 1-3 4-3zM210 405l-5 2 4 3 2-4zM79 403l0 2-7 5-1 2 2 1-2 2 0 4 7 4-1 3 2-3-3-5 2-5 4 9 5 4-3 1-2 3 7 0-3-5 1-4-2-6-6-3zM100 402l-2 5 4 1 1-1zM74 403l-4-2-2 4-5 3-1-1 1 5 4 1 1-4-2-2zM65 410l2-1 1 2-1 1zM75 398l1 3 3 0 1-2zM119 395l-1 8 4 4-1-9zM56 395l-2 4-4-1 0 2 3 1-2 4 4-1 4-4zM116 394l-2 1 1 4zM72 394l-3 3 0 2 4-2zM175 390l-2 0 0 8 4-4zM129 390l-1 1 2 1 1-1zM135 388l0 3-5 5 3 2 0-2 3-1 1 5 5-1 1-2-6-1 2-1 0-5zM48 388l-10 3 1 2 7 1zM16 383l0 5 4 1 1-6zM94 381l-1 1 3 4 0 6 2 2 2-2-1-2 5-4-6-5zM9 381l0 6 4-4zM166 380l-7 0-1 3 2-1 3 2zM183 379l4 0 5 2 1 2 7-3 3 4-2-7-4 4-4-1 2-1 0-2-2 0-2 3zM179 377l-1 3 2 1zM114 373l1 2 1-1zM228 369l-7 4 6 0-3 3 3 2 0 2 4-3zM209 366l4 4-2-4zM100 367l1 2 6 1-5-2-1-2zM207 363l-4 1 2 4 2-2zM167 363l-2 4 2 3-6 2 7-1 1-5zM239 361l5 2 1-1-1-2zM259 360l7 1-4-3zM104 356l2 7 3 2 1-2-3-2 1-4zM246 354l-2 1 0 2zM119 354l-1 4 2-2zM85 354l2 9 6 1-5-4 0-6zM236 354l-3-3-6 7 4-3 0 3 3 2zM133 350l-3 4 4-2zM212 352l-2-3-4 3-5-1 6 3zM80 346l3 1 2 3-1 1 4 0-1-2 6-4-9 3-1-3zM235 344l-2 1 2 3zM177 343l-1 1 3 2 0-2zM173 343l-6 1 3 1zM75 342l-1 3 2 2 1-4zM248 340l-4 2 3 0zM26 340l-6 2-4 4 0 2 3 1 0-5 4-1zM255 341l0-2-3 1zM34 339l1 3 3 0 2-4zM235 336l2 5 3 2zM88 335l0 2 4 3 0-2zM88 329l6 2-2-4zM26 323l-1 6 3 0 1-5zM171 325l-5 0-3-3-2 2-1 5-5 0 3 2-3 4 10-2 1-2 3 1 1-3 3 1zM143 321l1 4 4-1 0-2zM137 323l-3-3-6 6-1 4 4-6 3-2 2 4zM90 320l-1 3 4 0 0-2zM70 319l-4 6 0 3zM127 314l0 4-2 2-4-2 1 2 5 1 2-2zM137 314l1 3 7 0-3-5zM172 306l-2 5-2 0-2-3 0 10 3-1 4 3-1-5-5-2 4-2 4 4 4-1-3-1 2-2-1-2zM197 305l-2 0 0 3zM149 304l-3 3 6 5-3 4 4 0 2-2-2-2 1-3-3-2 2-3zM56 303l-2 3 4 0 2 2-1-5zM94 301l2 6 2-2 0-3zM150 297l0 2 5 4 5-2-2-3-3 2zM171 298l3-1 2 2 3 0-4-3-3 0zM21 298l-4-2-1 4-4 2 1 1 4-2 1-3zM200 295l-1 10 3 1 1-7zM127 294l-2 2 1 4 4 3 0 2 5 1 1-2-6-5zM72 293l0 3-4 3 1 4 4-3 2 1-3-3zM147 293l-3-1-4 4 5 2 2-1zM106 290l-5 2 2 6 6 0zM170 288l0 5 5 0 2 2-1-2-4-1zM163 287l-1 4 3 4 4 1-6-5zM205 265l-2 0-1 4-3-1 0 3 4 0 2-2zM573 260l-2 1 0 2 2-1zM512 256l-2 2-1-3-5 4-4 1-2 3-4-1 5 1 2-2 2 2 3 0zM243 246l4 2 5 6 0-9-3 2zM338 244l-8 3-16 18-21 27-1 7 7-3 36-42 2-3zM500 240l2 5 2 0 1-3 5 1-1-4-5-1zM251 233l-2 1-2-2-1 7zM272 230l-7 0 1 2-7 6 4 1 1-2 5-1zM494 229l2 3 0-2zM507 225l-2 1-1 5-4-1 3 4 3 1 0-2 3-3 0-3zM262 213l1 4 4 1 3 3 3 0 0-7-8 1zM0 203l1 2 1-1zM260 200l-4-1-1 4-3 2 3 0 3-4 2 3zM211 195l-3 4 2 2-1 4 3 1 3-5 3 3 0-4-5 0-3-3zM228 193l5 5-1 3 1-3zM202 192l-4 4 3 6 4-5zM274 191l1 3-2 2-1-1 0 3 5-1zM247 162l3 4 2 0 0-3zM291 155l-3-1-4 5 4 1zM303 150l-2-1-1 3zM99 146l2 2 2-1-1-2zM193 135l1 4 1-2zM231 138l6 2 7-5-1-1-4 3-3-1 0-3-2-1zM67 130l0 3-2 2 5-1zM27 127l-3 2-1-1 3 1 1 3-3 3-2-2-1 1 5 0zM72 126l0 5 3-3zM279 120l0 2-6 5 3 1 2 4 5-2 4 4 3-6-1-4-7 0-1-4zM75 120l-1 4 3-1zM87 119l-2 0-2 4-5 2-2 5 4 1 1 2-8 0-1 8-3-1 1 1-3 3-5-4 1-2-2 1-1 3 4 6-3 5 0 3 2 2 3 0 2 2 0-8-6-7 1-1 7 2 0-2 4-2 2 2 0 8 2-5-5-7 3-2 3 3 4-2 1 1 0 9-5 1 4 3 2 7 3-2 2-5 4 3 5-1-1-6-4 1-6-5 0-2 7-5 2 0 1 2 1-2-2-2-3 2-3-2-2-7 4-2zM62 140l1 2-2 1-1-1zM83 136l4 0 1-2 4 3 0 2-4 1zM246 118l4 2 1-1zM199 120l4 4 5-1 1 1-3 2 5 6 5-2 0-3-8-4-1-5zM270 117l7 2-3-3zM35 113l-3 13 7-2 5 3-1-5-4-2 0-4-2-1 0-2zM96 112l-2-1-7 3zM23 105l-1 2 2 2 1-3zM67 103l-3 4-3 1 2 1 4-2zM43 101l-3 3 3 0zM77 99l-2 7 2-2zM66 96l-2 0 1 3zM82 92l-1 2 4 4-1 4 2 1 3-4 0-5-5 0zM27 86l-3 3-4-2-3 1 8 4zM84 83l-1 5 2 1 3-3zM61 83l3-2-2 2-1-2zM9 85l5 2 0-3 2-2 6-1-7 0-1-4-4-2 2 5zM68 74l-8 2 3 1zM20 76l1 3 4 0 2 2 3-2 0-2-4-4zM25 77l1-1 1 2-1 1zM307 68l-1 3 2 2 1-4zM1 68l-1 5 3 0zM45 64l4 4-1-3zM13 57l-4-2 1 2-6 4 2 2 5-4 3 2zM27 51l3 3 0-4zM72 49l-1 6 2 1 4-2 0-2zM65 47l1 8-2 0-1-4 0 4 2 1-2 4 1 3 4-13zM81 42l2 0 2 3 0-3zM26 42l1 3 6 2-3-4-2 0-1-2zM43 40l-2 0-5 5 2 0 2 6 1-5-2-3zM6 40l0 3 2 2-1 2 8 0 0-4-2-3zM10 44l2-1 1 3-1 1zM66 38l-3 2-1 4zM82 39l9 1 2-3-6 0-4-2zM82 19l-2 0-3-3-5 12 6-1-4-2 2-4 4 0 4 3-3-4zM89 5l-2 4 5 1 1-3zM184 0l-3 0-1 3zM171 2l6 0 1-2-7 0zM62 1l3 1 3-2z"/><path fill="#de3a32" d="M331 427l-1 3 3 0 1-2zM465 426l-1 3 3 1 1-4zM191 425l3 2 0-2zM376 424l-2 4 4 2zM88 425l1 4 7 1-2-3-3-1 0-2zM423 422l2 4-1 4 8 0-4-1-5-5zM386 422l-2 2-4-1-1 4 3 2 4-4zM407 421l0 3 4 4 0 2 1-3-5-3zM315 421l-4 1 2 1zM119 419l-9 2 6 1zM101 420l-2-1-1 2zM415 418l-1 3-4 1 0 2 4 2-2-3 3-2zM362 418l2 3 0-2zM448 417l1 4 4 1 0-3zM402 417l1 3-8 6 2 4 4 0 3-3-3-4 3-5zM468 416l5 2 2 3 1-2 2 2 0 3 0-6-3-2zM399 416l-3 2 3 0zM390 418l-3-2-2 4zM205 424l0 3 3 0 5 3 7 0-4-6 3-3 2 0-3-1-3-5-1 3 2 1-3 9-5-1zM440 413l-4 0 2 4 0 6 2-3zM79 413l-2 5 4 4-3-7zM144 411l-4 4 0 3 2 1zM362 430l0-4-2-1 0-2-8-5 5-5-1-3 0 2-4 3-2-1 0-3-3 0-1 6-2 2-7 1-2-2 1 1-5 4-1-3-3-1-1-5-3-3-2 4-7 0 0 3 3 1 9-1 3 7 2 0 4-5 4 6 3 0 1-4 6 2-2-4 3-5 3 8 6 2-3 1-1 4zM149 408l-2 6 1 3 4 0 0-8zM414 409l1 3 4 0-1 4 6 1 4 4 2-1 0-3 2-1-1-6-4 5-6 2-1-1 2-2-5-7zM127 407l3 4-3 8 1 3 6-2-5-8 1-2zM115 406l-2 1 1 3-3 4 7-1-2-2zM354 405l-2 2 1 1zM166 405l-1 6 3 0 0-4zM358 404l2 2 0 3 2 1 0 5 2 2 4-1 1 2 1-1-3-3 0-7-6 0zM342 404l1 3 3 2 0-3zM3 404l-3 1 0 5zM478 404l-4 2-2-3-2 0-5 7 2 4 3-2 8-1zM448 403l-1 4 2 3 2 0-3-4zM399 400l-2-1 0 2-4 4-3 0 4 1 4-2zM387 399l4 2 3-2zM302 399l-3 5 0 5 3 2 0 5-2 0-1-5-4 1-1-2-1 6 3-4 4 2-1 6 3-4 1 1-2-9 3-3 0-3zM221 399l-2 3 0 4 4 1 2-1-5-1 5-2-2-4zM154 399l-1 5 4-2zM453 398l-2 8 5 4-3 2 3 8 0 5 0-6-2-3 9-5-6 0-2-2 0-3-2-2zM380 399l-5 2-3-4-3 1 6 4-3 2-1 5 2-3 3 0-1-2zM198 401l2 1 1-2 3 0 3-3-5 1-4-2zM156 396l3 4 2 0zM409 395l-5 3-1 11-2 3 2-2 3 0 2-3 4 1 3-2 0-2-2 1-4-5-3-1zM353 394l-1 2 4 3zM118 394l-2 6 1 2zM14 393l-2 1 2 6-6 6-2 7-4 2-1 7 3 0 4 3 2-4 0 4 3 2-2 1 1 2 2 0 3-7 4 3 3 0-5-5 2-12-1-4-4-2 1-2 2 0-3-5-3 0zM13 419l1 6-2 1-2-2zM10 408l7 4-4 1 0 6-2 3 0-6-2-5zM474 391l-4 5 1 2-3 3 9-7zM466 391l-2 4-3 0 0 4 4 0 2-4zM140 391l-1 2 2 1zM188 390l2 8-1 1-4-2-4 8 9 6-1 2 3 2-1-9 2-3-3 2-1 3-4-1 4-5 2 0-2-2 3-7-2 0zM54 389l0 3 1-3 6 2-4-3zM382 388l6 3 1 2-2-5 1-2zM291 388l5-1-3-1zM404 385l3 4 2 0 0-2zM221 385l0 5 4 4-1 2 3-3-6-4 3-3zM160 385l5 14 2 1-2-4 1-2 5 5 1-6-1 1-2-2-5-1zM164 393l1-1 1 2-1 1zM336 385l-2-1-2 2 3 1zM308 384l-1 3 2 5 8-2 2 1-4 6 3 4-4 1 0 4-3 1-1 3 3 3 4-6 1 3 2 0-2-7 4 0 2-4 3 1 13-2 2 3 5 0 1 2 4 1-4-3 2-8-3-3 0 10-2-6-8 2-2-4 1-3-7 0-2 3 3 2-3 2-9-6 5-5-8 0-4 2zM334 393l1-1 1 2-1 1zM379 384l-5 3-2 0-2-4-1 4-2-3 0 6-5 3 3 3 0 6 0-5 4-4 10-1zM486 380l-1-1-4 2 4 2zM325 379l4 5 2-1-3-4zM144 379l-1 3 4 1 1-2zM9 379l-8 4 5 5zM562 378l-3 1-2 4 5 0zM202 377l2 7 7 0-5-2zM99 376l-2 3 4 4-2-2zM78 376l-2 0-3 4-3-2 1 3-2 3 5 0zM226 382l1 4 2-2 2 4 5 0 3-3 2 0 4 4-3 6 3 3-6 2-1-2-6 0 0 7-3 1 0-2 0 2-5 4 1 2 2 0 2-3 2 0 3 3-4 10 1 6 1-6 5 1 0 3-3 4 5 0-1-1 4-4 3 1 0 4 5 0 3-5 0-3-2-2 1-5-4 2-1-3 6-2 3 1 0 15 4 2-1-1 2-3-2-7 4-3 3 0-3-2-5 1-3-3 1-4-2 3-4-1-4 5-6 0 2 3-1 4-6-6 6-6-2-10 1-1 5 4-1 5 3-2 2 1 2-5-2-2 2-2 2 1 2-2 0-3 3 0 2 3-3 9 6-5 1 1-4 8 7 2-1-2 2-2 2 5-1 1 3 2-1 4-5 2-3-1 2 5 2 0 2-3 4 1 0-2 2-1 0 8 8 1 1-7 3 2 5-3 3 3-1 1 2 4 3 0-6-7 0-3-4-3 1-7 6-3 0-2-7 2-1-4 2-3-3-3-1 2-4-5 2-4 2 4 3-5-5-1-4 3-1-3-8-1 5 5-1 3 5-2 1 1-1 7-1 1-2-3-2 0 2 1 0 2-5 1-7-6-1 1-1-2-1 2-2-2 1-4-2 0-1 2-4-1 5-5 1-5-9-9-2 1 2 2-4 2-4-4-2 0-1 2 3 4-2 3-3-1-3 4-3-1 0-8-4 6zM232 406l4-2 4 4-1 3zM286 401l4 12-1 1-6-3 0 6-2 2-8-4 0-2 3 0 3-3 2 0 0-8zM252 380l0 15-3 0 1 4-3 1 0-4-2-3 4-3-3-1-3-7 2-1 3 4zM220 374l-7 1-3 3 2 4 4 0-3 3 1 2 6-6-2-3zM112 374l-3 6 7 5zM568 373l0 4-4 2 1 4 3-5 3 2 1 3 0-4-2-1 1-5zM366 373l-5 3 3 4-3 1 0 2 5-4zM328 374l-1-1-3 3zM301 373l0 3-8 1-1 4 2 2 1-2 4 2-1-3 2-4 3 3zM194 376l-3-3-6 2-1 3 7 1zM345 372l-1 1 2 2 1-1zM98 370l-3 3-2 0 4-1zM121 369l0 2 6-1 2 2 2-2 0-2zM455 367l-2 4 4 1 0-4zM118 367l-3 3 1 3zM544 366l-4 5 0 4 4 5-1 1-4-3-3 0 4 3-1 2 6-1 0-10-2-3zM543 369l1 3-3 2-1-1zM227 367l-2-2-4 0-7 5 7 2 4-2zM145 366l3 1 3 12 5 5 2 0-2-4 1-9 3 2 0 6 0-2 4-3 4 0 0 7-3 5 4 0 5-5-3 1-3-2 1-7-7-2 4-1-3-5-4 5-1-2-6 2-6-5zM107 364l0 2 2 1zM573 363l-6 3 2 4 3-3zM18 363l-1 1 2 4zM561 362l2 6 1-2zM284 362l-2 4 4 6-6 3-1-2-2 0-1 3 4 10 3-6 2 1-2 2 1 3 1-2 4-1-3-9 2-1 3 4 0-4 4-4-1-2-2 5-4 1 0-5-4-3zM120 362l0 3 3 0zM222 363l5-1-3-1zM0 360l0 3 2-1zM296 362l3 1 3-3-4-1zM167 357l-2 2 1 3 3-2 2 5-2 5 2 0 2-3 1-9-4 2zM460 356l-5 6 3 1 3-3zM86 362l-5-6-7 1-3 4 2 5 3 0 5-3 4 1zM283 356l-1-1-2 3 2 0zM180 355l2 1-2 1 3 4 0 4-4 3 5 2 8-4-6-7-1 1zM540 355l-2 8 4 0 0-3 2 0 0 3 6 4-2 5 5 5 0 2 0-23-3 3-3-5-1 9zM480 353l-5 0-2 2-1-1 1 5-1 1-2-2-5 3-1-3 4-4-2 0-3 5 2 8-6 5 1 6-1 1-3-3 0 5 2 1 4-12 2-2 1 1 1-4 5 2 3 4-1 7-4 3 3 7 2-6 4 0-1-3 2-5-5-3 3-3-2-4 5-3 4 1 2-3 0-2zM289 353l-1 5 2 2zM185 352l1 2 10-1 4 3 1 4 3-1 0-2-2 0-3-4zM510 351l-4 5 0 3 3 0 1 3 5 3 2-3-10-4 3-3zM560 359l1 1 8-4 1 1-6 5 9-2 0-3-1 1-3-6-3-2 2 4-4 4zM567 360l2-2 2 1-1 2zM436 349l-10 1-2 2 1 3-2 1 3 4 0 6 3 2 1-3 4-3 3 4 8 0-2 2-5 1-1 3 3 4-1 5 9 2 0 3-2 2-3 0-5-3-1-5-5-1-4-4-3-7-2 2-9-1 0 2-2 0 2 2-7 3-2-1 0-5-6 5 0 2 2-2 4 0 0 4 7-1 2-4 4 2 2 3-4 2 2 2 3 0 2 4-1 4-2 2-3 0-1 4 2 4 3 2 3-5-1-4 2-5 4-2-3-2 2-4-6-8 3-2 3 2 2 7 3 1 3 4 4 1-2 1 0 5-3-3 0-2-3 1 1 5-5 3 7 5 0-7 2-2 8-1 2 3-3-4 2-2 7 3-2 3 1 1 5-2-2-10-2-1-1 2-12-9 1-3 5 1 1-5-3-3 1-2-7-5 2-3-7-3 1-2 4 1 1-1zM436 358l1-1 2 2-2 1zM428 359l3-2 1 1-1 2zM425 355l4-3 4 0 3 3 0 2-8 1zM446 348l2 2 0 3-2 2 3 1 3-4-2-1 1-3zM4 349l3 3 0-4zM531 347l1 3-2 4-3 1-1-3-4 4 3 2 4 0 2 2 0 3-4 5 3 2-1 6-6 1-3 4-1-3-4-3 1-2 4 3 5-5 0-8-3 5-5 0-2 5-2-3-3 0 0-4-3-2-2 13 3 0 3-6 2 1-1 8-4 2 1 1 11 0 9-7 6 0-4-4 4-2-3-10 4-3 1-3-5-1zM217 349l9 1 0-3-6 0zM209 347l-6 1-1 2 3 1zM466 346l3 4 1-2zM176 345l1 3 1-1zM436 344l2 4 1-3zM459 343l0 6-3 3 2 0 3-4 0-3zM427 343l-2 0-1 2zM272 343l0 10-3 0-2 4 3 3-2 2 1 2-3 5-4 1 1 2-3 4 6 3-1 4 2 1 6-4-5-4 4-3-3 2-1-3 3-3 4 2-5-3-1-4 1-1 4 2 4-5-2-1 2-1-5-5 2-2 0-6zM41 344l-2 1-3-2-3 6 2-3zM288 342l-2 0 1 3zM122 341l-3 3 3 0 2 2 1-3zM327 343l-4-3-3 1-2 7-2 1 4-2 0-3 3-3 3 3zM47 340l0 2 3 2 0 5 1-7zM560 339l-2 2 1 3 3 2zM424 339l-1 3 2-2zM512 338l-2 8-4 0 3 3 2-1-2-1 2-1zM136 338l3 3 1 5 3-4zM224 337l-3 1 4 3-1 2-7-2 1 3-2 1-1-2 0 2 11-3zM320 336l-1 2-6-1-4 3-1 8-3-8 1-2 2 0-3 0-1 2 4 8-2 2 4-1 3 2 3-8-1-2zM204 335l0 3 2 1 1-2zM63 335l-1 2 4 4 2-5zM496 334l-5 5 1 4-4 3-1-2-3 5 2 1 3-4 11 2-2 3-3 0-1 5-5 4 1 3 5 0-1 5 2 1-3 1-4-3-7 4 3 1 3 5 2-1 0-4 5 6 4 2-1 3 6-1-3-4 1-10 3-4-4-5-5-2 0-4 2-2 3 1 2-2-1-3 3-3-3 0-2-4 5-1 1-3-2-2-6 2zM500 366l2 7-6 2-1-1 3-1 0-5zM459 336l4-2-3 0zM77 334l7 2-2-2zM25 334l-2-1-4 2 5 1zM1 336l7 2 3 4 3-2-8-7zM517 332l-3 4 3 3-1 6 2 1 4-3 2 4-2 2-6-1 5 6 0-3 3-3 0-5-2-3-5 0 2-7zM173 331l-5 5 3 0zM30 331l-2 0-1 9-4 4 2 2 5 0 4-3 0-3-5-2zM471 329l-1 6-4 7-3-2-1-3-1 1 2 5 5-2 0-4 4-3zM550 328l-2 3 4 1 0 5-4 1 6 1-3-1 6-1 1-2-2-3-5-1 4-1zM520 328l2 4 4 1 1 3 4 2-4-2 2-1-1-1 2-1 0-2 2 0 0-3-5 5-1-3zM382 328l-12 3 3 2 1-2 3 0zM230 329l4 1 0-2zM150 328l-5 1-2 4 5 2 0-4 2-2 1 1zM52 328l-1 4 4 0 2 2 0-3zM499 327l3 2-1-2zM86 327l1 2 1-1zM448 326l-4 0-3 2-2-1-2 3 1 4 2 0 0-6 7 1zM529 325l0 3 2-2 4 1 1 6-2 1 6 6 3 1-1 3-3 0-1 3 3-2 2 4 5 1 0-6-9-9-2-4 0-6zM368 326l5 1-4-2zM573 324l-7 0-2 6-1-2-3 0 3 4 3 0 3-3 4-1zM310 363l4 2 1-3 3 0 0-6-2-2 2-2 6 1 3 3 0 5-3 5 0 3 3-2 2-4 2-1 1 3 2-1-1-2 3-2 5 4-1 5 2 3-6 5 4 2 6 0-4-5-1-5 1-6 2 2 0 5-1-10 3-2 1 4 10 0 0 4-4 4-2 0 0 8 4-5 7-3-3-4-1-7 4-2 1 3 3 0-1-2 5-3 0-3 5-5 8-1 0 8-4 1-3 3-3-1-1 1 4 1-4 3 0 2 6 4 1 3 7-3 3 2 1 11-2 1-2-2 2-6-1-1-7 6 7 5 4 1 5-4 5 1 0-3-4 2-3-6 6-5-11-2 0-8 3-4-2-1 2-2-4 2-5-7 1-1 7 1 4 4 4-2 7 2 1 3-3 4-4-4-6 1 1 7 2 1 1-3 5 6 3-3 2 1 0 2 5 0 1-3 7 3 3-3-4 2-2-4-6 0 0-5 3-2-8-1 2-3-2-8 1 4-2 2-4-5-5 7-6-6-3 0-2-2 0-7 6 1 3 3 5-2 7 2-2 1 3-1-6-5-3 0-4-6-5 1-6 5-2 5-4 0-2 2-4-3-5-1-4 3-2-3 3-1 0-3 4-5-2-2-6 4-2-7-2 0 0 4-4 3 0 3-3-3 0-2-2 0 1 3 6 3-4 4-5-3 3 4 5 2 2 3 4 1 1 6-2 2-6 2-3-3 0 2-4 2-3-3-3-7-7-2-3 3-2-1 2 3-5 3-1-2-8 3-2 2 0 5zM328 358l4-1 2 4-2 1zM347 357l3-1 3 3-5 0zM383 355l1 5 4 1 1 2-9 7-2-2-1-6 1-1 4 3-2-8zM329 355l4-2 3 3-3 1zM354 338l1-1 2 2-2 1zM333 324l3 5 4-2 4 1zM329 324l-2 4-2-3 1 4 2-1zM323 323l-8 3-3 3-2-2 0-3-5 3 6 3-1 4 3 0-2-2 6-3zM291 323l-2 0-2 3zM138 323l-2 8 5 0-2-6 4-1zM407 322l-5 6 4 1-2 5 5 4 2-5-5-5 2-4zM162 322l-5 2 3 4 0-4zM428 320l-1 1 2 2 1-1zM415 325l-1 3 3 0 2 3 3-3 8 9-1 2 2 0-1-6 3-1 0-3-6 4-3-5 1-1-5 0 5-6-3-1 0 4-3 5zM303 320l-4 1 0 3-2 2 2 4-7 7-1 3 2 3 3 0-2 6 5 0 2-2-8-8 6-2 0-4 2-3-2-3zM292 340l1-1 2 3-1 1zM202 320l9 13 0-6-3-5-2 2zM455 322l-3-3-5 2 0 2 5-2zM260 322l-2-3-4 2zM38 319l-1 6-3 3 2 3 1-2 5-1 2-2-2-4zM411 318l-2 0-1 2 2 1zM539 319l0 2 2 1-2 2 5 1 9-2 2 2-2-3-7 0-2-2 0-3zM439 317l-2 0 0 6-3 0 1 3 2-3 1 2 0-3 2-2zM367 319l-4 1-1-4-3 2 2 5 2 0 0-2 3 0zM284 318l-3 1-1-2-1 2-3 0-1-1 2-2-7 0-2 2 2 0 4 4-2 2-10 0-1 7-2 0-3-3 0-4-4-1-1 4-3 3-5 2-1 2-4 0 2 1 0 3 2 2 1-5 6-4 5 7 9 0 2 3-1 2 2 2 1-6 3 1 2-3 1 3 2 0 1-3 4-2 1-4 3 1-2-2 0-3-3-2zM256 331l2-1 4 2 1-2 4 0 1 1-2 1 2 4-3 2-1-4-3 1zM277 323l3 4-1 3-8 8-3-6zM351 316l-5-1-2 2 0 9 3-8 3 0zM550 313l-4 3 1 2 5-1zM172 313l3 3 0 3 7 0-4 0zM118 313l-2 0-4 4 2 7 3 0 3-3zM559 313l6 6 2-2-5-5zM477 312l-2 3-2 0 0 3 5 3-2 5 4 0 4 3-1 6-2 1 5-1 3 5 1-5-4-4 2-7 3-1 5 3-1-1 5-3-10-2-6 6-2-5-2-1 4-3-3-4-3 3zM404 312l-5 8 1 6 3-3 0-6 3-1zM285 312l1 6 1-2zM213 312l-1 4 3 2-2-2zM217 311l0 3 7 2-1 6-3 2 5 0 0-4 3-6-3 1-1-2-5 0zM64 314l2 1 3-2-3-2zM23 311l-3 5-6-3 0 4 4 3 4-5zM12 312l-1-1-6 5 5-1zM468 310l-5 4 5 4 1 3 2-7zM277 310l-2 3-2-1 3 1zM516 308l-4 0-2 4-6-3-3 4 6 3-5 8 8-1-3-6 8-1-3-2 3-2-1-2zM327 308l-3 5-3 0 6 5 0 3 5 1 2-2-5-5zM404 308l5 5 0 2-2-8zM446 306l-4 7 4 2 5 0 2-2 0-3-4-1zM444 312l2-1 1 2-2 1zM443 306l-7 2 1 6-2 1-1-2 0 8 4-11zM354 305l-2 2 5 3 1 5 2-2 0-7-4 2zM542 304l-5 3-2 4 2 0 5-5zM486 305l-9 0-2 5 6-3 4 0zM230 304l-3 7 5-4zM162 304l-1 3 3 2-5 2-1 2 6 6 2-6-1-6zM105 307l-2-2-2 0-1 2-1-3-3 4-5 0-1 2 1 2 2 0 3-4 7-1 2 2zM554 303l-3 5 2 2 3 0 0-4-3 0zM13 306l7 1 6-3-9-2zM462 301l-2 2 2 2-1 1 2-2 3 3zM187 304l-5-3-2 3-4-1-3 3 2 0 4 5-2 2 9 0zM560 304l4 6 4-7 3 3 2 0-3-2-1-3-4 3-1-4-2 0zM294 299l-2 3 2-1zM283 299l-3 6 4-3zM453 298l4 7-5 2 6 0 1-2zM413 298l-3 2 2 3zM264 299l6-1 1 2-5 1-2 3 3 1 1-4 1 5 4 0-2-9-4 0zM473 299l2-2 4 5 3-2-7-5zM573 294l-6 2-1 2 7 1-3-1 0-2zM192 304l0 4 5 7 5-5 1-4 6 4 2 0 2-4 4 0-4-2-2 3-2-4-6-5 0 8-4 0 0-12 0 5-2 2-3 0zM195 304l3 1-2 4-2-1zM181 294l-3 2 2 1zM47 293l2 3 1-2zM505 292l-1 1 2 3 0 6 3-3 0-3zM502 295l-7-3-2 2 1 3-2 3 0 4 7-1-4-5 1-4 4 4 3-1zM559 291l-2 3 1 5 2 0 1-2-2-2zM108 291l2 7 1-5zM388 290l-4 4-6 0-2-2-1 5-4 3-2 13 4-2 1 1 1-2 2 2 0 4-6 6 6 5 6-4 7 1-2-4 5-7-2 2-10 0-4-4 8-1 0-2-3 2-7-1 1-11 4-4 5 3 3-1zM273 290l-1 3 3 2 2 6 3-6-4-3 0-2zM135 293l5-2-4-1zM423 289l-2 2 1 12-2 2 1 1-2 5 1 3 3 0 2 3 4-3 2-5 1 3 3-11-4-1 0 8-4-4 2-3-3-4 1-6zM472 296l3-6 3 1 1 4 8-2 0-2-3-3-4 4-1-3-4-1-3 4zM449 285l-4 6 7 0 2-2 1 6 4 3-2-9-2 1-1-3-3 0zM249 285l0 3-2 1 1 1-5 2 2 5-3 4-7 0-1 2 11-1 4 4-3 2 2 5-4 2 3 0 5 4 3-2 1-5 2 2 6 1 2-6-3 0-1-4-3-3-12 0 3-2 7-1-4 1-3-4 0-3-3-2 12-1zM247 314l1-1 4 4-2 1zM251 307l4 0 1-2 6 3-5 3-5-2zM247 296l1-1 3 3-2 1zM124 284l-3 5 2 3 5-3zM1 284l1 4-2 3 5-1 0-3zM479 284l3 1-2-2zM390 283l-1 5 2 1 2-3zM321 282l-5 2-5-1 1 7-2 1-4-2 0 3-3 0 1 3-7 3 4 4-3 4 0 4 9 1 3 3 2-5 3 3 4-2-2 0-3-5-4-3 3-5 2 4 3-3 2 1 2-2-4-2-4-6 7-4zM303 298l2 2 6 1-4 3-1 6-5-6zM312 290l2 4-6 5-2-4 3-1zM509 280l-3 5 1 4 5-4 0-2zM186 280l-2 7 2 5 2 0 2-3-3-3 0-2 3-3zM424 278l-7 10 4-1zM374 278l-6 1-1 7-3-2 0-2-4 6-4-2 3 5-1 5-2 0 0-3-4 2 2 0 2 3 4-3 0-3 2-1 3 3-1 6 4-2-2-10 5-1-2-5 2-2 3 0zM550 277l3 6-1 2 2 0 2-6zM84 277l5 4 1 3-2 1-3-2 0 7 4-3 1-3 3 0-4-2 1-3zM2 277l-2 4 2-1zM506 278l-4 0-2-2-3 2 1 2-2 3-7 4 0 4 2 1 8-12 3 2 0 2 2 0zM480 274l-1 1 5 7 4 2 2-6-2 4-3 0-2-2 1-5zM392 274l2 5 5 0-3 0zM251 276l2 4 6 0 3 2 1 4-2 3 6-3-3-4-3-1 0-3 4-2-2-3-3 0-4 4zM132 274l9 3 4-3-3 2-2-2zM443 272l-5 5-4 1 2 3 0 4 2 2-1-1 3-8 3-3zM562 273l-4-2-1 5 4-1zM471 270l-3 5 3 0 2 3 0-7zM404 270l-2 1 2 3-3 4 1 2-3 2 1 5-3 3-2-1-5 7 1 3-2 1 1 4 6 8-3-11 6-2 0 6 6-7-2-6 1 4-2 2-5-7 1-2 5-1 0-2-3-2 1-2 6-1 3 4-2 7 2 3 4 0-4-1-2-3 5-8-5-4-2-5 2-2zM309 270l-3 1 2 1zM516 268l0 3-4 2-1 5 5 4-2 6 2 2 3 0-1-6-5-7 5-8 1 6 4 0 0-2-4-5zM370 268l-4 6 1 1zM48 272l3 1 7-4-9-1zM569 267l-1 2 3 5-3 4-6-1 0 4 11 5 0-2-2-1 1-3-2-2 2-4-2-2 1-1zM23 268l0 4 7-2-6-3zM527 265l-3 4 1 2zM491 270l2 1 7-4-8-2 1 1zM117 265l1 4-2 3 4-4zM453 268l4 3 0 2 8 0-1-5-3 0-2-4-2 0zM191 264l0 4 2-2zM22 264l-3 0-3 3-1-2-8 2 1 6 2 2-5 7 2 3-1-5 5-5 1 2 2-1 0-8zM330 263l-4 5-3 1 0 2 4 2 0 7-3 3 1 8 3 2-3 4-1 5 1 1-1-3 4-4 2 2 0 3-4 4 6 2-1-6 4-2 6 5 0 5 4-1-4-3 0-5-4-4 3-2 2 3 0-2 4-3-3 1-5-9-6 2 2 4-2 1-3-3 0-3-1 2-1-1 0-6 8 0 5-4 13 5 6-3-3-3 1-1 5 0 2-3-7 1-4 3-7-3-4-5-2 0-9 8-2-2zM331 290l2 2 5-2 3 2-3 1-1 7-5-1-3-3zM44 263l0 9 2 0 0-8zM559 262l1 3 4-2-4 1zM90 262l0 2 3 2 0-3zM391 261l-5 0-2 2 3 2-1 2 3-3-2 1-1-2zM314 261l-2 4 3-2zM130 263l-3-2 0 4-3 0-1 3 4-3 2 1zM523 261l6 2-4-3zM399 260l-1 2 3 3-6 0 6 2 0-4zM553 259l-5 0-6 6-3 0 0-3-1 1-2-4-2 2 0 5 3-4 1 5 3-1 2 2-4 12 2-2 3 0 1 4-3 1 1 6-3 1-4-6-1-9-4 1-1 2 5 3-1 2 4 3-1 6-4 4-2 0 2 4-7 3-7-7 5 6-2 1 8 4-2 4-2-1 1 4-2 1 0 2-3 3-1-2-2 2 3 1 1 4 2-1 2-9 3 4 3 0-3-7 3-1-2-4 2-2 1-9 1-1 6 2 1-1-3-3 5-2 3 4-1 1 4-2-1-3-5 0 0-2 3-1-1-1-4 0 5-4 0-11 3-2 3 4zM531 302l1 2-2 3-1-4zM411 259l-2 9 4-1zM25 259l-1 4 3 0 1-4zM179 257l1 5 3 1 1-2-1 1zM37 258l4 1-2-2zM474 261l-5-5 1 2-3 3 1 1-6 3 4-1 4 2 4-2zM373 257l0 5 3-4 4 2-4-4zM254 255l-4 2-7-3 3 3 5 1-8 1 2 2-1 5-3 2 2 2 3-5 1 2 3-3-1-3 5-3zM173 253l-2 0-1 2zM68 253l-3 4-5 1 2 6 3-3-1-2zM26 254l8 2-4-3zM369 252l2 3 2 0zM361 252l-3 6 3 8 4 2 2-2 0-4-3-1-1-3 2-3-2-3zM235 252l-4 6-3 0-3 4-2-1 0 3-2 0-1 7-6 3-3-1-1 4 9-3 6-5 5 2 0 3 5 4-2 5 3-3 0-3-2-2 5-1 2 2-1 8-6 2-5-3-1 5 6-1 4 6-1 3 5 1-3-3 0-3 3-4 3 1 3-9-2-2-1-5-4 3-3-3-1 1-3-3 0-2-4-3 6-8 3 1-2 8 1 1 3-2-1-7-2-3-2 0zM232 273l2-1 1 2-2 1zM224 262l2 1-1 4-2-2zM264 251l0 2-4 4 3 5 3 0-1-6 2-3zM212 252l2 3-2 5 5 0 2 3-1-4-3-3 1-4zM529 254l9 1 0-3-6 1-2-3zM458 250l-3 8 7 0 3-6zM0 249l0 2 3 0 4 3 0-2zM272 247l-1 3 2 2 0 5 2-1 6 4-7 0-1 5-7-1-3 3 0 2 5-1 3 2 0 3 2-4 0 6 5 0 4 5 1 5 3 2 2-1-4-5 1-3 5 0 2 4-1 2 2-1 0-5 4 4 0-4 4-1 3-4-3 1-4-7-2 0 2 7-3 1-2-3 1 2-2 1 0 3-7-2 3-3-1-8-5 1 0 6-8-3 0-3 2-2 4 0 3-4 8 1 1-4-3 3-6-11zM111 248l0 5 4 1 1-5-1-2zM324 246l-2-1-3 3 2 2-5 4-10-1-3 7 7 2 2-7 5-1 4 2 5-5-3-1zM121 247l8 0 0-2-5 0zM233 244l-5 1 0 2 5-1zM476 244l0 2 3 1 0 3 2 2-1 7 3 2-2 2 1 2 8-1 0-2-7 0 2-7 3 0-10-9 0-3zM66 243l0 6 2-3zM463 243l2-1 9 2-6-2zM251 241l2 4-1 4 3-4 4-1 2 2 3 0 3-2zM519 240l-1 2-4-1-4 3 3 1-3 4 3 1 2 3 3-2 1 6-1-3 5-9zM0 239l0 6 4 2 0-5-2-3zM341 238l-3 5 0 7 2 1 3 6 0 6-2 2 2 0 3 4 3 0 2-2-2-10-3 2-4-1 6-5-1-3 3-4-4 0 0 2-6 1-1-3 8-4-1-3-3 1zM346 248l1-1 1 2-1 1zM157 239l5 6 2-1-1-4 2-2zM26 243l-5-1-2-4 0 3-2 0-3 3 0 2 3 2 2-5 5 0 2 2zM141 238l-6 0-2 3 0 4zM103 235l-2 6-4 3 1 5 0-4 6-7zM388 236l1-2 6 0-6-1zM214 233l0 4 2 4 2 0 1-4zM54 233l0 5-3 6 5-6zM475 232l0 3 3 0zM340 233l-2-1-3 3 4 1zM147 234l-2-2-2 2zM60 231l6 7-1-4zM451 230l-3 2 1 2zM324 229l0 5-4 3 2 5 4-10zM547 228l-4 7 3 4 2 0 2 3 2-2 2 2 7-1-1-1 2-1 5 5-2 2-2-1 1-1-5 2 3 1-3 3 1 2-2 2-5-2 0-2 4-3-3-2-3 3-5-1 4 2-1 2 3 0 2 6 1-2 7 0 4 5-1-3 3-3-2-2 6-7-2-5-1 3-2-1 0-3 3-2-8 0-2 2-4-2-3 1zM148 227l-4 1 3 1zM561 228l-1-2-5 4-4-3 4 3 5 0zM484 226l0 3-4 4 2 0 2-3zM470 226l4 4 4-1-1-2-5-2zM463 225l-2 1-3 8-2 0-3-3 4 4 4 1-9 0 1 4 2-2 6 0-1-3 4-4zM564 224l1 3-3 3 1 4 2-5zM527 224l1 2-5 3 4-1 4 2-1 2 7 6-2 2 2-1 2 2 0 2-3 2 2 2 0-3 4-3-4-2-2-15zM403 224l1 4 6 1 0 10-2 2-8-4 1 6-3 5-2-2 1-4-5-2-1 5-4 2 4 3-3 8 4 0 3 3 0-5 6-1 0-12 5 5-2 1-1 4 8 1-4-3 4-2 4 6 5 2-2 4-4-1 3 3-1 3 4-3 5 4 0 7 4-8-5-3-4 0 3-13-5-8 0-2 4-4 0-10-2 1-3-2-7 4-4-5zM393 255l1-1 1 2-1 1zM390 254l1-1 1 2-1 1zM394 253l1-1 1 2-1 1zM395 251l2-1 1 3-1 1zM391 224l0 2 5 1 2-2zM388 228l-5 3-3-5 1-2-9 0 4 1 0 10-6 0 0 2-3 2-3-1-2 2-3 0-4 3 0 2 8-2 4 3 8 2 0-2 3-3 3 1 2-3-2-4 2-2-5 2-2-2 6-4 4 3-2-3zM361 224l-7 0-4 4-3 0 3 9 6 1 8-7zM340 224l-2 0-10 7 1 6 4 1-2-5 2-4 3-2 2 2 2 0 1-2 1 1zM322 225l1 2 1-2 4-1zM315 224l-5 3 0 6 2-2-1-4 4-1zM119 223l-3 1 2 3zM161 222l-2 6 2 2 5-1-4-3zM21 226l2 1 3-4 5 2 0-2-7-1 0 3-2 2zM230 222l0 4 3 0 1 4-3 3 10 7 0 6-4 4 3 0 2-2 0-5 4-5 0-7-6-4-5 0-1-6zM155 221l-4 2 3 4zM82 221l0 2 3-1zM41 220l-6 3 2 5zM51 216l-5-2-2 6 3 1 1-4zM1 216l1 2 3 0 2 2-1 1 2 3 6-1-2-5-8-4-1 2zM246 217l5 8 5 3 6 1-5 2 5 3 3-2 0-4 7-1 5-6-7 1-3-3-4-1-9 7-4-6 3-3-1-5zM283 210l1 10 3 0 1-5zM199 210l0 7 2 4 5 0 0-6-2-4zM67 208l-1 2 2 5zM238 208l1 5 9-3 4-4 4 4 9 4 7-1-8-6-14-1-6 5-3-3zM147 204l-4 0 1 4zM40 203l-5 1 0 2 4 0zM253 197l-1 5 2 1 1-5zM212 194l-1 3 3 2zM49 193l0 4 2 0 2-2-1-2zM2 190l3 3-1-3zM299 189l-1 10 2-1zM265 189l-6 4 4 1zM309 188l-2 0-2 3 4-1zM230 188l-1 6 5 3 0-4zM60 185l-2 7 3 3-2-4zM193 184l0 4 7-1 1-3 5 2-3-3zM68 180l0 4 5-2-2-2zM29 180l-2 2-4 0 6 0zM141 177l-3 2 0 6 3-5zM34 178l3-1 3 2-3-2zM262 174l-4 2 1 3zM216 173l-2 2 2 7 7 5 2-7-7-1-1-2 2-3zM171 173l-3 8 2-1zM126 175l0 2 4 2 5-2-5-4zM61 171l-2 1 0 2 2-1zM156 173l7 4 1-5 3-1-2-1-4 3-4-3zM295 164l3 3 1-3zM190 164l-1 4 9 3-4-7zM118 163l-2 2 2 0zM210 159l2 1-1 4 2 5 2-2 0-6zM20 159l-4 0-3 4 1 7 0-2 4-4 4 1zM13 163l1-1 1 2-1 1zM131 156l-2 1 0 6 3 0 1-5zM78 159l2 4 3-2 1 1 0 4 5-3 2 1-1-4-4 2-2-1-2-7-2 2 1 3zM302 152l-5 5 1 1 3-1 2-4zM160 151l1 3-3 4 0 4 4 0 1 2 5-1 2-4-4-2 1-5-2 1zM56 149l-2 6-3 1 1 1 3 0zM290 148l-2 5 6 0zM273 148l-1 4 3 1zM43 144l0 2-6 5 2 9 4-2 0-8 2 0zM20 144l-2 3 7 8 1-7zM309 143l-2 4 2-1zM230 143l-4 2-5 0 0 9 2 3-2 3 1 2 10 0-1-5 3-1 1-6-4-3zM46 138l-1 3 2 4 0 5 2 0 1-8zM30 135l-1 2 4 2-1 3 2 2-2-4 4-3zM269 135l1 2 3 0-1-3zM120 133l-3 0-2 2 2 4 2-1zM49 133l-3 2 2 0zM54 132l1 2 2 0zM16 133l1 2 2-1 1 3 3 1 4-2 0-3-2 3-4-1-1-4zM5 131l2 1-5 5-2-1 0 8 3 1-3 1 0 4 3-2 0 6 8 0 2-3-6 0-2-7 6-1 2 5 2 1 1-8-3 0-1 2-3-4 5-1 1-2-2-4-5 1-1-1 2-1zM305 130l-1 2 2 4 1-4zM220 129l3 1 4 6 0-2 7-5-5 2-4-3zM51 126l-1 2 2 1zM47 126l-2 0-1 4 3-1zM24 125l-3-1-2 2-3 0 0 2 7-1zM56 117l-2 2 4 6 1-2zM301 116l-4 6 4-4zM78 115l-4 2 3 4 2-3zM278 114l-7 1-2 2 2-2 3 0 4 4zM306 113l2 6 1-6zM245 116l-4-3-5 4 4-2zM268 113l8-1-6-1zM264 119l-4-8-8 7 2-1 2 2 3-2zM171 111l3 2 1-1zM79 113l3 3 5-1-4-5zM200 109l-3 0 1 4zM11 107l-5 3 0 4 6 0zM294 107l-4-2-2 1-2 5zM267 107l1-2 4-1 1 2-2 1 0 2 6-5-10 1zM52 104l-10 9 4 4-2-5 8-4zM95 103l-2 0 0 5 4-2zM253 102l0 5 2 2zM62 99l-1-1-2 2zM39 98l0 8-3 5 2 4 2-1 1-4zM67 97l-2 3 1 2zM13 97l0 4 2 2 1-2zM6 95l-4 1 2 2zM189 93l-2 3 2 1-2 3 1 3 2 0 0-3 5 0 2-2 1 1-2 3-2 0 0 4 4-6 3 0 1-4-9 3-5-3 2-2 3 0zM167 93l8 9 1-7 2 1 0 3 2 2 5-4 0-3-3 0-2-2-7 1-3 2-2-3zM18 90l0 2 5 4-3 5 3 1 3-9zM89 87l4 6 3-2-1-3zM183 82l-6 3 5 1zM188 81l-1 4 4-2 0 3 2-3-2-2zM131 83l-2-2-2 2zM257 80l-3 2 2 4-1 6 3-4 3-1 2-4zM196 79l-1 5 2 0 4-4 2 6 3 3 2-1-1-4-3-1-4-5zM31 78l-4 4-4-1 5 3-1 6 2 3 0-4 6-3-2-4 1-3zM18 76l-3 1 0 3 3-1zM214 75l-1 3 2 5 2-5zM157 75l-1 6 3-2zM73 76l-4 2 0-3-2 0-3 2 0 3 2 0 1-2 2 3zM9 80l-1-6-4 4-4-1 5 4zM285 72l0 3 5-1-3-3zM81 71l1 6 1-3 3 2 0-2-2 0zM44 69l-3 3 0 2 3 1 3 4 1-6 3-3zM18 66l6 5-2 4 3-4-4-5zM10 71l8-1-2-4-3 0 0 2zM266 63l3 2-1-2zM142 63l-3 3 3 4zM0 62l0 2 2 1 1-2zM262 60l-4-2 1 4-9 7 6-1 2-2-1-2zM23 62l-3-4-2 0-2 4-4-2-4 2 9 0 1-2 2 3zM209 55l-3 6 4-4zM191 55l-1 4 6 7 2-1-5-5 0-4zM32 56l3 1 0-2zM284 52l-3 0-6 4 1 2 4 0zM97 52l3 2-1-2zM27 52l0 5 3 3 0-5zM0 52l2 3 3-1zM306 50l2 5 1-5zM85 49l-1 1 2 1-1 1 2 3-2 3 2 0 1 3 2-1 2 4 3-4-2-2-5-1 1-2-2-1 2-2zM42 48l-1 3 2-1zM257 48l-5-1-5 2-3 4-2 0 3 0 4-4 1 4 7 1zM64 46l-1 1 2 4zM124 45l-3 2 2 0zM50 45l-1 6 3 3-2 2-3 0 5 2 4-3 0-2zM37 45l-6 5 2 3 5-4zM147 43l4 1-1-2zM62 42l-4 3 2 3zM258 40l-2 2 0 3 2-1zM16 40l0 7 6 1 1-1-4-2 0-5zM69 39l-1 2 3 5-3 2 1 2-2 7 2 2 5 1 0 5-2 3 5 1 0-4 2-3-1-2 2-4-1 1-1-2-6 2-2-2 0-5 2-3zM99 39l5 3 3-1-2 0-3-4-2 0zM214 39l1 3 7 1 1-2-2-5zM137 35l-1 2 2 5 3-2 0-2zM260 37l5 0 1-2-5-1zM271 33l-1 6 6 0 1-5zM299 33l-1-1-6 2 3 1zM169 35l-2-3-10 5 6 2zM306 28l-1 2 4 1 0-3zM55 25l0 8 3 0-3 2 1 5 0-5 2-2-1-6zM128 24l-1 6 3 1 2-2-2-2 0-3zM75 23l0 2 4-2 2 3 3-1-4-3zM60 21l-1 3 3 1 1-4zM93 20l-5 2 0 2 2 0 0-2 2 0zM178 16l0 2-3 1 0 4 2 2 5 0 0-2-5-3 2-3 3-1zM309 15l-5 1 3 5 2 0zM84 13l-2-2-5-1-8 9 2 2-1-2 2-2 3 1 2-3 3 3zM56 7l1 2 3 0-1-2zM222 6l3 4 1-4zM198 6l-5 5 1-1 2 3 3-3zM182 3l4 5 4 1zM272 1l3 1-1-2zM234 2l7 0 1-2-7 0zM169 0l-1 1 3 3zM130 2l7 0 1-2-6 0zM115 0l2 2 0-2z"/><path fill="#54b8dc" d="M228 425l-3 0-5 4 3-2 5 0zM364 423l0 2 2-2 2 0 1 3 2-1-2-3zM307 422l-5 1 1 4zM183 418l3 4 0 3 2-1 1 3 3-1-3-1zM412 416l-2 5 3-2zM255 414l-3 2 0 4 2 2 2-1-2-5zM337 416l6 0 2-1 0-2-3 2-3 0-1-2zM296 413l3 2-1-2zM464 411l-5 3 4 8 0-4 3-4zM160 411l-7 7 8-1 1-2zM371 410l-1 2 4 1zM332 410l0 2 3 1zM295 408l-4 2-1 7 2 2 0-7zM145 407l-1 3 3 1 1-4zM402 404l-3 6 1 2 2-3zM60 403l-3 1 2 4zM449 401l0 5 2 1 0-5zM442 399l-4 1-3 3 2 4 4-1-1-1 3-4zM373 397l2 3 5-2zM259 397l-3 0-3 3 3 6zM90 395l0 2 3 3-4 2 0 5 4 2-1-4 3-4 0-4zM248 392l3 3 0-2zM214 392l2 5 2 1 0-3-2-3zM27 392l-1 8 2 0 1-3-2-2zM452 391l-2 1 1 1zM386 391l1 6 5-1-2 0zM312 391l2 2 1-1zM259 389l-4 4 3 0zM231 389l3 7 1-7zM416 388l-5 1 4 2zM239 386l-1 2 3 3-2 7 5 0-3-2 3-7-3-3zM422 385l-1-1-2 3zM365 385l-5-1-2 3-3 0 3 1 4-3zM268 384l3 11 2 0 2-3-4-3-1-4zM58 386l10 5-1-6-7-1zM116 382l3 7-1-7zM47 382l2 4 3-1 3 2 0-2-4-2 4-1zM438 381l0 2 8 1zM434 383l-4-2-3 4zM329 379l2 3 4 2 4 0 4-4-9-3-3 0zM537 372l-1 4 2-1zM483 372l-2 2 0 3zM370 371l-2 2-1 5 6 1 1-3-4-3zM528 369l-6 6-2 5 3-4 5 0zM209 368l-3 4 5 1 1-1zM24 368l0 3 5 0-3-3zM276 367l-4 2 4 0zM331 363l-3 2-1 3 4-1zM98 357l-2 1-1 4 3-2zM37 357l1 4-3 1-2-2 1 4-3 6 1 5 7 4 6-3-2-6-3 4-3-1-4-5 3-2-2-1 1-1 4 0 4-3-3-4zM381 356l2 9 4-1 1-2-3 0-2-2 0-4zM555 355l0 2 5 6-2-6zM18 355l-3 4 2 4 3 0-1 6 2 0 4-4 0-3-4-1zM406 355l-1-3-2 3-6-1 3 0 2 3zM259 353l6 6 3 0-2-2 2-2 0-3-2 0-1 4zM224 351l4 3-2 2 1 1 2-4-2-2zM78 351l2 3 2-1zM496 350l-10 1-2 4 8 0zM30 357l-1-7 0 5-4 0-3-3-2 1 4 4zM50 353l6 2 4-3-4-4-4 0zM382 347l-5 0-5 5 10 0zM458 343l0 5-6 0-1 3 4 0 3-2zM388 344l3 0 4 4-3-5zM200 339l-2 3 6 2 1-4zM522 339l4 1-3-2zM536 337l2 2 0 4 1-3zM378 335l-3 0-2 4 3 2 3-3zM467 333l-5 3 2 1zM432 339l5-4-6-2zM124 333l0 5 3-3zM287 332l-1 1 2 8 0-5 3-1zM448 330l-5 5 4 0zM474 329l3 3 0 3 2 0 0-4-4 0zM451 327l6 7 0 3 1-2-2-4zM213 326l-1 1 2 1zM50 327l-5-1-3 3-2 0zM346 324l0 6 2-3zM239 326l3 2 4-1 5-4-5-1 0 2-3 2-2-4zM392 318l1 3-2 2 2 2 3 0-2-7zM359 315l-1 3 2-1zM95 312l3 9-1 5 5 1-2-3 1-2-2-8zM536 312l1 2 9 1-6-5zM481 312l2 4 14 0-3 0-6-6zM346 309l-4 0-3 4-3 0-2 2 0 4 6 1 0-7 2-2 4 0zM128 309l-4 1 1 4-2 2-3-1 3 4 3-1 0-5zM528 307l-4 2 3 0zM332 301l1 6 7-3-5-4zM46 300l-3 3 0 3 4 2 1-7zM361 299l-2 2 0 5zM322 298l-1 5 4 1-2-2 1-4zM313 298l-2 4 4 3 2 4 2 0 0-10-4 3zM26 298l-5 1-1 2zM535 296l-1 6 2 2 4-3zM446 296l-3 1-2 3 4 3-1-5zM260 294l-4-1 0 4-3 2 7-2zM498 292l4 2 3 4-1-4zM407 292l3 7 1-2zM467 288l2 4 1-3zM540 286l0 3 2 0zM473 287l6 1 0-2zM267 284l5 5 4 0 2-2 0-2-3 0-1-2zM424 282l-2 4 1 2zM389 282l-6 0 0 3 2 2-2 6 5-4zM350 281l-3-1-2 4-6 0 4 7 5-2 0-3 3-2zM401 280l-3 0 0 2zM499 274l-5 2 4 1zM518 270l-1 9 2 3 2 0 2-3 3 1-4-4-4-1zM541 267l-2 1 0 6 3-3zM276 258l-1-1-1 2zM262 252l-7 6 1-1 1 3 5 2-3-5 4-4zM102 226l6-4-6-1zM90 214l-2 3-4 2 1 2 4-5 2 0zM73 208l10 6 0-5zM110 203l-2 2-6-2 3 3 6 0-4 4-5-1 3 8 10-9-1-2-3 0zM81 188l-2 8 10 3-3 4 6 5 3 0 1-3-7-7 1-2-2-1 0-2-5-2zM101 187l-4 0-2 4zM83 175l-2 6 6-2 4 4-3-7zM131 132l5 15 0-8-2-2-1-5zM127 131l-5 2 1 5-5 5 1 4 2-1-1-4 7-9zM140 126l1 3 3 2zM148 125l0 4 3-1 2 3 4-1-4-3-1-3-2 3zM137 124l-5 4 4 2-1 2 4-2zM148 120l2 2 0-2zM120 120l3 5 5 2 0-5-2 0-1-2zM142 112l-2 1 1 5 2-4zM130 110l1 3 3 1 2-2-2-2z"/><path fill="#eee2ba" d="M326 425l1 4-2 1 4 0 2-4zM2 301l-2 6 3-3zM21 287l2 4-6 4 6 3 2-1-1-9zM43 283l-2 4 9 6 3-4-1-3-4-3zM185 280l-2 1 1 1zM193 279l2 3 1-2zM145 278l-1 2-6-1-4 3 5 4 1-2-2-2 5-1zM84 278l6 7 0 2 2 0zM572 276l-1 2 2 1zM37 272l-3 2-1-1 0 5 5-4zM15 274l5 0 0-2-4 0zM162 267l-3 1-2 6 4-2zM177 267l8 5 4-3-1-1-4 2-5-4zM47 259l0 2 5 3 0 3 2 0 0-4zM145 256l-1 7 4 2zM32 256l-1 1 3 2 0-2zM47 249l-3 4 3 2zM109 248l-5 5-3-1 5 1zM71 246l-4 2 3 2 0 2zM118 246l2 2-1 2 3 0 2 2 4-4-8 0-1-3zM101 236l-8 4-2 4 1 3 4 0 0-3 4-3zM120 235l2 0 3-4-6 0zM134 225l2 2 1-1zM563 224l-2 0 0 2zM362 224l4 5-1-4zM122 222l4 2-1-2zM26 221l-5 0 1 5 1-4zM32 214l-1 2 2 2zM123 209l-2 3 4 4 1-5zM68 193l2 5 1-1zM43 191l2 3 1-1zM172 182l-1 5 1-1 2 3 4 1 1-1-3-1-2-6 1-1zM58 181l1 2 2 0zM120 180l0 6 2 2-2 2 1 3 5-2 4 1-2-3 0-7zM124 185l2 4-1 1-3-2zM124 184l2-1 1 2-2 1zM109 176l-3 1-2 8-6 6-3 1 9 5 2-3 3 2 5 0 1-10-2-1 0-5-1 1-3-2 2-1zM105 184l3-2 2 2zM26 178l3-1 3 4-2-5zM52 175l-1-1-3 3 3 0zM124 168l-2 0-3 3 0 2-3 3 0 4 2-3 7 0 0-2-5-1zM115 165l-2 2-1 8zM25 165l5 5 2 0 0-3zM39 165l6 1 0-2zM102 163l-1 4-3 3 1 3 6-3zM142 160l0-2-5 1zM74 153l-4 3 2 3 3-1-4-2zM191 150l-2 4 5 2 0-4zM21 138l1 2 2-1zM98 135l2 4 4-3zM163 134l2 2 5 1-3-4zM170 123l-5 1-2 3zM9 122l-1 3 4 3 1-1zM111 120l2 7 3 0 1-2-3-3 0-2zM52 120l0 6 3 0 1-2zM176 119l-4 1 2 1zM108 115l-1 4-3 3 5 0zM85 116l9 8 5-2-1-5-3-4zM0 117l6 0 2 2 2-3-5-1-1-3 0 3zM287 106l-3 4 0 3 2-1-1-2zM51 104l-5 1-4 3-1 4zM227 103l-2 0-5 6 2 1zM275 101l3 1-1-2zM76 99l-4 6 1 1 2-2zM11 97l-1 2 3 3zM309 96l-3 1 0 3 3-1zM169 95l-2 0-1 2zM26 94l3 3 7-1-9-3zM180 91l3-1 4 4 2-2 0-3-7 0zM0 88l4 1-2-2zM143 85l-4 2 3 2zM125 88l-1-3-8 2 3 2 0-2 3-1 1 5zM39 81l3 2-1-2zM111 79l3 4 3-1-2 0-1-3zM237 75l5 5-1-4zM32 75l2 3 1-3zM71 73l-4-2-4 3 5-1 2 2zM255 69l-3 1 2 1zM134 69l6 12 4-7-4-1-3-4zM4 73l3-3 3 0-5-1zM17 67l3 5-1 4 4-3 0-2zM212 66l0 4 2 2 5 0 3 2-2-5zM172 66l0 3 3 1zM270 65l-2 5-6 0 3 8 3-2 1-3 3-1zM286 65l0 5 5 3 1 6 3-3 4 0 0-2-3-2-6-1 0-8zM104 63l6 4 4-2-1-2-2 2-3-2zM152 60l-2 7 4 2 0-9zM255 57l0 3 2 1 0-3zM149 57l0 3-7 4 6-1zM104 58l-4-1-2 4 1 1zM62 55l-2 4 1 4 2 0-1-3 2-3zM237 53l-2 2 4 2 0-3zM96 50l3 1 1-2 2 0-5-1zM171 46l-2 0 1 2zM78 45l-2 4 3-3zM259 42l5-4-5-1zM287 39l7-3-5-1zM176 33l3 0 3 3 0 3 4-1-4-3 0-2 3-2-1-1zM80 28l0 4 8-1-3-2-3 1zM65 27l3 3-1 3 2 0 1-3zM275 25l1 2 8-1-3 1zM223 28l-3-4-8 8-1-1 3 2 7-1zM306 21l-4 2 1 4 2 0-1-2zM256 25l-2-6-8 2 0 2 4 2zM228 17l-1 2 2 3 5 2 1-4zM267 15l-4 3 3 0zM153 16l-4 0-6 6-3-1 3 3 2-1 2 3 0-6zM175 12l0 3 2 0zM56 12l-1 5 4 4 3-1 0-8zM120 10l-3 3-2 8 3-2 5 3 0-6zM298 11l-1-2-2 1zM108 10l-3-1-5 4 3 0 3-3zM144 5l-2 2 1 3zM237 3l-3 3 2 0zM114 3l-4 2 1 1zM90 2l-6 3 2 1zM223 1l-1 4 3 0zM181 3l2-1 5 5 5-3-2-4-6 0z"/><path fill="#e26456" d="M379 428l0 2 2 0zM255 428l0 2 2 0zM206 428l1 2 5 0zM122 428l1 2 5 0-1-3zM268 426l0 4 2 0zM10 428l-2-2-4 1zM290 425l-3 1 2 1zM159 426l-8 0-1 4 3 0zM142 424l-2 2 3 4 2 0 1-2zM18 424l-3 6 2 0 3-3zM110 422l1 5 5-1 2 4 2 0-4-5-3 0zM62 429l-3-3 0-4-2 0-3 3-5 0-4 3 0 2 4-5 4 0 5 5zM55 426l2-1 2 2-2 1zM404 421l-1 2 3 4-1 3 2-1 0-2-3-2zM23 423l0-3-3 1zM198 422l-5 1 0-4-5 6-5 1 3 1-4 3 3 0 4-6 5 0 2 2zM47 419l-2 3 1 2 3-4zM168 418l-7 8 2 2 6-1 3 3-2-6 2-4zM182 416l-4 5 1 4 2-2 4 0zM127 416l-2 0-2 3 1 5 3-1zM98 416l-2 13 2-1-2-3 3-7zM91 416l-3 1 2 2 0 3 2-5zM32 416l-2 1-2 13 2-2 0-4 6 1 2-3zM12 416l1 5-2 3 3 2-2-2zM61 413l2 4 3 0 1-3zM146 412l-2 7-4 0 0 3 8-4zM54 412l0 4 3 0zM1 412l1 2 2 0-1-2zM131 411l-1 1 2 1zM112 408l-5 1 2 5 4-4zM160 410l2 4 4 0 3-3 5 5 5-2-2-2 1-5-9 0 0 4-3 2-3-3zM203 406l-2 5-4 4-2 0-2-4-1 1 2 5 7-1 0 4 3-1-1-1 4-3 2-4zM211 407l2 2 4-1-2 0-3-3zM193 405l3 2 4 0-2 0-4-4zM128 403l-5 4 3 0zM192 402l-3 1-3 4 3 0 0-2zM169 403l7 2-4-3zM78 402l-8 5-3 0 2 2 0 3 9-7zM17 402l3 2-1-2zM159 404l-2-1-4 2 0-6-3 0-4 3-1 4-2-1-2 7 4-6 3 0 5 2 1 4 2 1zM211 396l-2 1 0 4 2-1zM68 397l-1 1-4-2-3 3 5 1-2 1-1 5 7-6zM64 401l2-1 1 2-1 1zM16 395l-1-1-1 2zM124 393l0 4-2 2 1 3 10-2-5-4 0-4zM89 390l1 4 2 1zM9 394l-3-4-3 4-3 1 4 1zM189 390l1 2 6 0 2-2zM70 391l8 0 0 4 3 0 5-5-14-1zM19 396l2 5 2-2 0-4 4-4 2 5 5 1 0 3 3 2 3-2 1 1-1 6 2 4 7-1 1-2 2 2 3 0 1-2-2-3-4 0 2-4-3-1-2-6-7 0 2 2-3 4-5-4 0-2-4-2-1-3-6 1 1 1zM16 389l0 2 3-1zM50 386l-2 5 6 3 0-7zM114 385l-2 2 5 3-1 3 2 0 3 4 1-5-3 1-2-7zM106 384l-5 5 1 3 2 0 3-4zM15 383l-6 5 0 2 4 0zM202 384l-2-3-6 3 4-2zM120 381l0 6 4 0 1-1-2 0-3-3zM77 381l-2 4 5 1 0-3zM95 375l-2 1 0 2 2-1zM7 378l-5-1-1-2-1 8zM147 372l-1 2-4-1 1 3-3 8 6 2-6 2 3 6-5 2 5 0-1-1 3-2 1-4 6 5-1-4-4-1 2-5 0-7zM142 382l2-4 5 3-2 3-3 0zM182 371l1 2 6 0-2-2zM102 370l3 9 3 1 0-2 3-3-1-3zM204 372l-3-3-2 0-2 2-1-1 1 3-3 1 2 1 3-3zM13 369l-2 1-1 11 1-3 7 1-2-4-3 2-1-1zM178 368l-1 2-4-2-2 3-2 0 0 9 3 1 1-4 2 0 2-3 3 1zM89 364l2 5 2-4zM69 362l-7 7 0 5 11 5 3-4 4 0-4-8-3 0zM167 362l3 3-1-4zM150 361l0 2 5 1 0-5zM122 358l0 4 3 4-1-8zM177 357l-3 3 0 4 6 2 2-1 0-4-3-4zM142 357l-1 6 4-2zM193 357l0 3 4 2 7 0-5-3 0-3-2-1zM204 354l4 3 1-3zM115 354l-1 3-6 4 5 1 2 3 4-3zM11 354l3 4 2 0 1-3zM98 352l-2 2 4 4-1 3 2 4 3-7-4-4 0-2zM143 348l4 2 4 6-1-5-2-2zM72 348l-1 3 3 5 7-1zM206 351l4-3 3 4 2 0-3-5-2 0zM134 347l-3-1-4 2 1 4 2-3 3 0zM95 345l-5 3 3 2 1-2 2 1zM20 344l1 6 5-2zM175 343l-9 4 4 0 3-3 2 1zM120 342l-3 1-1 3zM0 344l2-1 6 2 3-2-4 1-5-3zM41 340l-2 4 2-1zM78 344l5-1 3 4 3-2 1-4-6-2-4 5zM85 345l1-1 1 2-1 1zM99 339l2 3-2 2 2 4 8 0 1 3 3 1 1-2-2-2-7-2 0-3 4-2 1-3-5 3zM126 337l-3 4 3-1zM61 336l-8 5 2 6 2 1 4-2 0-3 3-2zM10 335l1 2 4 2 2-1 3 3 6-2-1-2-5 0-2-2 2-1zM74 333l-3-1-3 7 4 0zM47 332l-3 6 2 1 3-4zM171 331l-1-1-1 3-6 1 4 1zM2 330l1 4 2-2 3 2-3-3 3-2zM196 329l2 4 5 0 5 4 4 1-2-2 0-3-3 1-6-6zM154 328l-2 3-3 0 1 5-6 6 2 3 4 2 4-3 2 0 2 3 2-3-1-2-1 4-1-2-5-1-2-3 0-5 4-3zM33 328l-1-1-4 3 3 0zM140 325l2 6 1-1zM101 324l2 3-3 1 8 1zM113 326l4 4 7 1-3-9zM175 320l3 2 7-1zM134 319l-4 0-3 3-2 0 6 0zM173 321l-6-3-3 2-7 0-3 3-5 0 7 1 4-3 3 0 3 3 6 0zM192 317l4 5-1 3 6-2 0-2-3 0-4-4zM4 317l-4 7 3 2 2 0 2-4-3-2zM211 316l-2 4 2 6 4-5 0-2zM85 316l1 5-2 3-4 2 0 3 7-3 2-6zM95 315l-1 3 3 4zM57 313l-1 5 2 0 3 4-2 6 3 0 2 2 1-4-4-4 4-1 0-3-4-3-3 0zM17 321l3 1 2-2 8 4 2-1-4-7-4-2 0-2-3 6zM203 309l-5 7 3 3 0-3 3-4zM73 308l-2 2 0 4 2 1-2 4 5 6 1-5-4-2zM0 315l2 1 10-8-6 5-2 0-3-3 0-2 1 5zM171 307l-3 3 2 0zM134 307l0 3 3 3 5-2 4 6 5-4-1-2-4 2-3-5zM51 308l3 1 0-2zM152 306l3 3-1 3 3 1-2-2 2-4zM87 306l3 2-1-2zM569 300l4 5 0-4zM180 300l-1 1 2 1zM173 301l0 2 4-1-1-2zM18 302l7 0 2 3 1-2-1-3-3 0-2 2-2 0-1-2zM116 300l-6-1 2 4-1 3-7-1 2 2 2 10-2 2-4-1-1 3 8-3-1-4 9-12zM67 299l-3 2 1 2 3 0zM154 303l-5-4 0-2-3 4-7-1 9 4zM8 301l0-4-5 1 1 2zM571 296l0 2 2 0 0-2zM98 294l-4 2-1 4 4-1-1-2zM46 294l-1 2 4 3 0-2zM32 298l3 0-1-2 2-2 3 0-7 1zM125 292l-7 1-1 3 3-3zM0 292l2 3 2-1-1-2zM184 296l7 0 3 4 4-1 0-5-4 2-2-5-2 0zM161 291l0 4-2 3 5-2 0-2zM143 290l-2 1-1 4 2-1zM207 288l-1 4-4 2 0 2 8 7 1 3 2-3-3-5 3-3 0-4zM34 288l-1 3 2-2zM11 288l-5 2 4 5 3-3zM132 287l3 3 4 0zM166 284l-2 7 5 4-4-9 2-1zM36 283l1 6 5 3-1 1 4-1-5-5 0-3zM208 282l1 3 7 2zM64 283l3 1 4-2 5 2-2-2zM109 279l-5 4 0 3 5-5zM26 279l-2 8 1 2 5 0 1-2-2 0-3-3 2-3zM19 278l0 4-4 3 1 4 6-3-6-1 3-3zM146 274l-4 4-10-3 3 3 8 0zM61 273l-3 5 1 2-4 4 6 6-1-3-4-3 5-5-2-3zM4 273l0 4 3 0 2-2-2-2zM192 272l3 3-1 3 3 2-2 3 0 4 4 1 2-5-3-4 0-6-3 2zM178 271l2 4-2 2-5 1 3 1 2 3-3 2-4 0-1 3 2 4 7 3 4-5 1 1 0-2-2 2-1-1 0-9-2 0-1-2 4-3 5 0zM94 272l-6-3-3 5 3 2 2-4zM158 268l-2 4-3-3 1 6 2 0zM122 268l-6 5 4 4-1 1-6-2 0 2 5 3 3 0 2-2zM163 266l-1 8 1 3 4 0-1 4 3-4 2 0-4-2zM23 266l-5 5 2 0 0-2zM570 264l0 5 2 2 1-5zM63 265l1 7 2 2 3 0 1-9zM78 263l-1 4 4 0zM0 262l0 5 1-2 3 2 0-4 2-1zM156 260l-2-1-4 2 0 4zM42 258l-1 2 2 3 1-2zM13 258l-4 3 2 3 4 0 0-3-3-1zM132 257l-3 4 2 2-1 3 2-2zM96 257l-3 0-2 4 3 1 3-4zM89 263l0-6-7 2 1 2zM35 257l1 3 3 0-2 0zM168 256l-7 2 1 2 7 0zM142 256l1 7 1-6zM171 255l1 10 2-1-3-2 4-1 8 7 2-1 0 2 4-2 1-4-2-4-5 5-5 0-3-8zM185 266l1-1 1 2-1 1zM26 255l3 2 2-1zM292 254l-1 2 2 0zM75 254l-2 1 1 2zM21 253l2 4 3 1zM0 252l0 4 2 1-1-4 2-1zM149 251l-2 2 0 3 2 0zM67 250l2 2 0-2zM236 251l1 4 1-3 2 2 5-1 5 3 1-1-2-4-5-3-4 3zM110 248l-4 7 2 1 0 3 4 2 1-2-4-3zM185 247l-2 5 4-3zM134 247l-2 4 1 3 3 1 2-6zM117 247l-1 6 2-3zM9 246l-6 3 5 3-1 3-2-2 3 4 4-2zM262 247l-3-2-4 1-2 2 0 6 5-8zM30 245l-3 0-1 4zM122 244l-2 1 0 2zM62 245l-1-1 1 2-5 2-1 2-6-3 2 3-1 4 9-3 1 1-2 2 0 4 2-4-1-4zM266 248l8-3-6-2zM301 242l0 2-5 3 0 5-2 1 1 2 8-4-3-2zM143 242l0 4 2 1zM81 241l1 2 4 1-1-2zM176 240l-2 2-3 0 4 1-3 6 4-3 3 1-4-4zM220 238l-1 5 3 3-1 4 3 1-3 2 5 1 3 3 1-5 2-1 1 2 1-4-1-2-5 1zM179 238l-2 4 2 0zM31 236l0 2 2 0 4 6-3-5 3-3-2 0-1 2zM18 236l-3 2-2 6 4-4 1 1zM258 236l-5-2-10 9 0 2 6 1 2-2 0-4 7 2zM195 233l-2 6 5 9-3 2-1 6 4 0 3 2-3 2-4-2 0 4 4 1 2-4 2 2-1 2 4 1 4 4 1 5 5-8-7-1-2-3 4-5 1-4 4-4-1-7-4 0 0 2-4 3 5 5-7 6 0-6-4-3 0-3-5-6 0-3 2-2zM148 234l5 6 1 7-5 1 4 2 4-2 3 1-4-12-6-4zM91 231l3 3-3 3 1 2 9-4zM50 230l-5 1-2 4-4 0 2 6 0 14 7-9-1-3-4 1-2-2 1-4 4-5 6 0zM43 245l3-1 1 2-2 1zM297 229l-6 1 0 4 2 2-2 4 2 2 3 0 0-2 3-3 0-5zM113 228l-6 1-1 3-2 0 3 0 2 3-5 1 1 2-6 7-1 5-3-2 2 4 4-3-1-3 2-2 4 3-3-3 2-4 1 3 3 2 6-1-5 0 0-4 3-3-4-4 5-1zM19 228l5 5 7 0-5-4 0 3zM132 226l-1 1 3 2-2 7 2 1 1-10zM77 225l0 6 3 3-1 3 2 0 2-3 4 0-3-2 0-3-3-4-3 3zM11 225l-1 1 4 4 0 2 2 0 1-5zM573 224l-2 6-2 1 1 1 3 0zM551 224l2 4 2-4 2 2-1 3 4-4zM542 224l0 3 5 0 0-3zM491 224l1 8-4 4 4 1-4 2 1 5-2 5-2 1 2 3 1-2 3 7-6 4 5-1 1 3 7 1 3 2 5-1 5-3 2-5-7 7-5-3-2 2-5-1 4-1 2-3 4-1 5-4 2 1-1 2 1-3 3-1-5-4 3-4-7-2 0 2-3 1-3-6 5-3 5 1 0-4 2-2 1 1 3-6 3 3 0-4 2-2-11 0 1 6-4 6-3-1-5-7-3 1-2-2 1-3zM495 233l1 2-2 1-1-1zM494 230l2-1 1 3-1 1zM452 224l4 5 3 1 2-6zM344 224l2 2 4-2zM62 223l1 2 4 0 0-2zM34 223l-2 0 0 5 2-1zM6 222l-5 0 1 6-2 2 0 3 5-1 0-4-2-3 4-1zM42 220l-4 9 3 2-2-4 3-3zM14 220l0 4 3-1zM160 219l-5 1 1 6zM99 219l-1 3 2 1 0 4 3 2 2-4-3 2-1-7zM309 217l-3 1-1 8 3 2zM146 220l-3-3-6 2 1 4-4 1 4 2 2-7 3-1zM221 216l1 4 6 1-5-6zM281 214l-2 2-3-1-2 2 0 3 5 0 5 3-2 6-2 2-4 0 3 1 3 4 2-3 1 2 1-1-1-8 4-2-6-4zM134 214l-1 3-1-3-2 3 1 5 0-2 4-3zM173 211l-1 8-5 3-1 6 4 4 1-2 2 0 4 5 4-6 0-5 3-5-4 1zM231 210l2 4-1 6 3 1 1 5 3-4 9 1-3-6-5 0-4-6-3 1zM232 216l7 0-3 3zM72 208l-4 0 0 3 2 1zM286 207l-2 2 2 3 2 0 2-4zM252 207l2 9-3 3 4 5 7-5-1-6-5-2zM153 207l-3 0-4 5 2 3 6-2-4-4zM251 205l-2-1-3 2-8 0 6 4zM123 204l-2 0-1 3-4 2 2 3 3-2-2-1zM2 202l1 2-3 2 0 6 6-5 0-2zM40 206l2 2 3-5 1 2 3-1 2 2-4 4 0 3 5-4 4 1-9-9-5 2zM18 202l1 1-3 5 1 2 4-1 2 2 3-5 1 2 5 1-1 4-2-2-3 1 5 2 3-3 1-8-6-2zM161 200l-1 4-5 4 5 9 2-2-6-4 5-7zM275 199l-4 1 0 5-3 3 4 3 3-1 0-4 2-2-3-4zM8 195l-2 2 0 4 3 2 2-3zM232 198l-5-4-3 5 1 5-4 2 12-3-2-2zM129 194l-3 2-5-2-6 8 2 0 4-4 3 2 5 0-2-1zM44 194l4 4 0-4zM306 191l0 5 2 0 1-5zM171 191l-3 3 0 3 4 3-5 4 4-1 6 3 2-1 0-3-3-2 1-5zM37 188l-5 5 1 6 6 3-4-3 4-6 0-3zM232 187l1 5 2 1-1 5 4-3-3-1 1-6zM185 189l5 4-1 7 3 3-1 6 3 4 5-4 4 0 4 6 0 6-3 2-3-1-4 4 1 3 4 0 5 3-3 3-7 2 2 2 6-2 3 3 4-4 2-6 4 5 2-1 3 2 5-3 6 6 4 1 0-2-8-5 0-4-3 2-9-1 1-6-3-4-1-5-3-2-2 1-2-2 0-9-6 6-3-4 3-2-5-5-5-1-2-2 3-3 0-3-3-4zM211 228l1-1 1 2-1 1zM210 217l1 8-2 1 0-4-2-1 0-2zM192 188l1 2-2 2-1-2zM64 184l0 2 4 3zM171 188l-1-7-2 4-7 0 3 2zM161 189l-10-1 0-8 0 2-9 7-1-2 4-5 3 0 0-2-4 2-2-3-3 7-3-2 1-4-3 2-1 4 3 1 2 3-3 3-4-2 2 4-2 7 1 2 3 0 2-2 11 2-4-3-6 1-2-2 0-6 5-4 5 4 2 4 2-5 4 0 2 2-1 3 2 0 2-2-1-5zM9 181l2 0 3 4 1-1-3-4 1-1zM48 180l5-1 4 3 0-2-4-3zM60 176l3 5 3 0-1-4zM15 176l3 2 2-1zM240 175l5 4-1 5 3 2-2 7 2 2 7 1 4-2 3 3-5 1 4 1 3 3 2 0 3-3-3 0-3-5-3 0-1-2 4-1 3-3 4 0 1-3 3-2-7-1-6-3 2 4-8 4-6 8-1-9 4-2 0-2-6-7zM305 174l-7 4 5 7 4-1 2-7zM167 174l-5 6 3-2 0-3zM236 175l-3 1-4-3 0 3-4 5-1 6 2 0 4-4 5 1zM192 173l4 4-3 4 1 2 5-1-3-9zM181 173l4 6 1-1zM0 173l0 22 4 0 1-1-4-4 4-4 0-2-4-3 0-5 1-1 3 2 0-2-3 0zM285 172l-1 1 2 4 1-3zM154 178l-2-6-7 3 6 3 1-5zM31 171l2 7 1-6zM143 168l-5 4-1-4-1 9 4 0 2-4-2-2zM260 167l-7 7 2 2 8-3-4-2 2-2zM164 165l-1 3-3 2 1 2 4-3-2-2zM46 165l-1 2-6-1 4 2-2 8 3-6-1-2 5 0zM309 164l-7 0-5 5-2 0 0 2-3 1 0 2 4 1zM237 162l1 4 3 0zM214 169l3 0 5-4 0-2-7-1 1 5zM189 162l5 1 3 4-1-4zM174 162l-1 6 4 0-3-2zM103 162l2 6 1-3zM83 162l-3 2 2 2zM9 162l-1 4-3 2 3 7 3 1 3-2 0-3-3-3 0-4zM202 159l-2 2 0 4 2 2-3 3 3 1 0 3 10 2-8 7 2 2-1 1-6-2 7 7 3-2 1 4 3 1 6-7 2 0-6-5-2-6-6-4 5-4-2-4 1-4-2 3-7 4-1-1 3-4zM117 159l-4 4 0 3 3-2zM175 158l6 5 2-2 0 3 2-4 2 1 0-2-4 1-3-2zM134 158l-1 5 3 0 1-3zM306 156l3 2-1-2zM38 156l-5 5-3 0 2 3zM17 156l0 2 3 0-1-2zM111 155l-14 2 4 3 3-4 2 2 5-1zM295 154l-3 0-1 6 4-4zM285 152l-1 2-4-1-3 2 1 2-4 2-1 6-3 3 1 4 10 0 9-7-6-2-2-2 1-1-3-2 7-3zM69 152l-1 7 2 5 2-4-3-4zM37 154l-2-2-5 4 1 1 3-3zM115 149l-1 4 3 2zM153 148l-2 4 1 4 2 1-3 2 6 1 1-4-1 2-3-2 2-3-5-1zM4 148l-4 3 0 5 2 1-2 2 2 5 4-5-1-3-3-2zM256 152l-4-1-2-4-2 1-4 8 6-2 5 2zM141 147l2 2-3 5 2-1 3 2-3 4 4 7 2-4-2-4 3-6-6-2 3-3zM137 147l-2 1 3 4 1-2zM207 151l0 3 3 3 4 0 6 3 2-2-2-4 0-8zM197 145l-4 5 4 4 2-3 2 0 3 4-4-10zM162 145l-2 5 6 2 0-5zM6 144l1 6 7 0-3-6zM133 143l-8 4 0 3-3 4-2-4-1 9 3 3 0 4 6-3-8-6 2-3 6-2 1-5zM27 143l3 3 5-1-4 1-3-4zM93 141l-4 2 0 2 5 4-2-3zM287 140l-4 6 4-4 6 9 0-7-3 0zM176 140l-5 6 4 4-2 2 10-1 2-3-1-3-4 5-7-5zM230 141l2 6 3 2 5-2 4 3 3-4-6-7-4 2zM75 145l0-3 5 2 3-4-4 2-3-3-2 1zM110 138l-4-1 1 2-3 4-4 0-2-2-1 8 1-3 3-2 3 0 5 3-1-7zM178 136l-8 2-2 3-2 0 3-1 2 3 2-4 4-1zM181 135l3 3 0 2 3 0-2-5zM19 135l-3 1-2 3-4 0 2 3 1-2 3 0 0 5 0-5 3-3zM161 134l4 3 3 0-3 0zM211 133l-8 3 6 5 2-3zM100 133l2 2 4 0-1-2zM62 133l-1 2 3 1-1 1 3 5 0-6-2-1 0-2zM258 132l0 2-3 3-1 6 6 0-4-5zM236 131l-2-1-6 4 0 3 2 0 4-6 3 2 0 2zM120 130l-2 0-1 2-4 0-2 2 2 2zM46 130l-3 1-2 3-4 1 6 0 0-2zM94 129l-4 0 0 3 2 2-1 3-3-2-1 2-3 0 7 2 1-3 4 0 1-2zM30 130l-1 2 2 0 3 3 0-6zM21 128l-1 2 4 4 2-4-3 0zM260 138l2 4 5 0 0-3 2-1-1-3 2-2 3 1 0 4 9-7-7 2-1-2 2-2-8 1-2-3 0 3 3 4-4 3-5-5zM191 127l1 3 3-2zM206 127l-4-2 1 4-3 2 4 0zM296 123l-7 12 5 4 1-1-2-3 4-3zM91 122l2 4 6-2 2 5 2 1 4-2-5 0-3-5-5 2zM253 123l-1-2-3 0-6 5-4-2-3 4 1 1 3-4 2 0 0 2 10 2zM309 119l-3 0-2 2-2-1 1 3-3 8 1 4 4 4-7 9 0 3 2 2-1-3 2-2 5 0-2-3 1-7 4 0-4-1-2-5 3-3 3 5zM195 121l3-1-2-1zM117 119l-2 3 5 4 1-2-2-5zM209 120l0 3 3 0 7 5 3 0 3-3-4-3-2 3-4-7-2 2zM234 116l-2 0-3 4-3 1 6 5 2-2zM18 119l-5-1-2-2-6 7 1 5-5 5 0 3 5-4-2-1 1-1 5 0 1 1-3 1 4 0 2-3 2 0-4 0-5-4 0-2 7-4 2 0 3 4zM74 115l-4 0-4 3 0 8 5 8 1-1-2-2 0-4 2-2 4 3-1 1 3-5-10-3zM112 114l-3 2 1 2zM291 112l-10 3 11 0-2 3-8 2 0 3 7 0 0-2 4-3zM157 112l-3 3 2 0zM57 111l-3 7 2-2 2 2 2 5-1 1 3 3 2-5-3-4-2-7zM193 108l0 3 2 0zM88 112l7-2-2 0-3-3zM37 107l-2 0-1 2 2 1zM189 105l-8 5-2 3 0 8 4 3 2 5-2 2-4-4-1 2 2 3-2 2 6-1 2-3 0-8 7 0-7 0-5-8 3-3 6 4-1 4 2 0-1-6-2-1 2-1-2-3 2-2zM81 105l-2 0 0 7 5-4zM71 104l-3 7 5-3zM255 104l9 12 2-4-7-5-1-4zM148 102l2 4 0 7 1-5zM309 100l-6 3-3-3-3 1-3 5 5 2-3 3-6-2 8 6 0 4 3-4 2 0 3-3 3 0zM306 108l1-1 2 3-1 1zM145 100l-2 8-6-6 0 4-3 0 6 5 4 1zM61 100l-1 1 3 4-1 1 2 0 2-3-2-3zM226 102l-6-4-1 3-4 3-10-1 0 4-2 3 13 6 2-3-1-3zM264 98l2 3 2-1 1 2 2 0-5-5zM169 97l-4 5 3 6-1 1-4-2-1 3 1 3 2-3 1 3-6 6 2 2 0 4 7-3 2 1-6 3-1 2-4 0-3 4 3 0 13-9 2 0 0-2-9 0-2-2 3-3-1-2 2-6 2 0 3 3 5 0-3-5 1-3zM26 96l-1 5 6 3 0-4 4-3-6 1zM0 96l1 3 1-2zM152 95l2 0 3 3 6-1-4-2zM105 96l-8-3-3 4-1 5 2 0 2-4 2 1 0 3 2 0 0-3 4-1zM42 94l2 10 6 0 5-3-7-6-4-2zM237 94l1 4 3 2 5-2 6 8 0-5-2-3-4-1 0-4-3 0-2-2zM181 91l1 2 4 1 0 3-2 2 3-4-4-4zM69 91l-3 1 0 2zM262 88l-6 3 0 5 5 0-4-5zM134 90l3 8 5 0 3-2-6-8zM88 88l2 10 3-4zM122 87l-2 0-1 3-4-3 2 6-6 3-3 6-2-2 1 6-2 2-5-2 1 4 7 4-1-4 2-3 0-4 6-1 1 2-4 4 4 6 5-4 2-4 7-3 1-3-2 0-3-3 0-3-4-3zM117 96l2 0 3 4 0 3-3 2-2-2zM58 88l0 4 5 4 0-6-2-3zM168 85l0 2-4 2 1 2 3-1zM3 85l4 2-1 5 7 4 4 6-4 3-11 1-2 10 3-1 1-4 1 3 0-4 6-4 3 2 1 5 4 0 4-4-4-3 0-6 3-4-4-3-6 1-2-6 3-1zM177 84l-5 2 3 0zM68 83l3 5 4-2-3 1zM43 83l1 3 5 1zM41 83l-5 1 2 7-3 0 0 3 4 0-1-2 4-1-3-4zM15 87l1 1 4-2 4 2 3-4-4-2-5 0-3 2zM197 93l0 3 4 0 1-2 2 3 6-2 3-4 8 3 9 1 2 2-9 13 3 3 1-4 9 6 7-4 4 3-2 3-3-1 3 2 7-1 6-5-4 4-2-2-3 0-3-5 3-2-3-3-4 0-10-7 2-3-3-5 1-3 6 2 5-4 3 6 3-1 2 2 1-4-2-1-2 1-5-3-6 2 0-2-4 0-2-2-3 2-5 0-2 2-4-5-1 2 3 5-2 2-7-2-3 1-4 5-1-2zM50 81l5 8-1 7 1-9 4-1 1-2-4 0 0 2-2 1-2-6zM108 80l-3 3 1 8 3 1 4-3-4-3zM272 80l0 4 2 3-1 3 2 0 4 4 0 7 5-1 3-5-2-9-5 2-3-6-3-3zM88 79l4 3-3 4 6 1-4-7zM84 79l-2 0-2 3-5-1 2 2 5 0-1 3-4 2 0 2 1-2 5-1-1-7zM256 78l-3 2 0 2zM249 78l-1 1 2 1zM19 77l1 3 5 0-4 0zM40 74l1 5-3 1 5 1 2-2-1-3zM305 73l0 3 4 0-2 0zM9 71l-2 0-6 5 3 1zM61 74l5-3-5-2zM93 67l-3 0-2 4-6 0 5 0 1 4 1-4 4-1zM267 65l1 4 1-3zM243 74l-9 0-1-1 2-2 3 1-4-2-1-5-2 2 2 6-6 8 5-3 3-4zM285 66l-2 1-3-3-6 3 0 2 4 1-3 4 0 3 0-2 5-5 5 0zM103 64l0 4-4 5-2-2 0 2-3 2 0 2 3 3 8-1 2-2 2 1 0-7-2-4zM100 75l1 2-2 1-1-1zM258 65l6-2-6-1zM97 62l-1 4 2 2 1-5zM220 76l-10-5-5 2-3-7 1-2 2 0 0-3-3-1 1 3-6 9-4 0-2-2 1-1-5 2 4 8-1 2 1-1 3 3-1 1 2-1 0-3-3-1 8-6 3 0 2 2-2 2 7-5 7 4zM292 59l-3-1-4 5 1 1 5-2zM232 58l3 3 2-1 0-2zM211 58l4 3-2 4 9 3 2-4-1-3-7 0zM31 57l0 4-3 4 2 2 5 1 1-6zM7 54l-2 4 2 0zM12 53l6 8-2-5zM100 52l1 3 3 2zM205 51l-4 3 3 3 2 0 2-3zM83 51l0 5 2 0 0-5zM43 51l1 2-2-2-4 5-2 0 1 4 2 0 3-5 1 1zM38 50l-4 4-3-2 0 3 5-1zM211 50l7 3-1 2-4 1 8 0-7-7zM193 50l1-1 5 5-4-5zM113 51l-3-2-2 2-5 0 0 2 3 2 0 4-2 2zM58 46l-4 3 3 6-3 3 0 6-4 0-1 5 3 1-3 3-1 6 2-5 7 0 0-7 4-3-5-3 3-6zM53 66l1-1 1 2-1 1zM289 46l-6 2-4-1-1-2-2 3-4 0 0 4-2 2-7 0 1 2 7-2 0 4 6 5 2-4-3 0-2-3 7-5 7 0-1-1zM228 43l-2 1 1 3-4 4-2 0-1-5-2-2-1 1 2 1 0 4 3 3 5-4zM71 40l1 6 3 4 1-3zM47 40l2 4-1 6 2-6zM35 42l3 1 2-3-5 0zM266 39l2 4-2 7 3 1-2-3 2-4 0-5zM264 39l-5 4-1 14 2-1 0-2-1 2-1-1 0-3 4-1 0-3 3-4zM55 39l-4 2 1 1zM110 40l0 2 3 2 3-1-2-1-1-4zM100 36l-7 4 4 2zM57 35l0 7 2 2 2-2-3-3zM213 33l-1 3-3-1-3 3-1 4 4 2 6-1-3-4-5-2 2-2 5 1zM217 34l4 1 2 2 0 3 6 0 4 3 6-2 0 6 6 2-2 2-3 0 0 3 5-3 0-4 4-1-8-3 4-3-6 1-3-2-4 2-1-5-2 1-4-2-1-3zM240 44l1-1 6 3-5 1zM223 37l4-1 2 3-2 1zM116 31l-4 3 5 3 0 3 1-6 2-2 1 1 0 9 3 0 1 4-2 2-3 0 3 1 4 6 5 4-4 4-4 1-1-4-5-3-1 6-2 1 4 4-4 7 5 5-5 4 8-2 3 5 0-4 2-2-2-4 4-5 5 4-3 4 2 1-2 2 3 1 1-2 0-6-2-4-4 0 3-2 3-7 0-4 2-2-2-5 1-6-3 0-4-5-3 2-3-1 2-6 3-3-1-2zM129 62l4 1 0 4-2 3-3-6zM109 31l-3-1-2 4-3 0 5 1zM71 35l8 0 2 3 2-4 5 2-2-3-6 0-1-3-2 2-5-2zM144 31l2 3 5 1 4 4-2-10-3 4zM270 30l1 2 6 1 1-2 5 3-3 2 4-1 2 2-2 7 3-2 7 1 7-8 7 4 1-7-3-1-5 1 0-5-15 0-7 2-6-1zM285 28l4 0 3 5 6-2 2 2-5 3-1 5-7-1-1-2 2-6zM245 23l-2 1 2 5-3 3 4 1 3-3-1-1 2-3zM105 23l-4 3-3-1 1 1-6 6 3-2 3 3 1-4 4-2zM239 22l-4 1 0 4zM55 22l0 2 3 3 0 4 2 1-2-8zM268 20l-3 3-2 0-3-3-3 4 1 1 4-2 4 2-2 2-5 0 2 4 3-3 1 1 1-4 3-2zM129 20l-1 2 3 2 1 4 2-4-2-3zM118 20l-6 3 1 3 4 3 0-2 7-3zM75 19l-3-1-2 7-4 0 4 4zM141 16l-4 5 2 0 2 5 4 1 0-3-2 1-2-2 1-2-3 0zM146 13l2 3 2-1-1-2zM104 15l8-1 2-2-8 0zM209 10l2 4-3 1 0 3 4-4 0-2zM175 10l-2 0 1 2zM122 10l2 7 5-3-1-2-2 1zM282 9l-4 3 0 3 2 0zM236 9l3 9 4-1 2 2 4 0 3-2-4 1-6-6-3-1 1-2zM231 9l-3 3-1 5-3-2 2 3 2-2 8 2-4-4zM69 9l-1 4 5 1 1-1-2-3zM180 8l1 3-3 4 9-1-2-1-2 2-1-6zM167 7l-4 2 3 5zM153 7l-1 1 3 6-3 1 8 0 2 2 1 4-5 4 3 3-1 3 2 2 3 0 2-2-5-3 6-1 2-4-6 3-2-4 4-3-4-6-6 1-3-4zM217 15l-2 0-6 13-2 0 2 2-1 1-6-2 0-2-2 1-6-5-2-4 1-2 3 3 5 1 1-3 3 0-1-3 2-2 0-4-3 0-3-3 2 2-1 4-5 2-2-3-3 2 2 4-5 0 1 3 4 1 0 5-14 0-7 5 2 1-4 4 2 2 0 3-2 1-1-2-2 0-1 2 6 4-2 3-8-5 2-2-4 1 0 4-8 5 0-6 2-1-2-2-1 2-5-2 2-2-5-4-2-8-2 4-2-1 5 6 0 2-4 3 2 2 5 1 0 8 2 0 3 3 0 5-4 3-4 0 1 6 4 4-5 3-2 5 4 2 3 9 3-1 0-7-2-2 0 2-4-1 2-7 8 6-1 3 4-2 3 2-2 1 3 0 0-2-3-1-12-14 4-5 0-4 2-3-3-3 2-5 2 3 4 0 2 4 7 1-3 6-6 5-3 0 0 3 3 1 2 4 3-5 3 3 4 0 3 2 1-4-3 0-3-3 2-2 2 2 3-1-3-1 0-4-2-1-1-6 4-3 1-3 3 0 0 5 5 1 3 4-3 2 3 3-3 1-4-4-2 1 3 4 7 1 2-11 3-3 1-4-7-4 9-5-4 1-4-3-5 4-5-8 2-1 4 6 2-2-2-1 0-3-2-2-4-1 0-2 8-4 3 4-3 2 0 2 3 1 0 3 3 0 4-4 1 4 7-1 8-5-1-2 5-4 0-6 5 1-2-2 2-3zM164 50l-3 4-4-2 1-2zM162 46l2-1 2 4-2 1zM175 51l2-7 6 2 0 3-4 3zM309 5l-2 0-4 5-2 0-1 2 3 3 5 0zM107 6l-3-1-3 6 6-3zM83 5l-3 0 0 5 4-4zM244 7l2 3 7-4-7-2 0 2zM218 4l-2 1 1 2zM282 3l4 0 1 3 4 3 3-1 4-5-2-3-11 0zM261 0l7 14 0-2 6-7-2 3-7-8zM180 0l-9 6 5-1 4-3zM158 0l2 2 0 3-2 1 4 1 1-5zM154 0l-2 0 0 5 3-1zM145 0l-6 0 3 6zM91 0l4 11 2 0-3-3 0-7zM63 3l3 3 2-2 8 0-2-4-5 0zM60 0l-5 1 0 8 1-3 3 0 0-3 2-2z"/><path fill="#ecece8" d="M230 421l-6-2-7 5 3 4 5-4 4 0zM404 420l6-1-5-1zM443 417l2 2-1 1 2-1zM476 412l-3 3 5 2 0-3zM220 415l-4-3-4 4 1 1 2-3zM394 410l-2 2 1 6 4-2 0-4-2 0zM331 409l-2 1 2 4zM459 402l6-2-5-1zM395 395l-1 2 1 3 3-4zM322 391l2 3 5 0zM230 391l-1 2 2 3 0 4 2-5zM320 390l-3 1-2 4zM354 393l1-2 1 3 4 3 2-1-1-3 5-3 0-2-5 3-4 0 0-2-2-1zM436 386l0 3 2 2zM405 388l-5-5-6 8 9 0zM333 384l-1-1-3 2-5 0 7 1zM457 382l2 5 3 0zM467 381l-1 6 5 3 1-1zM279 385l-2-4-2 3-4 0 0 2zM402 382l4 0 2-2-6 0zM351 379l4 4 5 0 0-2-5-3zM449 377l2 0 2 4 0-5zM320 374l-2 3 1 2 3 0zM553 369l5 0 1 4 2 1 0-7zM500 367l-1 6-3 1 5-1zM426 367l2 4 8-3-3-1-1 2-3 0zM355 367l-9 2 4 4 0 4 0-7zM336 365l4 5-1-5zM510 363l1 4 1-3zM543 360l-1 4 4 1-3-2zM230 359l-3 2-3-1 4 1zM318 355l1 6 7 0-2-3zM3 352l1 6 2 2 3-6zM460 351l-2 2 2 0zM417 348l-7 0-2 6 8-3zM563 346l-2 1-3 8 7-1 1-5zM266 346l-1 3 7 5-2-2 1-4zM294 346l-6-1-2 8 2 1 1-4zM461 344l0 5 2-1 5 2-4-5zM275 341l1 5 2-3zM490 340l-2 5 3-2zM537 339l-4 4 2 2-1 6 4-6zM476 338l4 2 0 3 4 1 0-3-2 1-2-4zM436 336l-2 3-3 1 5 1zM505 333l2 5-2 2-4 0 1 3 3 0-3 0 0-3 6-2zM378 327l6-2 8 0-9-1zM290 324l-2 3 0 4 5 5 1-2-4-2-2-4zM332 323l5 2-1-3zM433 319l-2 0 0 3 2-1zM317 319l-5 0 2 2-1 6 5-3 1-3zM470 318l0 2 4 0zM493 319l-2-2-4 1 0 2zM394 316l-2 0-3 4 3 1-1-3zM253 319l-2 1-4-4-3 4-3 1 7 1zM233 317l-2-1-4 2-1 5zM430 313l-3 3 0 4zM352 313l-1 1 3 4zM470 311l2 3 3 0 2-3 1 3 2-2-4-1-3 2zM212 308l0 4 2-1zM459 307l-3 1-1 3zM273 307l-4 0-1 5zM512 305l5 3 6 1-2-5-3 0-2 2zM283 304l-4 4 5 5 1 4zM230 303l3 3 6 0 2 2-3 4 6 0 0-7-3-2zM399 300l-5 1 2 6 0-4zM269 300l-2-1-2 1 0 2 1-2zM519 297l1 3 3 2zM454 296l0 2 3 3 1-2zM284 296l-3 0-1 5-3 2 3-2 0-3zM483 294l0 5 6 0-2-5zM268 295l-4-1-3 3 3 1zM221 293l-3 0-2 2-1-1-4 4 3 1 4-4 3 1zM555 291l-1 7 2 1 1-4zM565 290l-3 2 2 4-1 3 2-2zM64 289l3 5-1 1 5-1-1-2zM355 286l-6 4 1 2zM310 284l-3 5 4 1zM265 288l-3 2-2-1 2-3-1-3-4 2-5 0 8 5-6 2 8 1 2-1zM383 281l-2 0 1 8-3 3 3 1 2-4-2-4zM459 280l-4 1 0 3 2 1-1 3 1-3 4-2zM494 277l-2 7 3-1zM379 274l-3 6 3 0zM19 274l1 5 3 0 0-2zM260 265l2 4 1-4zM221 257l1 3 1-1zM34 253l2 4 4-2 0-2zM21 251l4 5-1-4zM145 250l-3 4 3-1zM115 225l2 4 0-3zM81 221l-3 0 0 6 3-3zM35 214l0 2 3 0-1-2zM37 207l5 5 0-3zM5 199l-3 2 3 0zM140 195l-3 4 1 2 2 0zM157 181l1 4 4-1zM115 170l-2 9 1 4 2 0 3 4-3 1 1 1-2 5 2-2 3 1-1-3 2-2-2-2 0-6 4 0 1-2-6 0-2 3-1-5 3-4zM112 171l-3-2-10 5 8-2 2-2zM124 167l2 2 0 5 4-2 5 3-3-6-3 0-3-4zM35 139l-1 1 6 6 1-3zM68 112l4-2 3 5 2-1-4-5zM68 96l0 6 2 3 1-3zM87 80l0 5 2 0 2-3zM83 72l4 3 0-3zM28 41l7 5-5-6zM76 37l-5 2 3 5zM59 33l0 2 4 1-2-3z"/><path fill="#6496d7" d="M52 383l3 1 1 3 9 4-8-5 2-1 0-2zM69 378l-8 0 1 5 6 1 2-3zM22 388l7 0 2 3 4 0 4-4 2 1-2 2 3-2 5 0-1-2-9-3 3-4 5 4 1-2-2-3-5 2-7-4-4 1 2 2 0 3-2 2-5-2zM35 384l1-1 1 2-1 1zM32 382l2 3-3 3-1-5zM23 369l-3 2 2 1zM39 365l-3 2 2 3zM32 358l-2 0-4 4 1 3 4 1-1 2-3 0 3 4 1-6 2-2zM58 355l-4 0 0 6 2 5-5 0-4 3-3 0 2 8 3 0 2-2 4 1 4-4 2 1 1-10-5-5zM63 352l3 2 6 0-1-2zM22 351l3 3 4 0-1-5zM35 347l-1 2 3 3-3 2 6 2 4 4 3-3 3-7-2 2-8 0-2-2 1-4zM12 285l-1 2 3 4 0-6zM165 284l-2 0-4 7zM166 277l-2 1 1 2zM3 277l1 5 2-4zM191 269l-1-1-5 6 3 0zM130 267l-2 0-1 3zM143 266l3 3 0-2zM7 262l2 4 2-1-2-3zM110 254l0 2 4 3 1-4zM169 251l-1 4 2-2zM120 251l-3 4 0 5 2 1 0-6 3-1 0-2zM98 251l3 6 1-1zM128 239l0 2-3 3 5 0 3 2-1-5zM185 237l-3 2 2 0zM3 237l4 0 2-3-5-1zM110 234l5 1 2 5 2-1 0-7zM168 231l-4 10 4-5 3 2 0-3zM160 220l-3 11 3-1-2-2zM157 213l-5 1-1 8 3-1 2-3 3 0zM117 212l-3-3-8 9-5 1 3 2 4 0zM87 210l-3-1 0 4zM71 210l3 4 0 5 2 0 1 2 7 0-1-2-7 0 2-2 2 1 3-3-1 1-2-3-7-4zM35 207l-2 10 1 2 3 0 4-3 0-4zM34 214l3-1 2 3-4 1zM9 209l6 2 1-4-5 0zM111 203l0 2 4 1-1-3zM52 203l0 3 2 1zM65 204l-1-3-8 2 0 2 4 2zM48 199l-3 0-2 3zM14 178l-1 2 2 3zM141 176l3 0-2-2zM75 171l-2 2 2 4 1-4 4 6-2 3-2-1 0-2-2 2 0 8 2 6-4 4 0 4 7 1-3 4 4-2 7 0 5 9-4 3-1 4 8 1 1-3-4-8 2-1 2 2-2-2 1-1 5 0 2 2-2-4 2-4 6 0 2-7-4-2-2 3-10-6 3-6 6-1 1-2-1-4-3-1-6-6-3 3-3 0 4 8-2 1-3-4-4 3 0 5-3-4 0-5 3-6-3-3-4 2zM81 187l2 3 7-2 3 1-2 4 1 3-2 2 7 7-2 4-3 0-7-6 3-4-7-1-3-2zM160 163l-1 1 2 1-4 4 2 1 3-2 1-3-2 0zM60 164l9 0 0-2-3-3-2 0zM132 155l4 3-1-3zM48 155l-2 9 4 1 1-8zM72 155l5 3-2-4zM58 147l-1 7 4 3-1-4 3-4zM133 140l-4-5-3 0-1 1 2-1 1 2-2 2-2-1-3 5 3-2zM147 125l-2 2 0 4-3 0-5 5-1 6 3 6 2-2 5 0-3-5 4-4-1-3 3-4 1 7 3 3 1 5 3 0 0-12-4-1-2-3-3 1-2-2zM158 114l-10 5 7 0zM119 132l2 1 6-3 3 3-1-4 8-6 2 2 2-2 6-1-5-4-1 3-2-1 0-10 3-1-4 1-4 7-1-3-3-1 0-2-5 1-2-5-2 12 4 0 5 5-2 2 1 2-3 2-1-3-4-2 0 5zM133 116l0 4-2-2z"/><path fill="#c496d6" d="M262 371l-5 2 2 2-1 5 2 2-1-6 2-1zM258 363l0 4 4 2 3-1 2-6zM262 339l1 3 1-1zM225 336l6-2-4 0zM247 333l-3 2 0 4-2 2-3-3 0-3-3-1 0 3 5 5-1 2-6-6-7 4 2 0 3 3-5 5 3 1 2-2 5 5 0 3-3 5-4-4 1-2-5 3 4 1-3 3 2 8 3 0 0-3 3-4 4 4-2 2-3 0 2 9 2-5 5 0-5-4 3-3 8 2 1-2 4 2-6-6 1-4 11 0 2-2 1 1-6-7-3-1 0-2 2-2 7 1 2-2-6 1-3-4-3 0-2-2 2-1-5-1zM247 361l-1 3-10 0-2-2 6-3 3 1 2-2zM246 353l1 1-3 5-1-4zM252 351l2 3-1 4-6 1-1-1zM247 350l2-1 1 2-2 2zM244 345l4-1 2 2-2 1zM232 345l3-2 1 5 5-4 1 2 5 1-2 2-9 2zM249 340l-2 3-4-1 5-3zM453 225l-1 5 6 3 1-2-3-1zM447 224l-10 1-2 2 0 2 3 2 0 8-3 3-4-1 3-7-5-1-6-6-1 1 1 8-2 3 4 8 4-1 3 2-6 11 0 5 1-1 3 3-5 9 2 4 9-2 7-6 3 0 3 4 5-1-4-1-2-3 1-1 7 2-4-3 3-2 0-2-2-1 7-5-3 0-5 3 0-4-5-3-1-6-2 4-3-4 4-3-1-6 3-4 2 1-1 6 8 0-3-1-3-3 0-3-3-2z"/><path fill="#ce3070" d="M83 149l0-7-3 3-4-2 3 4-3 6-2-1-1-9-3 5-8-4 9 9 3-1 2 2 4-2-2-2 2-2zM97 139l-3 1-1 4 2 5zM72 135l-5 1 0 7 2-2 0-3 2 0 1 2zM96 130l1 3 4 2-2-1 1-2zM71 131l9 2-5-3 1-1-4 3zM63 126l-1 2 4 5 0-6z"/><path fill="#b4e4b4" d="M119 193l-4 2 0 4 2-1 0-3 3-1zM129 193l-7 0 2 2zM125 184l-2 4 3 2-2-2 0-2 2-1zM114 184l3 3-1-3zM106 184l3 0 4 3-5-4zM125 178l-1 2 4 1 2 5 1-6zM125 169l-4 5 4 0zM127 166l7 4-2-3zM121 168l-5-2-4 10-2-5-11 4 5 4 0 2 1-4 3-2 4 2-3 3 3 0 3-11 3 2zM106 168l4 0 2 2 0-4-4 0z"/><path fill="#e6a046" d="M305 251l-6 3 4 4 3-6zM265 250l3 3 4 1-2-4 1-3zM201 245l0 3 4 3-1 5 6-5-6-6zM298 239l-1 3-4 1-2 3 1 5 3-3 4-8zM291 226l-5 0 1 8-2 2-1-2-2 3-3-4-4-2 0 4-5 5 8 2 12-9zM297 213l7 8-1 3-7-1 8 3-3 2 0 4 4-7 0-6zM288 213l1 4-2 5 4 1-1-7zM309 210l-2 2 2 0zM220 193l-3-2-3 3 0 2zM292 179l0 3-2 2-8 1-3 4 1 5 2 2 0 4-4 6 7 5-2-2 0-8 3-3 2 1 3-4 6 1 1-8-4-3 1-5zM261 177l2 3 5 1-2-5-3 2zM283 175l-7 6-1 3 3-4 5 0zM300 173l-3 2 0 2 3 0zM190 169l-2 2 2 0zM267 167l-3 0 1 3zM226 163l-3 0 0 2-6 5 3 1 2 3 6-3-2-3zM207 163l-2-1-4 5zM309 161l-3 2 2 1zM210 158l-1-1-1 2zM153 149l-1 3 4 0 1 2-2 2 2 1 3-3-1-4zM121 147l-2 1 3 5 2-5zM274 144l-1 3 3-1 4 3-2-3zM206 153l1-3 11-5-10-1-2 3zM162 144l5 3 0-3zM301 142l-6 1 2 7zM204 138l1 3 4 1zM194 140l6 1 2 2 0-2-6-3zM288 137l5 4 3-1-7-4zM113 130l-4 2-1 4-3 0-2 6 2-1 1-5 6 1-2-3zM198 130l-2-1 0 2-3 3zM169 127l-8 6 5 0zM242 126l-2 0-2 3zM94 127l1 2 3 0 3 3 2 0-3-3-1-4zM263 124l-3 7 3 4 3 1 2-2-3-4 0-5zM175 124l-3 1-2 8 3-2 0-4zM249 120l-3-1 0 4 0-2zM265 118l5 3-1 5 4 2-1-2 6-4 0-2-2-1-4 2 0-2zM291 115l-9 2 1 2 3 0zM115 114l-3 4 3 2 3-2zM222 113l-3 4 6 3 0-2-5-1 2-3 3 0zM189 112l3 4-1 4 3 1 1-9zM96 113l2 3 4 0 1-4-4-1zM293 108l3 2 2-2zM250 106l-3 3 1 1 3-2zM125 109l12 1-4-4-6 1zM266 107l0-2-3 1zM92 103l-5 2 4 1zM97 99l0 6 4 0 3 2 2-1-1-7-3 0 1 2-2 2-2 0zM146 99l-1-2-3 2zM94 95l-4 4 2 2zM162 89l-4 3-7-1 0 3 6 0zM175 88l-3-1-4 4 2 3 6-2zM104 82l-4 4 4 5zM90 78l5 8 3-2-6-3 4-1-2-2zM206 76l-1 5 3 2 0 2 4-4-3-4zM199 77l-2-2-4 4zM270 74l-3 5 4-2zM169 72l4 1 1 3 3-3zM251 70l-2 0-5 7-2-1 2 6 9-9zM266 64l-2 5 2-1zM247 64l-1 3 2 0zM104 64l4 3 2 8 2-1 2-7-4 1zM257 62l-2-1-5 6 4-1zM280 59l-1 2 5 5 1-2-2-4zM117 59l-1 4 2 2-2-2zM123 57l1 6 4-3 3 0-4-4zM144 54l0 5 3 2 1-5zM206 51l2 2 1-1zM103 50l-2 2 4 4 0 2 0-3-3-2zM92 49l2 3-1 2 3-1zM110 48l2 2 0-2zM153 46l1 2-4 8 3 3 5-1 3 2 1-1-3 0-2-4-4 0-2-2 3-3zM195 44l-3 0-3 3zM287 43l-3 2-1-2 2-3-2 0-4 6 4 0zM151 42l4 1 1-3-3 0zM110 36l-2 5 3-3zM130 32l-3 5 1-2 2 0zM239 40l5 0 2-2 2 7 7 1 1-9-3-2-2 1 0-5-2 0-2 2 0 6-1-1-3 2zM169 30l-1 1 2 4 3-3zM156 32l2 2 3 0-2-4zM255 26l2 3 2-1-1-2zM201 23l-2 3 2-1zM170 26l6-1-2-2-3 0zM227 20l0 5 3 5 4-3 0-2-5-2zM102 18l-3 6 5-2zM156 18l-2-1-5 2-1 7 0-5 2-2 5 1zM185 15l-6 3-1 2 5 3zM147 15l-1-1-4 4zM172 13l0 2 2 0zM95 12l2 4 3 0-2-4zM111 9l-7 4 2-2 5 0zM255 8l-2-1-7 4-6 0 2 0 4 5 4 1 2-1-1-5zM279 6l4 3 0 2 5-1-3-1-4-6zM195 0l-1 5 3-2z"/><path fill="#acd680" d="M163 430l8 0-2-2-4 0zM306 427l1 3 6 0-5-4zM53 426l-1 4 3-2zM405 421l0 4 5 4zM9 395l-8 2 0 4 3 0zM0 384l0 9 3 0 2-5-4-1zM0 354l0 5 3 2 0-6zM9 345l-9 2 3 2zM0 332l1 9 1-1-2-4 2-3zM154 291l1 3 3 1zM27 290l0 3 3 2 1-3zM199 289l3 3 0-2zM107 290l6 3 1-1 0-4-5 0zM101 288l0 3 4-1zM130 287l-1 4 4 0 1-1zM77 285l-4 3 0 3 6-2zM95 285l-1-1-1 2zM20 280l0 2-3 3 6 1 1-3-3-2 1-1zM166 283l3 3 2-3 4 0 1-2-3 0-2-3-2 0zM115 280l-3-3-2 2 0 2zM145 276l-2 3-8 0-2-2 0 3 1 1 4-3 6 1zM28 274l0 2 9 7 5-6-5-2-4 4-1-6zM199 272l0 7 4 2 5-5-3-3zM59 269l-4 3 2 1 1 4 0-2 2 0 2 3 0 4 3-3-3-9zM22 268l-1 7 3 2 1-5-3 0zM3 267l-1 2-2 0 1 7 2 0zM172 266l-2 4 1 5 2 2 5-1 1-3-3-2 0-4zM162 266l-2-1-7 2zM112 265l-4-1 0 4-6 4 2 4-1 2 4 0 0-9zM102 264l-5 3 4 0zM121 264l5 1-1-3-3 0zM60 261l-1 4 2 0zM98 258l4 3-2-3zM69 258l-3 3 1 2 3-1zM136 257l-1 2 3 3 0 2 3 0-3-2zM173 254l3 2 2 7 0-6-3-3zM23 258l-3-5-6 3 1 3zM142 252l-2 0-3 3 2 0zM150 251l0 4 8-1-2-2zM189 252l-1-2-4 2zM87 249l1 7 2 0-2-4 1-2zM162 248l3 5 3-1-3 0-1-4zM65 250l-2-2-2 3zM118 241l-3 4-5 2 5-1 3-3zM139 240l-5 6 3-1 0-3zM90 236l-7 4 4 3 1 4 0-7zM11 236l-1 1 2 2 0 5 3-7zM145 236l3 2-1 3 6 6-2-9-4-3zM123 235l2 4 1-2zM19 236l2 4 7 1 3-6-8-1zM100 230l1 4 2 0zM341 224l2 4 2-1-2-3zM127 223l4 3 2-1-2-2zM75 220l-7 1 0 4-6 4 0 3 3 1 2 4-1 2-2-2-1 3 3 2 0-2 3-3 2 1-1 4 2 2 0 6 4-12-4-3 1-5 3-2 1-6zM72 235l1 2-2 1-1-1zM188 219l-3 0-2 2-1 8-3 3 2 6 10-5 0-5 4-2-4-1zM17 218l-1 2 4 2zM166 214l-3 1-2 3 4 9 1-5 5-3 0-3zM118 214l-3 0-6 6 3 7 2-2-3-4 4-2 1-3 2 3 3 0zM25 216l2-1 4 2-3-4zM1 213l0 2 2 0zM134 211l2 5 6 0zM186 199l-1 10 3 3 3-4 0-5-3-4zM166 198l-3 4 0 3 3-4zM1 196l-1 5 2-2zM20 197l5 3 7-1-3-4zM183 190l-6 6 0 4 2 1 0-2 4-4zM61 187l2 10 4-4-2 2 0-5-3 0zM191 184l2 3 0-2zM15 177l1 3 5 2-2 3 1 5 7 0 0-2 3-3-1-2-6 0-3-2 1-3-3 1zM172 172l-1 6 2-3 5-1 1 2-5 1 0 2 6 2-1-9zM21 175l2-3 3 2 3-1-7-2zM63 170l-2 0 1 3-3 2 2 0zM79 169l-2-1-2 2 1 1zM50 168l3 4-1-4zM147 166l4 5 3-1-5-5zM67 165l4 7 1-6zM183 162l-2 3 4 1-3-2zM23 162l0 3 4-1 3 2-2-3zM131 164l9 5 4-3-2-5-4 0-2 3zM140 162l3 2-2 3-3 0-1-3zM118 158l0 4 2 2 1-2zM97 158l-2 2 1 4 4-3zM150 151l0 3-3 5 6-2-2-1zM135 149l0 2-3 3-6-1-3 2 3 1 1 3 5-5 3 0zM178 152l-5 1-1-1 2-2-4-3-2 9 2 1zM26 147l0 12 7 1 4-5-1-1-5 4-2-2 2-5 3-1zM57 147l-6-1 0 3-4 2 0 3 6 1 1-5zM42 146l-6 3 0 2zM99 154l9 0 5-4-10-5 1 2-2 2-3-1zM177 141l-3 4 6 4 4-6-4 0zM32 139l1 3 5 4-1-3zM114 136l0 8 4 4-1-8zM157 140l4 3 2-3 2 1 4-3-4 0-5-3-3 3zM50 135l7 9-5-7 1-2zM19 129l-4 1 1 2zM61 128l-1 5-2 2 6-3zM174 127l0 4-2 3 15 0 1 2 2 0-1-4-11 3-1-1 2-2-4-6zM171 126l-4 6 2 0zM118 126l-4 3 3 0zM4 125l-3 4 0 3 4-4zM152 123l6 7 4-4-7-4zM10 122l4 5 6-3-4-4zM62 117l3 5 0 2-2 1 2 0 0-6zM199 112l0 7 7-2-3-5zM51 109l-6 3 1 4 0-3zM99 106l-5 3-2-1 4 1 3-1zM277 105l-2 2 0 3 3 3 1-6zM255 105l1 4-2 1-2-3-4 5 5 1 5-4zM189 104l2 2-2 2 2 3 0-5zM258 100l-2-1-2 4zM272 97l-2 2 4 2 1-1zM298 96l0 2-5 4-1 3 8-6zM208 96l-3 2-3-1 0 3-4 1-3 6 5 1 0 2 2 0-2-2 0-5 4 0zM62 96l-1-1-7 3 2 3zM6 94l0 2 2 0zM211 98l9-4-7-2zM254 90l-2 1 0 2 2 0zM240 89l8 5-1-3 3 0-6 0zM163 89l-5 5 6 3-1 8-3 4-8-4 4-6-7-1-2 3 0 3 0-2 2 0 6 11 4-4 3 0 0-3 4-7 0-7zM150 88l3 3 5 0 2-2zM11 91l4-3-4 0zM127 84l0 3-3 3 3 4 0 3 2 2 3 0 4 7 1-5 6 6 0-7-4 0-3-2-3-6 0-7zM199 83l-6 4 2 5 0 3-4 2 2 1 3-2 1-4 5-1-4 0zM252 82l-2-1-4 3 4 1zM227 83l4-2-3 0zM104 81l-1-1-5 3 2 2zM109 79l1 7 4 2 0-4zM202 78l0 2 5 3-3-2 0-3zM166 78l3 9 2 0-3-8zM137 78l-1 7 3 1 1-4zM290 75l-5 1-1 5 2 4 5-5zM51 78l4 5 6 1-3-9-5 1zM129 74l-2 3 5 5 1-1-2-1 3-4zM275 73l-2 3 1 2zM258 70l0 10 6 2 2-3-3-2-2-6zM221 69l2 5 2 0 1-4zM149 68l-2 3 4 1 0-4zM28 68l-4 0 2 4zM249 67l-3 2 2 1zM205 67l0 5 2 0 1-2zM93 68l4 2-1-3zM199 67l-4-1-3 4 5 1zM115 66l-1 6 3-5zM3 64l-1 3 2-2zM80 63l-2 2 0 4-3 3 6-2zM19 63l-5 1 3 2zM233 64l6 3 0-2-4-3zM246 60l2 4 2 0 1-3 3 0-3-2zM165 59l-4 2-3-2-3 1-1 3 3 3-1 3 8-6zM281 58l3 3 4-3zM189 58l-3 10 3-1 0-2 3-2zM181 59l-5-1 0 3-3 3 0 3 5 6-6 6-4-2 4 4 7-10 4 0-5-1-4-5 1-2 2 0 4 4 2 0 1-2-2 1-2-2 3-2zM94 57l3 4 1-2zM46 57l-2 6 5 2 0-2-4-2 2-2zM31 56l2 3 4 2-2-3zM271 55l-4 2-2-1-3 3 1 2 4 1 5-2-2-2zM0 54l0 7 3 1 2-7-3 1zM218 52l1 2 3 0zM60 51l0 3 2 0zM126 54l-3-4-5-1-2 2-1-1-7 8 2 0 7-7 4 7zM176 51l6-2-5-1zM59 48l5 3 1 4-1-4zM16 48l-4 0-2 2-6-1 6 5zM201 46l-1 4 2 1 1-2zM188 49l4 3-1 2 3 2 0 4 6 1 2-2 4 0-6-5-3 0-4-5 0-3zM154 46l1 3 4-2zM165 47l-3-2 3 3-7 4 3 1 4-4zM83 45l-2 0-5 5 2 2-1 1 4 3 1-5 2-2zM229 44l-1 5 4 4 5-1-6 0-1-3 2-2zM138 44l1 7-2 1 2 5-2 2 3-1-1-4 4-3zM115 44l2 2 1-1zM288 43l2 0 3 3 2-1zM239 42l-3 0-1 2 1 1zM99 41l6 5 0 3 2 1 2-8-5 1zM95 42l-3-1-2 4 2 0zM270 40l7 6-2-6zM31 40l3 4 2 0-2-4zM25 40l-1 4 2 2zM68 39l0 4-2 2 1 3zM294 37l-5 2 5 1zM77 37l-2 4 1 5 3-4 6-1 1 5 2 1-2-6-3 0-4-5zM61 36l3 2 3-1zM75 37l-3-2-2 3zM212 46l0-2-3 1-5-3 1-4 4-4-8 5-6 0-2 3 3 2 7-2 5 7 2 0zM236 38l9 0 0 4-3 1 5 2 0-8-2-4-3 0-3 5zM278 32l0 6 7 0-1-2-4 1-1-1 3-2zM154 30l1 7 3 6 6-2 3 3-2-2 2-3 4 2 0-3-2-2-6 4-7-3 3-2zM258 33l-2-4-4 2zM270 28l-4 2 1 5-2 3 5-1zM116 29l-2-2-4 1-1 5-4 3 6-2 2-2-1-1zM105 27l-4 2-2 5-3-3-5 3-3 0 1 2 6-1 2 2 5-5 2 1zM138 22l-3 2-1 4 5 0 1-2zM273 23l8 3 3-1-2-4zM169 17l-3 1 1 2-2 2-2 0 1 3 6-3zM134 17l-1 2 3 1 1-2zM262 16l-7 6 2 1 5-5zM172 16l5 2 0-2zM131 15l-3 0-4 3 2 11 2-6-1-4 3-1zM109 15l-6 1 1 5 4-1-2-1 0-2zM303 16l-2-2-3 4zM216 14l3 2-2 4 2 2 3 0 0-3 3-1-2-4zM190 14l-1 2 3 1zM189 11l-6 1 0 2zM233 10l5 10-2 2 5-1-4-4 0-5zM207 9l1 5 2 0zM61 10l2 2 0 8 5-1 4-4-10-4 3-2zM281 8l-4-2-3 1-3 3 2 3-4 3-1-1-1 4 3 1 2-4 5-1 0-3zM229 6l-4 5 3 0zM216 6l-2 3 1 3 2-3zM169 6l-2 3 4 4 3 0zM152 6l-7 0-1 5 6-2zM97 5l-1 2 3 5 1-2zM90 4l-8 6 1 2zM238 3l-1 5 3 0 1-5zM207 2l1 4 6-1zM159 2l-5 5 5-2zM300 0l-2 4 4 3 3-1 0-6zM245 4l6 0 2-3-7-1zM224 0l5 4 0-4zM75 0l4 3-1-3z"/></g></g></g><rect x="108" y="446" width="57.0" height="42.0" fill="#fff"/><rect x="416" y="446" width="266.0" height="226.7" fill="#fff"/><rect x="585" y="828" width="97.0" height="49.0" fill="#fff"/><text x="129.5" y="473.0" font-family='"Liberation Serif",serif' font-size="21" fill="#222">(c)</text><text x="611.7" y="855.3" font-family='"Liberation Serif",serif' font-size="20" fill="#222">2 μm</text><rect x="620.5" y="866.6" width="21.9" height="3.0" fill="#555"/><g fill="#c5323b" stroke="#8c3a40" stroke-width="0.7"><rect x="459.1" y="537.7" width="7.1" height="96.1"/><rect x="466.2" y="559.0" width="7.1" height="74.8"/><rect x="473.3" y="532.5" width="7.1" height="101.3"/><rect x="480.4" y="555.0" width="7.1" height="78.8"/><rect x="487.5" y="576.3" width="7.1" height="57.5"/><rect x="494.6" y="593.5" width="7.1" height="40.3"/><rect x="501.7" y="605.0" width="7.1" height="28.8"/><rect x="508.9" y="610.2" width="7.1" height="23.6"/><rect x="516.0" y="617.7" width="7.1" height="16.1"/><rect x="523.1" y="620.6" width="7.1" height="13.2"/><rect x="530.2" y="622.3" width="7.1" height="11.5"/><rect x="537.3" y="627.5" width="7.1" height="6.3"/><rect x="544.4" y="628.0" width="7.1" height="5.8"/><rect x="551.5" y="629.2" width="7.1" height="4.6"/><rect x="558.6" y="630.3" width="7.1" height="3.5"/><rect x="565.7" y="630.3" width="7.1" height="3.5"/><rect x="572.8" y="630.9" width="7.1" height="2.9"/><rect x="579.9" y="632.1" width="7.1" height="1.7"/><rect x="587.0" y="632.1" width="7.1" height="1.7"/><rect x="594.1" y="632.6" width="7.1" height="1.2"/><rect x="601.2" y="633.2" width="7.1" height="0.6"/><rect x="608.3" y="632.1" width="7.1" height="1.7"/><rect x="615.5" y="633.2" width="7.1" height="0.6"/><rect x="622.6" y="633.2" width="7.1" height="0.6"/><rect x="629.7" y="633.2" width="7.1" height="0.6"/><rect x="636.8" y="633.2" width="7.1" height="0.6"/><rect x="643.9" y="633.2" width="7.1" height="0.6"/><rect x="651.0" y="633.2" width="7.1" height="0.6"/><rect x="658.1" y="633.2" width="7.1" height="0.6"/></g><rect x="452" y="461.2" width="213.2" height="172.6" fill="none" stroke="#7f8b8f" stroke-width="1.3"/><g stroke="#8a9598" stroke-width="1"><line x1="452" y1="633.8" x2="455" y2="633.8"/><line x1="452" y1="605.0" x2="455" y2="605.0"/><line x1="452" y1="576.3" x2="455" y2="576.3"/><line x1="452" y1="547.5" x2="455" y2="547.5"/><line x1="452" y1="518.7" x2="455" y2="518.7"/><line x1="452" y1="490.0" x2="455" y2="490.0"/><line x1="452" y1="461.2" x2="455" y2="461.2"/><line x1="452.0" y1="633.8" x2="452.0" y2="630.8"/><line x1="523.1" y1="633.8" x2="523.1" y2="630.8"/><line x1="594.1" y1="633.8" x2="594.1" y2="630.8"/><line x1="665.2" y1="633.8" x2="665.2" y2="630.8"/></g><g font-family='"Liberation Serif",serif' font-size="16.6" fill="#222"><text x="449.5" y="640.2" text-anchor="end">0</text><text x="449.5" y="611.4" text-anchor="end">5</text><text x="449.5" y="582.7" text-anchor="end">10</text><text x="449.5" y="553.9" text-anchor="end">15</text><text x="449.5" y="525.1" text-anchor="end">20</text><text x="449.5" y="496.4" text-anchor="end">25</text><text x="449.5" y="467.6" text-anchor="end">30</text><text x="452.0" y="651.6" text-anchor="middle">0</text><text x="523.1" y="651.6" text-anchor="middle">1</text><text x="594.1" y="651.6" text-anchor="middle">2</text><text x="665.2" y="651.6" text-anchor="middle">3</text></g><text x="558.1" y="666.1" text-anchor="middle" font-size="16" fill="#222" font-family='"Liberation Serif","Noto Serif CJK SC",serif'><tspan font-style="italic">α</tspan> 片层尺寸 / μm</text><text transform="translate(428.5,544.5) rotate(-90)" text-anchor="middle" font-size="16.5" fill="#222" font-family='"Liberation Serif","Noto Serif CJK SC",serif'>体积分数 / %</text><g><clipPath id="cpd"><rect x="689.5" y="447.5" width="569.0" height="427.5"/></clipPath><filter id="bld" x="0" y="0" width="1" height="1"><feConvolveMatrix order="3" kernelMatrix="1 2 1 2 4 2 1 2 1" edgeMode="duplicate"/></filter><g clip-path="url(#cpd)" filter="url(#bld)"><rect x="685.5" y="443.5" width="577.0" height="435.5" fill="#3a3438"/><g transform="translate(686.5,444.5)"><path fill="#e8703c" d="M295 428l5 2 2 2-1 1 3 0 1-2zM271 425l1 4 5 4 2 0 4-4-8-1zM78 424l-2-1-9 4 4 0 4 3 3-1zM314 424l-3-2-2 3zM243 423l8 0 1-5-6 0zM15 416l-7 7 1 3-3 3 2 4 2-4 3 2-1-2 2-3 0-7 2-2zM301 414l-5 2-9 0 4 0 5 3zM50 415l4-1-3-1zM13 413l-2 0 0 4zM180 412l0 2 3-1zM136 412l-5 2 3 5 4-3zM89 409l-2 1 0 3 3-1zM207 408l-2 4 4 3 0-6zM235 407l-4 1-4 4 1 7 3-1-1-2 5-5zM68 406l-2 9-5 2-3 4-5-3-4 2-2-1 4 9 9-1 5-5 5-9-2-2zM4 405l3 6 1-5zM267 401l1 2 6 2 0-3-3 1-1-2zM228 396l-2 0 1 5 3-2zM295 394l3 5 6-2 0-2-2 0-2 3-2-3zM153 395l-7-1-2 8 1-5 4 1zM140 392l2 6 1-5zM121 392l2 3 3-2zM172 391l2 2 6-2 6 2 8-1-11-1-1-3-8-1zM241 386l-4 2 1 4zM210 386l-1 1 2 1 0 3 2 2 0-5zM80 385l-5 3-7-1-3 2-4-1 0-4-3 0-2 3-9 0 7 5-5 4-1 4-3-1 2 3-1 10 3-4 4 2 1-1 0-8 3 0 2 3 6 0 3-5 4-2 0-5 2-2 3 1zM65 394l3 4-4 4-3 0-4-3 1-4 3 1zM24 384l3 2 0 3 2 0 2-3 5 0zM569 384l6-2-4 0zM274 379l0 4-3 1 6 3 3-6-3 1zM1 378l-1 8 6 0 6 3-4 5 0 9 4-5 3-10-2-1-1-4-3 3-7-1 0-3 3 2 3 0 0-2zM90 380l1 2 3-1 2 4 4 2 3-2 2-6-8 0-1-2zM70 375l-3 0-5 3 6-1zM122 374l0 2 8 1 4 4-1-5-9 0zM57 371l-9 2 0 5-3 4 3-3 4 0zM286 372l1 3 5-2 3 2-1-3-4-1-1-2zM176 367l-5 4-2 7 4 0 3-4zM271 369l4 0 6 5 2-1 0-3-5-4zM78 368l1 1 3-4 8 0-11-2zM24 363l-10 4 8-1zM244 361l2 2 4-1zM3 359l1 2 6-1-5-2zM214 356l1 3-3 4 2 0 0-3 2-2zM110 356l-1 4 2 2 0 3 3-3 1-4-4 0zM218 357l2 2 5-1-3-3zM63 353l-2-1-3 3-4 1 4 2 3-1zM23 352l-2 1 2 2-3 1 0 2 3-3 2 0zM287 352l3 1 4-3 5 0-5-2-2-3-2 2 0 4zM9 345l-8 1 2 6 6-3zM131 344l-7 0 0 6-2 4 4-2 0-4 2-2 3 0zM145 340l-2 2 6 5-2-4 3-3zM97 340l1 4 3 1-1-5zM43 337l-3 3-3 0-4 5-4 1 3 7-1 2 4-2 2-4 2 0 4 6 1-1 0-3-3-3 2-4-4 2-1-1 5-6zM86 336l1 8 4-4-2 0zM140 328l-4 1-1 2 4 2zM61 326l-3 0-2 4-4-4 1 5-2 2-2-1-1 3 3-2 5 0 0-2zM207 315l-4 2 2 4zM77 315l-8 5 0 4 7-1-1-5zM136 312l-6 2-10 10-8 0-3 6 7-3 1 4-2 1 4 5 2 0-2-2 0-5 8-6-3-3zM263 311l-3 5 0 3 1 1 5-2 4 3 0-6zM236 311l-2 1 1 1zM270 305l-1 4 8 3 0 4 5-3-2-6zM171 305l-1 2-3 0-2 2 1 3-2 3 2 2 4-3 0-7 2-1zM118 305l-4 1-1 4 2 2-2 1 0 2 5-2zM196 301l-3 2-1 3 3 1 2-2zM235 300l-4 6 3 3zM207 299l3 3 3-1zM144 296l0 5 6 3-5-2zM64 296l-2 2-4 0-3 2 5 3 3-3zM187 295l-1 3-7 5 2 2 7-5zM283 293l0 5-4 7 4-5zM159 293l-3 4 0 3 2 0 3 3 4-4 0-2-3 0zM98 294l4 1-2-2zM253 293l-2-1-1 4zM189 283l2 4 3-1 3 2 4-3-2-2zM264 283l3 2 2 0 2-3 4 2-4-2zM1 282l-1 3 2-2zM68 280l-2 1-4-2-8 2-4 3 0 3-3 0-3-5-3 6-4 1-4 7-2-2 2-7-3 4-2-3 0 4-3 3-3-1-2 2-6-1-1-2 3-1 2-4-4 0-2-2-2 0-2 3-3 0-5 4 0 2 4-2 8 9-1 5-3 4 3-2 8 0 6 6-1 2-9-1-3 3-2 0-6-7 1 5-4 3 1 2 6 0 9 8-4 5-4 0-2 2 4 0 2 3 6-1 2 2-1 3 4 3-5 0-4 3 1 1 4-3 5 0-2-6 2-4 5-4 9 0 0-5 2-3-3-1 0-4-9-1-1-5 3-3 0-2-3-2 1-2 7 1 8 10-2 6 3-1 0 3 2-3 6 0 6-6-2-1-4 2-2-2-3 0 0-5-6-4 1-7-4 3 0 3-2 2-3-1 2-3-6 0-2-4 6-4 2 1 1-2 4 3 6-2 3-4 3 2 6-1-2-2 1-4 3-2 4 0 2-2 2 2-3 4 5 5 3-2-4-5zM17 331l4-6 9 5-7 5zM12 320l2-1 7 5-4 1-4-2zM50 320l-5 2-1-1 2-4zM21 297l2-1 3 4-3 2zM8 294l1-3 4 1-3 3zM173 278l-1 1 2 3 1-3zM287 278l-2-1-1 3zM118 274l2 2-3 1-3 4 3 5 6 2-1-7 1-1 3 3 1-4zM103 273l-1 4 4 4 3-1-2-4zM0 270l0 7 2 1 2-2-2-1zM173 267l-5 0 0 9 5-2zM279 267l3 2 2 4 2 0 3-3-1-2-5-2zM62 266l3 5-1-4zM27 265l-4 1-1 5 5 1-7 4 1 2 5-2 3-4-3-1 2-1zM68 267l10 9 3-1 0-3-1 1-7-4 4-3-1-2-5 3zM83 258l-2 0-1 3 1 9 3-6-3 1-1-3 3-2zM66 258l-4 4 5-1zM242 257l-3-3-4 1-2 3 1 3-4 3 10 1 2-2zM112 248l-1-1-2 2zM575 245l-3 2 2 6-4 1-2-2 7 8zM574 225l-1 3 2 1zM554 224l1 3 7-1-3-2zM478 224l-1 2 3 3 2-4zM232 178l4 3 6-2-5 1-3-3zM91 177l3 2 9 0-1-2-5-1zM133 175l-13 3 5 0zM309 173l-3 0-2 2 0 6 2-3 5-1zM203 165l1 2 2-2zM163 165l6 3 0-4zM264 168l6 0 4 5 5-2-4-2-4-6zM96 162l0 3 2 2 5 0 1-4-6-2zM263 157l1 3 2 0 0-2zM225 155l-1 2 3 3zM136 155l6 6 3-1-3 0-4-6zM185 150l-3-1-5 2 0 4zM268 150l-3-2-2 2-7-2-2 4-5-2-3 2-3-2-4 0-1 6 7 4 9 0 1-9 13 1zM117 147l-2 1 0 8 5-5zM0 141l0 8 9-1-5-7zM206 149l3 2 8-1 4-6 4 1-2-2-4 3-2-4-8-2-1 2 3-2 4 3 0 3-4 3zM266 136l-1-1-3 3-2 0zM227 131l3 3 4-3zM175 132l3 2 1 4 5-1-1-3-3 0-3-3zM112 131l-2 2-6-1-4 2 0 2-3 2 3 3 1 7-4 1-1 4 4 0-4 5 5-5 2 0-2-1 2-4 8 0 3-2-9-8 6-3 5 1zM259 145l-2-4-5 0 0-3 3-4-3-2 0-3-5 4 2 2-5 4-7 2-2-2-5 1 1 3 3 2 8-3 5 0 5 4zM311 127l-2 2-9 0 2 0 2 2 0 4 6-2zM139 128l-2-2-1 3zM267 121l-10 4 3 4 3 0 1 2 0-3 2-2 5 0zM143 121l5-3 8 0-9-2zM190 114l1 7 5 3 3 0 1-2-6-1-2-2 0-2 3-1zM143 126l-6-6-2 1-2-2 2-8-4 5-5-2-9 3 5 3 5 7 7-2 2-2 4 0zM50 107l3 5 2-2zM84 106l-1 1 4 3zM287 106l-5 0-2 4 6 1zM142 105l-2 2 1 1zM259 102l1 3 3-3 3 2-1-2zM131 104l-4-2-4 3zM139 98l-2-1-6 3zM70 97l2 2 3-3zM109 88l6 2 1-1-4-2zM140 86l4 12 2-5 4 2 2-1-3-2 3-4zM70 82l-6 7 5 0 3-2zM101 79l2 4 1-3zM264 80l2-2 2 0 3 4 8-2-8-3-4 0zM153 75l3 5 3-2 6 2-5-5zM265 75l-2-2-7 1 1 3-2 2-8-4 9 7 4 0-1-5zM0 57l0 8 10-2-2-4-3 1zM307 1l4 1 0-2z"/><path fill="#3450ac" d="M411 431l-6 2 5 0zM131 433l7 0-2-2zM362 432l5 1-3-3zM220 432l-2-2-4 3zM64 429l-9 4 6 0zM440 428l-3 2 0 3 2 0 2-3zM35 428l-4 1 3 2zM294 427l-4 1 0 5 2 0-1-2zM264 426l0 7 8 0-4-1 0-4zM257 424l-3 2 1 2 2 0zM193 424l-2 4 2 0 1 4 2 1 1-8zM375 423l-2 2 0 7 3-5zM460 422l-4 3-5 0-2 6 2-4 6-1zM312 421l3 3-2 2-6 1 8 2 2-8zM44 421l0 5 4 6 2-4-5-4zM398 419l-6 5 0 3 8-4zM170 418l-1 3 4 3 2-3-2 0-1-3zM151 419l5 3 6-1-6-4-3 0zM468 416l-4 3 0 2zM24 416l-5 4 6 5 4-1 1 2-4 1 2 2 5-6zM366 415l-2 0-3 5-2-1-8 4 12-2zM14 414l-3 5 3-3zM440 411l-4-1-1 1 2 4-7 6-1 3-3 0 3 4 1-5 4-3zM383 413l7-3 4 1-10-1zM210 413l0 2 7 2 6 5 3 0 1-2-1-7-2 1-5-2-2 5-2-7zM166 408l3 6 3-1 0-4zM458 407l2 4 5 1zM339 408l-3-1-1 3-3 0-1 2zM277 407l3 5 2 1 2-2-2-4zM191 407l-4 0-5 8zM478 406l-4 3-5 0 4 7-6 5 8 0 2-5-2 0-1-3zM3 406l-1 4 2 1zM369 406l-2-1-7 4 4 3 0-4 2-2zM344 406l0 7 2 0 1 2 4 0-5-3 4-6zM138 405l0 10 4 1 2-1 0-5-4-5zM77 404l-2 0-2 4zM302 405l-4-2-3 3-1 5 2-6zM27 401l-5 4 2-2 3 0zM352 400l-1 2 2-1 3 2-2 10 4-9-1-2zM160 402l4 2-1-4zM331 400l2 4 7 0 0-2-5-3zM104 398l-1 1 3 3 0 5 2 1 2-8zM289 397l1 5 7-3-5 0zM267 396l-3 2-1-1 0 4 3 0zM93 397l-2-1-4 5-4-1-2 1 0 2 6 3 6-4zM240 395l-2 4 4 5 0-3 4-3-3 0zM184 396l3 3 0 2 6 0-4-5zM472 394l2 3-1 4 2-2 3 3-2-6zM8 393l-6 2 3 2 1 4zM227 391l-1 4 2 0 3 3-2 3 8 5-2-6-3-2-3-7zM447 390l-5 12-4 3 3 1 8 9 7-5-3-3-8 1-2-2 3-4 0-8 5-3zM382 390l-10 3 0 3 9-3zM366 390l3 2-1-2zM353 390l-2 1 0 5zM334 390l-3 1-2 3zM453 388l0 8 4-4 8 6 4-6-3-1-3 3-4-6zM388 388l3 3 1 4 5-2 1 1-1 7 5-1 3-3 0-2-6-6-2 1-3-3zM156 388l-3-1-2 2-10 2 5 2 4-4 4 5zM429 389l1 5 4-2 2 2 5-1-1-3-5-4zM324 386l-6 1 1 3 6-1zM135 386l2 3-2 4 2-2 2 2-1-6zM36 388l6-1-5-1zM82 382l-2 1 3 4 1 6-3 1-3-2-5 0 8 7 1-4 4-4 3 2 0-4-3 0-1-4zM215 381l0 4 3-1 1-2zM142 381l-3 2 2 0 2 3 3-2zM356 380l-1 3 2 3-2 2 9 1 1-2zM189 380l-1 1 2 2-2 6 7 2 4-8-3-3zM90 382l-1-2-2 1zM8 381l8 3 4-1 0-3-3-1-3 2-4-2zM482 381l-4-3-3 4zM315 378l-1 4-5 4 4 5 4-7zM131 388l-3-3 2-4-9-3-1 4-4 3-2 0-3-4-14 9-5 0 5 2 7-1 1-4 3 0 3 3 3-3 4 3zM458 377l-1 2 5 4 1 3 2 0 0-5zM207 376l-2 0 0 2zM497 375l-1 3-3 0 2 2 2-1zM455 376l-3-2-5 2 0 6-2 2-4-2-2 1 2-1 5 2 4-6 5 0zM257 374l4 5 2 0-2-4zM549 378l2 3 2-1 2 2 1 5 4-7 3 0 3 3 0 4 5 0-5-3 9-4 0-7-8 5-1 4-4-4-2-5-5 1 0 3-2 2zM151 371l-1 2 7 7-1-5zM233 370l-1 5-7 4 2 3 4 0 4 4-1-6 2-1 0-3zM41 370l-4 1-6 7-1 4 3 3 4-1 1-4 3-3 2 0zM114 373l-4-5-4 6-3-1-6 5 9 0 0-4 7 2zM543 379l-2-2-4 0 1-2-4-8-3 1-1 4-3 3-3 0-4 3-1-5-2-2-6 0-4 3-6-1 8 6 4 1 5 7 4-8 4 2 4-1 0 7 7 0 0-2 3-2-7-5 1-1zM419 366l-7 1 3 2zM544 363l0 3-4 3 7 6 2-3 0-5-2 1zM438 362l-3 1-2 4-3-1 1 2-2 5 5 0-4 0 0-2 6 0 0-7zM404 362l-3 3-8 2-8-1-2 3 19-1 2-2zM243 361l-3 3-2 6 4 2 2 7 3 2 0 3 2-3 1 1-1 4 4 4-1-13-7 0 2-3 4-2zM246 379l2-1 2 2-2 1zM307 361l4 8-1 1 6 1 3 5 7 0-2-2-2 1-4-4-4 0-5-11zM58 360l1 8 6-1zM442 360l0 3 4 1 0 6 6-2 1 4 6-3 0-4 3-4-2 2-3 0 0 5-3 1 0-4-3-2-2-4zM155 359l-2 0 0 6 4-4zM17 357l-1 2-8 2-1 5 1 5 2 2 7 1 3 2 0-6 2-3-9 0 3-4 4-1-1-4zM206 357l-3-1-7 3-2 4-3 2-6-2-1 2 2 2 0 3-3 3 0 7 5-9 5-4 0-2zM525 355l-1 1 2 2-3 5 1 1 4-4 5 4-2-8zM0 355l0 2 8 1-5-3zM568 353l-1 2 2 3 2 0 0-4zM428 351l-2 2-2 8-5 3 9-4 0-2 3-2-2-1zM380 352l-6-1-3 3-3-1-2 2 4 3-4 2 0 2 3 3 4-1-2-3 0-4 3-2 1 2 5 1 2-3zM369 355l1-1 1 2-1 1zM496 361l2-1 7 8 12 1-7-1-3-2 0-2 4-5 5 0 3 3 1-3-9-1-1-2 3 0 0-3 2-2 2 1 0-2-6 0-3 2 2 2-1 1-3-1-4 5-3-1zM331 350l-2 0 1 3-3 3 3 5 3-5 3 0zM461 348l-3 0-5 3 2-1 4 2zM91 348l-7 2 1 4 3-3 2 0zM139 343l3 3 1-1-1-2zM360 344l-1-2-3 0-5 7-4-1-4 5-3-4 0 3 2 2 5-2 3 2 1-5 4-4zM370 341l0 5 3 3 5 0-5-4-1-4zM112 342l-1 7 3-2 2 2-3 4-3 0 8 2 4 5-1 1 5 1 2 3 4 0 2 7 2 0 1 2 7 0 0-2-4-3 0-2 3-3-5-5 3-3-5-5-3 2 6 5-2 2-4 0-3-4-1-6 2-2 3 0 1-2-7 1-1 5-5 3-1-3 2-2 0-6-3-3zM130 363l2-1 1 2-2 1zM574 339l-2 2 2 4zM513 339l4 5 9 7 2 0-2-3 1-3-11-2-1-4zM67 339l-4 5 1 6 0-5 3-1 1 2zM2 339l-2 0 0 7 4-3zM431 338l-8 6 5 1-1-1zM285 345l3 2 1 4 0-4 5-6 6 0-7-3-3 3-2 0-2-3zM282 339l-4 1-1-2-4 4 0 3-3 4 12-2zM226 337l0 3 3 0-1-3zM417 337l-2-2-3 0-1 1 2 0 0 8-2 1-6-2-4 2-2 4 5-1 2 2 3-3 4-1 5-4zM387 335l6 2 0-2zM88 335l5 2-1-2zM131 334l2 5 0-3zM109 334l-3 2 0 4 2-1zM419 333l0 5 7-2-1-2zM398 333l0 4 2 1 9-1zM348 334l3 1-1-2zM263 333l-2 4 2 5zM536 332l3 3 3-1 0-2zM120 330l0 5 2 0 0-3zM81 330l-1 4 2 1 1-3zM524 328l3 3 0 4 2 0 0 3 0-2 4-4-4 2 0-4zM498 325l1 3 7 2 0 4-7 0-2 5-5 0 9 3 1 2-5 5 2 2 5 0 0-8 7-4 0-7-2-6-2 2-7 0zM484 325l-3 3 2-2 1 1-1 2 3 1 2 7-1-3 2-3-2-4zM205 325l-4 3 0 3 3-2zM78 325l-5 4 3-1zM314 322l0 9 8 0 2 2 0 3 2 1 1-1-3-3 1-6-2-2-4 1zM347 327l7 0 3-3 6 6 4-4 10-2-10 0-2-3-8 2-2-2-4 4-3-1zM501 319l-2 0-1 2 2 0zM540 318l-4 4 1 2-3 0-3 5 6-2-1-2 3-3zM485 317l-1 2 2 1 1-2zM134 318l-1-2-2 1zM555 315l-7 2-1 5-4 0 2 2 4-1 6-5zM403 314l-3 3 1 2 3-1zM389 314l-4 1 0 2-4 2-1 3zM381 315l-5-1-1 8 1-5 2-2zM212 314l-3-1-2 4 4 0zM67 313l-8 5-1 4 2 3 3-4 2 0 2 3 0-4-3-3zM417 312l-3 6 2 1 3-3 2 0 5 7-1-5zM338 314l4 5 4 2 7-1-5-8zM313 314l6 0 1 2 3 0 0-4-4-1-4 4zM204 310l-4 1 1 5 5-2zM575 309l-7 1-2 3-4-3-1 1-3-2-5 0 8 7 3 6 7 0 2-3 1 5-5 3 0 5-6 2-3-7-5-1-2 3-4 0-2 8-5 2 0 5 4 2 0 4 2 0 3-3 2 2 3 0 3-3-6-2-4 0-2 2-1-1 5-11 11-1 3 4 5-5 1 2 4-2zM176 309l-4 1-1 7 1-5 2-2 3 0zM128 313l9-2-4-5-4 1zM500 310l3 0 3 3 2 0 7 8-4-5 2-3-5 0 4-4-1-4 0 3-2 2-2-3zM524 304l-7 5-2 8 2 1 0-4 2-2 4 1-1-6zM475 304l0 8 2-1 4 2 3-3 4 1-3-3-4 0zM120 306l0 4 6-1-4-5zM136 304l5 1-1-3zM102 302l2 4-2 6 2 0 1 3-1-4 2-1 2 3-4 6 1 5 2-6 4-5 0-2-2-1 2-5-2-1-4 3 0-4zM467 301l-1 2 3 2-1-3 2 0zM370 302l-8 0-1 5 5-1zM360 297l-4 4 0 2 4-3zM349 297l-8 4 7-1zM312 297l3 5-9 3-2 4 9 3 4-8 0-5-3 1zM314 303l1-1 1 2-1 1zM80 297l-5 6-2 0-5 5 2 4 3 0 2-2-1-4 4-3 1 2 2-1 3 4-2 3 3 1-4 3-2 4 7-9-1-7zM472 296l1 5 1-3 5 0 0-2zM255 296l-4 1-2 5zM173 296l-7 1-1 5 5-1 3-3zM416 295l2 2-2 3 1 1 7 1-1-4zM321 295l-2 6 6 4-1-4 5-4zM282 294l-6 5 4 1 2-2zM249 295l-5-4-5 6 9 0zM126 291l-5 0-2 5 2-1 2 2 0 5 3-5-2-2zM228 290l-1 2-4 1 3 0zM147 290l0 2 3 3 0 4 5-6-4 1zM406 290l3 2 2-1-2-2zM279 288l-7 1 2 5-2 3-5 0-2-2 1-6-3 0-1 2-9 0 1 2 3-1 2 2-2 4 3 4-1 1 4 2-2 2 1 4 4-2-1-2 4-7 11-10zM453 287l-3 5-5 1-2 2 4 7 4 0 1-2 2 1 0 3-7 8-4-1 4 3-1 3 2 1 0 2-3 2 0 3 6 6-1 2 3 4-3 3-6 0 0 5 2 1 0-2 6-4 1 1-2 2 8 1 2-2 2 4 1-4 2-1 0 5-3 3 6 3-3 5 8 5-5 3 4 4-2 3 9-1 3 2-1 1 5-1 6 3-3-2 1-3 3 1-1-6-2 1-1 5-8 0-1-4-6 0-2-2 1-2 2 1 4-8-1-4 4-4 2-5 5 5 2 0-2-8-4 0-2-3-5-2 5 4 1 3-4 1 1 5-5 5-8-5 1-6 5 2 3-4-1-5-6 6-4 0-2-4 2-2 5 0-1-1 2-5-8-3 4 7-4 1-4-6-3 0 5 3 0 3-3 3-6 0 2-4-4-7 3-4-9-8 3-1-2-2 6-4 3-6 5 7 6-2-5 0-1-4-5-1 1-3-9-3 1-3 5 1zM459 338l2 2-1 2-3-2zM166 288l3 5 4 1 4-4 1 5 4-3 2 5 1-5 4-1-5 0-1-1 2-3-4 2-5-2-5 4zM391 286l-7 0 0 9zM202 287l-2-1-2 2 1 1zM133 285l-2 5 1 4 2-2 6 0zM565 285l-1-1-4 5 4 0zM234 284l2 3 11 3-1-6-3 4zM445 283l-3 4-3 1 2 1zM141 282l0 2-3 2 1 2 2-2zM223 281l-3 3-1 6 4-2zM25 280l-3 0-5 4 2 5 3 0 2-2 1-4 2-1zM316 279l1 2 6 1-2-3zM460 278l-5 2-5 5 7-1 4-3zM402 281l-4-3-1 5-3 2 5 1 3-2zM302 279l2 3 4-2-1-2zM499 277l-3 1 1 4 2-2zM291 276l-2 2 2 0zM139 276l4 2 3-1zM339 275l0 2 2 0 5 5 2 0 3-3-3-3zM574 273l-2 0-2 3 2-2 2 1zM261 272l-3 3 4-1zM383 270l0 6 4-1 0-3zM356 270l-2 0 0 3 2-1zM338 269l-6 0-5 5 2 1 4-4zM197 270l6 3 2-3zM483 268l-4 1-2 4-4 3 0 3-5 2 0 3-8 10 4-4 8-2 5 6 2 0-1-1 3-2 4 1-9 0-2-4 8-8 0-2-2 0-1 2-2-6zM160 268l-2 0-3 3 1 2-4 2 3 3 3 0 3-3zM414 267l2 10 2 1 0 3-3 2 0 9 5-3 1 3 3 1 3-3 7-1 2-2-3-3-2 2-3-4-2 0-1 10-2 0-3-7 2-2zM514 266l-3 3-4 1 4 5-2 2-5-5 2 5 3 0 2 2 0-9 3-1zM326 266l-2 5 2-1zM271 266l1 2 3 0zM248 268l-2-2-6 4-4-1-11 7 1 2 7 3 6-3 1-7zM95 266l-1 3 3 0 0-2zM87 265l-1 3 2 1 2-3zM304 264l-3 3 0 2 4-1zM287 264l6 5-3-5zM260 264l0 3 3 2zM21 265l-5-1-3 8 2 0zM486 262l0 2 4 0zM374 263l-4-1-1 3-4 3 4 1 0-2zM44 262l-5 3-2 7 6 1 4-2 1 3-2 5 4-1-2-5 3-1-5-4zM127 261l-1 2 3 2zM0 262l10 1 0-2zM421 261l1 2-2 4 5 3-1-3 2-1 2 6 4-5-3 1-3-3 0-3-3-2-1 2zM100 260l6 3 3 4 2-3 2 2 1-1 0-4-4-1 0 4-4-3zM25 262l3-2-3 0zM457 257l0 3 2 0 0-3zM216 258l-2-1-6 5 5 1zM169 259l10 7 5-1-1-1 3-3 3 1 1 4 8 0 6-3-10-1-6-5-5 2-3-1-4 4-4-3zM49 263l1 2 5 1 0 6 2 0 1-4 2 1-1 2 5 1 0 5 2 3 7-2 3-4-2 0-3 3-3 0-3-3 0-2 8 0-4-2-3-4-1 6-4-7-1 1-8-3 0-3 2-2 7 4 3-4-1-1-3 2-7-2zM318 256l-3 0-4 3 5 3-2 3 1 2zM409 255l3 8 5 0 1-3 4-2-1-2-6 4-3-5zM138 255l5 4-1-3zM482 253l-7 12-6 0-5-8-2 3 1 1-3 3 4 5-4 1-2 4-7 0 0 5 1 1 8-4 3-5 2-1 3 2 9-7 6-2 1-2zM415 252l1 2 2-1zM349 251l-4 3 0 2 2 0 2 4zM85 252l-1-1-5 3-7-1-5 4 0 2 2 1 7-5 4 0 3-3zM133 252l0-2-2 1zM24 250l-2 0-2 4zM14 253l-5-3-5 4-1 3 2 1 4-4zM515 254l-4-1-1-5-3 1-2 5-9 0-3-5-5 0-2 2 2 10 6-9 1 2 5 1 4 4 3-1-3-2 1-1 9 1zM42 247l-2 3 2 2 0 3-3 4 6-1zM36 248l-2-1-7 7 7-1 3-2zM402 246l-8 6 4 0zM258 245l-3 1 0 3-3 3 3-1zM248 245l0 4 4-1 0-2zM353 245l-2-1-1 2 2-2zM373 245l1 2 4-2 4 2 3-3-8-1zM210 244l3 5 4 0-1-4-3-2zM561 246l1 1 4-3 9 0-3 0-2-2-6 0zM336 243l1 2 4 0 2-2 3 1-2-2zM181 242l-12 1-5 4-6-2-2 1 4 0 2 2-4 7-5 0 8 0 2-2 3 0 6-7 6-1zM12 242l-4 1-3 3 2 1zM134 241l-3 3-6-2 0 9 8-4zM420 240l4 2-2 5 12 11 6 3 4 0-2-7-7-1-3-2 2-3-1-2-4 3-4-8zM449 238l-5 0-2 6-2 2-3 0 4 3 3-1 2-3-1-3zM319 238l-1 5 3 1 1-5zM439 239l-2-2-3 5zM210 237l-12 2 2-1 8 2zM136 237l0 6 3-4 4 1zM298 237l0 3 4-2 3 4-1-5zM219 237l11 4-3-1-1-4-4 2zM95 236l-3 0-3 3zM22 236l-2 3-4 2 8 7-1-4-3-1 3-2zM412 235l-2 7-4 4 3 0 1 2 3-1 0-8 2-2zM553 242l3 0 3-3 4 0 4-4-2-1-2 4-6-1-1-3-3 5zM483 243l9 0 1-3 11 7 4-2-6 0-3-3 2-6 5 1 2-2-14 3-3-1-1-3-3 4-3-1zM524 234l-6-1 2 1-5 2 0 4 6 0 3-3zM264 233l-5 4 3 0zM129 234l-3 1-3-2-3 1-4-2-2 7-2-2-3 4-4-4-6 3-2 3-7-1 0 2 8-2 4 1 5 5-13 0-5 3 17-1 5-4 1 1 2-6 3 2 2-3 9-4zM319 231l5 6 3-3-2-3zM311 232l-3 0-2 4 3 0zM433 234l1-2 5-1-5-1zM343 230l-1 1 6 5 0-2zM242 231l6 7 1-6-2-2zM35 234l-4-1 1-3-5 2 1 3zM397 229l-4 0-8 4-4 6-6-1 6 1 5-4 6 2-1 5-4 3-2 7-6 8 2 1-2 3 4-4 0-2 3 1 2-4 1 3 3-4-4-1 2-6 2-2 3 0 1-3 3-2 2 2 2-3-4-3zM38 229l1 5 5 3-2 3 2 0 4-6-1-1 4-2-3-2-6 2zM404 229l2 2 3-1 3 3 4-2-3 0-5-3zM188 232l7-2 3 4 1-3 3-1-11-2-3 1zM140 228l-3 3 1 3 4 1 0-6zM59 235l11 0 2-2 6 1 5-3-14-3-6 5-3 0zM282 227l4 14-1 1-15-4 1 4-3 6 5 3 3 0 0-3 4-6 4 6 2 8 4 4 1-7-7-5 1-5 3-2-1-7 2-1 0-4zM266 227l0 2 4 4zM546 224l-3 0-1 4-4 0-2 6 4 3 2 6 7-3 1 5 3 4-3 3-4-3-5 0-9-8 0-2-3 2-2 6-6 2 4 0 2-2 1 2 2 0 0-4 3-2 6 6-2 3-2 0 0 3 6 3-7 1-1-8-2 1 1 4-2 3-2-1-3 3-6 0 0 9 4-1 0 5 6 6-3 1-3-2-7 6 6-4 7-1 2 2 0-2-3-3 1-5-4-3 1-1 4 2 1-2 6 6-3 9-8 1-4 3-1 8-2-4-4-3-1 2-6-3-1 2-2-3 1-4-5 11-2-3-7 0-4-8 5-4-3-2-3 1-4-3 2 2-1 3 2 2 1 5 4 3-1 5 1 1 1-2 8 3-6 1-3 3 2 5-3 3 3 3 2-1 0-3 2-2 4 0 2-2-3-6 3-8 6 2-2-2 1-1 3 1 3 7 6 1-3 4-2 0 6 0-1-1 2-5 3 4 3 1 10-4 2-5-3-1-1 2-4-1 0-2 3-2 2-4 7 3 0 6-3 4 6 1-1 3 2 4-11 1-3 5 0 4-2 2-6 0-1 5-5 3 4 0 2-4 10-1 0-6 6-2 2-3 3 0 4-7 2 1-1 1 4 0 0-5-2-2 1-1-8 0 5-1-4-2 4-7 8 0-1-1-3 2-2-7 2-6-2 0-1-3 6-7 2 3 4 2 0 3-4 0-1 3 9-2 4-7 2 1 0 3 0-6-2-1-2-6-7-7-5 0-2-4-4 0-3-2-1-5 2-2 0-3-4-3zM540 272l12 10-3 4-3 1-2-2-1-5-5 0-2-2zM543 266l4 3 0 2 8 3-3 1 2 4-1 2-12-12zM552 265l1 1-2 3-3 1-1-3 2-2zM523 261l1 2-2 1-1-1zM528 261l1-1 1 2-1 1zM545 229l2 4-4 3-1-1zM515 224l3 2-1-2zM504 224l0 3 3 0 5 5 4 0-1-5-3 5-3-3 0-2-2 0zM447 250l4-2 3 2 4-6 4 5-2 5 5-2-1-7-6-1 5-6 2 0-1-5-3-2 1-2 5 3 6-5 1 2-2 2 3 2-2 6 10-5 0-5 7 1-4-5-2 0-7 7-3-1 1-6-2 2-6 0-6 3-5-6-2 4-7 3 0 2 2 2 7-1 1-6 4 8-7 3-1 4 3 3-8 0zM368 224l4 2 2-1zM351 230l2 0 2-4 3 0 6 5 2-2-3 0-3-3-6-2zM344 224l5 3 2-1 0-2zM238 223l0 4 2 2zM120 222l-2 0-1 3-3 2 7-1zM84 223l6 0 2 2 0 6 2 0 4-4-1-5-4 2-7-2zM143 225l1 2 9 3 2 5 4-6 0-2-8-6-2 0 3 4-2 2-6-3zM282 220l-5 0-6 3-1 2-3 0 4 1 10-4zM211 221l3 0 3 5 3-1-1-5zM298 218l4 2 0 2-2 1 1 2 9 1-3-3 0-2-2 0-3-3zM73 219l-26 0-2 2 7 5 1 4 2-6 3-3 5-1 3 2 6-1zM119 216l-7 6 4 0zM103 215l-7 2-2 3 6-4 3 2zM194 212l-6-1-8 2 5 5 2-2 1 2-4 3-2-1-3 3 9-2 3-5 4-1-2-1zM6 211l-3 3-3 0 0 4 5 2 2-2zM161 215l4 0 3-5 5 0-8-1zM29 210l-8-1-6 4 0 2 2-2 4 2 6-1zM263 207l0 2-4 3 1 1 4-3zM286 207l-3-1-4 2-5 6 3-3 9 1-2-3zM89 206l6 7-1-6zM140 205l-3 0-3 5 3 1zM183 206l3 2 10-4-13 0zM257 204l-2-1-6 2 7 1zM102 203l2 5 7 1-3-6zM233 208l12 0 3 2 3-1-10-8-5 2zM19 200l-1 6 8 1-1-7zM150 199l5 7 5-3-1-4zM69 201l-4-2-1 3-2-2-7 0 2 3-1 2-6 4 3 3-4 1-3 3 5-1 8 2 4-7 0-4 2-2-1-2zM272 198l-5 6 5-1zM3 198l-3 0 0 3zM290 196l0 2 4 0 5 7 5-3 4 2-1-7-8 4zM0 196l4-2-4-1zM237 194l-4-2-1 2-2-1-9 6-9-5-9-1-3 3-2-3-5 5-4 0 5 1 12-4 0 2 12 0 5 3 6-4 4 0 0-3zM86 192l0 2 1-1 3 3 0-2zM308 190l1 2 2-1zM156 190l2 5 4 0 3 3 1-1-1-5 3-2-6 2zM170 187l3 4 4 1-2 0-2-4zM41 187l-6 3-2 4-2-4-6 1 1 5 3 2-2 1 6-2 1-4zM151 189l-3 0-3-3-5 2-6-1 8 4 1-3zM304 185l3 0 4 3 0-3zM303 183l-8 5 8 2-3 3 1 4 3-3 0-3-2-2zM44 183l-1 3 3 2zM220 186l5 2 4-3 3 3 4 0-2 0-4-5-6-3-1 4zM287 179l-3 1-6 7-3-7-2 0-4 4-4-4-4-1 0 3-3 2-6-3-2 3-5 1 0 2 4 4-1 2-6-4-6 1 3 4 8 2 1 4 4 0-1-1 3-1 0-8 7-7 9 4 11 1zM242 193l5-1 1 2-3 1zM119 179l-3-1 2 3-2 3-5-3-1 2 6 2 3-3zM47 182l3 3 4 0 1-4 6 0 1-2-3 0-2-4-7 0 3 0 5 4zM203 172l1 4 3-1 0-2zM50 170l-4 4 0 3 2-1zM303 168l-2 3 3-1zM115 168l-2 1 1 2zM34 167l-2 0-5 5 4 1 3 4-2 2-1-1-2 4-6-2 4 4 2-2 3 0 2 2 3 0 2-2 0-4-6-2 6-2zM18 172l0-4-4-3-3 2 2 3-1 1-3 0-3-3-5 0 3 2 0 3 2 2 4 1zM44 159l-3 5 3 2-2 2 2 6 3-9zM52 157l0 2 5 3zM241 158l-4-2-8 5-7 0 3 2 6 0 8-6zM99 153l-2 0-1 3zM22 157l1 1 3-3 6 4-6-6zM46 151l2 2 4-1-2-2zM55 151l3 1 4-3-5 0zM311 146l-3 3-2-1-1 2 5 0zM39 146l1 8 4-3zM56 140l-4 1 1 4 3-2zM96 133l1 4 2-1 0-2zM47 132l2 3 4 1-4-5zM150 137l6 4 5-1 0-5-4-5zM148 128l2 2 4-2-3 2zM1 127l-1 2 2 0zM223 126l3 4 7-4zM39 137l-7 3-4-8-3 2-4-3 3-3-2-2-5 0 1 9 1-1 2 2-5 2 3 3-8 6-2 0 1 1-2 2-8 0 0 13 4 2 2-1 6-10-1-4 4-3 5 4 4-1-2-5 1-1 11 1 0-2zM17 144l3 3-1 3-4-3zM38 122l3 2 0-2zM145 121l10 0 1 1-4 3-3-1 3 2 10 0 1-2 2 3 5-4-4-1-3 2-5-5-10 0zM65 120l-8 0-5 7 4-3 6 1 3-3zM207 117l0 4 6 3zM0 115l0 6 4-2 5 4 8 1 2-6-7-5-4 0-4 3zM43 112l-4-2-4 4 4 1zM35 103l2 3 4 0 6 4 3-1-1-2-2 1-1-1 2-2-7-5zM25 100l0 3 4 4 2-3zM82 99l-4 2-2 4 3 2 5-2 1 1zM279 100l-5-2-1 2-2 0 1 4-4 3 1 1 2-2 3 0 2 3 2-2-6-3 4-1zM115 93l0 2 4 3 3-3-4 1zM304 87l2 4 5-1-1-3zM264 89l-2-4-5 3 3 2zM195 83l-4 3 0 4 7-2zM211 85l12 0 0-2-2-2-5 1-2-2 0 2zM66 79l2 2 3 0zM25 77l-3 1 2 4zM273 75l2 3 3 1 1-4zM43 76l-2-1-4 7-5 0 0-3-3-2-2 1-2 6-3 0-2-2 2 4-4 0-2 3-3 0 5 2-2 6 7-1-5-4 2-3 4 1 6-1 2-2-7 0 0-2 8-1zM183 75l-3-1-3 3-4-1 0 3 2 2 7 0zM184 71l6 6 3-3-1-2-3 1-2-2zM293 69l0 2 2-1 3 2 4 0 3-2-6 0-2-2zM72 69l2 3-1 6 16-6-4-3-1 1-1-2-3 2-2-1 1-1zM8 78l8 1 4-4 4 0-2-4 1-2 10 1-9-4-8 0-2 1 2 3-1 2-6-1zM53 65l4 6 3 1-5-4 1-3zM139 65l4 0 1 2-2 2 4 0 5 4 12 2 0-2-7 0-5-2-3-3 0-2 3-2zM274 60l5 2 4-4-4 2-5-2zM59 58l-2 3 5 4 1-3zM70 57l0 3 3 1 1 3 7 0-2-2-5 0-1-5zM50 55l-4 5-3 1 5 0zM45 56l-7-1-9 3 0 5 6-4 5 1zM194 53l-3 0 1 5zM0 53l7 5-3-4-2 1zM268 51l-15 4-13 0 2 5 3-3 12 3 1-1-4-1 2-3 7 1zM220 58l3-4 11 0-2-2-5 1-2-2zM309 52l-5-6-3 3-5-2-3 3-2 0 3 1-4 3 11 0 4-3 3 2zM90 52l0-2-4 0-4-4-5 2-6-1 2 3 7-2 2 3 4 2zM195 42l-4 1 0 7 3-6 2 2zM13 44l4 0 2-2-4 0zM250 41l3 2 6-1 4 4 4 1-1-6-5-3-2 0-3 3zM63 39l-5-1 4 2-8 4-1 2-9 1-3 3-7 0 12 3 3-6 9-1 5-4zM216 38l-4 0 2 3-1 2-9-1-5 4 5 0 4 2 3-3 3 0zM149 36l4 0 4 3 8 2-1-4 3-5-9-1-4 5zM309 30l-6 2-4 4 1 3-3 0 3 0 4 4 0-10zM277 40l2 0 1-3 4-2 12-1-5-2-10 2-1-4-3 5zM91 30l5 4 2-2 6 0-3-2 0-2-3-1zM77 29l-3-2-7 2-4-1 2 3zM205 31l-6-2-5 2-2-5-4 6 0 4-4 1-4 4-4-1 5 3 4-3 4 0 0-5 3 1 6-5 2 0 1 2zM118 25l0 3 2 2 1-4zM126 23l2-1 3 3 3-3zM296 20l2 4 10-1-2 0-2-3zM261 17l-3 4-2-3-2 0-1 4 4 1 2-3 1 1zM283 16l0 4 3-2 6 0-1-2zM193 16l-6-1-2 4-4 0-2 2 11 0 1-4zM165 12l1 3 2-2zM162 13l-7-1-2 2-5 0zM171 13l7 2 6-7-11-2zM222 5l1 3-5 7-2 6 3 2 3-3 4 1 4-2 6 3 6 0-5-8-6 0-2-2-2 0-1 3-2-1 0-4 2-2 4 0 2-3-3 1-3-3 1-1zM76 3l-5-1-4 6-3 0 0 3 4 1 5-4 4 0zM98 17l2 4 2-2 12-3 3-3 16 2 4-4 7 1-4-3-9 1-3-2 8-1 3-6 4 2 10 0 2-2 3 0-25-1 4 0 1 1-2 2-11 0-3-2-4 2-6-3-13 0-1 1 8 6 4-2 7 3 3 3-2 1-2-2-4 0-4 6-9-2z"/><path fill="#70c24e" d="M451 431l1-1-1 1 2 2 3 0zM373 433l4-3 4 1-6-1zM358 430l1 2 3-1zM173 433l-2-3-4 3zM246 431l0 2 17 0-13-4zM183 430l-2-1-1 4zM150 432l5 0-3-3zM292 431l1 2 3-3 5 2-7-4zM280 428l4 1-4 3 2-2 4 0-1-2zM234 427l-9 3-2 3-3 0 15 0-2-2zM126 427l-4 6 5-1zM354 426l-7 2 4 1zM444 424l-4 3 1 1zM340 424l-4 5-5 0-3 4 8 0 5-6zM114 433l-2-6-4-3-1 3-13 2-3 3 12 1 2-3 4 0zM261 423l-3 1-1 5 2 1 2-1zM214 422l-3 0-1 6zM122 421l5 4-2-4zM305 419l-4 5 1 2 6-3zM59 428l5 0 0 2 6-1 3 4 8 0-1-3-6 1-3-3-5-1 7-4-1-3-4-2-2 4zM471 417l-3 0-2 4 2-3zM348 417l-7 3 3 2zM6 413l-2 2-4 0 3 6 3-3-2-1zM466 413l-6-1-3 3 2 4-1 3-6 2 4 0 6-3zM435 412l-3 4 4-1zM145 412l4 0 5 4 0-2-3-3zM304 412l6 1 2-2 2 2 0 3 1-1-5-5-5 0zM86 411l-3-1-7 11 3-2 8 0zM40 410l-1 6 3 2 1-6 3 5-1-6zM34 410l-10 1-3 4-4-2-2 1 3 4 3 0 3-3 10 9-7 6-2-3 4-2-4 1-4-3 0 5-3 2-1-3 2-3-4-2-2 10 4 1 3-3 8 1 1-2 5-2 2 1-1 3 2-11zM108 409l1 3 4 1zM420 408l-4 6 6 1 1-1zM199 408l-4 1 1 5-2 3-3 1-2 8 1 3 3-6 4 1 0 9 1-4 7-4-7-2-4-3 3-1 2-3zM186 407l-6 1 1 3 2 1zM67 407l-2 3-6 0-4 4 4 4 6-3zM436 407l1 2 5 0-1-2zM456 405l-2 1 0 2 2 1zM377 405l3 8 3 3 2 0-3-3 0-5-3-3zM209 404l-1 3 5 2-2-5zM188 406l7 1-2-3-3 0zM385 403l0 2 3 0 0-2zM355 403l-3 7-4 3 3 1 2-2zM313 408l3-1 2-3 3 2 0 4 10-4-5-3-9 0zM159 403l2 2 3 0zM260 405l2 6 3-9 10 5-9-5-3 0zM220 403l6 3 0-4zM127 402l-1 2 1 2 2 0 1 4 1-6zM413 401l-4 1-3 3 0 3-1 1-1-2-7 9 4 7 4-1 1 2 1-5 6 3 4-1 1-2-4 1-3-2-4 1-2-2-3 0 2-3-1-4 3-2 4 0 4-5zM296 400l6 1 0-2zM470 396l-4 2 2 0 1 3 2-1zM269 395l-2 5 3 0 2 2 0-6zM413 394l0 3 3 2 1-2-3 0zM278 394l2 2 3 0zM238 394l-3 5 3-1zM70 399l6 0 4 3 0-3-5-5zM404 393l2 2 0 3 4 2 0-7zM202 398l-5-5-4 6 2 1zM144 393l-1 7 2-5zM452 392l-5 2 3 8 0-2 3-1zM205 397l6 3 4-2-6-6zM319 391l3 2 3 0 2-2zM17 391l3 7-1 3 3-4zM120 392l6 0 2-2-8 0zM132 388l1 6 3 3-2-2 2-6-1-1-1 2zM379 387l1 3 2-1zM187 387l-4 1-1 3 6-1zM99 388l-3-1-5 2zM0 394l7-1 3-4-4-2-6 0zM246 385l-1 5-3-3-1 2 2 2 0 6 4 0 1-4 4-2zM233 385l2 3-2 4 4-1zM285 384l0 2 3 2 1-1zM422 382l6 6 2 0 3-3-6-3zM11 383l-2-1-1 3-3 0-2-2-1 1 7 1zM357 380l8 6 1-6zM351 379l-6 1-2 6 3-3 4 3zM212 378l2 6 0-4zM121 377l5 1 11 6-4-2-3-4zM78 377l1 4 3-3 5 2-3-4zM176 375l-4 5 3 2 0 2 3 1 3-3-4 0-1-2 5-2 1-2zM106 375l1 3 3 1 0-2zM5 375l-3 2 2 0zM115 374l-1 10 2-2zM264 373l0 7-5 4-1 3 5-2 2 4-8 1 6 3 3-4 3 0 0-2-2 0-3-3 0-4 2 0 2-3zM542 372l-2 4 5 2 1-3zM314 372l7 6-3-2-2-4zM222 372l-2 2 0 5-3 1 3 2-1-2 4-4zM167 377l-5-5-1 5-2 2 4-3zM271 370l7 8 3-2-6-6zM252 370l0 2-6 5 5-2 2 2 0 5 2 0 2-3 0-6zM97 369l-5 2 4 2-1 4 2-1zM41 369l4 10 2-1 0-5 6-2zM552 368l0 3-3 4 4 3 1-3-3-1 4-1 0-2zM61 368l-3 2-1 3 3 1zM420 368l-3 0-2 2-4-3-9 3 5 6-3 1-4-4-8 6-6-5-2 0-2 6 4 0 2 2 6-2 5 3 1 6 2 2 4 0 2-2 5 2 0-2-7-5 2-2 3 2 1-3 3 2 5 0-4-9 0-3zM413 380l1-3 3 1-3 3zM153 367l-2 3 2-1zM368 368l1 4 7 0 1-2 4 0-8-1-3-3zM141 367l1 3 5-1 0-2-3-2zM486 364l4 7 0-6zM333 365l2 8 13-4 1 2 1-1 6 2-19-9zM283 366l11-1-3-2-5 0zM226 366l1 3 4 2 2-2 4 0-1-5-4-2-4 1zM113 364l2 4-2 3 3-2 0-6 3 1 3 4 6 1-7-7zM7 362l-2 2 1 1zM501 364l-4-3-4 4 3 2zM445 364l-3 0-1-3-4 3 0 7-7 1 16-1zM360 361l-3 4-3 1 3 0zM158 361l-3 3 2 7 2-8zM314 364l1 3 7 3 3-2-6-3 6-1-4-4-2 3zM254 360l-3 2 2 3zM220 360l-3 3 0 5 2 2zM575 359l-2 0-1 3 0 8 3-3zM553 359l-7 3 4 2zM464 359l-4 6-1 5 4-1-1-1 2-1 4 7-2 1-3-3-7 6 3-2 7 4 2-1-1-4 3-3-3-3-1-5 6-3zM3 358l-3 0 1 5zM232 357l4 2 0-2zM66 356l0 4 4 5 1-5-2 0zM293 357l4 5 0 3 3 0 2-8-4 0-1-2-1 2zM272 361l8-1 2 2 1-2-5-5-3 0 3 0 1 2zM404 360l-5-6-4-2-4 8-1-5-5 0-3-2 0 9 2 1-1-1 4-2 1 4 6 3 0-2 7-1zM0 353l10 3 4-1 0-2zM209 351l-2 2 0 4-3 3-9 4-1 3-5 4-5 9 1 1 10-5 6 1 9-4 4-9-4-1 0-5 3-1 0-2zM208 359l2 3-2 8-2 3-5 1-4-3 2-2-1-5 6-1 1-3zM518 350l0 7 3 0zM364 350l2 4 2-3zM459 353l3 3 4-1 2-3-6-3zM325 349l-4 0-2 3 3 2 0-3zM142 350l4-1 2 2 1-3-5 0zM560 346l-4 4-6-1 4 3 1 5zM438 345l-1 5-3 4 3-1 2-6zM308 345l0 4 5 0 3 3 0-3zM65 345l0 7 1-2 5 0 1-4-4 3-1-4zM13 344l1 6 5-4 4 1-2-2zM404 342l-4 1-3 5zM267 343l-6 0 0 3-2 2 2 6 3-3 4 0zM374 343l0 2 4 3 4-5 9 5-1-4-5 1-2-4-2 2-3-2zM160 348l0 2 4 2 2 4 5 4-6 4 2 4 3 0-1-4 5-5 3 5 2 0 1-3-4-2 3-2 3-6 3 0 0 3 3-2 2 1 0 2-5 5 6 4 2-1 0-6 8-5 0-4-3 2-1-3-10 2-5-3-1 1-3-5-4 1-3-2-2 0 0 6 2 3-5 2-3-2 3-8-1 3zM191 353l2-2 4 2-2 2zM132 342l0 3 3 0 2 3 0-5-3-2zM26 341l-1 6 3 10 2 0 1-4-3-7 6-3-3-2zM512 340l-3 0-2 3 0 8 6-5 1-4zM493 340l-2 0 0 5 2 2 0 2-3 1 1 7 8-4-3-4 5-5zM368 340l0 4-2 2 4 2 1 5 2-3-4-4zM230 338l1 3 2 0 2 3 1-4zM351 337l-4 0 0 5-4 3 6-3zM101 338l1 3 3-1 1-3zM59 337l-2 0 0 3zM54 337l-5 0 1 2-7 6-1 3 3 3 0 3 4-3-2-3 0-5 2-2 4 0 2-3zM478 336l1 3 1-2zM363 335l5 2-1-2zM361 335l-3 3 5 2zM316 335l1 2 7 0zM200 340l-5-5-4 3-2 4 1 1 3-2zM151 340l4 3 7-1-5-5 0-2zM247 333l-2 3-3 1 5 0zM113 333l-3 1 0 5 2 0-1-3zM66 333l0 5 6 2 2-7zM465 331l1 3 2 0zM395 331l-1 7 8 2 1-1-6-2 1-5zM438 330l4 5-1 5 9-1-2 0-8-9zM413 330l1 2 1-1zM303 330l-4 2 3 8-3 3-6 0 9 9 0-10 12-1 0-2-9-4-2-2zM62 327l-4 3-1 3 4 0zM368 327l3 3 1 8 6 0 2-2-1-4-4-2-2-4zM230 325l-2 0-4 4 3 5zM239 324l-4 2 0 2 2 3 3 1 2-7zM209 324l1 4 2-1zM544 326l-5-3-2 2 1 2-5 4 10 0zM57 326l-3-3-7 0 0 2-2 1 1 2-5 0-1 3 5 0 2 2-4 2 2 1 4-5 3 0 0-6 3 2 0 2 2-1zM406 323l-3-1-4 4 0 3zM182 326l8 3 2-1-7-7zM487 320l-3 2 2 1zM384 320l-2 1 0 2 3 4-2-3zM244 321l-1-1-1 2zM13 320l0 2 7 2zM454 319l-1 1 4 5 1-1zM266 319l-2 10 1-2 5 1 2-3-1-3zM35 319l4 2 1 4 0-5zM300 321l3 0 3 3 4 0 2 5 2 1-2-6 2-4-3 0-1 2-1-4-2 0-2 3zM210 317l-3 1-1 5zM47 317l-2 4 4-1-3-2zM323 318l0 3 2-1 2 5 3 1 3-3 3 3 1-1-2-2 2-4-4-3zM203 316l-2 1 0 10 3-3-3-3zM163 316l-1 2 4 2 0-2zM394 315l-6 1 4 3 0 3-2 2 5-6zM384 316l-6 0-1 6-3 1 5-1 0-2zM116 315l0 2 2 0zM233 319l2 1 2-3 6 1 3-2-1-2-10 0zM476 313l3 6 2 0 2-3 4 1-1-2-6 2zM349 312l4 6 1-4-3 0zM251 316l2-2 3 4 5-6-8 0-2 1zM3 312l-3 2 0 13 3-2 2 0 1 2-2 4-4 2 1 5 4 3-2 4 8-1 1-4-1-2-5-1 3-3 4 0 3-3-4-1-4-7-6 0-2-2 4-4zM291 311l0 2-7 5 1 2-4 4 0 3 3 4 3-2-1-4 6-8zM114 311l-6 7 6-2-2-1zM553 312l-2-2-3 2-1 3 6-1zM516 310l-4 6 2 3 3 1-3-3zM226 309l-3 0 1 10 3-9zM283 308l0 5-6 5 5-1 4-3zM435 307l1 3 3-1 3 3-1-2zM374 311l-2 1-3-5-1 6-10 8 3 1 7-3zM197 306l-1 2 2 1zM93 305l-6 6 3-2 2 5-7 2 0 5-6 3-1 2 2 4 5-2 1 1 0-4 3-1 4 1 2 4-1 2-2-1-2 3-6 0-2 3-3-2-2 1 1 2 5 0 1 12 2-3-1-9-2-1 3-1 3 4 3 1 1-2 4 1 2-4-6 3-6-3 8-1 4-5 5-3-3-7-2 0-1 4-1-1 0-7-3-3 5-5zM38 304l-1 2-2 0 2 0zM574 302l-1 5 2 1zM520 302l-8 1 0 4 1 1 0-2 3-3zM303 302l-3 0 0 2-2 1 2 6 3-2zM155 301l-2 6 5 2 2-6-2-2zM332 300l6 8 6-5 3 0-1-2-7 3zM257 299l-3 0-3 3zM467 305l-2-2 2-3-1-2-9 3 4 1 1 4zM404 298l-2 4 3 1-2 2 2 1-4 5 3-2 6 1-6-5zM132 297l-2 2-3 0 4 4zM522 296l0 5 2-1zM520 296l-7 3 5-1zM502 296l3 5-1-4zM69 298l-2-2-2 4-6 4 0 2-3 3-5-1-2 2 0 5 2-1 2 2 1-2 5-1 2 3 8-5-2-2 4-4zM388 296l5 1-2-2zM375 294l-5 1 2 5-1 2 3 1 0-3 3-4zM14 293l1 2 5 0 3 6 2-1-7-7zM440 292l-4 4 0 5 3-2 2-5zM340 295l5-1 2-2-7 1zM280 293l-2-1-8 9 8-4zM52 293l-2-1-3 4-5 1-1 2 4-1 4 2zM9 294l3-2-3 0zM177 291l-3 3 1 3 2-1zM330 290l0 6 7-1-3-4zM302 290l-2 0 0 10 4-2 3-4zM36 290l-4 4 2 2-5 3 1 3 6 0 0-5-3-2zM234 289l-4 2 4 0zM207 290l-1-1-1 3-5 3 6-1zM120 291l-6-2-7 9-7-3-7 0-1 3 9 0 4 2-2-2 1-2 3 2 4-2 0-3 2-2 6 2zM105 289l4 2 0-3zM370 289l-1-1-4 2-5-3-9 7 5 3 0 3 4-4 2 2-1 2 9-8zM163 286l-1 3 5 5 3 0zM453 286l-4-1 0 6-5 2 6-2zM440 285l-7 5 1 1zM318 285l0 9 3-2 0-3zM279 284l5 3 3-1-1-2zM349 286l6-1-4-2zM220 283l-2 2 1 2zM67 283l-2 2-6 1-1 2 3 9 2-1 0-4 5-8zM499 281l0 3 4 3 2-6zM239 285l4 2 3-4 2 2 0 5 1-7-2 1-2-3-4 4zM331 280l3 2 0 5 2 0 3-4 3 0 0-2-2-1zM158 280l-18 9 3 16 4-1-4-3 0-5 4-3-1-3 2-1 3 4 3 0-3-7 4-2 0-2zM329 280l-2-1-2 4zM45 279l-2 0-1 2 1 1zM30 282l6-3-5 0zM94 280l8 4 3-1-3-4-1 1-2-2zM383 277l-2 1-2 6 1 5-2 2 4-5-2-2 4-2-2-2zM295 278l1 5 6 3 5 0 3 5 5-6-3-5-9 3-6-6zM76 275l-3 4-4 1 0 2 3 3 6 1 1-4-1-5zM12 275l-7 4 5 0zM551 273l-1 5 3 2-2-5 3-1zM320 273l0 3 4 3-2-5zM189 275l-2-2-2 4 4 0zM251 271l-1 1 2 1 1-1zM137 271l0 4 8 0-1-4zM417 270l0 3 7 7-3 1 5 0 0-4-4 1zM120 274l6 4 1-5 6 0-2-2-5 1-1-2-2 0zM301 270l1 3 7-1 0-2-2-1zM58 269l-2 6 3 4 5-1 0-5-5-1zM327 268l1 4 2-2zM94 270l-6 4-3 0 0-5-2-1 1 2-2 2 0 10 2 4 8-7zM398 271l3-2 2 1 2-3-6 0zM259 267l1 3-4 1 0 4-2 2 2 0 2-4 4-2zM184 268l13 1-5-2zM12 269l-2-2-3 2-4 0-2 2 3 4 2-3 6 0zM519 266l-3 5 5 8 3-1 4 2-6-6 1-4-5 0zM286 266l9 9 3 0-1-3-2 0-1 2-1-4-4-4zM411 263l-4-1 4 8-8 4 0 4 2 0 0-3 7-5 1-4zM229 263l-9 0-3 2-4-1-4 4 6 1-2 2 0 3-5 3-9 0 0 3-4 2 6 1 2 4 3-4 6-1-3-2 0-2 6-4 3 0 2-4 6-6zM218 267l1 5-2 1-1-1zM337 262l8 4 0-4zM100 261l4 5 3 0-1-2zM25 263l-1-2-2 0-3 3zM375 260l-1 2 3 1zM95 260l-1 2 3 4 1-4zM53 260l0 3 4 0 3 2-6-6zM80 258l0 2-3 3-2 0 3 2 1 4zM516 257l2 4 2-3zM155 260l-2-3-6 2-3 3-6 1 5-1 2 2 2-3 4 1zM127 257l-12 7 7 1zM320 256l-2 2 2 2zM272 257l5 1-4-3zM189 257l3 3 6 2 0-6 2-1-4-1-4 4zM299 256l-4-3-2 3-2 0 0 3zM384 252l-3 2-4 0 4 2zM109 252l-2 2 2 4 5 2 1-4zM426 251l4 5-3 9 4 2-3-3 4-2 0-5zM265 251l2 2 4 0zM40 251l-1 3 2 1zM72 252l-3 2-4-2 1-2-14 2-2 8 2-4 6 2 5-2 3 1zM359 249l-1 2 4 3-1 2-2-2 1 6-7 0-3 6 6 0 0-2-4-2 1-1 7 1 6 4 3 0-6-8 7-2-1-6-7 1zM88 249l-3 2 3 0zM254 247l-10 7-1 9-3 3-10-1-1 2 2-1 6 2 8-4 3-11 3-1 3-3zM532 246l-2 4 1 1 2-1zM127 251l3 4 8 2-1-3-5-1-2-2 3-2 1-3-1 2zM565 246l7 5-1-4 3-2zM10 250l9 3-1-7-2-1-4 5zM448 244l-4 6 2 0zM349 245l-2-1 0 2-6 3-5 6-4-3-7 4 2 6 4-6 8 0 3-4 4 1 3-4zM174 246l2 2 4 0 3 3 4 0 5-4 3 0-2-2-3 0-3 3-2 0-2-4zM149 251l3 1 5-4 4 0-10-4-2 3zM335 243l-5 2 3 1zM324 244l-1-1-3 2zM399 241l-4 5-4 1-2 6 4-1 7-9zM372 242l0 2 4-1-2-2zM409 240l-2-1-5 2 1 5-3 6 2-1 1-4 6-5zM220 239l1 2 1-1zM417 238l-1 7 5 1-7 5-1-2-3 0 4 4 1-2 5 1 4-2-3-3 2-5-2 0zM247 239l1 5 5 1 0-5 4 0-7-2zM349 237l-2 4-3-1 3 2 3-1zM436 236l-3 3 0 2-4 2 3 0zM382 239l8 0 1-2-5-1zM215 235l-2 1 4 2-2 6 3 2 0 3-5 1-2 2 0 6 3-2 4 1 3-3-4-16 1-2zM24 242l7-4 3 1-2 4 5-1 1-6-8-1zM485 234l-1 2 4 2-1-2 2-2zM297 233l1 3 1-1zM265 233l-2 5 4-2zM23 234l-5 0-1 2-4 1-1 3 3 1 5-3zM433 232l-2 2-3 0 3 1zM334 231l1 2-3 3-4-1 3 5 2 0 3-4zM535 230l-3 3-5 1 1 6 4-2 0-3zM209 235l0-3-3-2-6 1-2 4-3-4-5 2 9 3zM90 230l-1 7 5-2zM457 229l2 5-2 1 3 1zM398 229l1 4 5 1-3-5zM477 228l-2 3 2-1zM341 229l8 2-3-3zM409 228l5 2 3-3zM267 227l4 6 1-6zM312 227l-7-1-3 4-6-1 10 1 1-2zM181 226l0 3 2 0zM178 229l-2-3-2 0-1 3-4 2 2 1 4-3zM250 229l4-3 3 2 6-1-5 0-4-2zM19 227l3 0-2-2zM575 224l-6 1-5 5-6 1-1 5 6 1 3-4 2 4-3 4 5 0 4 2-4-4 1-3-2-1 5-3 1-2-3-3zM460 224l1 3 6-1-3-2zM435 224l0 5 6 1 2-2-1-3zM362 224l2 3 3-1 0-2zM314 224l1 4 6 3 2-1-3-6zM18 224l-4 0-4 4-5 0 2 2-2 4 6-1 6-6-3-1zM60 221l4 3 6-2-4 1zM224 221l4 0 1 3 5 5 2 0 1-7-5 1-2-4zM110 228l2-2 3 0 3-5 3 1 0 3 2 2 4-3 5-1-8 0-2-3-3-1zM157 220l4 5 0 4 10-6-12-5zM16 218l1 3 5 1-3 0zM91 215l0 2 4 0-1-2zM261 214l2-1 3 4 2-2 5 0-4-1-3-3-4 1zM128 210l-6 3 3 1zM45 215l4-3 3 0-1-2-5-1zM308 208l-1 1 4 3 0-4zM308 200l2 5 1-4-1 1zM70 201l4 4 6-5 3 2-3-3-4-1zM163 211l-3-2 1-5-2 5-4-1-3-6-3-2 1-2 4 1 4-3-1-1-3 3-6-1-5 3-4 0-5 5 1 1 2-2 3 0 1 2-2 4 4 0 8 4 4-3zM311 193l-2 2 0 3 2 0zM175 193l9 7 4-3-5 0-4-4zM229 193l1-1 3 2-1-2zM54 192l3 3 3-1-2-2zM87 190l13 6 0-4 3-3-8-1-4 3zM285 187l-9 8 7 0 0 4 6 6 3 1-2 3-5 0 2 2 4-1 4 3-6 1 0 5-2 2 7 6 7-5 0-2-4-1 1-2 3 0-4-2 3-2-2-2 1-2-10-11 0-2 3-1 7 5 0-3-6-4-1-5zM0 188l12 0 4 6-2 5 4-3 2 0 3 3 6-2-2 1-2-2-1-5-9 0 0-5 4-3-2-1-6 0-4 3-3-1zM260 176l0 3 3-1 6 5 2-2-4-4zM194 178l-6 1-2-6-9 5-1 5-2 2 8-3 2 4 3 0zM74 176l9-3 1-2-7-1zM259 166l1 3-2 4 6-1 1-2zM62 165l-1 2 4 6 3 0 2-3-1-5zM0 164l1 5-1-1 4-2zM214 161l-2 6 8 0 2 2 0 7 5 2 7-2 3 3 5-1 4 2-1-4 2-3-5-5-4-1-2 2-2-2 1-1-3 1-1-3-2 2-6-2-5 2zM258 159l5 1-1-3zM310 165l-2 1-6-3 1-9-2 0-2 8-7-1-4 5-7 0 3 3 8-3 9 0 6 2zM110 156l-6-3-3 1-5 5 0 2 2-1 7 3zM103 158l4-1 1 2-2 2zM227 150l-6 1-3-2-1 2-5 1-6-2 0 11-2 3 6 3 0-12 3-2 2 1 2-3 4 3-3 3 6 3 1-1-3-3 0-2 3-4zM122 149l-2 0 1 2-6 6 5 2-4 6 1 1-3 6-5-3-12-2-1 4 7-1 3 2 6 0 3 3-3 4 0 2 2 1 2-5 7 0-2-3-3-1 1-5 4 1 2 6 10-3-1-3-1 1-3-2 0 3-4 2-6-7 3-1-4-4 4-2 0-4-3-1 1-2 2 0zM288 149l-7-1-1 1 3 2-2 2-6-1 1 4-2 2-6 1 3 3 3-4 6 1zM274 147l-4 0-2 6 1 2 2 0-1-5zM115 147l-4 2-8 0-1 3 3-2 5 2zM203 146l-5 0 1 2-4 4-5 0 0 2 8 0 5-6zM88 145l5 5 4-2zM89 153l-4-5-7-1-1-3-7 3 4 1 2 5-4 4-7-2-1 2 2 4 8-2 3 2 5-5 5 2-1-2zM242 143l3 1 5 6 5 0 1-4-4 1-5-4zM221 138l-2 4 3 1 2-1zM129 137l0 3 3-2 3 0 2 3 3-1-3-4zM117 136l2 9 2-3-1-4-2-1 1-1zM155 141l-6-4 2-2-4 2-2-1 4 2 3 4-4 4-4-5-2 0-3 3 0 3 8 2zM81 134l-1 3 6 6 7 0 4-2 1 5 2 2-1-7-3-3-9 0-3-4zM267 134l-2-1-2 3zM0 132l0 3 3 1zM129 129l8 5 4 0 1-2 2 1-1-2-9 0-2-3zM65 127l-2 1 2 2-10 7 2 2-1 5 6 1 5-5-3-1 7-3 0-2-2 0-5-6zM37 128l-6 0 0 9 3-6 4-2zM272 125l0 2 3 2-2 2 2 1-4 5 2 1-2 4 5 0 2 2-1 2 14-2-2-2 2-3 4 0 2 2 0 3 8-4 2 2-6 2-2 3-3 0-5 3 4 3 10-4 1-5 3-2-1-6 3-1 0-4-1 3-6 2-2-6-4 0-2 3-3 1-3-5 2-3-5 3-4-4-2 4-3 0-4-5zM140 122l10 7 6-3 6 2-3-2-7 1-4-3-3 1-2-3zM95 129l-8-7-2 2-8 1 10 2 4 3-1 1-14-1-1 2 10-1 5 4 4 0 0-2-2-1zM4 120l-3 2-1 5zM268 119l-7 3-6 0-3-2 0 4-6 5 4-2 5 1 2-5 6-1zM94 122l1 2 3-2 4 1 0 3-4 0 10 3 7-8-3 0-3 3-4 1-1-5-2-2-4 0zM206 117l-3 1-6 9-4 0-4 4-2-1 1-1-3 1-1-1 2-1-3-2 3-2 3-7-2 3-6-2-8 0-3 6 3 3-1 5 6-3 2 3 2-1 0 2 3-2 4 2 5-2 1 1-2 4 3 5-2 3-2-1 0-4-8 1 1 2-3 2-4-1-1-4-3-1-2 3-5-2-2 5-8-2 0 6-3 2-18 1-6-5-2 0-1-3-2 8 6 0 2 2-1 4 6-4 4 6 3 0-1-5 2-2 8-2 3 3-1 2-3-1-6 8-5 0-5-5-5 6-2 0 5 4 3-4 3 2 2 7-4 2 9 1-4-2 5-1 6 6 4 1-4 1-2 3 2 8 1-5 3 3 2 0 3-3 2-5-2-2-6-1 5-5 6 1 0-5-2-2-7 1-4 5-4 0-2-5-6 0-2-3 10-4 8 0 2 3 14 0 2-3-7 0-1-2-4 2-8-5 0-6 1-1 2 2 2-4 4 2 3 4-2-4 1-2 2 2 7-2-4-2-4 1-1-1 2-2 5-1 3 3 3 0 2-2 6 0 4 3 4-6 8-5 2 1-2 4 7 0 0-4-2-3-5-2 2-1-2-2 2-6-2-1zM164 146l3-2 1 1-1 2zM200 128l1 1-3 2-1-1zM171 115l-4 0-3-2 0 3 2 1-3 1 0 5zM233 112l-6 5 4 2-1 2-12 6 4-2 11 0 0 2-6 3 7 0 3-3 2 2 0 3-2 2-4-1-2 4-1-2-2 3-5-2 4 3 0 2 5-3 3 0 2 2 5-1 6-4-2-1-3 4-6-2 7-6-3-2-2-5-3 3-3-1-2-5 7-2zM147 115l7 1 3 2 2-1 0-2-6 0-3-4zM116 111l4 3 8-1 3 2 3-5zM288 106l0 3 4 0 5 3-1-2zM123 106l-3 1 2 1zM227 105l-1 2 2 2 1-2zM14 107l-4-3-4 3-5 0 0 5 9-3 3 2-3-4zM5 109l1-1 1 2-1 1zM231 104l0 4 3-2 5 2-2-4zM146 105l1 3 13 0-11-5zM109 103l-1 1 2 2zM163 102l1 5 3 0 7 6 2 0 0-4 3 2 3-1 3 3-2-8-4 2-8 0zM259 105l2 3 6 1 0 6 5 5 2-3 5-1 1 4 6 3 9-2 0 3 4-2 4 5 3-1 0-4-2 1-4-4-1-5 2-1-3 1 1 3-2 2-6 0-1 3-3 1-2-2 1-3-5-4 6-3-7 0-6 5-4-1-3-8 4-3-1-4-3 1-1 4-2-2-4 3zM181 99l-4 4-4 0 5 1zM99 102l0-3-4 2-12-1 3 5 3 0 1-2zM244 98l2 2 6 0zM155 97l-7 0-4 5 5-3 5 2zM178 94l-2 2 2 0zM9 96l6-1-4-1zM6 96l-3-3-3 1 0 3 3-2zM230 101l-1-4-5-5-5 3-5-2-5 4-7 0-4-2-6 6 3 4 5 2 3-4 2 0 0 6 3 0 3 4 4 0 2-4 10 2-8-8-4-1 2-4 5-4 0 6zM134 94l-3-3-10 10 6 0 6-3zM189 89l-3 0 0 2-3 2 3 1zM107 89l1 4-2 3 3 1 3 4 2-6-3 3-4-3 8-4 3 4 3 0-7-5zM311 91l-5 1-3-5-5 5 4 2-1 2-3 0-3 3-6-1-3 4-2 0-3 3 12-4 3 3 0 2 6 2 4-2 5-7 0-2-3-1 0-2zM33 86l-4 5-3 1-1 5 9-9zM290 85l-1-1-1 2zM103 84l6 3 7-1-3-2zM257 83l3 0 4 3 1 3-4 2 1 2 3-3 2 5 2 0 3 4 2-5 6 0 13-5-8 1-3-6-4 3-3-2-9 1-2-3zM172 84l-2 1-2-3 0 3-5 2 2 1zM71 82l2 5-4 3-6 0-4 9 0 4 6-4 5 6 6 1-2 2-9 2-8-2-2 3 2 0 4 4-2 2-7 2 21 0 5 3 5-1 3-5 6 3-3-5-10 2-3-2 2-7-3-2 6-8-6-8 4-1 2-3-3 1zM63 116l4-1 2 2-3 1zM69 97l2-2 5 1-4 4zM164 81l-5-2-7 4-6-1-3 3-2-1-4 2 0-3 4-3-1-3-6 5-3 0-13 7 2-1 2 3 4 1 5-5 4 2 4-1 1-3 9 2 3-1 1 3-3 3 3 1 2-3 3 1-4-4 4-1 0-4zM55 77l2 5 3 1 6-5-5 1-2-2zM203 84l-2-4-6 0-2-5-2 3 4 3-1 2-11 1 7 3 5-5 3 5 3-3zM278 74l2 2 7-1 3 3 5-2 1 2-6 4-6-1 7 1 4 4 6-3-1-3-3-1-4-5zM215 80l7 1 0-3 2-2 8 0 3-2 2 1-3-1-5 2-3-3-2 0-3 6zM140 66l2 2 1-1zM48 72l9 0-4-6 0 4zM260 63l-3 3-5-1-4 3 2-2 3 0 2 3 4 0zM82 64l1 2 6 2 6-1 1-3 3 2-2 6 4-2 6 3-7-8-1 1-5-4-4-1-2 5zM258 62l-3-2-8-1-6 3-3-1-1 5 3 0 7-4zM258 56l-2 0-1 2zM191 54l-13 4-5-2-5 7-4 1-4-3-2 1 3 2 7 2-13 2-2 3 14 1 1-2 14 0-1-2 5-5 5 2 0-2-4-1 0-3 4-2zM134 59l0 2 2 0 0 2 2 1 14-1-9-10-3 2-2-1 1-1zM309 51l2 4 0-3zM277 51l2 4 2-1-2-3zM249 53l3 1 2-2 4 0-7-1zM0 51l2 3 7-1-1-4-5 0zM46 55l-11-3-2-2 1-1 7 0-3 0-2-3-2 3-9 0-4-2-7 6 5 0 4 3 5 1 10-3zM116 45l-2 7 4 1 1-5zM216 46l2 2 4-3 5 1 3-2-10 0zM145 41l-2 2-1 5zM140 42l-8 0-3 5-3-2 0 5 6-5 6 0zM114 43l-6-3-4 2-4-2-6 7-7 1-5-4-3 1 4 0 3 4 4 0 1 3 3 0 4-3 10 2 2-2 0-4zM187 34l-5 0-2 2-14-1-1 2 1 3 2 0-1-4 4-1 3 3 6 2zM311 33l-3 2-2 4 3 4-1-3 3-1zM229 31l-2 2-7 0-2 2-5 1 4 0 5-3 6 2zM121 32l3 9 2 0 4-5 2 0-2-5zM239 31l5 2 0-3zM239 28l-3-4-12 5zM311 23l-2 2 1 5zM158 30l13 2 6-5 4-1-2-1-3 3-2 0-3-4-3-1-3 1-5 6zM158 23l-5 4 6-1zM179 22l6 1-3-2zM124 23l3-2 8 0-7-2zM307 17l4 2 0-2zM77 16l-2 4 3 0zM161 15l2 3 7-1-4 1-2-5zM95 14l-4-2-5 6 6-4zM311 7l-2 2 2 0zM302 5l-4 3-4-2-5 2-6 0 0 3 2 1-1 2-1-1-1 2-14 6 5 3 5-1 3 2 2-10 8 0 2 2-2-2-5 0 5-5 4 2 6-4zM281 11l-4-4 0-2-7 6-3 0 4 1 3-3zM173 3l0 2 4 0 2 2 8 0 3 3 3 0 4-5-5 4-5-4-7 1-3-3zM137 7l4-2 3 2 1 4 3-4 7-2 1-3-3 2-10 0-4-2 0 3zM91 2l-11 0-2 4 6-1 7 2z"/><path fill="#98d254" d="M153 428l0 2 3 2 5-1zM127 426l0 7 6-2zM307 425l-5 2-1 2 3 1zM178 423l-2-2-3 4-3-3-2 0 3 6 6-3zM148 422l-10-5-3 3 0 10 2 1 0-4 2-3 1 2 9-1zM100 416l-3 5 3-3 1 3zM137 409l-7 4 0 4 2 2 0-3-2-2 5-3 2 1zM468 408l-1 6 5 1-3-3zM19 407l-7-3-2 2-1 6 7-2zM447 399l0 3-3 4 8 0zM305 398l0 4-3 2 7 1-3-2zM275 399l5 1 3-3-6-2zM214 395l2 3-4 3 3-2 2 2 0-6zM89 395l-5 0-3 5 5-1zM137 392l-2 2 1 2 3-2zM129 390l-5 7 0 5 3 6-2-4 2-3 5 3-1 5 7-5 2 0 3 3 1-4-2-4-2 3-2-4-5 1-2-2zM117 390l-3-2-2 4zM466 387l-2 0 1 2zM21 384l1 2 2-1zM14 384l1 3 1-2zM69 383l1 3 4 1 5-3-2-1-1 2-2 0-1-2zM484 374l1 3 5-1zM151 374l-2 0-4 4 0 4 2 2-5 5 9-1 4-4-2-2 2-3zM121 374l-5 4 0 6 3-2zM145 372l-1 3-12 0-5-2-4 1 10 1 2 2 0 4 4 1 3-2-1-2 4-4zM94 372l-4-1-5 6 3 3 5-2 2-3zM505 369l-2-1-5 4 7-1zM256 366l6 9 2-3 5 5-2 4 3 1 1-7-3-3 1-2-6 2-2-6zM544 362l3 5 3-2zM525 364l6 3 4-2-2-2-2 1-3-3zM525 357l-4 1-1 5 3-1zM53 357l-4 6 8 2 0-6zM75 354l-3 3 1 2zM285 346l0 4 3 1-1-4zM461 343l-2 2-3 0-2 4 6-2zM226 343l-5 3 5 0zM167 342l-3 8 2 1 4-1-2-3 1-3zM230 341l-1 5 3 0zM459 339l-1 1 2 1zM96 339l-6 3 2 2 0 3zM516 339l1 2 8 0 4 3-2-8-2 2-2-2-3 0zM542 335l-5 1 4 8zM65 334l-3 4-3 0-1 2 5 0 2-2zM226 336l-2-4-3 4-3 0zM282 329l0 2 4 2 0-2-2 1zM75 329l-3 2 4 0zM140 333l3-4 4-2 4 1-2-2-8 0zM306 325l-1 7 7 2 1-3-3-6zM465 324l3 4 8 0-1-3zM456 324l-3 3 0 2 2 1zM548 325l3 3 2 0 2-3 5 1 2-3-8-1-3 3zM114 319l-4 0-3 4zM501 320l0 2 3 1 6-1-3-4zM233 313l-4 0-5 7 4-3 4 1zM97 312l1 5 2-2 4 1-2 0-3-5zM90 310l-9 7-4 7 7-3-1-4 2-2 6-1zM100 299l-1 4 3 5 1-2-2-4 3-1zM83 299l4 8 2 1 3-4 0-3-3-4zM573 300l-5-6-6 6-2-2-3 0 4 5 8-6zM156 293l-6 7-2 0 7 0zM464 291l1 2 1-2 4-1zM211 291l2 4 7-3-3-2zM304 287l3 6 4 3 1-3-4-3-1-3zM105 285l1 3 2-1-1-2zM228 279l-2 0-3 4 1 4 2 1 6-6zM173 272l2 3-4 3 6 0 2-2-1-2zM66 272l2 4 3 0 4-3zM543 267l-1 2 7 7 1-3-3-1-1-3zM552 266l-3 0-1 3 2 0zM65 263l2 3 4 0 3-2-6 0-2-2zM128 259l-2 0-1 3zM29 258l-2-1-2 2zM499 256l-4 0-2 2 0 6 7-5zM441 251l5 0 2 2 5-3-2-1-7 2-2-2zM494 250l2 3 9 0 1-4 3-2-3-1-2 2-6-3zM463 239l-1 2 5 3 2 5 3-9-2 2-6 0zM536 231l-2 2-1 7zM533 227l-2 2 1 1 2-1zM291 175l10 1-3 0-4-3zM209 178l4 0 3 2 3-2 4 0-6 0-4-5-3 0zM145 173l3 0 6 6-3-5zM58 174l5 1-1-2zM114 175l-6-3-4 2-1 4 1 2 5 0zM303 173l4-1-3-1zM80 170l-3-3-6 2-2 4-5 4 2 1 7-2 4-7zM264 161l3 3 3-2zM244 165l4 2-1 4 5 3-2 1 1 6 3-1 4 3 2-1 0-7 7 1 2 3 1-2 5 0 2 2 2-1-1-4-2 2-3 0-4-4-3-1 2-2 6 5 5-2-5 2-4-5-5 0 1 1-2 3-6 1-1-6-3 0-1-2 3-4 1 1 2-2zM251 175l3-1 3 3-2 1zM111 160l3 3 0 3 4-5zM100 172l-5-1 1-5-1-3-3-1 2-4-4-3-3 1 0 3-5-2-5 5-3-2-4 2-9 1 0 2 8-2 3 3 6-3 2 2 5-2 6 0 4 3-6 5-4 0 3 6 7-5zM311 153l-6-2-2 9 5-3zM154 151l-8 2-1 8 2 0 6-8 4 2zM205 149l-2 0-5 6-7 0-1 2-2 0-2-3-12 5 6 3-1 4-5 1-4 3 0 5 4 8 3-6 9-5 2 6 15 0 0-3-4-4-6 0 5-4 4-1 2 2-1 3 4 1-1-6-2 2-2-3-5 3-2-1 3-4 6-1-2-1 2-2-2-8 3 0zM259 148l10 0-5-2zM127 146l3-1 5 4 3-2-4 0-2-2zM233 149l10 0 2 2 3-1 0-2-5-4-6 0-3 2zM97 142l-4 2-3-1-3 2-6-1-3 2 5 0 6 4 1-2-3-3 2-1 2 2 6 1zM202 144l-3 0-1-3-2 2 0 3zM300 143l-3 2-2-2 0-3-4 0 0 7-4-1-2 2-3 0 6 0 2 3 6-5 3 0zM260 143l4 0 6 3 0-3-4-2 1-3-3 4zM213 137l2 4 3 0zM193 137l-7-1-2 2-5 1-1 3 6 2-10 6-3 0-2-2 2 3 5 0 6-3 6 2-1-5 2-1-5 0-1-4 9-2 2 2 0 3 1-2zM136 134l-3-2-3 3zM123 131l-6 4 5 0zM253 128l-9 3 5 0 3-3 1 4zM152 131l2 1 3-3 4 5 1-1-4-5-3 0zM265 128l3 5 2 0 4-4-3-2zM166 127l0 2 6 2 0-4-2-2zM247 127l3-2-3-1zM137 124l-8 4 3-1 2 2zM207 125l5 0-2-2-2 0zM96 124l6 1-4-2zM308 120l-1 6-2 2 4 0 2-2zM269 119l0 4 5 0 4 5 3 0 0-4 3-2-4-1-1-4-5 1-2 3zM172 116l-5 5 3 1zM178 118l3-1 6 2-1-4-3-3zM289 110l-3 3-4 1 5 4 0 4 2 0 0-5 3-3zM108 111l-3-1-5 7 2 0zM48 110l3 5 2-2-3-3zM150 110l-3 0-4-3-3 4-4 0-2 8 8 2-2-4 6-2 0-2zM281 106l-1-1-4 5-2-1 0-2-3 0-2 4 4 2 6-3zM266 114l0-5-5 0-5-6-2 5-3 2-4-3-3 3-4-2 6 7zM122 104l-2-2-3 0 0 2-3 0-4 4 0 4 2 1zM266 103l0-6-4 2-1-1-1 2-9-1 8 2 4-2zM292 97l3 1 3-3 3 0-9 0zM222 95l-4 3-2 4 5-2zM287 97l-1-5-9 3 7 3zM61 92l-5 5 2 4zM172 93l-4-1-3-3-6 1 1 5-6 0 2 2-2 7 4 2 1-5 4-5 5 0zM133 91l0 2 9 2-3-6zM118 90l5 5 5-3-4 1-4-4zM296 89l3 2 2-4 7-1-11-1zM173 83l4 3-2-3zM61 83l-4 7 3-2 4 0zM278 86l4-3 7 0 2 2 1-1-10-2zM202 80l2 4 6 1 3-3 1-4-8 0zM80 88l16-1 5 2 2 5 2 1 2-2 0-5-5-4-6-9-3 0 0 2-4 3 0 3-7 0 0 3zM121 76l-7-4-10 9 0 2 4 1 6-2zM162 76l2 3 2 0 2-4 9 1 3-3 2 0 2 2-1 6 9 2 2-1-2 0-6-8-7-1 0-2-2 0-2 3-9-1-3 4zM143 70l0 4 1-1 6 3 3-2-4-1-3-3zM149 68l4 2 2-3 12-1-15-2-3 2zM240 56l-7-1-13 4-3 3-2 9 3 3 3-1 4-6 0-3-2-2 2-2 2 1 1 4 9 0-1-3 2-2 3 1zM278 54l-1-1-2 3-5 1 4-1 3 3zM294 54l0 2 1-1 2 4 9-5 5 4 0 3-2 2 2-2 0-5-5-4-5 3zM237 49l-1 2 2 1zM267 50l12 0-1-2-9 0zM61 48l0 4 6-2 3 1-3-4zM144 41l-3 1-3 4-6 0-2 2 3-2 8 0zM161 43l-5-1-2-3-9 4 6 0 6 3zM285 39l6 3 3-2 6 5 2-2-7-5-6-1zM274 34l0 5 3 3-1-7zM245 33l0 3 9 4zM251 28l3 1 1-3 5 0-3 0-4-3zM181 25l6 3 5-5-6 0zM237 23l-7-3-4 2-4-1-4 4-6 1 0 2 8 2 7-4zM86 22l3 1 2-2 4 3 5-2-9-2zM281 26l7-2 10 1-3-5-6-1-6 2zM225 10l0 4 2-3 4 2 14 0 3 2 9-2-4-2-15-1-5-5-3 4z"/><path fill="#9658b4" d="M22 431l0 2 7 0zM433 430l-3 2-8-1 1 2 8 0zM306 429l4 4 9 0-3-1-2-3zM270 427l-2 4 5 1zM234 431l3 1 8-3-4-3-6 1zM470 428l-3 1-2-4-6 1-4 4-2-1 1-1-3 0 1 3-6 2 6 0 0-2 6 2 2-2 2 1zM138 431l4 2 7 0 3-6-2-2-4 2-6 0-1-2zM111 425l4 7-1-5zM332 424l-1 3 2 1 1-3zM46 422l0 2 2 1zM464 422l-1-1-2 2zM131 421l-2 2 0 3 3 4 2 0-2-3 2-4zM233 420l-6 5 1 1zM477 418l-2 4 1 2 2 0zM285 420l9 3-3-6-4 0zM37 417l0 5 6 0-1-3zM211 416l-6 3 4 1 2-1zM52 416l7 5-2-3zM332 416l5 2 8 9 11-2 3-4-4 3-8-2-4 1-3-3 5-2 2-2-1-2-2 0-1 2zM313 413l-10 0-1 3 6 6 2 0 3-4zM425 411l-1 4 2 2 1-5zM370 414l-2 3 0 5 3 1 0-3-2-2 2-2 3 1 3 3-1 9 4 0 3 3 0-6-4-1 3-2 1-3-3-6-3-3zM165 411l0 3 3 0zM457 410l-5 5-2 0 2 2-2 5 1 2 6-2 1-2-3-5zM116 413l5 4 1 3 4-1 0-2-6-7zM356 409l-1 4-3 1 4 3-2 4 6-4zM169 406l1 2 2 0zM200 407l4-1-3-1zM82 405l0 5 3-2zM357 407l6-1-4-2 0 2zM420 405l0 2 2-2 6 1-5-3zM93 403l-6 4 6-2zM433 402l0 3 2 1 1-2zM213 402l-1 3 2 2 2-1 0-3zM53 412l2 1 4-4 4 1 4-4-8-1-2-3-3 0 1 7zM401 404l-1-3-3 2zM28 401l1 8 7-1-5 0-1-6zM451 400l2 6 5-2zM351 400l-6 4-8 2 6 1 1-2 4-1zM236 400l2 7 4 5 2 0-1-5-2 2-2-3 4-1 2-4-2 0 0 3-2 1-1-3zM326 400l4 1 2-3 4 1 0-2-6-1zM284 396l-2 10 2 2 3 0 4 6 4 1-3-7-7-4 7-2-2 1-1-5-2-2zM178 397l1 3 3-1 2 3 2-1 0-2-5-4zM458 394l0 4 5 3-4 5 7 6 2-5 6 1 4-3 0-2-3-3-1 2-5 0-1-3-3 0zM445 394l-8 0 0 3 3 3-1 3 2-1zM315 394l0 5-5 3-3-2-1-3 2 6 8-3zM365 392l-2 3 4 3-1 4 6 0-1-2 3-3-3 0-2-4zM88 393l-2-1-1 2zM419 387l-2 0-3 3 0 6 2 0 4-6zM264 387l-2-1-5 3 7 0zM81 385l-3 6 5 2zM346 384l0 10 2 0 2-2 0-5zM12 399l3 3 5 0 5-5 1 2 10-6-2-2-4 3-2-2 1-2-3-1 0-3-4 1-2-3-3 0zM18 392l5 5-3 4-3-6zM16 391l1-1 1 2-1 1zM299 383l-4 6-6-3 4 3 3 0zM164 383l-3 0-2 5 5-3zM521 382l-1 5 7 0-3-5zM94 382l-4 3 0 3 6-2zM544 380l0 4 7-1 2 4 2 0 0-2-3-3-6 1zM265 380l0 2 2 1zM242 380l0 5 2 1 2-2 0-3zM69 381l-1-1-3 2zM455 379l1 5 4 2 0 3 3 4 3-3 5 1 7 7 0-4-5-1-2-2 5-2-2-5 1-1-5-2-1 5-4 4-4-7zM468 387l3-1 1 4-1 1zM453 379l-3 0-4 6-3-1 3 1zM374 379l-2 4 6 3 3-6zM114 378l-1-1-2 3zM453 373l3 4 3-3zM568 373l-2-1-5 3 6 2zM470 373l0 4 6-2 7 6-6 2 3 4 2-3 3-1 1-4-5-5 1-1zM441 373l5 3 1-1-2-3zM491 372l0 2 5 3 2-6-3 0-1 2zM350 371l-3 2-2 4-1-3-8-1-2 2 0 3 2 0 4 4 5-3 5 0zM343 377l1-1 1 2-1 1zM78 376l8-2-3 0-4-3zM105 369l-2-1-4 3-1 4zM551 366l-1 6-4 6 4-2-2-1 3-4zM455 365l-1 3 2 0zM529 366l-6-2-3 1-2 4 2 8 9-5zM482 367l5 1-2-4zM371 365l2 3 9 1 1-2-3 0-4-3zM145 363l-1 1 3 2zM351 360l0 5 2 1 1-3zM174 360l-4 4 1 4 3 0 3-3zM572 359l-2 0-3 6 2 4 2 0zM180 355l0 2-3 2 4 1zM499 354l-7 4-2-1 0 3 3 4 7-8zM353 353l6 4 6-2-3-1-2 2-4-3zM241 356l4 1 3-3-6-1zM548 352l2 2-2 7 3-2 2 2 1-4-3-4zM515 352l-1 4 3 1 0-4zM54 348l-4 5-3 0-4 3 0 5 4 3 7-9zM414 349l-1-2-4 1 2 2zM210 348l8 1 2 2 4-2-2 1-8-3zM153 346l-4 3 0 3 2-1zM470 344l1 6 5 2 2-1 1-3-2-2-4 0zM451 344l3 7-2 1 6 6 2-2-2-4-5-2 1-4 3-2zM505 343l-1 7 3 4 2 0-4-4zM302 343l2 3 1 12 6 3 0-7-5 0-2-2 4-2-1-7zM165 341l-4 6 3-2zM65 339l-2 2-5 0-2 5 6 0zM480 338l-1 2 3 0 2 2zM368 338l1 2 3 0zM337 338l-10 1-1 1 3 2-2 5 6-2 4 1zM379 340l4 0 2 4 5-1 2 3-1 3 26 13-1-4 2-2 2 5 10-16-9 0-8 9-4 0-3 2-3-4 2-1-1-2-5 1-6-3 1-5-4-1 2-1-5 1-3-4-2 0zM475 336l-9 2 5 3 3-2zM430 337l-3-2-4 4 4 2zM240 335l-3 6 3 0 2-2zM287 337l3 3 2-3 8 3-6-6-4 0zM575 333l-4 2-1-2-5 5-2-1 0-2-2 2-4-1 0 3 2 2-1 4 3 0 5 6-8 7 0 2-4 4 0 3 3 0 2 2 4-1-5-3-1-4 8 0 0-6 5-6 0-2-3-2 3-1 1-3 4-3zM563 346l5 0-2 2zM568 337l2-3 4 4-4 1zM535 332l-5 4-1 3 1 2 3-5 2 2-3 12 3-1 4-5 1 3-9 8-8-6 0 3-1 1-2-3 1 4 7-1 4 3 1 6 3 2-2 2 5 9 2-3-2-3 4-3 0-4-2 0-1-3 3-3-1-4 3-6-6-3-3-6 2-2zM224 330l-3 0 0 4-4 1 4 0zM462 332l-5-3 2 5-4 4 5-1 2-2zM498 328l1 3-5 6 6 3-3-2 0-3 2-2 6 1 0-4-2 1zM328 328l-2 0 0 3zM477 328l2 3 3 1-3 3 5 2 2 3 5-1-5-3-1-6-3-1 1-2-2 2zM548 326l-5 6 0 2 4-5 4 0zM391 325l-2 4 3-2zM299 324l2 6 3-1-1-4zM525 324l0 3 3 2 2 0 2-3-3-3zM77 323l-7 1 2 2 3 0zM413 334l-2-12-9 5-2 3-5-2 0 2 12 6zM573 320l-2 3-6 0 3 8 0-4 5-3zM141 320l-5 0-1 8-3 0-5-3-3 1-2 3 4 0 5 3 7-4 3-4zM402 320l4 2-1-4zM239 318l-2 0 0 3-4 4 0 6 2 0-1-5 6-3zM508 318l4 5 4-2-3 0-3-4zM354 315l0 4 3 2 2-3-3-3zM324 314l0 2 6-1zM474 313l-9 1-3 2-2-1 0 2 2 2 3-2 4 1 1-3zM552 315l-5 1 0-3-3 3-1-5-6 2-1 7-4 0 5 0 2-2 1 4 7-1-1-3zM340 313l-3-2-3 3zM128 311l-5 6-3 1-1 5 5-3zM559 308l7 4 2-3 3 0zM468 305l-1 1 2 1zM411 305l-2 3 2 3zM503 304l-3 3 2 1-1-2zM0 303l1 8 8-2-2-6zM105 301l0 5 4-3 3 2-2 4 2 3 0-4 4-4-5-3zM535 306l-5-2-3-4-2 0 0 4-2 3 1 6-5 0-1 5 5 1 3-4 6 0zM93 299l-1 6 1-1 7 3-2-7zM458 300l6-2-6 0zM483 299l5 1 3-2-5-1zM380 297l-2 6-4 3 6 8 4 1 5-5 1-5-4-4 0-2 2-1-5 1-1-2zM513 296l0 2 2-1zM466 297l2 3 6 3-3-3 0-4zM287 296l-2 0-1 5 2-1zM314 296l-2-2-1 3zM475 293l-2 2 2 0zM409 293l-1 5 4 1 0-3-2 0zM322 293l-2 0-2 3zM565 289l2 5 4-2zM242 289l-4-1-1 8zM490 286l2 3 2 0zM536 286l1 2 6-1-3-2zM525 284l-9 2 0 2 4 3 1 3-1-5zM268 286l1 2 8-4-3 1-3-2zM496 282l-1 5 4 2 2 3 0-3 2-1zM403 282l0 3 3 1zM452 281l-5 2-6 7-2-1-4 6 5-4 2 3 3-3 3 0-1-5 4-2zM129 282l3 1 7 7-5-7-4-2zM394 279l0 3-3 3 1 2-3 3 1 4 3 0 2-3 5 2 1 2-4 5 2 1-1 1 5 2-2-3 4-6 0-5 3-2-5 1-2-2-7-1-1-1 3-2 1-4zM261 279l-6 2-2 3 1 3 7-4zM170 279l0 5 2 1 0-5zM351 282l2 0 0-2 5 2 1-2-7-2zM575 277l-3-2-2 4-4 3-6-4 0 4 2 2 4 0 3-2 6 1zM514 275l2 3-2 4-4-2 2 4-4 2 8-2 0-7zM329 277l5-1 9 5 0 2-4 1-3 5 5-1 12 3 9-7 3 1-4-2-6 3-8 1-3-2 2-2-5-5-2 0-1-3zM313 277l6 1-3-3 0 2zM223 276l-4-1-5 3 1 6-10 4 3 1 0 3 2 0 1-2-2 0 0-2 9 2 1-2-2-3zM100 275l1 4 1-1zM26 272l-7 2 3 1zM476 273l-5-2-1 8 2 0 0-3zM370 271l-1 3-4 1-2 3 4 2 3-1 1 2-3 5 8 8 1-1 6 2 0-9 6-3 2-3-8-2 2 4-4 2 2 2-3 4-2-6-6-6zM379 289l1 2-2 1-1-1zM482 270l-4 4 1 5 2 2-4 5 5 1-6 4 8-3 2 4 3 2 1-5-6-2-2-2 0-4-3-2 1-2 2 0zM450 273l8 0 1-2-5-2zM228 268l-2 3 2 2zM154 267l-5 1-3 7 1 1 7-2 0-2-2-1zM574 266l-6 7 7-2zM176 266l-3 2 0 3 5 2 1 2 1-4zM396 265l-1 6 2 0 1-2zM259 268l-3-1 0-2-4 0-5 5-7 2 8 1 4-3 2 2-1 4 2-1 0-4 4-1zM559 264l-5 6 0 2 2-3 2 0 1 5 2-4 3 1 0-3-3-1zM412 264l5 5 0-5zM484 263l-7 3-1 2 7-1zM445 263l-3 3-4 0-6 4 1 1 12-3zM370 267l0 2 6 1 4 3-4-3-1-7zM206 263l-8 4-5 0 7 1zM503 262l-3 5 6 3-3-3zM368 263l3-2-3 0zM462 261l-5 0-2 5zM318 259l-2 10 7 5 2 4-1 4 2-3 0-8-3 0 2-5zM511 256l4 4 2 6-1-8 5-1-6-2-1 2zM38 254l-9 3 7 2zM530 252l-3 5 2-1 1 2zM442 252l3 4 2 0 0-3zM2 251l-2 0 0 8 2-1 2-5zM160 250l-4 0-5 3 0 2-2 0 7 1-4-1 6-1zM73 252l6 1 5-3-10-1zM43 249l4 11 2-1 0-3 2 0-1-3-2 1zM409 247l-5 0-3 6 7 0zM167 253l9 4 4-1 2 2 4-2 6 1 3-3-3-5-5 3-4 0-3-3-4 0-2-2-2 0zM253 253l0 2 7-3 4 10 5-7 3 1 0-2-8 2-5-10zM532 244l-1 1 2 1 1 6 3-1 1-2zM511 244l5 2-2-3zM181 243l2 0 2 4 7-3-7-2zM366 243l-5-2-4 5 5 1 1-3zM534 240l-1 1 8 7-4-4 0-3zM337 241l7 0 3 2-5-4-3 0zM294 247l6 8 3 0 0-3 3-2 1-7 7 0 3 3-4-4-5 2-7-5-3 2-2-1 2 5zM210 239l-2 2-4-1-6 9-3-1 1 2 10-1 1-7zM33 239l-9 4 1 5-2 1 4 1 7-5 1-2-4 0zM218 238l2 5 0 6 4 4 10-3 1-3 7 1 6 3-1-6-5 3-4-1 5-4-8 1-7-2-2-2-6 2zM550 238l1 5 6 1 2 4 5 0 6 5 3 0-5-5-6 0-3-2-1-5-2 2-3 0-1-6zM366 237l2 4 6-1 4 3 8 0 2-3 2 0-22 0zM129 236l-7 3-5 5-3-2 0 5 6 0 0 2-5 3 0 11 4-4 3 0 4-3-3-12zM211 235l-3 2-8 0 9 0zM156 237l-2-2-10 2 1 7-2 1-2-2-3 3-2 0-2 5 9-1 6 2-2-4 3-5-1-2zM465 234l1 4-2 3 7-1 1 3 1-3-5-1 3-3zM439 234l1 5 5-3 3 0 2 3 1-3-4 0-2-2-4 2zM525 233l0 4-3 3 1 8 5-4zM300 234l2 2 3 0 1-3zM287 233l2 5-1 5 4-2 0-6zM49 233l4 2-2-3zM177 234l-3 0-2-2 1-1-5 4-4 0 0 4-3 0 2 3-5 1 3-1 1 4 2 0 0-3 5-4 8 1zM533 231l-3-1-11 2zM483 230l1 4 9-1-6-3zM78 235l0 3 3 0 4 5 4 0 1-2 8 2-8 2 0 4 4-2 12 1-2-3-5-1-2-2 1-3-6-1-3 2-4-2 1-2 2 0 2-7-3 0zM35 229l-3 4 6 1 4 5 1-2-5-3 0-4zM479 229l-2-2-2 3 2-3 1 3zM250 237l10-1 4-4 1-4-8 1-3-2-3 3-2 0zM116 228l-1 4 2-1 3 2 4 0-3-3 1-3zM327 226l-3 4 3 0 2 3 3 0-3-1-2-3 3-3zM109 228l-8-3-7 7-3-1 5 5 3 0 3-3 5 0 2-2zM488 224l2 3 3 1 7-4 2 5 6 1 1 5-3 3-5-1 1 1-2 4 2 2-1-2 2-2 13-6 3 0-6 0-2-2 3-4 0-3-2-1-6 0 4 3-1 3-2-2-3 0-1-4zM465 224l3 2 5 0 2-2zM408 224l1 3 6-1-3-2zM401 224l2 4 2-2zM376 226l6 3 4 0 2-2 0-3-11 0zM357 224l6 4 4-1-3 1-3-4zM342 224l6 3 1 2 2 0 1-2-3 1zM332 225l2 3 5 0-3-3zM41 229l1 1 6-2 4 2-1-4-5-4-2 5zM305 219l6 5 0-3-2-2zM91 218l-2 2-1-1-5 2-4-2-4 1 3 1 0 4 6-5 6 0zM282 217l-1 2 2 2-7 4 7 1 3 2 2-1 2 2 0 3 4 1-2-2 4-1-10-9 2-3-3 1zM150 216l-4 1-1 4-2 1zM120 216l-1 2 7 4 1-5zM44 220l-3-1-2-4-6-2 0 6-6-4-6 1-4-2-2 2 4 5-2 2-14 0-2 2-1-1 0 5 3 0 2-2 5 0 4-4 5 0-4 3 2-1 1 2-7 7-8 2-3-3 0 6 5-1 5 4 2-1-6-4 9-1 5-4 2 0 5 5 0-3-9-7 2-3 4 4 6 0 4-4 7 0zM0 226l1-1 2 2-2 1zM139 211l-6 1-2 6 1 1 7-2 1-2-4-1zM195 226l5 1 6-4 4 3-3 4 2 1 2-6 9 6 4-2 2 1-3 3-7 2 5 1 7-4 3 5 6 0 0-3 2-2 4 1-5-5-4 2-6-6 0-2-3 1-2-2 2-2 5-1 2 4 4 0 2-4 4-1 2 2 3-1 5 2 3 3 4 0 0-3 2-2 2 1-2-4-5-3-4 0-4 3-5-1-1 3-5-1 1 2-2 1-3-4-6 2-10-7-4 4-2 0 0 3 4 1-4 2 8-1 2 3-1 4-3 1-3-5-4 1-4-3-6 5zM228 227l1 1-3 2-1-1zM66 205l-2 1-2 9-4 4 4 0 2-2 8 1-1-3-4 1-5-2 4-3 3 0zM203 202l-4 4 6 4 2-5zM126 200l-3 0-8 8 5 5 1-1-4-2 7 0 2-8 5 2zM292 200l11 12 4-4-1-2-2 0-3 3 0-4-2 1-5-7zM193 201l-5 1-9-3 2 3-4 4-4-1-6 3 17 1-2-3 1-3 6 1zM44 204l-5-1-2 2-3 0-2-2 3-3-1-3-8 3 0 8-8-1-1-2 2-2-2 2-6-2-3 3-2 0-4 6 4-2 2 6 3 1 2-2-4-2 6-3 1-3 2 1-1 3 4-3 10 2 1-5 5 1 2-2zM206 196l-6 2 0 2-5 0 6 1zM227 194l-1 1-4-4-4 4-5-1 8 4zM14 189l-4 0-3 4-7 4 5 0 2 2 0 3 6-2 2-4-2-6zM227 188l5 1-3-2zM307 189l-4-3-1 4-8-1 0 4 5 3 2-6 2-1 3 2zM286 186l-2-2-3 5-3 0-3 3-5 0-1-5-8-3-6 6 0 8-4 0 2 2-1 1-8 0-5-6-5-1 1 7-3 4-7-1-5-4-2 1-2 5 1 2 6 0 3 3 3 0 4-2-1-1 4-6 5-2 9 8 5 2 1-3-6 0-2-2 1-2 5 0 2-4 5 0 1 4-3 2 4 1 10-9-1-1 2-3 3 0zM62 181l-6 1-1 3-5 4 8 2 1-8zM239 180l-2 2 0 3-2 2-2-1 4 2-3 1 8-1 6 4-5 1 4 1 1-3-4-4 0-2 6-3zM170 180l0 6 3 0zM279 179l-1 2 2 3 3-4zM0 180l0 6 4-3 3 1 4-3 8 1 1 1-4 3 1 5 10-5-4-5-8-2-4 1-5 4-4-5zM186 196l7 1 3-3 0-4 2-2 6 0 1-2 6-1 6 1-3-3-5 0-2-2-4 1-4-4-4 0-4 4 3 3 4-2 8 1-2 3-8 1-3 3-3 0zM132 182l1 4 7 1 5-2 3 3 6 2-2-3 0-4 2-3-2-2-7-1-5 3zM15 174l-4 3-6-2 0 4 2 1zM77 175l1 2 7 3-5 3 2 5-4 3-4 0 4 1-2 5 6 3 13-2 4 4-6 4 2 1 0 7-6-7-5-1-1 2 9 4 3 4 6-1 1-4 2 1 4-3-4 0-3-4 0-3 17-9-3 0-3 3-5-1-4-5 6-7-6 2-5-5-10 0-2-7zM102 193l2 2-1 3-2-1zM102 192l1-1 1 2-1 1zM104 189l-3 3-1 5-12-6 3 3-1 3-3-3-1 1-1-3-2 0 2-3 6 1 4-3 6 0zM304 168l1 2 1-1zM90 164l0 4 4-2zM35 165l-8 0 2 2-2 3-5 0-4 3 8 0 6-7zM121 166l5 6 3-1 1-4 3 2 1-1-5-5-3 0-3 3zM49 162l-3 6 1 1 1-2 5 4 3 0 2-2zM50 158l-5 1 1 1zM11 158l2 6 6-1 2-2 0-3zM175 156l-4 1 0 3zM311 152l0-2-5 1zM114 156l0-6-4 3-3-2-4 1zM26 152l13 11 3-1 0-5 5-3 5 2-7-5-5 4-1-5-2-2-2 0-3 3zM129 144l8 2 4-5-4 1-2-3-3 0-3 3zM16 139l-9 4 0 2 4 1 6-5zM127 134l-8 3 2 1 0 3 2 2 3 0zM184 135l5 1 3-1 2-3-3 2-6-2zM42 132l6 5 2 0-4-5zM238 129l-4 3 3 1zM215 129l-3-1-3 3-2 0 3 1zM64 130l-6-3-8 4 5 0 3-3zM43 127l-3 4-2 0 6-1zM7 132l7 5 4-1-2-9-4 4-3-1zM304 128l-6-5-7 6 2 4 7-5zM298 125l1-1 1 2-1 1zM188 126l7 1 3-2-8-3zM300 114l1 5 3 3 4-3 3 2 0-4-4-4zM60 115l-3-3-3 0-5 7zM18 121l0 4 4 0 2 2 2-1 3 2 5-2 3 1-1-2 4-1-2-1-5 3-4-2 0-3-3-3 5-5 1 1-4-4-8 7zM11 107l3 3 1-1zM220 101l-1 1 8 8-2-3 2-3 3 2 0-3zM111 100l-5-3-5 1-2 5 6 2zM14 96l-7 1 4 4 0 3 4-6zM234 96l1 6 8-4 0-2zM292 90l-5 2 1 4 2 1 2-3zM19 92l5 4 1-4 4-2-9 0zM227 81l-4 5-7 0-12 4-15 0-4 9-1 7 7 2 4-2 2 1-6 5 5 4-3 1 1 3 7 1 1-3 5-3-4-3 2-1 0-7-2 0-3 4-5-2-4-5 7-7 4 2 7 0 5-4 5 2 5-3 4 4-5-9 5-1zM25 86l10 0 3 3 0 8 4 0 3-3 9 1 7-4-8 1-2-2-5 2-7-3 3-2-2-6 3-3-7 7-2-1zM38 85l2-1 1 2-1 1zM193 71l1 4 4 2 16 0 3 2 4-1-1-4-2 1-3-3-5 0-2-2-9 4zM89 71l7 1-6-2zM239 70l2 3 8 1 4 4 3-1 0-4 10 0-1-3-13 3-1-3 2-3zM189 65l-3-1-4 5 3 0zM118 68l-3-4-4 3-10-2 7 8 1-4 4-2zM142 59l-2 2-5 1 5-1zM73 62l-4-2 0-3-8 3 7 3zM306 55l-2 0-6 5-3-2 0-2-8 6 0 2 4 3 0 5-3-1-1-4-3 2-5-3-7 1-5-5 0 3 5 4 4-2 3 1-5 3-4 0-2 2 0 3 5 1 0-3 4 0 3-2 6 0 5 2 1-5 2-2 3 0 1-3-8 0-2-2 4-2 10 0 4 2zM127 54l3 4 3 1 6-7-7 2-3-3-2 1zM242 49l-3-1 0 4-4 0 0 2 5 0zM213 52l-13-4 3 2-4 3-3 0-1-2-3 1 3 1-3 7 8-1 2-2-1-1 4-2 2-3zM61 53l-4-5-3 2 3 5-8 9-3 0-5-3-1 2-4 0-3 4-6 0-2-2 3-2 0-5-5-1-4-3-6 1-4 3 0 2 4 6 11-1 5 3 3 0 0 2-9 1 3 6 3-1 4 3-1 2 3 0 4-3 1-12 11 0-1-3 2-2 5-1 1-4zM0 46l0 3 2-2zM232 45l-15 4-2 5 0 6 2 1 8-11 5-1zM12 49l2 3 7-6 4 2 9 0 1-3 3 3 5-1-5 0-1-3-8 2-5 0-3-2zM64 43l-2 3 4 1 1-1zM200 39l-10 2 0 3 1-2 4-1 3 4zM190 46l-4 6-5-2-8 0-3 2-3-1-1-3 6-4 1-4 2 0-3-1-3 4-9 1-3 3 12 6 1 4-3 4 1 1 5-7 5 2 7-3 5 0zM306 38l-2 4 4 2-3-4zM273 38l0 7 4 0zM125 44l4 2 3-5 13-1-2-2-4 1-9-2-5 5zM202 37l6-1 3 2-2-3-6 0zM298 32l5-3 6 0-1-5-8 0zM264 24l1 4 3 3 9 3 3-7-2-3zM55 21l0 12 4 2 5 0 5-4-4 1-4-7-2 0zM114 20l7 1 2 2 2-3zM133 25l-3 1-2-3-6 2-2 6-3-3 0-3-3 0-5-6-6 2-14 10-8 0 4 5 5-2 5 4 6-3 3 2 10-2 1 3 2 0-2-2 1-4 6-2 9 0 2-2zM90 30l8-4 3 1 1 3 3 2-2 2-5-1 3 2-3 1-6-3zM217 16l-12 3-3 4-5-1 6 7 4 1 4-3zM171 14l-1 2 4 5zM299 10l-4 3-4-2-3 4-2-1 5 0 3 3-1 1 3 1-1-2 3-3zM284 12l-5 0-4-2-1 6-4 3-5-6-2 0-3 3-12 0-9-3 8 5 4-2 6 0 1 4 3-4 1 2 3-3 1 5 3 0zM163 8l1 3 6 1 0-2-2 1-4-4zM144 11l-1-4-2-1-4 2-10-1 4 2 9-1zM82 6l5 10 4-8zM282 0l-6 2-4 4-11-1-3 3-1 4 2 1 2-3 9 0 10-9 2 2zM266 0l-15 0-6 6-9-2-1 2 3 3 17 2-7-8 4-2 1 4 2 0-1-3 2-2 5 2zM212 0l-8 2 6 0zM173 2l3 0 1-2-3 0zM114 0l4 2 2-2 5 2 12-1z"/><path fill="#bc5096" d="M440 432l3 1-1-2zM348 431l13 2-2 0-2-3zM71 431l-3-1-6 3 7 0zM410 430l-4 0-3 3zM389 427l0 6 5 0zM270 425l-3-2-5 0 0 6-2 2-8-2-2-2-3 3-5 1 2 1-1 1 2 0 0-2 5-3 10 4 2-1 2-6 3 2 2 0zM218 423l2 4 5-3-5-3zM198 422l5 2 3 0 2-2-3-2-5 0zM351 419l-2-1-3 3 4 1zM302 417l-1-1-5 4-3-1 0 2 4 1zM99 415l-5 2 2 3zM7 414l-2 3 3 2-3 6-5 3 0 5 2 0 6-7-1-3 3-3 0-3zM443 413l-6 3 4 8 0-6zM247 408l2 10 6-3-3-1zM111 410l5 1 4-2 3 4-2-5-4-1-2 3zM300 406l-4 0 0 9 5-2-2-3zM128 406l1 6 7-4-1-2-5 5-2-2zM318 405l-1 2 3 2 0-3zM158 409l8 1-1-2 4-3-3 2-7-2zM219 404l-2 0 0 3zM22 404l2 4-3 2 5 0 1-6zM276 408l-3 0-8-5-3 9 2 6 10-5zM205 399l-14 3 12 0zM68 401l5 3 5-1-2-3-7-1zM317 398l0 2-8 6 1 3 2 0 0-2 5-5zM174 396l-3 3 0 2 6 3 2-2-1-4zM67 398l-2-3-4 2-3-1 0 3 3 2 3 0zM421 396l-2-2-2 2zM221 394l1 5 4 2-1-5zM194 393l-2 5 2-2zM155 393l0 2 6 1-1-3zM87 400l4-5 6 5 0 2 5-3-2-3-4-2 0-2-3 0-4 2 1 2zM117 391l3 2-1-2zM268 390l-6 6 2 1zM316 387l-1 3 3 0 0-2zM344 386l-2 2-1 5 2 6-1-3 2-2 2 1 0 7 2-1 0-6-3-1 1-5zM242 386l4 4-1-3zM138 383l-2 2 3 2 1 4 2-6zM428 381l6 4 3 0zM317 380l1 2 1-1zM110 380l-4-1-2 5zM53 379l-5 1-4 6 10-1-2-3zM326 377l-5 2 3 6 3-2zM272 383l2-5 3 3 2-1-6-3zM258 377l-2 4 2 4 5-5-2 0zM158 380l1 2 15 0-8-5-3 0zM400 372l4 4 2 0-4-5zM69 371l-1 3 6 1-3-4zM430 367l-2-1-4 5-3-1 8 1zM253 366l0 3 6 4zM92 365l-10 1-3 4 4 3 4 0zM26 365l-4 3 4 1-3 4 5-4zM227 364l-6 2 1 5 8 0-2 0-3-4zM381 359l6 5 0-3-3 1zM216 359l-2 6 2 2 0-4 3-3zM418 357l0 5 2 0-2-2zM35 358l-2 3 3 1 2 4 2 1 2-3 4 1-4-4 0-4zM366 356l-2 1 0 2 2 0zM69 356l1 3 1-2zM132 354l-1 2 2 3 1-4zM3 354l6 4 3-1zM165 354l-1-1-10 5 5 2 3-3 2 0zM448 351l-9 5 0 6 3-3 7-1zM69 351l-3 0 0 3zM404 352l2 3 3-2 4 0-5-4zM429 348l-1 2 2 2 0 3 2 1 3-6zM282 348l-10 1-7 4 12 1-1-3 3-3zM363 350l-1-3-6 2zM328 348l3 1 8 8 2-2-2-3 0-5-6-1zM232 347l-4-1-4 6 1 1-2 2 3 3 2 0-4-3 3-3-2-1 2-2 3 1zM292 344l2 3 4 2zM234 343l-1-1-1 2zM205 345l1 2 6-1 1-4-5 0zM346 337l0-2-3 1zM274 329l-4 2-4-1 5 1zM150 329l-3-1-6 4-2 3 0 7 3 0 3-3-2-2 0-3zM437 328l0 2 3-1 6 6 2-4-7-4zM278 328l2 5 6 1-5-3-1-4zM333 327l-4 0-1 4 6-1zM83 331l4 1 7-3-1-3-6-1 0 4zM263 324l-2 1 1 1zM245 324l-2 3 2-1zM292 322l3 4-1 2 2-1 3 4 1-4-2-3-4 0zM402 321l-5 2-1 3 2 2zM223 321l1 7 3-2-4-3zM354 320l-5 1-1 2 3 1zM236 319l-4 3-1 6-3 3 0 2zM278 318l1 5 2 0-1-5zM124 310l-5 2 0 5 3-2zM153 309l4 12 4-4zM403 308l-8 2 4 4 1-4zM217 308l0 3 2 2 3 0 0-3zM367 308l-4 0-2 6-2 0-4-4-2 2 4 3 4 0 6-4zM159 309l5-1-4-1zM304 307l2-3 4-2-6 0zM232 311l1 1 3-2 0 3 2 1 4-2 5 1 9-2 4-4-2-2 1-3-5-1-3 2-4-1-3 2-8-4-1 9-2 0zM133 300l0 3 4-1zM111 300l4 3 2-2-3-2zM338 296l4 3 6-3-4 2zM254 294l-4 3 0 2 0-2zM77 294l-4 1 3 3-2 4 3-2 2-4zM329 296l-2-2 0-3-5 3 3 2zM415 293l9 5 3-1 2-3-2-1-2 3-3 0-2-6zM250 291l-7-2-6 8 0-9-3 4-5-1-5 4 0 9 0-8 3-3 5 1 3 4 3-1 6-7 5 4zM203 288l-5 3 2 3 4-2-2-3zM295 292l-2-2-4 0 2-3-6 2-2 3-1-3-2 2 1 2 2-1 2 3 7-1zM268 287l-11 0-4 3 7 0 3-2 5 1zM140 288l5-2-3 0zM71 285l2 4 0-3zM100 285l-9 0-5 4 4 4 2-2 2 3 6-2zM324 283l-5 2 3 0zM156 282l0 2-4 2 3 6 4-2-3-4zM277 278l1 5 4 0zM175 280l2 6 4 2 5-3 3 1-1-3-6 2-3-7zM165 276l-6 2 5 0zM445 274l-3 0 0 5-5 4 0 2 7-5zM244 274l-2-1-2 5-5 2-2 3 8 1 1-2-2-1 0-2zM181 272l0 2 2 1zM115 274l-5-2-4 1 3 6 2 0zM47 272l-9 3 4 4 4-2-3-1 3-1zM17 272l-4 3 3 0 3 3-1 3 2-4zM345 271l1 4 5 2 1-2 2 3 5 1 7 6 1-1-1-4-7-1-6-5-5 0zM370 270l-5-1 2 0 1 2-5 5 2-2 3 0zM296 268l2 2 0-2zM270 268l-6 1-2 3 1 2-4 1-5 5 11-3 4 3 2-3zM410 268l-3-2-4 5-4 0 6 1 5-2zM229 264l-8 6 2 4-1 1 2 1 3-2-2-3zM155 267l5-1 1 2 0-3-3-1zM174 266l-8-3-5 8 6 3 0-7zM351 262l-2-1-3 2 3 2zM333 260l-2 3-3 1 0 3 2 2 5-2 1-5zM93 262l-4-3-1 5 3 2-3 4-3-2 1-4-4 7-3-1-2-3-3 2 6 3 5-4 0 5 3 0 5-4-2-3zM37 263l3 1 4-3-5 1-1-3zM10 255l-5 4-2-1-2 2 9 0zM162 255l6 4 4-1 3 3 5-4-4 1-7-4zM396 253l-3 0-6 10 7 2 0-8zM283 251l-4 0-3 2 0 4 2 1-1 1-6-1-1 3 2 3 1-4 3 2 0 2 4 1 1-2 3 0 4-3zM331 247l0 3 4 4-1-6zM373 246l0 4 3 2 6-2 0-2-3-2-4 2zM327 235l-4 4 0 2 7 3 2-3-4-3zM409 233l-1 3 2-1zM364 232l-6-2-6 3 0 4 5 2zM361 231l1 2-2 2-1-2zM547 224l1 6 7 3 0-2-5-3 0-4zM542 224l-3 1 0 3 3-1zM0 221l1 3 4-2zM311 178l-5 1-3 6 3-2 5 1zM2 169l-2 1 0 9 4 0zM310 101l-3 5 4 1zM0 85l5-1-3-3 1-1 7-1-4 0-6-3zM307 56l-1 3 3 1 1-2z"/><path fill="#d8487c" d="M233 74l8 0-3-4-3 0zM41 66l1 9 3 0 4-5 3 0-1-3zM142 70l-7-7-3 2-1 4-4 0-8 4 14 0zM51 63l1 2 4-1 1 5 5 0 0-3-6-5zM40 61l-5-1-3 1-2 3-4 1 7 1 3-4zM282 59l-2 4 2-1 3 2 1-3zM73 55l1 2 6 2-3-5-2 2zM169 57l-1-4-5-1-2-2-4 3-6 0-2 2-5-2 9 9 4 0 3-2 4 3zM13 47l-4 1 0 6-4 0 2 3 2 0 4-4-2-4zM199 47l-1-1-1 2zM167 50l3 1 3-2 8 0 5 2 3-5 0-5-4 0-4 3-5-3-3 0 0 3-3 3-2 0zM121 39l-7 0 1 4-4 2 0 4-3 3 4 2-7 6-1 3-3 1 1 1 4-1 3 2 1-2-2-3 3-4 3-1 3 1 2 4 2-5-2-3 6-4 0-4-5-2 3-1zM116 44l4 4 0 4-2 2-3 0-2-2zM214 43l-2-4-4-2-6 1-3 6 2 0 3-3zM152 27l-3 6 2 2 3 0 3-5zM258 27l2 5 3-2 3 3 4 0-6-5-1-3zM182 23l-3 0 0-3-4 1 1 2-3 3 3 1zM115 16l0 2 7-2 4 3 5-2-2-2-2 1-9-2zM164 12l-1-2-3 2zM179 15l5-2 10 2 5 4 5 0-5-1-5-5-5-1-4-3zM158 5l-1-1-9 5 5-1 4 4zM92 10l14 0 4-4-4 2-5-5-6 0-2-2zM283 0l0 7 6 0-5-3 1-4zM177 2l3 3 7-1 5 4 5-4 5 0 3 4 2 0 6 8 4-1 5-7-1-3 5-4 3 4 3-1-4-2 1-2-16 0-3 3-8-1-5 2-7 0-4-4-8 0z"/><path fill="#de3a32" d="M374 433l9 0-1-2-5 0zM305 432l4 1-2-2zM21 431l-3 2 3 0zM405 430l-6 2 3 1zM123 430l-6 3 4 0zM29 430l1 2 6 1zM190 430l-4-1-4 4 7 0zM316 429l0 2 4 2 5 0-3-3 0-2zM59 429l-7 0 0 2 3 1zM355 427l-1 2 2 0zM449 426l-4 4-3 0 2 3 4-1zM213 426l-4 4-4-3-2 2 4 1 1 3 2 0zM459 425l6-1 2 4 6-1 2 2-3 4 6-1 0-7-2 0-2-3-9 0zM338 420l-5 1 2 4-1 3 2 0 3-5 3 2zM244 420l-3 5 6 4 3-5-6 1-2-2zM131 419l4 5-1-4zM437 418l-2 2 3 3 0 5-4 3 1 1 6-7zM219 420l-3-2-1 4zM7 419l-4 3-3-4 0 9 4-2zM129 416l-3 4 1 3 2-3zM146 419l-1-4-6 2 3 2zM53 415l5 3-3-3zM369 414l-4 5 0 6zM320 415l-4-1 0 2-3 3 4 1-1-1zM208 414l-4-1-4 2-3 5-2 0 3 1 2-2 4 0 4-2zM43 413l1 7 1-4zM446 412l-2 1-2 5 1 5 4 0 4-4 0-2zM261 412l-6 2 1 1-3 2 0 8 3-2 1-3 3 0-3-2-1-3 5-1zM7 412l3 4 0-3zM478 409l-3 6 2 0zM438 409l3 2-1 3 2-3zM404 410l1 4-2 3 2-1 2 2 4-1 3 2 5 0-1 7-4 4 2 0 8-6 2 2 0 5 4 0 2-2-3 0-3-3-1-5-4 0-2-2 1-3-4-1-2-2 0-3zM262 421l10 3 3 3 12 0 1-2 5 0 4 3 4-1-1-2-11-3-4 0 0 5-3-1 0-10 8-2-3-5-2 0-3 7-5-7-3 5-10 5-1-1zM210 412l3-2-3-1zM105 409l-5 3 2 2zM35 409l1 2 3 0 0-2zM195 410l-1-2-2 0-10 8-3-2 0-2-6-2 0 3-3 2-5 0-1-4-6-1-3 6 5 2 4-4 3 7 3-4 4 0 1 3 4 3 8 1 2-5 3-3 2 0zM322 410l5 1 1 3 5 0 2-2-4 1-1-6zM300 408l2 5 3-4 4 0-3-2zM69 416l0 2 3 1 2 4 3-1 2 2 0 5 3 0 3-3 2 0 2 4 3 1 2-3 5-1-2-2 1-3-5 1-5-4-3 2-8 0-1-1 5-9 0-2-4-3-3 3 0 4zM20 407l3 1-1-2zM44 405l-1 2 2 2zM260 408l-1-4-5 3-7 0 2 3zM376 403l7 5 0 3 1-2 6 2-6 3 2 2-1 1-3-1 2 4-1 3-3 2 3 0 1 6 1-1 2 2 1-5 14-19-4-4-3 5-6-3-4 0-1-3zM144 405l1 5 7-1-1-4-4 0-1-2zM125 405l-3-2-9 5-4-4 0 4 6 1 2-3 2 0 3 2 1 3zM359 403l3 2 6-1 3 3 5-1-3-3zM14 402l-1-1-2 3zM215 400l-1 1 2 1zM415 399l-1 3 4 2zM212 402l-4-3-2 0-3 4-19 0-2-3-2 0-2 8 9-2 3-3 3 0 3 4 3 0 2-3 2 0 2 2-5 4 1 2 3-1 4-7zM303 398l-1 4-4 0 4 0zM94 398l0 6 2-1 0-3zM3 396l-3 6 1 6 6-6-2-1zM161 394l3 8 4-1zM469 393l-2 4 3-2 2 5 1-3-2-4zM457 393l-3 4 1 5 4 1-2 3 1 5-2 4 3-2-2-6 5-5-5-4zM434 393l-3 2 0 3 6 6-1 2 3-6zM230 392l4 7 4-6zM97 393l11 2-4-3zM420 391l-2 3 1-1 3 3zM382 392l4 2 1 3 7-1-4-2-1-4-3 2zM250 394l11 2 1-3-7-3zM222 389l-1 3 4 3 1-6zM198 389l2 7 4 2 3-4 0-3-6 1zM32 389l-2 1 0 3 3-2zM36 389l5 8 7 2 0-3 5-4-8-4-1 2zM218 385l-4 1 0 6 0-4zM419 386l2 3 6 0 2 4 0-3-7-6zM538 387l14-1-1-2-7 1-1-2zM476 383l-1 1 2 5-3 2-4-2 3 3 5 1 1-7zM407 384l7 5 2-2-6-2-1-2zM160 388l1 4 7 2 3-1 4 3 3 0 3-3-9 0 0-6-5-4-2 0 0 2zM166 390l1-2 2 1-2 2zM130 382l-1 3 5 4 1-4-3-3zM560 381l-2 6 7 0 0-4-2-2zM452 391l1-4-6-1 4-5-5 5-6-2 2 0 5 5 3 0zM367 381l0 2 2-1 5 4-1 6 6-2-1-3-4-1zM343 381l-8 10 3 0 2 2zM189 383l-2-2-5 1zM522 380l7 7 1-6-4 1zM235 380l1 7 4-1 1-4zM247 379l3 2-3 4 1 1 2-5zM548 378l-4 1 2 3 4-1zM426 381l4-1 8 4-2-3-2 1-3-4-2 0zM416 378l-2 0 0 2zM352 380l3-2-3 0zM563 377l3 4 0-3zM482 385l0 2 13 0-3-5 0-4 3-1-9 1 0 5zM111 377l0 2 3 3-3-3zM477 377l-8 0 0 2-3 2 0 5 2 0 1-6 5 2 3-3zM498 373l-1 7 4 5 4 0 2 2 10 0-4-4 0-2zM442 374l-4 0-2 5 2-4zM319 371l3 3 2-1-3 0zM144 371l3 2 3-1zM119 371l2 2 2-1zM456 372l4 1 3-2 5 4-4-5zM382 370l-5 1-1 2-6 0 1 3 9-1zM452 369l-5 2-1 2 2 2 3-1zM98 369l0 3 2-2zM482 369l0 2 6-1-2-2zM109 368l-4 4 1 1zM65 368l-3 0-1 5 2-3 2 0zM313 367l1 3 3 0zM494 369l4 1 5-3-5-1zM177 366l0 8 5 1 0-2 3-3 0-3zM365 365l-2 0-1 3 2 0zM247 364l1 4 3 2 0-4zM473 362l-6 2 2 6 3-1-4-4 3-3zM425 362l-8 9 3 9 2 0 3-8-3-1 5-5zM420 369l1-1 2 2-2 1zM2 362l0 5 3 0 2 2-1 6 4 0 0 3 3 2 4-2 3 1 0-2-3-2-7-1-3-3 0-4-3-3 1-2zM520 364l-4-4-5 0-3 6 8 2-10 1 0 2-2 1 3 1 4-3 6 0-2-1 3-1zM141 362l5 0 2 5 4-1 0-4-2 1-4-3zM108 360l0 2-3 2 2 2 3 0 0-4zM247 360l5 1-2-2zM332 361l0 3 5-2 4 3 1-1 5 3 3-2 1 3 4 0-5-3 0-3-3 2-9-7-2 0zM237 358l0 2 7-1-2-2zM166 357l-4 1-3 3 0 8-4 4 3 6 4-8 6 6 2-6 3-2-6 0-3-5 6-4zM161 362l2-1 1 2-2 1zM575 356l-3 2 3 0zM469 359l-6-3-3 1-5 6 5-1 4-4zM27 356l-4 0 0 6 3-1zM566 355l0 6-2 2-3 0-4-3-3 1-1 7 0-4 4-4 2 2 0 3 5 2-4 5 3 1 4-2 2 2-1 4 4-4 2 0 1-3-1-1-2 2-6-4 3-6zM524 355l-2 0 0 2zM510 355l1 2 5 1zM401 355l4 5 0 6-2 2 12-5-2-3zM64 353l-2 4-4 2 3 2 3-3zM190 352l-6 3-1 3 3 0zM498 351l2 2 0 4 2 1 3-5zM300 351l0 3 3 1zM203 351l-4 4-5 2 0 4 2-3 6-2zM42 354l-3-4-2 0-1 3-5 4 3-2 6 1zM545 349l-2 3 1 4-3 3 0 2 6 0 2-7zM104 349l-7 0 0 4-3 2 2 4-2 2 9-2zM25 349l-5 0-4 3-1 3-4 3 0 2 3-2 3 1-1-2zM575 348l-7 4 5 1 2-2zM254 362l1 3 4 0 2-3 4-2 1 4 3 3 0 5 3 3 0 5-2 3-2-1 3 6-3 3-1 4 5 0 1 6 4-8-4-3 1-1 5 1 4 4 5 1 3-3 5 1 4 4 2-3 5 2 7-4 3 3 8 3 0-4-3 0-4-3-5 1-3-2-2-4 5-4 1-5-2-3 0 2-2 0 0-4-11-3 2-1-4 0-2-3 1-3-4-5-3 0-2 2-2-3 1-4-3-2 0-2-6 3 3 3-2 2-13-2 2 1-1 5-4-1-3 2-1-1 3-3-2 0zM291 390l1-1 1 2-1 1zM285 383l8 5-2 2-1-2 0 3-6 3-1-2 4-3-3-3zM299 382l1 2-4 6-3 0-1-1 3-1zM302 376l9 2-2 2-5 0 3 2-1 4-2 0-5-7zM273 376l2 0 6 5-1 4-3 3-7-4zM273 360l6-5 4 4 3 0 2 3 5 1 2 2-2 5 3 5-11 0-1 2-6 2-8-10 8-4 3 2 3-3zM115 348l-4 2-5 0 3 3 4-1zM239 347l-1 2-4 0-1 4 5-3zM539 345l-4 5-5 2 1 2 8-7zM486 345l-6 13 1 2-6 7 6 0 3-4 6 0 1 3 1-1-3-5 0-12zM141 346l-2-1-1 5-2-2-5 1 0 5 5-4 5 3zM418 344l-4 2 1 3 3-1zM159 345l-6-1 1 3-2 4-3 2 2 3 3 0 6-9zM12 344l-2 1 0 2 3 3zM508 351l3-2 10 0-6-6 1-1 11 2 1 5 1-7-13 0-2 1 0 3zM482 341l-3 0-3 4 4 3-3 5 4-4-1-5 4-1zM201 343l-1-2-7 1-5 3 0 2 2 0 2-3 2 2 3 0zM57 341l-9 6 2 4-1 1 6-6zM453 340l-6 4 1 6 0-6zM431 339l-3 5 2 0 0-2 2-1zM214 341l2 4 6 0 4-3-1-2-2 3-2 0-3-4zM313 337l5 7 7 3-5-6-2 1-2-4zM362 335l3 7-2 1 3 2 1-3zM133 340l-3-5-7 5-1 3 8 0zM556 335l5 1 1-2zM60 334l-9 0-2 2-5 1-3 6 3-1 5-6 7 1 4-1zM284 335l-5 1-4-5 0 3-3 4-7 0-1 3 5 3-1 5 9-12 1 2 5 0 1 6zM264 335l2-2 4 1 1-2-6-1zM224 331l1 3 3 2zM40 332l6 1-3-2zM547 330l-1 2 2 0zM456 330l-1 2 2 4 1-4zM449 330l-2 7 5 1-3-5zM380 333l1 2 7-1 1-4-3 3-4-3zM481 332l-2 0-3-3-3 2-1 4 6 0zM192 330l2 4 5-1 1 2 2-3 1 2-2 3 3 2 8-1 0-4-3-2-4 3-1-4-3 1-1-3-2 4-2-3zM114 328l-4 2-1 3zM367 327l-4 4-4-3 2 5 3-1zM78 327l-2 2 1 2-3 1 2 2 3-1zM18 331l4 2 7-3-8-4 0 2zM5 326l-5 2 0 4 3-1zM291 323l-1 7-2 3 6 0 7 7-2-7zM536 321l-3 0-2 3 1 1zM366 321l1 2 6 0-4 0zM328 327l-3-6-3 3-4-1 1 2 4-1 3 3zM531 320l-5 1-1 2zM440 320l2 3 2 0zM333 324l2 6-5 2 3 3-1 3 10-2 3-2 4 1-2-1 2-2 3 2 0 4 3 1 5-4-5-2-2-5-2-1-3 2-2-2 1-5-3-2-7 4 1 1-2 2zM518 319l0 3 6-1 0-2zM277 319l-3-1 0 3-2 2 1 2-3 4-5 0 5 0 3-3 2 2 3-5zM203 318l-1 3 3 2zM119 318l-3 0-3 5 5 0zM110 318l-3 2-1 4zM419 317l4 4-1 9 4 2 0-5 4 0-5-4-4-6zM399 317l-4 2 1 1zM387 317l-3 4 0 3 2 3 3 0 0-6 2-2zM59 317l-5 5 3 3 2 0-2-3zM253 316l-6 5-1 5-4 2-1 3 2-1 3 2 2-2 1 6-9 6 3 6 0 4 6 2 0-8 9-4 1 3-3 3 0 2 3 2 1 3 0-4-2-3 4-8-2-2-2 2-2-3-4 0-2-2 0-3 4-3 9 0 2-10-4 2-2-2-2 3zM260 325l1-2 3 1-2 3zM131 313l-3 1-2 4zM11 318l4-3 9 0-11-2 0 3zM76 311l-3 2-5-1 0 3 4 2 4-2zM212 310l-3 2 2 0zM43 317l-5-7-2 4-5-1-2 2 1 5 9-2 3 4zM390 308l0 3 4-1-3 0zM261 308l-4 3 3 1zM227 308l1 2-2 5 3-3 3 0zM101 308l-2 2 2 4 3 1 0-2-3-1zM549 307l-2 2-3 0 0 2 3 1 3-2zM425 306l-10 0 0 2 4 5 3 0 1-5zM285 306l4 4 2 0 1-4zM552 304l0 6 4 5 0 3-8 6 3 0 3-3 7 0 2 2-2 3 2 6 3-3-1-4-5-9-5-3-3-4 7-2 14 1-12-1-4-3zM371 303l-3 1-1 3zM453 301l-2 2-3 0 2 1-1 4 4-4zM201 319l-6-1-2-6 3-3-5-3 1-4-2-2-9 6 0 3-2 2-6 1-1 5-4 3 3 3-1 3-9 1-3-6-1 1-2-2-3-9-3 7-5 2 9 8-9 6 0 3 4 3 3-1 13-12 1 5 3 4 1-4 3-2 2-5-1-5 2-2 2 7-3 6 4 0 2 3 0 3-4 3 8 6 4-4 0-2-5-4 0-8-6-7 1-4 6-8 4 3 1 9-3 0 6 5zM123 303l3 5 5-3 5 1 4 4 0 4 2 3 0-8 3-3 6 0 11 11 3-5-1-3 4-4-7 1 4 2-2 2-7 0-4-3 2-6-2 0-2 4-4 1-10 0-1-2-4 0-5-4zM50 301l-1 3 3 4 4 0 2-2 0-3-4-3zM249 297l-2 3-4 0-2-2-3 2 6 3 5-3zM546 297l-4 1-3-2-10 5 5 4 5-2 8 1-2-4zM378 296l-4 8 3-1 0-3 2-2zM300 301l-2-5-3 2-6 0-2 2 3 3 6-1 3 2zM320 295l-2 2-2-1 2 2 0 6-4 8 1 2 3-4 5 1 2-2-2-4-5-4zM173 295l1 3-3 3 4-3zM232 295l-5-1-2 2 0 8 9-6zM180 294l-3 3 0 7 8-6zM257 293l-2 1 1 2 2-2zM78 294l4 4 4-1-5-4zM572 292l-3 2 5 5 1-2-2-1zM389 292l-4 2 4 0zM119 294l-6-2-1 4-6 4 3 1 4-3 4 2zM75 292l-3 1-2 4 2 6 3-4-3-4 4-2zM373 292l-2-2 0 2-10 9 5-2 4 2-2-6 3-3zM112 289l-2 0-4 7zM475 288l4 1 2-2zM438 287l-4 5-7 0 3 2-3 4 7 6 2-4-2-5 3-3zM198 289l-6-2 0 3-2 2 3 2 0-3zM362 287l3 2 3-1-1-2zM552 286l-3 6 6 2 1 3 4 0 2 2 3-2 0-6-5-3 2-3-3 2zM515 285l-6 2 3 0 2 2zM278 286l-1-1-2 2-4 0-1 6 2 0 0-5zM320 286l2 6 5-2 2 5 1-6 5 2 5-1-9-1-6-5zM100 286l5 2-1-4zM266 285l-4-2-4 4zM232 283l-4 3 1 4 2-1-1-2 3-3zM214 283l-8 1-2 3 6-1zM129 283l-1 2 3 4 1-5zM322 283l-1-1-3 2zM294 283l-3 0-1 3 3 0zM353 281l2 3 3 0zM254 281l-5 3 0 6 5-2-2 0 0-4zM123 281l0 5 3 1 0-3zM181 285l6-3 7 0-8-2zM445 279l-4 6 4-3zM221 281l4-2-3 0zM103 279l6 7 2-2 3 4 2 0-3-8-7 2zM79 279l1 12 3-6-2-5zM509 278l-3 0-1 2 2 2-1 4 4 5-3 1-4-2-1 5 3 2 1 4-5 7-4-2-3 6-3-1-2-3 0-5-7-4 4-3 13 0-7-2-1 2-7-4-5 1 0 2-3-1 3 1 1 3-6 1 0 5-5-2 0 6-8 2-5-5 0-2-2 5-5 4 1 2-4 0 6 6 2-2 6 4-3 6 4 0 4 6 0-11 10 1 3 4 2 0 2-3 3-1-2-2 2-1-2-2 1-2-3 3-2 0-2-2 0-3 1-1 3 2 5-2 2 2-1 10 3 5-2 3 1 3 4 1 5-7 0-7 2 3 7 0 3-2 6 10 0 3 4-3 3 0 2 2 1-6-3-3 1-3-6 1-7-3-7 1-7-3 2-3 9-1 1-4 6-2 0-2-2 0-3 4-4 1-3-3-4-1 6-4 2 0 2 3 4-14-2-5-4-2 0-2 4-2zM459 317l1-3 13 0-4 5-4-1-3 2zM475 303l6 4 4 0 4 4-5 0-3 3-4-2-2 1-2-4zM329 278l10 1-5-2zM167 276l-4 3-2 4 1 1-3 4 1 2-3 2 0 2 3-4 2 2 0 4 2-1-3-6 2-4 8 5 5-4-3-5-1 5-3-2zM217 275l-2 0-2 4zM19 280l1 1 2-2 3 0 3 3-2 1-1 4-3 3-2 0 6-1 2-2 2 3 3-4 0 6 4-4 3 0 2-3 0-3-3-4-9 5-1-8zM570 274l-3 0 1 3 0-2zM248 274l-3 0-3 3-1 4 3 0zM540 273l-3 5 6 0 4 5 2-2-1-2zM415 273l-3 1-1 5-3 0 2 4-1 5 3 3-2 4 3-2-1-6 2 0 0-4 3-2-2-2zM309 274l1 2 6 0-3-3zM401 272l-1 7 4 3 2-4-4 0 0-4 2-1zM282 272l-5 3 0 2 4 4 2 0 0-3 2-2 3 2 1-1zM189 273l3 4 6-3-2-2zM555 271l2 2 0 3 2 1 5-3-5 1-1-5zM473 271l3 1 4-4-5 0zM229 269l3 2 4-3-6-1zM160 267l-7 2 0 2 2 2-1-2 4-4zM48 269l6 3 0-6zM98 265l3 9 2-2 2 1 5-2 6 2-5-7-2 2-8-1zM387 264l-3 5 4 3 0 3-4 2 9 1 4-3 0-3-3-1 0-5zM377 264l0 6 4 2 0-3-3-1 1-3zM336 264l-1 4 6 0zM10 264l-3 0-1 4 3-1zM2 264l-2 0 0 3zM94 263l-2 2 1 2 2-2zM346 264l0 4 5 1 3 3-1-2 4-1 2-3 4 2 2-1-5-4-6-1 3 2-2 4-5-1zM517 261l1 5-3 0 0 3-3 1 5 7 0 6 2 1-2 1 4-2 11 0-14 0 3-3-6-9 4-6zM281 264l4 2 2-3 3 0 5 8 2 0-2-3 5-1 4-4 1 4 4 2 4-4 1-4-8 2-3-1-4 3-7 0-2-4zM273 261l-1 4 5 4 4 1-3-3 1-2-3 0zM247 262l1 5 4-3 4 0 0 2 3 0 0-3-3 1-4-5zM155 257l1 5-2 4 6-3 2 2 0 4 4-7 9 4-3-4-11-6zM534 253l0 5 6 0-3 0-3-3zM421 274l1 3-2 1 4 3-3-3 6-2 6-8 2 0 3-3 4 0 3-3 2 5-4 3-9 1 2 5 4 0 2-3 7 0 5-5 4 2 5-1 2 2-3 2 0 2-9 5 7-3 2 3-8 6 1 8 5-1 1 1-2 3 6 0 2-2 5 0 2-3-3-2-1 2-4 0-1 2-1-2-3 2-1-1 7-9 0-3 2-2 0-7-2 1-8-9-4 3-1-2 2-3 0-5-7 1-1-3 2-2-3 4-4-2 2 5-1 2-2-1-5 5-3 0-6 7-4-2zM333 257l3 4 12 0 0-3-4-2 0-3-2 0-3 4zM13 254l4 2 2-2zM396 255l8 1-2 6 4-6 3 2-1-4-5 1-4-3zM89 252l-3 0-2 2-1-1-3 3-2 0 6 2-3 6 4-1 1-7 1 3 2-1-2-1 2-2zM214 263l3 1 3-2 8-1 4 1 2-11-3 0-5 3-2 0-2-3-1 5-4 2zM142 251l-5 2 5 2 2 4-2 1-3-3-4 1-2 6-3 1 0 2 4 6 3 9 3 2 1-3 1 4 5 0 9-6 4 0-6-1-8 6-4-6-3 0-3-3 1-5 7 0 2 4 0-8 2-4-3 3-4-1-6 6-3-1 0-4 2-2 10-2 4-3 0-4zM108 250l-12 1 1 2-5 3 1 5 2-2 3 1 1-2 3 2 4 0 4 3-4-9zM434 249l-1 2 3 1zM385 250l-2-1-2 3-4 1 4 0zM350 247l-1 3 2 2 0 9 3-3 2 0-1-4 2-1-2 0zM61 249l5 0 0 3 3 0 2-5-5-1zM318 247l-2 1-2-2-7-1 0 5-3 2-1 4-3 0-3-3 4 5 9 1 6-4-4-1-3-3 2-1 6 2zM17 245l2 1 1 6 2-4-3-3zM358 248l4 2 9 0 1-4-8-2-2 4zM346 246l-3-2-2 2-6-1 0 8 1 1 5-6zM559 243l0 2 2 0zM401 243l-4 5 4-3zM286 243l-1 5 6 4 1-3-2-6zM280 243l-3 5 0 3 6-1zM323 242l7 4 0 7 0-7zM257 241l0 3 5 4 2 7 5-1-2 0-3-3 1-1 7 1-3-1-2-3-7-2zM52 245l-7 0-3-4-1 2-5 0-7 7-6 1-1 2 1-1 4 4-1-2 8-8 5 4 3-5zM440 240l2 2 0-2zM144 241l-5-1-5 8 7-6 4 3zM213 239l-5 3 0 5 3 3 1-1-3-5 4-3zM365 237l-11 4 4 2zM503 241l0 3 5 0 3 4 7-1 2 2-3 2-1 3 2-1 4 4-2 3 4 1-3 3 8-7-4 0 5-6-9-1 0-9-5 1-2-2 0-4zM510 244l4-2 3 4-3 1zM189 238l-1 1 4 3 4 0 1-2 1 1-2 4-3-1 5 4 5-8-2 0-3-4-3 0-2 5zM197 240l1-2 2 1-2 2zM6 236l5 4-1-3zM536 235l-2 4 4 2 0 3 4 4 2 0-3-4-2-7zM305 239l3 4 5-2 4 4 2 0-2-2 0-3-6 0 0-5zM446 242l5 4 4 0 0 5 5 2 1-4-3-4 6-1 2 8 2 1-4 3 5 8 6 0 5-11 3 0 2 8 0 5-2 3 0 4 2 2-2 1 1 10 3 1-4-8 2-4 5 0 4 3-2 3-3 1 0 2 5 4 1-10 2-2 4 0 0-6 2 0 6 6 1-1-5-5 4-1-4-3 1-5 2-2 5 0-3-3-6 4-4-4 1 3-9 7-5 0-2-2 1-3 5 2 1-5 4-3-2-2-6 9-2-2 1-3-2-6 3-3 7 0 2-4-19-1-2-3 3-3-2 0-3 3 1 1-3 5 0 4-4 3 0-4-3-6-4-2-5 6-4-4 1-4 5-3-2-1 1-1-5 2 0 2zM503 261l2 1 0 8-6-3zM280 237l-2-3-4 2-5 0 0 2 4-1 5 2zM408 233l-3 3 0 3 2-1zM290 233l3 2 0 5 4-1-1-6zM219 236l3 1 4-2 2 5 9-2-6 0-3-5-7 4zM342 232l3 3-2 4 4 1 0-4zM313 235l3 2 7 1-5-7-2 4zM545 230l0 3-2 2 3-2zM23 230l3 2-1-2zM0 230l4 5 2-5zM306 231l1 1 3-2 2 2 2-4-5 0zM276 228l0 3 5 0 3 5-1-5zM143 229l1 7 10-2-3-4-5-2zM367 237l1 2 6 0 1-3 4 0 1-4 3 2 3-3 7-3-4-1-3 4-8 0-9-4-3 3 3 4zM360 229l-2-2-3 0-2 4-3 0 3 1zM488 225l1 3 6 6-1 2-2-2-1 2 6 1 3-2 8-1-1-4-5 0-2-2 0-3-7 4-3-1zM553 238l5-8 6-1 4-4-8-1 3 2-1 1-7 1-4-4 0 4 5 3-1 3-3-1zM517 232l2-2 11-1 3-3 4 4 1-4-3-2-16 0zM413 224l5 3-2 5 5 2-3 2 0 2 7 2 3 3 4-2 0-2 3-3-5 6-2 0 0-4-5-3 1-2 3 0-4-3 1-6zM403 224l3 2-2 2 4-1-2-2 1-1zM340 224l-2 1 2 3-1 1-5 0 3 6-2 3 3 0-1 2-2 0 0 2 5-4-3-2 2-2zM295 228l7 1 2-2-6-3zM42 223l-1 2-7 0-1 2 7-1zM63 224l-2-2-3 0-2 2-1 5zM169 221l9 2 3-3 0-2-8-1 0 2zM91 222l11 0 3-3 8 0-10 0-3-2-5 4zM72 216l2 4 0-4zM43 219l15-1-10-2zM262 215l1 3-3 2 0 3 5 4 2-3 3 0 1-2-4 0zM264 221l1 2-2 1-1-1zM126 215l2 2 3 0zM206 218l-5 0-1-4-3-1-3 4-3 0-4 6 2 2 9 0zM156 212l-5 3 1 1-4 2-3 4-1-3 2-3-5-1-3 3 4 3-1 1-5 0-9 3-5 5 4 4 3-1 1 3 3-1 4-5-1-3 5-4 9 3 1-1-3-4 1-1 5 1 1 3 5 3 0 2 0-4-5-4 1-5-3-2zM294 213l-3-2-5 2-8-1 2 2 5 1 6-3zM299 211l4 2-2-3zM230 211l8 8 0 3 3 4-1 1 5-5 4 2 5 0-2-3-5-2-9 0-2-2-1-7zM278 208l-5-1 0 4-3 0 3 3zM160 204l-5 3 3 0 0 2zM85 201l-5 0-6 5-3-4-5 0 4 10 3 2 5-1 6-8 4 1zM261 200l-6 1 3 3-1 5-2 2-7 0-4-2-6 6 4 1 1-3 5 1 4-3 6 1 4-3 0-2-4-2 3-2zM217 200l-2 2-7 2-2-1 8 6 2-1-1-4zM186 200l4 1 7-2-6 1-3-2zM5 198l-3 1-2 3 0 10 6-7 4-2-4 0zM273 198l0 4 6 1 4-3 0-4-7 0zM270 191l5 0 2-2-6-1zM0 192l5 1 3-2 1-3-7 0-2 1zM203 192l15 2 4-4 4 4 5-3-2-2-23-2zM210 189l1-1 1 2-1 1zM29 183l8 6 1-2-2 0-4-4zM169 182l-2 0-6 8-2 0-2-3-1 2 3 2 11-2zM102 202l6 0 4 8 4 1-1-1 2-1 4 2 5 0 3-4 3 3 2-2 0-2-8-3 0 6-2 2-7-2-2 1-1-2 3-4 5-3 5-10 1 4 3 2 4-3 8 1 2 2 9 0 1-2-3-5-9-1-1 3-4-1-5-3-2-5-7 1-4-4 0 2-4 4-7-2-1 3-4 3 2 0 3 3 10 0-7 5-3 0-3 3zM206 180l3 2 5 0 5 4-1-3-4-3zM112 178l-3 3-5 0-3-2-2 1 5 4 2-2 3 0zM84 180l-8-4-9 2-5 5-2 0-1 9 2 2-2 2-2 0-8-6 3-4-2 0-4-4 1 6-1 1-3-2-2 3-6 3 3 2 6-1 6 5-6 6-5 0-2 2-5-1 0 3 12 5 2-6 4 0 5-3 0-6 8 0 2-2 6 3 4-3 2-5-4-1 7-2 1-3-2-3zM249 174l7 3-2-2zM159 178l12 1 3 7 0 4 5 2 4 4 4-1 3-5 3 0 2-2-2 0-3-4-3 3-3 0-2-4-7 2 0-2-1 1-2-2 0-3-4-5-5 0zM105 172l-3-1-2 2-5 0-5 4 5-2 8 1zM288 168l10 7 5 0-3-4 1-4zM138 164l0 2-3 3 3 0 3 4 0-6zM8 163l-2 2 2 0zM274 159l0 8 6 4-5-5 1-2 2 1 1-5zM263 156l2 0 3 4-3-4zM137 156l-2-1-6 6-3 1 6 0 2-4zM311 154l-2 3 1 3zM203 151l2 5 0-4zM238 150l-5 0-2 2-6-1-2 5 2-2 2 5 2 1 9-6zM88 151l2 2 5 1 1-4-3 1-2-2zM61 151l8 5 3 0 3-3-1-4-5-2zM118 146l6 4-4-5zM179 146l-3-3-6 2 4-1zM226 142l4 1 0-2zM87 144l-6-3-2 2-4-1-2 3 4-2zM0 136l0 4 4 0 2 3 1-4zM92 131l3 2 1 3-1-4zM39 132l-4-1-3 6 7-3zM67 131l5 3 3-4zM159 128l4 4 4-2-2-2zM28 128l2 6 0-5zM185 127l4 2 3-2zM222 126l-4 2 0 3-5 3 4 5 2 0 0-3 6-4zM37 125l3 4 0-3zM2 128l5 3 2-2 3 1 4-4-12-2zM38 120l6 4-1 2 2 4 3-4 4 0-4-4zM238 119l-6 1 2 5 2 0 3-3zM214 115l-5 4 5 5 2 0 1-4zM90 114l3 6 4-1-4-5zM108 112l-2 8 2 3 4-3 4 0 2 2-1 5 4 4 8-1-7-9-9-3-3-3 1-1zM279 111l-8 4 3 0zM113 113l2 2 4 0-4-4zM24 112l-12 0 6 5 3-1zM304 112l3 0 4 4 0-4-2-2-3 0zM182 111l-3 1-3-2 1 3-4 1 0 3 4 1zM186 114l4-1 6-6-4 2-6-2zM29 109l5 2 7-2 7 5 0 5 2-4-5-6-8-2-5-3zM171 106l8 0 5-3-4 0-2 2-6-2zM105 108l-7-2-2-3-6 1-1 2-3 0 0 4-4-3-3 1-2 6 6 0 3-2 1-3 8 2 3 3 2 0zM50 104l3-2 2 4 2-1-4-4zM137 102l6 0-5-3zM120 101l-6-2-1 2 3 1-3 1-3 4 4-4 3 0 0-2zM28 96l-2 2-10 0-4 7 4 4 2-2 7 1 0-2-2-1 1-5zM134 98l6-2-5-2zM134 89l-3-1-3 3 4 0zM84 90l3 1 9-3-7 0zM199 88l5 1 7-3-10 0zM18 85l-2 2-3 0 3 1zM248 84l5 0 3 3 5-2-10-3zM176 82l2 6 4 4 2 0 2-4 3 0-5-2-2-3-4 1zM5 82l0 3-5 1 0 7 3-1 5 4 3-3 1-4-3-1 0-3zM145 82l-3-2-5 5 4-2 2 1zM73 81l2 3 5 1 2-3 7 0-9-3-3 5zM223 79l1 4 3-3 2 3-1 1 3 0 8 5 5 0 2-2-9-2-2-4-6-3zM195 76l0 3 9 0zM294 71l-1 2 6 6 4-7-5 1zM176 71l-8 1 7 1zM142 71l-9 3-12 1 1 1-6 6-4 1 5 2 5-6 11 1 8-4zM221 75l3-3 7 3 3-5-2-2-7 0zM0 72l7 4-1-4 2-2 7 0-8-2-3 3zM298 67l1 2 12 1 0-2-6 1 0-3zM267 66l-2 3 2 3-1 3 5-6zM279 65l4 3 4-2 2 2 0 3 2 0-3-6-4 0-2-2zM153 63l10 2-4-2zM209 62l0 4-3 2 4 3 4 0 0-4 2-3-1 1zM289 62l8 0 2 2 5-2zM266 61l-7 1-2 2-10-1-6 3 4-1 2 3 5-4 5 1 3-3zM310 60l-3 2 2 0zM100 62l-2-2-8 0-1 1 5 0 5 4-3 0 0 2-4 2-9-2-3-3-6 1-1-2-9 0-1 6-3 1 0 3-6 4-10 0 0 2 6 5 6-2-2-4 1-2 4 0 2 2 11 0 0-4-3-3-2 0-3 3-2-1 3-8 4 0 3 3 11-1 4 3 3-1 5 2zM204 58l-6 3-6 0 0 9-3-4-4 4-4 1 6-1 2 2 4 0 0-2 9-4 0-5zM106 75l2 1 6-5 4 2 6-4 7-1 0-3 3-2-5 0-4 4-6 1-2-2 0-8-6 0-2 3 2 3-1 2 5-3 4 5-6 0-4 2 0 3zM50 54l-9 6 5-1zM0 54l1 3 5 2zM89 54l-6-2-2 2 0 5 2-3 6 0zM106 51l-3 2 0 9 8-8-2 0zM126 51l4-1 2 3 4-1-4-2zM68 47l3 2-1-2zM216 50l0-2-3-2-2 0-3 3-7-2 12 4 1 2zM139 54l4-2 6 2 2-2 6 0 2-2-4-5-10-1zM44 46l7-1-4-1zM266 47l-3 0-4-4-9 8 3-1 6 2zM63 43l-5 4 2 2-1 1zM0 50l3-2 4 1 3-3 6 0 5-3 3 2 5 0 4-3-13 0-3 3-4 0-3-3-3 0 0 4zM304 45l-2-1-2 2-4-4-4 0 1 4-3 4-9 2 1 2-3 2-1 3 4-2 0-3 9-1 5-7 5 2zM173 38l-2-2-3 0 1 4-4 2-9-3-1 1 9 3 5-1zM116 33l0 3 2 2 3 0 2 3-3-9zM244 34l-14-3 0 7-2 2-2 0-2 3-4-1-5 2 3 1 2-2 10 0 3 2-1 2 4 2 5-7-3-1 5-4zM238 41l1 1-3 2-1-1zM225 32l-1-2-7 1-7-3-9 6-1-2-2 0-6 5-3 0 0 2 4 1 3-2 5 0 2-4 6 0 3 2 8-4zM131 31l3 6 11 1 6-11-15-1zM277 41l1 3 2 0 5-6 4-2 10 3-1-3 2-4 3-2 6 1-4 2-1 6 7-8-8-1-4 2-1-6-14 0-4 2 1 5 10-2 6 3-3 2-13 1-1 3zM204 30l-7-7-4 0-6 6-5-2-5 1 0 2 4 0 2 3 3 0 2-2 0-3 4-3 2 1 0 4 5-2zM238 23l1 4 2 2 3 0 1 3 10 8 6-3 6 4 0 3 5 0 0-8-4 0-5-5-3 2-3-6-2 0-1 3-4-2 2-6-3 2zM215 21l-1 2 4 1zM110 19l4 5 8 0-1-2-6 0-3-3zM59 19l2 5 3-3-3 0zM299 18l7 2 3 4 2-2 0-2-2 0-3-3zM119 18l6 1-3-2zM272 24l-7-4 0-4-5 6-1-1-2 3-2 0zM186 15l-4-1-4 2-6-2 2 5-1 2-2-3-5 1-7 4 0 4-5 1 6 1 5-6 3-1 5 3 2-2-2-2 1-1 11-2zM171 12l-5 5 2 0zM130 19l11 1 1-3 3-2 9 1 6 3 1-5-13 1-5-1-2-2-4 0-4 4-2 0 2 1zM274 10l-3 3-10-2-2 3-3 0 4 1 3-3 2 0 5 6 3-2zM119 11l-7-4-2 0-4 4-15 0 2 2 8 0 4 2 3 0 4-6 4 0zM55 9l5 4 3-2 1-4-9 0zM67 20l6 4 6-2 2 2-2 1 2 2-5 4-6 0-3 3-2 0 3 6 6 5 8-2 5 4 7-1 6-7 2 2 6-2 6 3 0-6-10 2-7-4 4 2-6 3-5-4-4 2-6-6 1-1 8 0-3-4-2 2-3-3 2-3 7-3 9 2-2-4-11 2 0-4-4-5-1-4-3 1-1 5 2 9-2 1-4-3zM285 4l3 2 6-1 2 2 6-3 1 2-4 5-1 4 8-4 5-5-1-2-5-1 2-3-13 0-1 2-7-2zM282 10l0-6-3-4-12 0-4 3-7-2-1 5-3-1 0-3-3 1 7 8 5-7 11 1 4-4 3 0 1 1-3 2 1 3zM229 2l4 2 3-1 9 2 4-5-19 0zM187 0l8 3 12-3zM159 1l4 6 1-1 5 4 4-10-9 0-1 2zM82 0l4 2 4-2 2 4 1-4 2 2 3-2zM72 1l4 1 1 2 0-4zM55 0l4 4 3-1-1-3z"/><path fill="#54b8dc" d="M384 432l3 1-2-2zM295 432l5 1-3-2zM104 433l7 0-2-2-4 0zM10 430l0 3 4 0zM5 430l-2 3 3 0zM337 432l13 1-9-4zM180 429l-2 2-5 1 6 1zM474 429l-3-1-3 3-4 0-1 2 2 0 1-2 5 1zM289 428l-2 0-1 3-4 0-2 2 6 0 0-2zM198 432l9 1 0-2-3 0-2-4-3 2zM400 431l-2-6-4 3-3 0zM356 427l1 2 7 0-2-4zM318 425l-2 0 0 3 2-1zM251 424l-1 2 2 1 1-1zM20 424l-2 5 3-4zM126 426l-4-3-5 4 2 2 4 0zM37 424l-1 7 3 0 2-2 1 3 5 1-1-4-3-3 0-3-3 2zM303 419l-8 4 5 1 2-1zM283 416l2 3 1-2zM215 418l-3-2 0 3-2 2 4 0zM421 416l-1 3 5 1 2 2-3-6zM262 415l-5 0 1 3 3 2-4 1-2 4 6-3zM101 414l1 7 1-2zM245 412l-3 3-5 0-2 3-3-1 2 4-5 4 0 2 11-2 5-8zM22 412l-4 1 3 1zM312 410l6 4 9 0 0-2-6-1-4-3zM376 407l0 2 3 3zM389 403l1 3 5 2 1-4zM67 403l-1 1 3 2 0 5 4 2-1-7 2-2-1 1zM432 402l-4 5-4 1 4 5 0-2 5-3zM345 403l-1-2-3 1zM235 405l-4-1-3-3 0 6-4 0-4-3-4 6 1 6 0-3 2-2 5 2zM165 403l1 3 3-3 4 3 2-1-5-4zM11 401l-3 3-3 0 3 1 1 3zM26 400l-1-1-7 6-4-1 6 2zM419 398l3 4 0-3zM42 398l4 8 0-4zM349 397l1 3 1-2zM319 396l2 3 12 6-4-4-3 0zM117 396l-2 1 1 6-3 4 8-4zM372 400l4 5 0-3 9 0-1-5-5-2-4 1zM362 395l-3 5 3-1 4 2 0-3zM256 396l-7-1-5 10-4 2 1 1 6-5 5 0zM97 394l6 4 3-2zM240 391l-1 3 2-1zM421 390l2 6 4 0 3 2 0-3-3-2 0-3zM401 391l9 1 0 5 2 1 0-6-2-2-4 2zM354 392l6 1 3-3-9-1zM197 389l-2 5 2-2zM570 385l2 2 3 0 0-3zM229 383l-1 7 6 0-2-6zM178 386l7 1 3-3-7-1zM62 383l0 5 7-2-1-3zM412 382l2 4 4 0 3-2 0-2-2 3zM154 382l6 3 0-2-3-2zM177 380l5 1 0-2zM79 382l3-1 4 4 0 3 4 1 0 3 4-1-2 0-3-3 0-3 2-2-3 0-5-4zM9 379l0-2-6 1 2 2zM148 374l-2 0-3 5zM369 373l-2 5 4 4 2-3zM354 373l-2 4 3 0zM288 368l-4 1 0 4-2 3 2 0zM148 368l-1 2 3 1 0-2zM296 365l1 2 4 0 1 1-2 1 10 2-3-6zM114 372l4 3 2-2-2-2 1-1 4 0 2 2 2 0 1-2-6-1-3-4-3-1 2 2zM40 368l-4-4-3 1 0 6 6-1zM249 363l3 3-1-3zM265 361l-5 4 5-1zM235 360l3 8 2-6zM208 360l-2 0 0 2-3 2 0 4 2 2 3-3zM184 359l-3 2-2 4 4 1 0-2 3-2zM71 359l1 4-3 3 2 2-1 2 1-1 4 4 0 3 2 2 1-13-7 3-1-1 4-5 0-2zM259 360l3-2 4 1 0-2-4 0zM22 357l-2 2 1 2zM134 359l4-1 2 3 4-1-1-3-4 2-3-3zM442 354l-5 2 1 3 0-3zM85 356l4-1 4 3-2 3 2 3-2 6 4-2 6 1 3-2 2 2-2 3 5-5 3 3 2-1-2-4-2 2-3 0-3-3-4 2-1-2 4-3-8 0-2-5-3-2-4 0zM22 355l-2-1-2 2 1 1 1-2zM299 352l-5-1-4 3-3-1 10 1zM105 351l2 8 3-4 1 2 5 1-2 5 7-3-3-4-4-2-5 0zM210 351l5 5 8-2 2-5-5 3-6-3-4 0zM163 353l-4-4-2 5-4 4zM208 348l-4 3-1 4 3 1zM368 347l-1 2 3 3zM0 347l1 5 1-1zM191 348l4-1-3-2zM258 343l-6 8 6 6-3 3 4-4 8-4-3 0-5 4-1-4-3-2zM162 343l-5 1 4 1zM143 343l1 2-3 3 0 3 3-4 3 0zM308 343l2 3 3 0 4 3 0-6zM240 343l-3-1-4 4 0 2 5 0 1-2 1 3-5 3-3 4-1-4-5-1 2 1-3 3 2-1 2 2-1 1 12-1 2-4-2-4zM229 341l-2 0 0 5zM151 341l-3 2 2 4 4-4zM89 342l-4 7 6-2 0 4 4 3 2-6 6 1-1-4-3 1-3-5-4 7zM170 339l4 3 2-1zM570 335l-1 2 4 1zM239 334l-7 4 5 1zM75 334l-1 5-2 2 3 0 1 2-3 2-1 5-4 3 3 3 5-5 7-2-1-11-4 0zM65 333l-4 1-1 3 2 0zM326 332l-1 1 6 5 1-3-3-3zM314 332l2 2 7 2-1-4zM93 335l1 1 5-2 1 3-2 2 2 0 2-3-4-4-3 3zM214 331l2 6 1-3 3 0 0-3-1 3zM304 330l0 3 4 3 4-1-7-2zM130 332l-8-2 1 5-2 6 7-5zM204 330l1 4 4-3 2 1-1-3-2 3-2-3zM164 328l-6 5 0 4 2-3 7 3-3-5zM116 328l-4 2-2 3 6-2zM384 327l-2 2 4 3 3-4zM280 324l-3 1-7 10-4-1-2 3 8 0 3-7 4 3-2-5 3-2zM159 321l2 5 9-1 0-2-2-1-4 1-2-2zM113 321l-5 4 2 1zM401 320l-3-1-5 3 5 0zM231 318l-3 0-4 3 0 2 3 2 3-1 3-3zM320 317l-2 5 4 1 0-5zM250 317l-4 0-3 2-3-1 1 6 2 1 3-3-1-3 2-2zM243 319l2 2-3 2-1-2zM170 315l-1 2-2 0 0 2 3-1zM117 315l-6 3 3 0zM67 315l-2 2 3 3 0 4 0-4 2-2zM313 313l-1-1-5 3-3 4-2-4-4 3-3-5-4 8-4 4 1 4-1 5-2 2 1 1 2-2-1-2 2-3 1-7 2-2 2 2 3 0 4-4 4 1zM393 311l-3 3 4 0 2 3 2-3-3-3zM404 310l0 4 2 2 1 5 4-2 3 3 2 0 2-2-5-2-1-5-2-2zM378 311l-2-1-8 10-2 0 3 2 5 0 0-6 2-3 3 1zM269 310l1 4 6 3 1-4zM196 310l-2 2 2 6 3 0 1-5zM184 310l-6 9 1 4 5-7 3 0 0-4zM152 308l-4-1-5 12 5-1zM180 304l-4 0-5 3 0 4 2-3 6 2zM78 304l-3 2 1 4 2-1zM348 304l-4 0-5 5 0 2 2 2 5-1 1-3-2-2 4-2zM283 301l-3 5 2 5 0-6 2-3zM208 301l-3 4 2 9 4-5-3-4zM161 305l5 0 5-3-6 1-1-2zM122 300l-3 5 3-2zM425 299l1 7-4 8 4 4 1 5 3 3-3 1-1 6-4-2-4-6-2 3-3 0 3 3-2 3 4 3 1-5 10 3 4 5-2 4 3-3 6-1 1-3-5-9 4-4 2 0-3-3 0-3-3 0-2-2 7-3-2-3-3 1-3-3 0-4zM387 300l3 1 3-2zM223 299l-9 8-2 5 1 4-6 6 3 1 2 3 3-1 6 4 2 0-2-11-3-2 1-2-3-3 0-3 6 0-3-1 3-2 2 1 0 2 2 0-3-3zM442 295l-2 2 1 6-4 4 6 0 2-2-4-6zM386 296l-4 0 1 2zM310 297l-3-2-6 6 8 0zM5 295l-3-1-2 2 0 3 3-3 3 1zM374 293l-3 0-2 2 2 6-2-6zM336 292l3 3 0-3zM186 292l0 2 3 2 0 3 4 3 2-2-1-6-2 1-3-3zM406 291l-2 10 4 0 2 3 2 0 5-7-3-3-2 6-4-1 0-7zM130 290l-3 5 1 3 4-2 1 2 8 4-1-9-6 0-2 2zM267 290l-1 5 6 1 1-2-4-1 0-4zM227 289l-3-1-4 3 2 2 2-2 3 0zM183 291l8-2-1-2-4-1 0 2zM74 286l0 4 3 3 4-1 4 4 6 0-8-10-3 6-2-2 0-3zM400 286l7 1-3 0-2-2zM4 284l3 2 5-1 3 2-6-5zM91 281l-3 5 3-2zM370 280l-2 1-1 4zM276 276l-4 1-3 4-4-3-3 1 0 3 9-1 6 2zM80 276l-1 2 2 1zM12 276l-1 3 4 3 3 0 0-4-2-2zM58 278l-3-3-4 4-1 4zM128 274l-1 3 2 3 9 5-4-6-1-5zM119 276l-3-2-4 5zM166 275l-4-2-2 4zM431 271l-3 5 5 3 5-2-2 0zM372 271l1 7 3 3 2-1 3-6-2 0-3-3zM291 271l-2 0-3 4 5 0 1 3-5 1-4 4 3 0 3 3 0-2 4-3 2 2-5 7 3-1 3 3-4 3-3 0-2 4 2-2 6 0 3-2 2-6 6 2-3-4-4-1-5-4 0-4 2-2zM221 271l-3 4 4-1zM185 269l3 4 8-3zM418 266l0 3 3 4 2-3zM319 273l-6-7-3 2-1 5-7 1-2-6-2 3 1 5 4 2 6-1-1-3 2-2 3 0 5 4zM338 264l4 5 4 0-1-2zM246 264l-8 4 2 1zM48 264l0 2 3 0zM37 264l-5 7-5 0 2 0 4 5 4-3zM6 264l-3 0-3 5 1 1 4-2zM212 264l-5-1-6 5 5 1zM407 263l-4-1-5 2-1 2 9 0zM154 261l-3 2-2-1-2 4 1 3 1-2 4-1 2-4zM99 259l0 6 4 1zM88 259l-2 3 1 2zM26 262l0 2 9 0 1-4-6-1zM433 258l0 4-4 2 2 2 4-4 1 2 2-1zM376 258l-1 1 3 2 0-2zM79 257l-3-1-9 6 10 0 2-2zM38 255l1 2 1-1zM11 255l0 8 6 0 0-6-2-2zM360 253l5 6 3-2-4 1zM126 252l3 10 4 3 0 4 2 0 6-6 2 0-7 0-3 2-1-3 2-4zM319 247l4 0 2 3 3-2-2-2zM386 246l-1-1-2 3 2 0zM307 244l7 1 3 2-3-3zM441 243l-3-2-5 4 3 1 4-1zM8 242l-4-1-4 2 0 5 1-3 2 1zM312 235l2 3 4 0zM424 234l5 4 2-2zM344 236l-3-4-3 4zM334 233l-1-3-1 4-3 0-3-3 4 4zM374 227l4 3-2-3zM457 224l4 5 1-1-3-4zM389 224l0 2 3 0 2 2 6-3 1 1-1-2zM32 178l2-2 9 0-7-1zM17 174l5 5 2-6zM63 172l0 2 4 0zM50 169l-2 0-1 3zM311 165l-5 5 2 2 3-2zM9 165l-6 2 6 0zM38 163l-4-3-5-1-3-3-4 3 0 2-3 3-4 1 4 3 0 2 6 0 3-2-2-3 1-1 4 0 3-2zM50 154l3 2 5 0 3-4-8 0zM13 149l1 4 4 2 0 3 2 0 5-6-5 0-5-4zM43 124l-2 1 0 4zM3 123l14 2-8-1-3-3-2 0zM51 120l-2 2 4 3 2-4zM18 108l0 2 8 1 2-2 5 5 2-1-6-3-2-5-2-1 0 5zM26 99l3 3 5 1 3-3 3 0 1-2-6-1-3-3-2 0zM13 90l-1 3 4 1 0-3zM42 90l5 1 4-2 2 2 3 0-7-3zM21 84l-3-1-6 3 4 0 2-2 3 2zM44 76l10 0 4-3-10 0zM311 65l-3 0-3 3 6-1zM13 67l-3-3-4 0-2 2-4 0 0 4 4 0 3-3zM208 61l-3-2-2 2 0 5-9 5 3 2 8-2 2-2-2-1 3-2zM223 55l0 2 5-1zM71 52l-4-1-5 2-3 3 1 3 12-4zM79 50l-1 4 2 3 0-3 2-2zM196 52l6-2-5-1zM279 48l1 3 9-1zM34 43l3 0 2 3 3-3 4-1zM242 42l5-2 5 1-8-5zM154 38l-5 0-1-2 2-1-2-2-2 8 3 0zM55 18l0 2 5 4-1-4zM141 21l4-3 9 0 6 3 2-1-1-3 0 2-3 1-4-3-9-1zM154 11l-1-2-2 0-8 4 10 0zM185 8l3 2-1-2zM192 11l7 6 8 1 5-2-3-5-4-2-3-4-4 0zM306 3l4 0 1 2 0-2z"/><path fill="#e6d652" d="M425 426l-1-1-9 6 5-2 5 1zM399 424l2 7 8-3 3 2-1-3-5 0-1-4zM437 423l-3-2-4 4 1 2 6 0zM433 409l-4 2 0 3 4 0zM343 408l-3 0-7 7-10-1-6 5 10-2 2 5 3 0 1-2 4-1-6-3 5-2 7 1zM426 406l-4 0-1 3 3 5-1-6zM337 405l-5 1 0 3 2 1zM401 401l0 2 4 2-2-4zM378 394l8 2-3-2zM333 395l3 1 2 4 5 0-7-7zM369 383l0 3-3 1 0 2 2 0 3 4 2-3 0-4zM379 384l0 2 4 2 4-1 1-2-2-4-4 0zM356 377l0 2 2 1 9-1zM428 372l-3 1-2 7 4-2zM400 370l-17 0-3 6-8 1 9 2 3-6 6 3 2-3 7 0zM2 368l0 3 3 3 1-5zM358 370l7 1 0-3-3 1-1-3zM366 363l0 2 2 0zM419 365l-3-3-2 3-4 1zM312 361l-1 3 4 4-3-3zM334 358l-5 5-6 3 4 1 4-2 0-4zM372 357l0 4 2 3 2-1 4 3 10 0-5-3-2 1-3-4zM369 357l-2 0 0 2zM435 355l1 1 3-2zM350 355l-3-2-7 4 9 0zM390 354l-1-6-2-1-13 3 9 2 2 2zM442 342l-3 2 0 2 4 7 4-3 0-2-4-3zM381 337l-5 2 2 1zM313 333l-1 4 3 0zM396 323l-4 0 1 4-2 2 5-2zM422 321l-3-2-6 7 3 1 2-3 3 3zM435 316l4 1 5 5 3-2-2-6-2-1zM440 308l6 3-2-3zM413 306l-1 6 2 4 2-6zM402 305l-5-2-4 6 3 0zM311 298l-1 3 4 1zM5 298l-2-1-3 4 3-3zM341 300l-4-4-6 1 1 2zM351 295l-3 6 2 4-2 1 0 5 4 2 4-9-1-7zM572 291l3 5 0-5zM317 284l-4 4 2-1 2 2-2 4 2 2zM5 285l-3-1-2 2 0 6 5-4zM362 282l-2-1-1 2zM406 279l-1 4 3 2 0 2 1-4zM382 276l-5 5 1 2zM358 270l-4 4 3 3 4 1-1-2 2-6zM344 270l-4 2-1-2 2-1-8 3-2 3-4 0-1 2 2 1 1-2 3 0 3-3 10 1zM421 259l-3 3 1 4zM406 257l-2 5 6 0-1-3zM403 256l-8 1 0 8 6-3zM388 256l0 3-4 1-4 4 1 4 2 0 3-4zM358 253l-2 1 1 4-3 1 1 1 4 0zM421 252l2 4 0-4zM370 251l1 5 4 2 2-1-2-5-3-2zM328 249l-3 2 2 2zM310 251l9 5 1-1 1 6 4 3 0-6-6-9-2 4zM435 247l4 3 0 2 1-3-2-2zM353 243l2 2 2-1zM390 241l-2 0-2 4zM311 236l1 4 3-1zM367 232l-2 0-7 7 10-4zM409 231l4 4 7-1-8 0zM388 228l-2 2-6 0 6 0zM425 224l-1 6 4 3 3 0 3-5-1-3zM341 224l0 4 5-1 2 2-6-3zM321 224l2 5 4-4zM308 197l2 4 1-2-2 0zM223 180l-4 0-1 2 2 3 2-1zM136 179l-1-3-15 3 4 4 5 0zM58 175l1 3 2-1 2 3 2-1-3-4zM279 173l2 6 4 0 3-3zM118 174l3-1 3 2-2-3zM136 170l2 4 2-1-2-3zM194 171l5-1 4 4-1-7zM151 163l-8 3 7 1zM179 162l-3 3-6 0 0 4 4-3 5-1zM103 168l9 1 1-6-5-2zM311 161l-3-1-1 3-4 0 5 2 3-1zM104 158l2 2 1-1zM268 155l0 3 4-1zM293 160l-4-5-4-1-2 4-3 2-1 5 9 0zM213 154l-2 1 0 14 4-1 2 4 3 1 0-5-2 1-2-2-5 0 3-10zM190 155l-1-3-3-1-10 6 10-4 2 3zM124 151l0 8 4-3 3 1 0-5-5 1zM166 150l-3 5-4 1 8 4 3-2 0-4zM300 144l6-2-5 0zM224 143l2 2 5-1-4 0-2-2zM218 142l1 3 1-2zM156 142l-7 7-7 0 12 0 2-1zM267 137l0 4 2 0 3 5 6 2 7-1 2-2 4 1-4-1-10 2-1-4-6-1 2-4zM265 137l-3 2-7-1-2 3 11 0zM147 136l-4-3-2 2-4 0 4 4 2-5zM229 134l-3-3-6 5 4-1 4 2zM171 132l-4-1-4 2-1 3 5 1zM140 124l-3 1 1 1zM107 123l-1-1-1 2zM121 132l-5-5 0-6-8 9-12-4-1 5 6 2 3-2 6 1 2-2 4 4zM189 119l-3 7 4-5zM89 120l-3-3 0 2-3 3-5 1-2-2 0 2 9 0 2-2 2 1zM245 115l-2 2 0 3 3 4 0 3 1-4 4 1 0-5zM111 115l2 2 4-1-5-2zM231 111l-3 3 2 0zM204 112l4 3 0 2 3 0 4-3 2 5 6 0 1 2 2-3 0-2-2 2-5 0-3-6-1 2-4 0-3-4zM126 105l-4 4-4-1-1 2 10-1zM98 104l6 3 5 0-5-1-2-2zM283 102l-4-1-3 3-3 0 5 2zM161 100l-2 6 4 2 0-5zM58 107l7 2 10-3-5 0-5-6-1 3zM139 99l5 2 1-1zM115 92l-7 3 3 2zM186 95l-2 0-4-4-4 0-3 2-2 5 2 3 4 1 2-3 5-1zM177 93l2 1-1 3-3-1zM59 90l3 1 1-2zM225 87l2 5 4 0 0 2 5 0 0-4-2 2-4 0-2-4zM245 89l5-2 2 3 5 0-4-5-4 0zM136 79l-3 2-11-1-7 8 2 1zM142 77l0 2 4 2zM175 82l-3-3 0-3-4 0-5 7-4-1 0 4-4 1 3 1 9-3-1-2 2-2 2 1 0 2zM253 81l-7-6-2 4-8 2 2 2 7-2zM91 73l-6 1 3 6 4-3zM96 73l4 7 1-2 4 1 2-2-6-6z"/><path fill="#e26456" d="M23 351l4 4-1-3zM7 352l6 1 2-2-2 0-3-3zM55 347l0 8 6-4 3 1-2-5zM20 341l-8 0 0 2 7 1zM56 338l-3 4-4 0-1 2 3 1 5-4zM49 338l-6 5 6-4 1 1zM44 334l-4 0-3 2-7-1-4 3-2 4 2-2 5 0 4 2 2-3 3 0zM12 327l0 2 4 1zM44 323l-3 2 4 3zM60 315l-3-1-3 2 3-2zM6 311l4 7 3-6 10 1-4-3-8 0-2 2zM29 307l3 3 0 2 4 1 0-5zM3 299l-3 3 7 0 2 2 0 4 2-4-1-4-3-2zM37 295l0 10 3-5 0-3zM60 294l-8 0 0 3-3 4-5-2-1 7 6 3 1-3-2-4 2-2 10-3zM17 292l3 2 5 0 1-4-7 0zM217 181l2-2 6 0 9 7 2-1 0-3-5-4-12 1zM206 176l-3 3-2 0 2 2 2-1zM128 175l5-1 3 2 1 3 3 0 5-3 5 1-3-2-6 1-5-3zM267 171l2 0 4 4 3 0 2-2-4 2-5-5zM119 169l0 3 3-1zM207 166l1 6 5 0 4 5 4-1-5-4-1-3-4 1zM276 165l5 6-1 1 5 3 8-2-3-2-8 2 0-6zM196 167l7-3-5 0zM67 164l2 0 2 4 5-2-4 1-3-3zM266 164l-3-3-3 0-3 3-1-1-3 5-3-1 7 0 1 3 1-5 4 3 3-2zM308 158l-5 4 4 0zM205 157l-2 4 2 0zM109 160l8-1-6-3zM215 155l-1 5 4 5 5-2 3 2 4-1-7-1zM90 154l5 4-2 2 0 2 2 0 0-7zM267 153l-12-1-1 9-5-1-4 3-5-1-4 4 8 1 3 2 0-2-4-2 14-5 3-4 3-1 4 2zM286 152l8 8 4 1 2-7 4-1 0-2-9 3-6-3zM169 149l2 7 5-1 0-3-5 0zM272 156l3 0 0-5 7 0-5-3-4 0-2 2zM164 148l-3 4-2-2 1 5 3-1 2-3zM136 150l4 0 1-2-3 0zM219 147l2 3 6-1 4 2 2-6-12 0zM258 146l2 1 4-2 5 2-5-3zM75 141l-3 2-5-2-5 5-4 0-1 2 2 1 9-2 4-2zM129 141l-1-1-1 2zM220 137l3 1 1 3 2 0-1-3zM106 138l9 8 2 0-1-9-5-1zM143 135l-2 5 3 0 4 5 3-4zM177 134l-3-2-7 6-5-1-1 4 4 1 2-4 5 2 2-3 4 2zM80 132l4 1 3 4 9 0-6-1-5-4zM123 134l4-1 2 3 3-5-8 0zM189 130l-4-1-5 4-2-2 3 2 4-4zM63 131l-5-2-3 3-4 1 4 3zM50 128l-2-1-2 4zM26 127l-4 4 3 2 3-2zM253 140l2-3 7 0 3-5 3 2-1 2 3 1 4-5-6 2-3-4-1 2-1-2-3 0-3-4-3 3 0 3 2 2zM219 125l-9 2-3-1 0 2 2 2 3-3 4 2-3 3-2 0 1 2 5-3 0-3-3-1zM139 127l0 3 4 0 4 5 3 0 2-2-8-7-1 1-2-2zM295 122l-8 3-4-2-1 2 2-1 3 4 7-3zM144 122l1 2 7 0 3-2zM240 120l2 8 3 1 1-1-2-6zM66 120l-1 8 2 2 6-2 5 2 12 0-6-3-7-1-4-6zM230 119l-4 0-5 6 2-2 5-1zM89 119l1 4 3 2 0-4zM249 116l6 5 6 0 2-1 0-2 7 1-4-4zM189 114l-2 1 1 3zM107 114l-4 3 2 5zM50 120l-4-2 0-5-4 0-3 3-8-2-4 4 3 3 0 3 6 0 2-5 4 0 3 2zM216 111l3 6 5 0 1-2 2 1 1-3-3-2zM17 110l-4 2 3 0zM11 111l-1-1-10 4zM173 113l-6-5-16 2 2 4 6 0 1 5 5-2-2-1 1-4 3 2zM109 108l-3 0-6 7-9-4-4 0-1 2 7 0 3 4 3 0 6-8 3 1zM311 108l-6-1-8 6-7-3 3 4-3 3 0 3 1-2 6 0 0-4 6-2 3-3 3 0 2 2zM230 109l8 8 4 1 2-3 0-2-6-5-4-1zM121 102l2 2 1-1zM264 101l-1-1-3 2zM153 102l-4-2-4 3-7-1-3 4-8-1 1 4 12 1-1-3 3-3 1 2 2 0 4-4 2 2 2 0zM236 103l8 6 3-3 4 3 2-1 2-6 4 4-2-4 1-1-12 0-2-2zM182 99l-1 3 3 0zM139 97l4 2 0-3zM114 97l4 3 3 0 2-2 0-2-3 3-5-3zM10 101l-7-5-3 2 0 8 6 0 4-3zM274 95l1 3 3 0 4 3 4 0 3-4-5 2zM172 94l-4 3-6 1 1 3 5 4 2 0 2-3-2-4zM64 100l-2 3-3 1-4-5 0-2 3-3-4 2-9-1-3 3 0 2 7 5-2 2 3-1 5 3 6-4zM53 100l5 3-2 5-6-5zM271 98l-4-2-3-4-2 2-7 0-1 3-5 2 11 0 1-2 1 1 3-2 2 1 0 3zM159 94l-3-3-5 5-5-2 0 5 2-3 4 0 3-3 3 2zM76 89l6 9 4 2 9 0 6-3 4 0-6-8-12 3-4-2 1-2zM35 87l-3 6 1 2 4 1 0-7zM227 86l2 0 2 4 5-2 1 6 3 2 7-2 4-5-2-1-3 2-7 0-8-5zM283 84l2 5 8-2 1 2-2 4 2 2 7-1-4-2-4-7-5 2 0-3zM166 88l2 3 4 1 8-2-7-6-3 3zM250 82l-13 2 9 2zM64 80l-2 3 3 4 4-5zM40 89l9-2 7 3 0-2 4-4-7-1-4 2-6-6-2 2 2 6zM260 77l1 5 3 0 2 3 11 0 3-5 10 1 5-3-1-1-4 2-3-3-8 1 0 4-8 2-3-4-3-1 2-2zM88 81l-3-3 0-3-6 1-4 3-8-1 5 4 1-2 4 3 3-5zM25 83l-4-3 0-2 3-1-2-2-6 5-13 1 7 4 3 0 7-4 2 2zM142 75l6 7 4 0 3-2-2-4-3 1-6-3zM305 71l-5 8 2 4 5 0 1 1-2 1 4 1-1-2 2-2 0-11z"/><path fill="#ecece8" d="M192 248l3 5 4 0 3 4 3 0 5-6-2-3-4 3-8 0-2-3zM182 241l14 3 1-1-5 0-4-3zM295 231l4 3 3-2 4 0zM173 232l5 2 0 6 9-6 0-2-5-2-7 0zM20 228l4 2-1-2zM79 225l4 1 3-2 5 2-1-2-4-1zM44 221l-4 6-6 0-2 4 3-3 7 0 2-3zM218 209l9 7 5-2-6-2-3-3zM198 206l-2-1-5 3-4 0-2 3 9 0zM309 206l-3-3-2 0-3 5 3-3 4 2zM198 201l-4 0-4 3 6-1zM28 184l3 2 2 5 2-2-5-5zM245 75l-3-1-3 2-4-1-3 2-9 1 6-1 5 3 4 0 2-2 4 0zM134 62l-1-2-5-2-2-4-1 4-5 2-2 6 3 1 4-1 4-4zM275 54l-3-3-4 1-5 5-6 1 2 1-1 2 5 0 4-2 5 1 2-3-4 1-1-2zM90 53l1 4 11 4 0-10-4-1-4 3zM235 50l-4-2-1 2-4 1 6 0 2 2zM241 17l3 6 5 0 3-2-7 1-3-2zM98 14l-9 3 9-1z"/><path fill="#6496d7" d="M51 429l-2 1 0 2 2-1zM115 427l1 6 5-3zM86 427l-5 3 1 3zM284 421l-1 5 2 0zM100 419l-2 2 2 0zM16 418l-1 3 2 2 3 0-3-2 1-2zM87 414l1 4 3 3 5 0-3-5zM145 413l1 3 6 0-3-3zM17 410l4 1-1-3zM126 407l-3 5 3 4 2 0 1-3zM246 405l6 1-2-2zM79 403l-2 2 3 2 1-3zM87 409l2-1 4 5 3 0 8-4 1 2-2 2 0 9 5 1 4-3 1-4 2 1-1 4 3 4 2 0 2-3-2-6-8 0-3-3-3-6 0-5-3-2-4 2-3 4-3 0zM115 421l1-1 1 2-1 1zM283 398l-3 3-5-1 0 3 4 0 3 2-1-4zM109 395l3 2 2-3 2 0 3 5 5 4 0-7-3-2-7-2zM156 391l6 2 7 7 4-4-2-2-3 1-7-2-4-4zM265 383l2 3 2 0zM218 370l-1 1 2 2 1-1zM301 352l3 4 0-2zM185 352l-4 1 1 6 0-3zM256 344l-6 2 0 6zM215 336l-2-1-1 4-6 1-5-2 1 6 2 1 4-4 7-1zM160 335l-1 3 4 4 4-4zM192 333l-3 3-4 0 5 4 0-2 4-3zM114 333l-2 3 0 4 8 0 0-2zM140 315l-3 1-1 3 4 0zM106 311l0 4-2 2-4-1-2 2 0 4 1-4 2 0 2 3 4-7zM268 308l-2 3 3 3zM292 307l1 8 3-3 2 5 4-3 2 4 3-4 4-2-4-2-4 0-3 2-3-4 0-3-3 0zM81 305l-2 1 0 3-2 2 0 11 3-7 4-3-3-1 2-3zM286 302l-2 1-1 4 4 7-4 3 4-1 3-3 0-2-6-5 2-2 2 1zM223 294l-4-1-6 6-7-3 3-3-5 3-3 0 3 6-5 6 1 2 1-4 4-2 2-6 7 3-5 3 4 5 4-7-1-2 1-1 3 2 3-3zM164 291l1 5 7-1-5 0zM107 291l-2 0-2 4 2 1zM92 282l0 2 9 0-3-2zM52 277l-7 4 2 5 3 0-1-5zM29 273l2 5 7-1-1-3-4 3zM3 278l1 1 10-6-8 0zM23 265l-7 7 5-1zM126 264l0 7 4-1 0-2zM36 263l-1 2-7 1 1 3 3 1zM261 256l0 9 6 1 1-1-6-4zM58 162l-3 1 0 3 4 3-3 3-3 0-2-2-2 6-3 3-1-3-5 2 0 3 5 1 2-2 10-1-8-4 13-3zM10 158l-2 3 2 6-4 0 3 3 2 0-2-2 3-3zM43 157l8 1-4-3zM49 148l-8-11-3 2-4 7-11-1 2 6 8-2 2 1-1-2 4 0 1-3 5 5zM35 144l1-1 3 2-3 1z"/><path fill="#c496d6" d="M26 257l-3-4-5 3 1 3zM38 253l-2-1-4 3-5 0 3 1zM293 250l-1 5 2-2zM236 254l3-1 3 3 4-4-4-3-5-1zM247 243l-3 0-5 4 3 0zM17 244l-5 0-5 4-3-2-4 4 6 2 1-2 5-1 3-5zM150 244l2-1 2 2 3 0 4-2-6 1-3-2zM216 238l-3 4 1 1zM270 240l-2-3-6 2-2 5 7 2zM137 236l6 3 0-3zM37 235l2 1-1 6 3 0-1-5zM23 235l1 6 3-3zM194 235l-5-2-10 8-10-1-4 4 4-2 9 0 8-2 3-3 4 3zM159 230l-3 6 2 2 3 0 1-8zM114 238l-4-8-3 4-5 0-3 3-3 0 5 2 4-3 4 4 3-4zM32 227l-2 2-5 0 1 2 3 0 3-2zM241 228l1 2 7-1 4-4-8-2zM90 226l-4-1-6 2-4-3 1-3-4 0-21 10 2 3-1 2-5-1-5 7 2 2 7 0 0 2-10 0 7 7 9-3 8-5 6 1 4-7 1 4-3 5 15 1 0-5-4 0-9-10-4 0-2 2-11 0-1-2 11-7 16 3 2-2 3 0zM70 237l1-1 2 3-2 1zM106 220l1 2 5-1zM127 219l0 2 2 1 12-1-5-3-4 2-2-2zM209 217l-2 1 0 2 3 2zM6 220l0 2 12 1-3-4-3 0-2-2-2 0zM156 220l3-3 5-1-7-1zM40 215l1 3 4-2zM298 215l6 4 4-1-5-4zM125 215l-7-1-5 4-4-2-2 1 8 1 4-3zM287 217l-3-2-4 0-3-3-4 4-5 0-2 2-3-4 4 7 2-1 3 2 5-3 3 0 2-3 3 2zM63 214l6 1 1-2-4-1zM15 211l-5 2 4 1zM107 210l-3 3-2-1 0 2zM75 215l0 4 4-1 5 3-3 3 4-3 5 1 4-4-2 0-2 3-6 0 0-2 6-1 0-3 2-2 1 1-8-5-4 0-1 3zM169 204l-2-1-5 2-1 4 1 1 6-3zM291 206l-2 0-4-5-2 0-4 3-6-1-3 2-6 1 0 3 6 4 2-2 1-5 6 1 6-2 2 3 3 0zM86 201l2 4 3 1 7-4-3-3-6 0zM223 201l2 2 7 1 2-3 0-4-5 0zM19 197l0 2 3 0zM311 192l-6 0-1 4-2 2-2-1 0 2 8-3zM124 197l0 2 2 0 6 5 2 0 5-5 5-1-1-2-6-1-6 3-4-3 0-3zM153 191l3 4 1-1zM166 192l0 6 13 0-9-8zM231 190l7 4-3-4zM202 188l-5 2 0 3 1-1 2 3 3-4zM226 188l2-2 3 2-2-2zM286 181l0 4 7 3 7-4-3-3-5 0-4-2z"/><path fill="#ce3070" d="M392 429l3 4 4 0zM191 429l-1 4 4 0-1-4zM44 433l-3-1 1-3-3 3-2 0zM87 427l-3 6 6-1zM341 428l8 2-6-4zM450 423l-5 1-4 5 4 0 5-4zM210 422l-7 5 2-1 4 3zM98 423l2 4 7-1-2-3zM407 420l-1 6 5 0 2 3-2 4 11 0-1-2-6 1-2-2 4-4 0-4-4 1zM395 420l-2 1-3 6zM233 419l-5 1-2 4-6 4-3-3 1-4-4 3-2 9 2-3 4-1 3 3 7-5-2-3zM318 420l1 7 3 0 1 3 4 3 4-5-1-3 2-2-3 0-2-5zM376 420l-5-3 0 7-4-2-2 4-1-5-6 2-3 3 7-2 6 9 4 0 0-8 4-3zM175 417l-2 1 0 2zM113 417l0 3-4 2 0 2 9 2-4-3zM348 416l4 3-1 2 2 0 2-3-1-2zM146 417l6 9 2-1 4 4 6 0 0 3 2 1 4-4 8 1 2-2 8 0 1-6-2 3-9-1-1 2-6 3-7-14-3 3 2 3-7 2-6-4 2-2zM428 414l1 9 0-2 4-4zM109 413l2 2 7 0zM100 413l-2-1-2 2-7 0 7 2zM35 411l2 5 2 1 0-3zM443 409l-1 1 2 2 1-1zM261 411l-1-2-10 2 2 2 5 0zM246 409l-1 10 2-2zM51 409l-2 0-3 4 2 6 4-2-3-2 3-3zM6 412l-3 0-2-2 1-1-2 1 0 4 4 0zM202 408l-2 0-1 2 1 4 4-2-3 1-2-2zM434 407l1 3 1-1zM375 410l-5-3-4 0-2 6-5-5-2 0 0 3 4 6-1 2 4-5 7-1zM243 413l-7-6 0 4-4 3-1 3 4-1 1-2zM216 407l-2 2 2 0zM401 405l2 3 1-2zM303 406l3 0 2 2-1-3zM173 407l0 2 7 2 0-2-3-1 0-3zM275 404l1 3 5-1-2-2zM353 402l-4 2 2 3-4 5 2 0 4-5zM296 401l-2 0-3 3-5 0 5 2 2 4 1-4 3-3zM418 398l-1 1 2 5-1 1-4-1-4 5-3 0 7 0 2 4 3-5-1-3 3-2zM405 398l-2 2 3 4 3-3zM25 398l-5 5-5 0 3 1zM421 397l3 6 3 2 3-1-1-6zM317 396l1 6 11 1-8-3zM262 397l-6 0-2 5-3 2 9 0 2-2zM345 395l-2 1 1 4zM139 395l-2 2 3 2 0 2 1-5zM116 395l-2 0-2 3-3-2-3 1 5 3 0 6 4-3-1-6zM27 399l4 3 0 5 12 2 0-8-6-6-4 0zM397 394l-5 4-4-1 2 3-1 2-4-5 1 5 4-1 6 2zM314 393l-6 3 1 5 5-2zM181 394l6 0 4 3 1-3zM326 393l0 4 10-5 5 4 0-2-3-2-6 0-3 3-1-2 2-2zM365 390l-5 4-6-1-3 4 1 2 5 2 1 2 2-7zM150 390l-3 3 4 0 3 2-5 4-4-1 1 3-2 3 2-2 1 2 4 0 2 2 0 3-3 1 5 4 3-6 0-5 4-3 0-2-2-2-5 0zM383 389l2 2 2-1zM131 389l1 8 3 1-3-4zM284 392l1 1 4-2 2 2-2 3 3 2 3-1-1-3-2 0-3-3 0-3zM105 388l0 4 2 2 4-1 0-2-3-3zM33 388l4 5-2-5zM436 386l5 4 1 3 3 0 0-6-3-2zM154 386l4 1-1-2zM254 383l0 5 2 1 1-4zM168 383l5 4 5 0-4-3zM388 386l6 0 3 3 2-1-1-5-4-2-3 0zM493 380l3 7 7-1-2 0-4-5zM454 379l-6 7 8-1zM368 379l-1 1 3 2zM355 379l-3 2-1 8 2 0 3-3-2-3zM534 378l7 4-3 4 5-4-1-3zM41 378l-2 2-1 5 5 1 2-6zM302 377l-2 2 2 4 4 2 0-3-2 0-1-2 7-2zM426 380l3-3 2 0 3 4 2-1 2 2 3-1 4 2 1-6-3-2-5 1-1-2-8 0zM437 375l1 4-2 1-1-2zM397 374l-5 0-1 3 1 1zM353 372l-2 0 1 3zM313 372l0 3 3 4 4 2-3 5 6 0-3-7zM231 372l-8 0 1 4-2 2 0 3-3 2 0 4-4 1 1 4-3 2 5 1-1 7 6-1-3-4 0-5 2-4 5-1 1-4-4-4 7-4zM235 371l2 8 6 0-2-7-4-2zM349 369l-2 2-5 0-2 2 5 1-1 4zM554 368l2 5 6-4-3 1-2-2zM282 367l1 2 2-2 3 0 2 3 3-1 0-3zM214 366l-3 7-6 6-1-2-9 0-5 3 6-1 4 4-2 5 3 3 7-1 1-2 2 4-1-4-2-1 2-2 3 2 1-2-2-6 1-1 3 2 3-3 1-4-1 1-3-3 1-2zM154 366l-1 4 3 1 0-3zM316 368l5 4 3 0 3 4 1 7-3 2 1 3 4 0-3-4 1-1 4 3 1 4 4-2 0-2 4-3-8-5 1-9-2-4-9 6zM262 365l1 6 5-2-2-4zM199 364l1 5-2 2 3 2 5-1 1-2-2 1-3-3 0-4zM41 366l0 2 4 0 3 2 10-1 0-3-5 0-4-2-3 2zM122 362l4 5 3 1 0 4 4 0-1-5zM23 363l-2-1-6 3zM283 363l4-1-1-2-2 0zM234 360l-2-2-3 0-1 3-3-2-4 1-1 4 5 0 6-3 2 1zM214 358l-3 0 0 5zM42 356l-8 0-3 3-4 1-4 6 3-2 3 5-4 4-2-1 2-3-4 1 0 13 11 2-3-3 0-2 6-8-3-1 0-6 4-2-4-2 3-4zM24 378l5 0-2 2zM434 355l-4 2-2 4-2 0 2 4 5 1 0-2 5-3zM572 354l0 2 3-1zM425 354l-4 8 2-1zM298 354l0 2 5 1-2 8 5 0 1-5-4-4zM286 354l1 4 2-2 7 0-1-2zM257 357l-6-4-7 7 5-2 4 2zM65 353l0 6-3 4 4 4 0 3-3 1-3 4-4-1-2 2 0 8 10-2 4-3 2 3 3 0 1 2 4-2-4-6-10 3-3-1 4-2 5-7-5-9zM87 353l6 2 1-1-3-2zM104 351l0 10-4 4 2-2 5-1zM547 351l4 1 2 3 0-3-4-2zM144 350l-2 2 2 7 5 0 0 2 2 1 1-3-3 0 2-2-3-5zM92 358l-3-2-4 1-2-7-7 2-1 10-3 3 0 2 7-5 13 2-2-2zM390 349l0 4 2 3-1 3 3-8zM439 348l-1 5 3 0zM561 346l-6 12 9-7 0-2zM202 345l0 5 3 0zM574 348l-2-4-8 2 2 1 3-2 2 4zM380 348l6-2-4-2zM213 345l2 2 4 0 3 2 4-2-10-1-2-2zM450 343l0 16 2 4 3 1-1-1 3-6-6-5 1-5zM187 343l-2 4 5 1-3-1 0-2 2-1zM468 341l-3 1-2 5-2 0 2 1 2-2 0-3zM441 341l-2 0-1 2-6 0-2 5 6 2 1-5zM69 340l-1 8 5-5zM373 342l4-2-4-1zM109 339l-7 3 1 4 3 3 5-1 1-7zM418 338l0 5 2 2 4-4zM533 337l0 4-4 4 1 6 4-10zM339 337l-1 9 5 6 4-5 3 0 2 2-2 11-4-3-6 1 5 4 4 0 3-3 3 5 7-4 1 1-3 2 0 2-6 4 3 3-2 1 1 3 9 2 3-4 0-8-2 0-1 6-7 0 0-4 7-5-3-3 1-3-4 1-7-5 4-1 4 3 2-2 3 1-3-4-5 1-2-2 7-3 4 2-4-5 2-1-6-3 4 6-7 1-3 3-1-2 5-6-2-2-2 0-3 4-6 3-1-1 4-3 0-3-3-2zM316 337l1 3 3 0 5 6-2 1-5-2-2 11-2 2-2-7-7 1 7 2 1 9 6-1 2-3 6 4 2-2-3-5 3-4-3-5 2-5-3-2 2-2 3 0zM325 348l1 1-3 2 0 3-2 1-3-3 3-4zM216 338l2 0 3 4 2 0 2-3-6-2zM364 336l3 5 0-4zM383 336l4 4 5-1 1 1-3 2 5 0-1 5 2 0 6-6 10 3 0-8-3 2-4 0-3 3-3 0-13-6zM555 334l-4 1-4 10 2-2 8 2 1-4-2-2zM198 334l-1 3 3 2zM547 333l-4 2 0 3 3-1zM276 331l3 4 2 0zM133 331l-1 2 2 3 0 4 2 1 2-6zM228 335l3 3 8-5 3 3 4-3-3-2-4 2-9-3zM263 330l-9 0-3 2 0 3 5 1 2 3 4-4zM394 328l-4 2-1 4 5 0zM510 326l2 6 0 7 3-1 0-3zM220 329l-5-3-4 2 2 6 1-4 5 3zM354 328l1 4 4 2 8 0 4 4-2-9-2 0-3 4-3 1-4-9zM439 326l9 4-4-6zM205 324l0 4 3 3 1-6zM107 324l-9 7 4 3-1 1 7-1 1-7zM516 324l3 1 1-2zM541 322l4 4-1 4 3-5zM381 322l-7 4 1 3 3 2 2 0 3-4zM298 323l4 0 2 3 1-1-2-3zM63 322l-1 11 9-2 2-4zM532 321l-3 1 1 1zM407 322l4-1 2 2 0 4-1-1 2-3-3-3zM201 320l-4 2-7 8-6-2 0 8 5-1 4-7 3 1 2 3zM142 320l-1 5 8 0 3 3zM175 319l0 6-2 5-3 2-3 8 2 3-1-2 2-3 6 1 3-2-1-5-5-1 3-6zM172 333l2-1 1 2-2 2zM159 320l8 2 0-2zM283 318l-2 0 1 4 2-2zM187 317l-3 0-3 3 0 5 4-5 3 1zM319 315l-7 1-2 5 1-2 3 0 3 4zM271 315l1 7 2-5zM220 314l-1 2 3 2 0-4zM253 315l-2 2-1-4-4 1 1 2 4 1-5 2 2 1zM367 312l-6 4-3 0 2 2 4-2zM262 312l-5 5 0 4zM403 311l-3 3 3-1zM390 313l-1-2-4 3zM128 308l-4 3-2 5 3-2zM100 308l-3 1-2 3zM147 307l-4 2 0 5zM136 307l3 4-4 2 0 5-5 0-3 3-2 0 7 6 3 0 0-10 4-2 0-5zM203 305l-1 4 3 1zM372 303l-2 4 3 4 3-2zM552 302l-2 3 1 4zM408 302l-3 3 2 2 3-1zM524 301l-8 3-2 4 4 0 2-3 4-2zM413 303l1 3 4 0 3-2 4 1-3-3-7-1zM387 301l4 4 0 4 6-7zM360 301l-3 2 0 3-2 2 4 5 2 0zM286 301l3 3 0 2 9-2-8 0zM489 300l-1 1 2 2 0 3 2-2zM439 300l-3 2 0 4 4-3zM335 300l4 3 2-1zM281 300l-9 1-5 4-1 3 4-4 9 2-1-3zM517 299l-4 1 0 2zM234 299l-8 6-6 2 3 0 2-2 2 2 1-1 3 4 1-2-2-2zM575 301l-6-3-7 6-3-1-2-3 0 3 4 3 11 0 1-4zM177 298l-3 1-6 7 2 0 1-2 3 1zM442 297l1 5 3 3-2 2 3 4 2-7-3-1-1-4zM330 297l-5 4 1 4-2 1 2 3-2 4 7 0 0 2 7 4-2 3 2 1 4-3-4-5-5-1 5-5-3-2zM238 299l2-2 3 2 5-1-8-1zM121 296l-3 3 0 5 4-5zM449 294l0 2 5 0 2 2 3-3zM146 294l0 8 3 1 1-1-3-2 2-5zM207 296l6 2 3-3-3 1-3-3zM395 292l-3 3 3 4 2 0 3-5zM197 291l-2 2 1 6 2 0-1 5 2 3 4-7-3-2-1-5zM340 291l8 1-3 3-3 0 0 2 5-2 2 1 3-4-5-2zM66 289l-2 3 0 8 0-2 3-3 2 2 1-1zM533 289l0 2 6-2 2 2-2 4 4-3 0-4zM315 288l-3 2 3 6-1 3 3-1-2-1 1-2-2-2 2-4zM100 287l0 4 2 3 3-4zM253 286l-2 4 1 2zM6 286l0 2 2 0zM233 285l-2 2 1 2 3-1zM129 291l-2-6 0 2-4 2-3 0-4-3 3 3 7 1 1 4zM278 284l3 5 8-2-5 1zM566 285l0 4 9 1-2-3 2-3-6-1zM545 285l2 1 4-4-4 2-2-2zM425 282l-4 3 3 5-1 4zM89 282l-4 6 4-4zM351 280l-4 5-2 0 3 1zM330 280l-4 4 3 1 2 3 4 1-2-2 0-5zM8 281l8 5 1-3-6-3zM162 279l-5 2 1 6 3-3-1-1zM310 277l7 6 3-1-3 0-3-4zM211 277l-1 3 3 2zM441 276l-6 4-7-3 0 4 3 4 2-2 3 2 0-2 5-4zM153 276l-9 2 0 3 2 2 3-1 4-4zM567 275l-2-1-6 4-3-1 2 1-2 2-1-1 1 6 3-2 2 1-2-2 1-5 6 4 2-3zM513 274l-1 5 2 2 1-3zM446 274l0 7 5 0-1-7zM251 273l-2 0-1 4-3 2 2 4 6-2 1-2zM49 273l2 4 4-3zM399 272l-3 5-5 2 1 2-2 2 3-1 1-4 5-1zM500 270l2 2-2 8 4 0 0-7zM345 270l3 3 5 0-2-3zM97 270l-2 0-3 11 3-3 4-1zM526 269l4 3-1 5 3 3 0 2 2 0 0-5 2-3-5-5-1 2zM367 270l-4 0-2 6 1 2 0-2zM273 276l2 0 6-5-8-2zM413 268l0 2-7 5 1 3 4 0 0-4 3-2zM15 264l-4 0 2 6zM126 268l-1-5-3 3-7-1-2 2-2-2 1 2 4 1 0 3 3 3 4-5zM61 263l1 2 3 0-1-2zM177 266l7 9-4 0-1 2 2 5 5-3 10 2 2-1 1-4 12-1 3-6-6 0-5 5-8-3 4 3-5 4-9 0-1-3 2-3-3-4 2-2 4 0-1-4-2 0-2 4zM506 266l4 2 2-5 3 2-1-5-6 0zM39 260l6 0 2 4 2-2 0-2-3 1-1-2zM291 263l8 1 4-3 3 1 5-2-16-2-4 2zM24 258l-4 2-2-1-1 3 1 1 6-3zM374 258l-3-1-4 4 6 0zM334 259l-3-2-6 8 2 0zM378 256l1 3 1-2zM271 256l-2 0-4 6 4 3-2 2-5-1 1 2 4 0 4-3-2-4zM249 253l-2 8 5-5 1 4 3 3 2 0 2-10-6 2-1 2-1-4zM272 252l3 4 1-4zM449 257l10-1 1 3 2 0 1-3 3-2-5 2-2-3-7-2zM424 251l-1 7 2 3 2 0 2-5zM211 251l-6 7-6-2 0 6 8 0 4-5zM95 251l-5 1 0 6 4-5 2 0zM409 251l0 3 3 0 3 5 3-4 3 0-1-2-4 2-4-4zM511 251l1 2 4 0 0-2 3-2-5 1-2-2zM435 248l3 4 0-2zM320 248l4 7 4-1-4-3-1-3zM119 248l-9 1-2 2 4 1 3 3-1-3zM319 246l7-1 3 2-3-2zM433 244l-5 2 1 2zM353 244l-2 4 4 4 4 1-7-8zM350 242l-2 1 1 1zM542 244l7 7 3-2-3-4 0-4zM295 241l-4 2 1 5 2 0-1-1 4-2zM256 241l-3 0 0 5 3-2zM334 240l-2 3 2-1zM76 240l-5 11-4 2 6-3zM0 240l0 2 4-2 3 0 2 2-4-3zM415 238l-2 10 1 1 6-3-3 1-2-2zM363 240l9 5-1-3-3 0-3-4zM251 238l5 0 4 5 2-5zM567 237l-4 3-4 0 2 4zM480 237l-3 4 5 2 0-4zM410 236l-2 1 0 2 2 0zM135 234l-6 3-3 4 5 2 4-3zM383 235l-3-2 0 3-2 2-1-1 2 1zM247 242l-3-8-5-1-1 5-2 2-3-1-2 2 4 2zM575 231l-5 4 2 1-1 3 4 4zM344 230l5 4 2 4 3 1-3-2-1-5zM266 230l-1 2 3 4 2-2zM318 230l-3-1-3 5 4 0zM473 228l-6 5-5-3 4 4 4 0 2 2-3 3 3-1 1-5-2-2zM210 232l2 2 9-1 7-5-8 4-8-5zM112 227l-2 2 4 6 1-7zM400 226l-2 2 3 0 4 5-1 2-4-1 0 2 4 1 3-5-3-1zM455 224l-17 0 4 0 2 4-3 3-7 2-6 8 2 0 5-6 3 2 1-4 2 2 4-2 3 2-2-4 7-3zM328 224l3 2-3 2 1 3 3 0 0-5zM272 226l2 1-2 7 2 1 4-2 3 4-1 2 5 2-4-9-6-1 1-4 2 0 1 2 2 0 0-2-4 0-2-2 1-1zM255 224l9 3-4-3zM142 224l-5 3 1 2zM150 242l12 0 0-6 2-2 4 0 2-2-2-1 3-1 3-5 2 0 3 4 3-2 3 4 2 0 0-2 4-2 4 0 3 2 10 0 1-3-4-2-3 3-5 1-3-3-5 1-3-3-14 0-10 6 1 3-2 8-4-2-6 2zM180 226l1-1 1 2-1 1zM308 222l3 4 3 0-1-2-3 1zM99 226l3-2 7 3 5-4-7 0-2-3-3 3-3 0zM15 217l-1-2-2 2zM153 215l7 0 2-2-5-1zM137 214l14 2-1-2-3 0-4-3-3 0zM29 211l-1 4 4 3-1-7zM104 217l4-2 5 2 6-4-11-3-4 4zM306 209l-2 2 0 3 7 6 0-7zM237 215l6-6-7 0zM188 214l0 2-3 3-6-6 7-4-12 1-1 2-5-1-4 6-4 1 5 2 6 0 2-4 7 0 4 4 3-2zM129 208l0 3-3 3 4 1 4-4-2 0zM217 209l-4 1-5-4-1 3-3 2-6-4-4 7 5-2 2 2 0 3 9 0 0-3zM220 199l-9 0-3-2-4 1-3 4-4 2 3 0 4-4 4 3 7-2 1-2zM18 197l-8 5 7 2zM159 196l3 8 6-2 2 4 3-2 4 1 3-3-2-4-13 1-3-3zM240 195l4 5 3-1 0-2zM33 203l12 0 4-4-2-1 1-2-10 0-3-2 1 6zM102 197l2-6 3 3 6 0-4 0-3-3-2 0zM305 186l6 4-4-4zM29 188l-1-2-6 4 5 0zM191 183l2 4 5 0 4-3 3 0-7 0-4 2zM43 182l-3 0-3 3-2 0 7 2zM165 179l4 2-1-2zM270 178l0 2 5-1 3 7 1-1-4-7zM88 178l5 1-4-2zM287 178l10 2 2 3 4-1 0-6-13 0zM248 174l-2 2 0 5 4 0 0-4zM32 175l-7-1-3 6-6-5-9 6-3 0 2 2 5-4 4-1 4 2 6-1 4 2zM289 170l-4-1-3 3zM77 165l4 5 9-1-1-5-4 0-3 2-4-2zM34 163l2 2-1 2 6 8 2 0 0-4-2-2 2-3zM151 170l1 2 4 0 4-5 3-1-3-4-8 0zM47 160l0 2 2-1 5 4 1-3-4-3zM248 160l-3 1-6-3-7 6 3 1 5-4 5 1zM131 158l-3-1-8 4 2 2 3 0zM62 153l-4 4-4 0 6 8 2-4 3 0zM13 153l-2 4 6 1 0-3zM217 152l-1 4 3 0 1-2zM17 145l-1 2 3 2zM188 145l1 6 6 0 3-3-1-2-4 1-3-3zM122 143l-1 2 3 3 2-4zM310 142l-3 2 0 4 4-3zM199 143l5 0 1 3 4 2 5-2-1-4-2-1-3 2-3-3 1-3-3 0zM40 133l-4 4 5-1 8 8 2 7 3 0 3-6-4 2-3-5 6-3-5-2-3 1-4-4zM247 132l-5 0-3 4 3 1zM82 133l-6-1-6 6-5 1 6 3 3-2 5 2 3-2-3-3zM0 130l4 7 4 2 0 3 7-4-7-3 0-2-3 0-3-3zM65 123l-3 3-6-1-5 4 3 0 4-3 6 1zM217 124l2 0 4-4-5 0zM146 116l-5 1 0 2 4-1zM287 104l7 5 8 0-6-2-3-5zM136 99l-3 2-3-1 3 5 2 0zM234 95l-5 1 2 7 3-1zM311 92l-2 4 2 0zM244 97l5 1 5-2 1-3 6-1-2-2-8 0zM224 86l4 1 2 4 4 0 2-2-5 2-2-4zM0 73l0 2 7 3zM65 66l-2 7 6-3 4 5-2-7-2-2zM307 64l-3-1-5 3zM224 62l2 2 0 3 2 1 17 0 0-2-17 0-2-2 0-3zM279 63l-6-3-6 0-1 2-6 2 1 4-2 2-6-1-1 3 12-3 3-8 5 5 6-1zM191 58l-3 1 0 3 3 0zM74 61l5 0 4 3 5 1 0-4 2-2 4 0-4-2-7 0-2 3-7-2zM283 55l0 2 4 4 6-5-4-2zM202 56l0 2 2-1 11 7 1-1-2-1-1-9-6-1-2 3zM125 52l-5 1 2 3-1 3 3-1 2-5zM81 50l-11 0 4 5 3-2 2-4zM276 47l-8 0-6 5-2 0 3 0 6-5zM129 49l3 0 2 2 6 0 1-4-8 0zM57 47l-9 2 0 3-2 2 2 0 3-3 1 2-2 7-2 2-3 0 1 1 3 0 7-8-3-5zM197 47l-2 0-1-2-3 7 5-2zM6 42l-2 2-4-1 0 2 5 2zM258 43l-5 1-6-3-6 2-3 5 3-1 2 2-2 5 8 0 0-4zM309 40l2 3-1 1-6 0 7 7 0-11zM278 45l0 2 11 2 3-3 0-3-8-3-4 5zM242 39l-8 5 7-3zM229 35l-3 1-4-2-7 3 2 1-2 4 9 0 2-3 3-1zM40 46l3 0 4-3 6 1 8-4-3-1 0-2 5 1 1 4 4 4 3 0 2-2-3-1-6-7-5 0-4-2 1 6-2 2-7 0zM182 32l-7-2-8 4 13 1zM225 31l2 1 2-2 12 0-15-1zM82 24l2 3 2-2 3 4 7-4-5-3-2 2-4-2zM62 24l5 4 6-2 4 2 3-1-10-2-3-3-3 0zM158 21l-4-2-9 0-4 3-6 0-1 5 2-2 17 0 2-4zM192 17l0 5 7-1-5-5zM239 14l6 7 5 0 4-4 3 1-6-1-4 2zM311 13l-2-2-5 3-4 0-3 4 6-2 7 1zM77 10l-3-1-6 4-6-1-2 2-5-4 0 7 6 2 13 0 3-4zM157 2l2 3 0 7 2-1 1-4-3-5zM55 6l12 1 6-7-11 0 1 3-2 2-6-3z"/></g></g></g><rect x="686.5" y="444.5" width="57.0" height="43.5" fill="#fff"/><rect x="996" y="444.5" width="265.5" height="225.8" fill="#fff"/><rect x="1163.2" y="830.7" width="98.3" height="47.3" fill="#fff"/><text x="707.4" y="473.0" font-family='"Liberation Serif",serif' font-size="21" fill="#222">(d)</text><text x="1190.6" y="854.8" font-family='"Liberation Serif",serif' font-size="20" fill="#222">2 μm</text><rect x="1200.6" y="868.2" width="21.6" height="3.3" fill="#555"/><g fill="#c5323b" stroke="#8c3a40" stroke-width="0.7"><rect x="1039.5" y="502.5" width="7.1" height="130.0"/><rect x="1046.6" y="554.6" width="7.1" height="77.9"/><rect x="1053.7" y="534.6" width="7.1" height="97.9"/><rect x="1060.8" y="558.6" width="7.1" height="73.9"/><rect x="1067.9" y="582.7" width="7.1" height="49.8"/><rect x="1075.0" y="597.0" width="7.1" height="35.5"/><rect x="1082.1" y="605.6" width="7.1" height="26.9"/><rect x="1089.3" y="612.5" width="7.1" height="20.0"/><rect x="1096.4" y="619.3" width="7.1" height="13.2"/><rect x="1103.5" y="624.5" width="7.1" height="8.0"/><rect x="1110.6" y="622.8" width="7.1" height="9.7"/><rect x="1117.7" y="626.2" width="7.1" height="6.3"/><rect x="1124.8" y="626.8" width="7.1" height="5.7"/><rect x="1131.9" y="630.2" width="7.1" height="2.3"/><rect x="1139.0" y="629.6" width="7.1" height="2.9"/><rect x="1146.1" y="630.2" width="7.1" height="2.3"/><rect x="1153.2" y="630.8" width="7.1" height="1.7"/><rect x="1160.3" y="631.4" width="7.1" height="1.1"/><rect x="1167.4" y="631.4" width="7.1" height="1.1"/><rect x="1174.5" y="630.8" width="7.1" height="1.7"/><rect x="1181.6" y="631.4" width="7.1" height="1.1"/><rect x="1188.7" y="631.9" width="7.1" height="0.6"/><rect x="1195.9" y="631.9" width="7.1" height="0.6"/><rect x="1203.0" y="631.9" width="7.1" height="0.6"/><rect x="1210.1" y="631.9" width="7.1" height="0.6"/><rect x="1217.2" y="631.9" width="7.1" height="0.6"/><rect x="1224.3" y="631.9" width="7.1" height="0.6"/><rect x="1231.4" y="631.9" width="7.1" height="0.6"/><rect x="1238.5" y="631.9" width="7.1" height="0.6"/></g><rect x="1032.4" y="460.7" width="213.2" height="171.8" fill="none" stroke="#7f8b8f" stroke-width="1.3"/><g stroke="#8a9598" stroke-width="1"><line x1="1032.4" y1="632.5" x2="1035.4" y2="632.5"/><line x1="1032.4" y1="603.9" x2="1035.4" y2="603.9"/><line x1="1032.4" y1="575.2" x2="1035.4" y2="575.2"/><line x1="1032.4" y1="546.6" x2="1035.4" y2="546.6"/><line x1="1032.4" y1="518.0" x2="1035.4" y2="518.0"/><line x1="1032.4" y1="489.3" x2="1035.4" y2="489.3"/><line x1="1032.4" y1="460.7" x2="1035.4" y2="460.7"/><line x1="1032.4" y1="632.5" x2="1032.4" y2="629.5"/><line x1="1103.5" y1="632.5" x2="1103.5" y2="629.5"/><line x1="1174.5" y1="632.5" x2="1174.5" y2="629.5"/><line x1="1245.6" y1="632.5" x2="1245.6" y2="629.5"/></g><g font-family='"Liberation Serif",serif' font-size="16.6" fill="#222"><text x="1029.9" y="638.9" text-anchor="end">0</text><text x="1029.9" y="610.3" text-anchor="end">5</text><text x="1029.9" y="581.6" text-anchor="end">10</text><text x="1029.9" y="553.0" text-anchor="end">15</text><text x="1029.9" y="524.4" text-anchor="end">20</text><text x="1029.9" y="495.7" text-anchor="end">25</text><text x="1029.9" y="467.1" text-anchor="end">30</text><text x="1032.4" y="650.3" text-anchor="middle">0</text><text x="1103.5" y="650.3" text-anchor="middle">1</text><text x="1174.5" y="650.3" text-anchor="middle">2</text><text x="1245.6" y="650.3" text-anchor="middle">3</text></g><text x="1138.5" y="664.8" text-anchor="middle" font-size="16" fill="#222" font-family='"Liberation Serif","Noto Serif CJK SC",serif'><tspan font-style="italic">α</tspan> 片层尺寸 / μm</text><text transform="translate(1008.9,543.6) rotate(-90)" text-anchor="middle" font-size="16.5" fill="#222" font-family='"Liberation Serif","Noto Serif CJK SC",serif'>体积分数 / %</text>
<g font-size="22" fill="#1a1a1a" stroke="#1a1a1a" stroke-width="0.18"><text x="26.4" y="926.8" font-family='"Liberation Sans","Noto Sans CJK SC",sans-serif' font-weight="500">图</text><text x="58.6" y="926.8" textLength="10.5" lengthAdjust="spacingAndGlyphs" font-family='"Liberation Serif",serif' font-size="22.8" font-weight="bold">3</text><text x="95.8" y="926.8" textLength="19.8" lengthAdjust="spacingAndGlyphs" font-family='"Liberation Serif",serif' font-size="22.8">Ti</text><text x="124.7 151.1 177.4 203.5 230.1 256.2 280.9 308.9 334.8 361.6 387.8" y="926.8" font-family='"Liberation Serif","Noto Serif CJK SC",serif' font-weight="300">合金及添加不同质量分数</text><text x="422.6" y="926.8" textLength="34.8" lengthAdjust="spacingAndGlyphs" font-family='"Liberation Serif",serif' font-size="22.8">TiB</text><text x="457.1" y="931.5999999999999" textLength="8.0" lengthAdjust="spacingAndGlyphs" font-family='"Liberation Serif",serif' font-size="14.5">2</text><text x="471.4 497.6 523.6 550.4 576.9 603.1 628.3 653.8 682.0 708.1 735.0 761.4 787.8 814.1 840.4 866.9 893.3" y="926.8" font-family='"Liberation Serif","Noto Serif CJK SC",serif' font-weight="300">钛基复合材料的电子背散射衍射形貌和</text><text x="927.2" y="926.8" textLength="13.6" lengthAdjust="spacingAndGlyphs" font-family='"Liberation Serif",serif' font-size="22.8">α</text><text x="947.4 973.6 999.8 1025.9 1052.4 1078.5" y="926.8" font-family='"Liberation Serif","Noto Serif CJK SC",serif' font-weight="300">片层尺寸分析</text><text x="1105.4" y="916.3" textLength="23.4" lengthAdjust="spacingAndGlyphs" font-family='"Liberation Serif",serif' font-size="14.5">[56]</text><text x="1128.2 1142.4" y="926.8" font-family='"Liberation Serif","Noto Serif CJK SC",serif' font-weight="300">：（</text><text x="1170.0" y="926.8" textLength="11.4" lengthAdjust="spacingAndGlyphs" font-family='"Liberation Serif",serif' font-size="22.8">a</text><text x="1184.0" y="926.8" font-family='"Liberation Serif","Noto Serif CJK SC",serif' font-weight="300">）</text><text x="1208.8" y="926.8" textLength="113.7" lengthAdjust="spacingAndGlyphs" font-family='"Liberation Serif",serif' font-size="22.8">Ti–6Al–4V</text><text x="1321.9" y="926.8" font-family='"Liberation Serif","Noto Serif CJK SC",serif' font-weight="300">；</text><text x="14.6" y="967.2" font-family='"Liberation Serif","Noto Serif CJK SC",serif' font-weight="300">（</text><text x="41.3" y="967.2" textLength="11.2" lengthAdjust="spacingAndGlyphs" font-family='"Liberation Serif",serif' font-size="22.8">b</text><text x="55.5" y="967.2" font-family='"Liberation Serif","Noto Serif CJK SC",serif' font-weight="300">）</text><text x="77.2" y="967.2" textLength="96.8" lengthAdjust="spacingAndGlyphs" font-family='"Liberation Serif",serif' font-size="22.8">0.16%TiB</text><text x="173.8" y="972.0" textLength="9.2" lengthAdjust="spacingAndGlyphs" font-family='"Liberation Serif",serif' font-size="14.5">2</text><text x="184.6 193.9" y="967.2" font-family='"Liberation Serif","Noto Serif CJK SC",serif' font-weight="300">；（</text><text x="220.6" y="967.2" textLength="11.2" lengthAdjust="spacingAndGlyphs" font-family='"Liberation Serif",serif' font-size="22.8">c</text><text x="234.8" y="967.2" font-family='"Liberation Serif","Noto Serif CJK SC",serif' font-weight="300">）</text><text x="255.9" y="967.2" textLength="97.6" lengthAdjust="spacingAndGlyphs" font-family='"Liberation Serif",serif' font-size="22.8">1.61%TiB</text><text x="353.4" y="972.0" textLength="8.2" lengthAdjust="spacingAndGlyphs" font-family='"Liberation Serif",serif' font-size="14.5">2</text><text x="362.4 367.3" y="967.2" font-family='"Liberation Serif","Noto Serif CJK SC",serif' font-weight="300">；（</text><text x="396.4" y="967.2" textLength="14.2" lengthAdjust="spacingAndGlyphs" font-family='"Liberation Serif",serif' font-size="22.8">d</text><text x="414.6" y="967.2" font-family='"Liberation Serif","Noto Serif CJK SC",serif' font-weight="300">）</text><text x="434.2" y="967.2" textLength="98.1" lengthAdjust="spacingAndGlyphs" font-family='"Liberation Serif",serif' font-size="22.8">3.22%TiB</text><text x="532.3" y="972.0" textLength="9.4" lengthAdjust="spacingAndGlyphs" font-family='"Liberation Serif",serif' font-size="14.5">2</text><text x="26.5" y="1013.2" textLength="50.4" lengthAdjust="spacingAndGlyphs" font-family='"Liberation Serif",serif' font-size="22.8" font-weight="bold">Fig.3</text><text x="101.5" y="1013.2" textLength="82.1" lengthAdjust="spacingAndGlyphs" font-family='"Liberation Serif",serif' font-size="22.8">Electron</text><text x="189.3" y="1013.2" textLength="130.2" lengthAdjust="spacingAndGlyphs" font-family='"Liberation Serif",serif' font-size="22.8">backscattered</text><text x="325.3" y="1013.2" textLength="101.8" lengthAdjust="spacingAndGlyphs" font-family='"Liberation Serif",serif' font-size="22.8">diffraction</text><text x="432.8" y="1013.2" textLength="79.2" lengthAdjust="spacingAndGlyphs" font-family='"Liberation Serif",serif' font-size="22.8">analysis</text><text x="517.8" y="1013.2" textLength="31.8" lengthAdjust="spacingAndGlyphs" font-family='"Liberation Serif",serif' font-size="22.8">and</text><text x="553.0" y="1013.2" textLength="14.1" lengthAdjust="spacingAndGlyphs" font-family='"Liberation Serif",serif' font-size="22.8">α</text><text x="576.7" y="1013.2" textLength="72.5" lengthAdjust="spacingAndGlyphs" font-family='"Liberation Serif",serif' font-size="22.8">lamella</text><text x="654.8" y="1013.2" textLength="36.8" lengthAdjust="spacingAndGlyphs" font-family='"Liberation Serif",serif' font-size="22.8">size</text><text x="698.9" y="1013.2" textLength="18.2" lengthAdjust="spacingAndGlyphs" font-family='"Liberation Serif",serif' font-size="22.8">of</text><text x="724.4" y="1013.2" textLength="21.6" lengthAdjust="spacingAndGlyphs" font-family='"Liberation Serif",serif' font-size="22.8">Ti</text><text x="751.6" y="1013.2" textLength="58.9" lengthAdjust="spacingAndGlyphs" font-family='"Liberation Serif",serif' font-size="22.8">alloys</text><text x="816.0" y="1013.2" textLength="35.2" lengthAdjust="spacingAndGlyphs" font-family='"Liberation Serif",serif' font-size="22.8">and</text><text x="856.8" y="1013.2" textLength="60.6" lengthAdjust="spacingAndGlyphs" font-family='"Liberation Serif",serif' font-size="22.8">TMCs</text><text x="923.0" y="1013.2" textLength="47.0" lengthAdjust="spacingAndGlyphs" font-family='"Liberation Serif",serif' font-size="22.8">with</text><text x="973.8" y="1013.2" textLength="30.0" lengthAdjust="spacingAndGlyphs" font-family='"Liberation Serif",serif' font-size="22.8">the</text><text x="1009.8" y="1013.2" textLength="81.8" lengthAdjust="spacingAndGlyphs" font-family='"Liberation Serif",serif' font-size="22.8">different</text><text x="1097.6" y="1013.2" textLength="48.7" lengthAdjust="spacingAndGlyphs" font-family='"Liberation Serif",serif' font-size="22.8">mass</text><text x="1152.3" y="1013.2" textLength="77.4" lengthAdjust="spacingAndGlyphs" font-family='"Liberation Serif",serif' font-size="22.8">fraction</text><text x="1234.3" y="1013.2" textLength="17.0" lengthAdjust="spacingAndGlyphs" font-family='"Liberation Serif",serif' font-size="22.8">of</text><text x="1255.9" y="1013.2" textLength="41.5" lengthAdjust="spacingAndGlyphs" font-family='"Liberation Serif",serif' font-size="22.8">TiB</text><text x="1297.6" y="1018.0" textLength="8.4" lengthAdjust="spacingAndGlyphs" font-family='"Liberation Serif",serif' font-size="14.5">2</text><text x="1306.3" y="1002.7" textLength="24.2" lengthAdjust="spacingAndGlyphs" font-family='"Liberation Serif",serif' font-size="14.5">[56]</text><text x="1332.2" y="1013.2" textLength="4.4" lengthAdjust="spacingAndGlyphs" font-family='"Liberation Serif",serif' font-size="22.8">:</text><text x="26.5" y="1053.6" textLength="26.0" lengthAdjust="spacingAndGlyphs" font-family='"Liberation Serif",serif' font-size="22.8">(a)</text><text x="58.9" y="1053.6" textLength="115.9" lengthAdjust="spacingAndGlyphs" font-family='"Liberation Serif",serif' font-size="22.8">Ti–6Al–4V;</text><text x="182.4" y="1053.6" textLength="26.9" lengthAdjust="spacingAndGlyphs" font-family='"Liberation Serif",serif' font-size="22.8">(b)</text><text x="216.1" y="1053.6" textLength="98.6" lengthAdjust="spacingAndGlyphs" font-family='"Liberation Serif",serif' font-size="22.8">0.16%TiB</text><text x="324.1" y="1053.6" textLength="5.5" lengthAdjust="spacingAndGlyphs" font-family='"Liberation Serif",serif' font-size="22.8">;</text><text x="336.5" y="1053.6" textLength="26.0" lengthAdjust="spacingAndGlyphs" font-family='"Liberation Serif",serif' font-size="22.8">(c)</text><text x="369.4" y="1053.6" textLength="96.6" lengthAdjust="spacingAndGlyphs" font-family='"Liberation Serif",serif' font-size="22.8">1.61%TiB</text><text x="476.9" y="1053.6" textLength="5.2" lengthAdjust="spacingAndGlyphs" font-family='"Liberation Serif",serif' font-size="22.8">;</text><text x="489.0" y="1053.6" textLength="25.6" lengthAdjust="spacingAndGlyphs" font-family='"Liberation Serif",serif' font-size="22.8">(d)</text><text x="522.4" y="1053.6" textLength="96.4" lengthAdjust="spacingAndGlyphs" font-family='"Liberation Serif",serif' font-size="22.8">3.22%TiB</text><text x="314.4" y="1058.3999999999999" textLength="8.2" lengthAdjust="spacingAndGlyphs" font-family='"Liberation Serif",serif' font-size="14.5">2</text><text x="466.4" y="1058.3999999999999" textLength="10.2" lengthAdjust="spacingAndGlyphs" font-family='"Liberation Serif",serif' font-size="14.5">2</text><text x="619.1" y="1058.3999999999999" textLength="11.8" lengthAdjust="spacingAndGlyphs" font-family='"Liberation Serif",serif' font-size="14.5">2</text></g>
</svg>

</body></html>
